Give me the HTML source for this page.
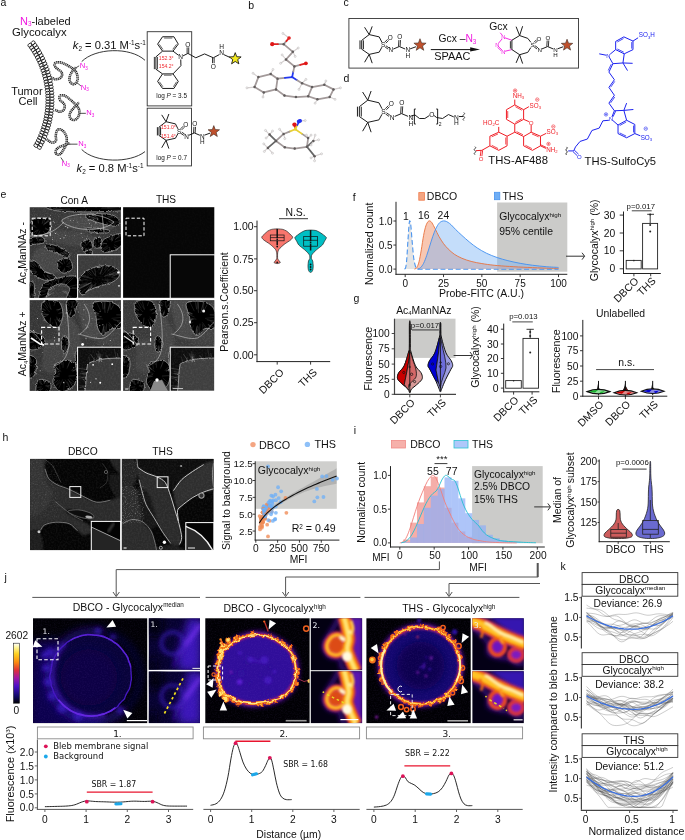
<!DOCTYPE html>
<html lang="en"><head><meta charset="utf-8"><title>Figure</title>
<style>
html,body{margin:0;padding:0;background:#fff;}
#fig{position:relative;width:685px;height:840px;overflow:hidden;background:#fff;}
svg{display:block;font-family:'Liberation Sans', sans-serif;}
text{fill:#111;}
</style></head><body>
<div id="fig"><svg width="685" height="840" viewBox="0 0 685 840">
<defs>
<filter id="mb" x="-5%" y="-5%" width="110%" height="110%"><feGaussianBlur stdDeviation="0.35"/></filter>
<filter id="nz" x="0" y="0" width="100%" height="100%"><feTurbulence type="fractalNoise" baseFrequency="0.55" numOctaves="2" seed="3" result="t"/><feColorMatrix in="t" type="matrix" values="0 0 0 0 1  0 0 0 0 1  0 0 0 0 1  1.6 0 0 0 -0.55"/></filter>
<filter id="nz2" x="0" y="0" width="100%" height="100%"><feTurbulence type="fractalNoise" baseFrequency="0.9" numOctaves="1" seed="8" result="t"/><feColorMatrix in="t" type="matrix" values="0 0 0 0 1  0 0 0 0 1  0 0 0 0 1  2.4 0 0 0 -1.25"/></filter>
<filter id="wobe" x="-10%" y="-10%" width="120%" height="120%"><feTurbulence type="fractalNoise" baseFrequency="0.3" numOctaves="2" seed="7" result="n"/><feDisplacementMap in="SourceGraphic" in2="n" scale="2.8" xChannelSelector="R" yChannelSelector="G"/><feGaussianBlur stdDeviation="0.55"/></filter>
<filter id="e05" x="-10%" y="-10%" width="120%" height="120%"><feGaussianBlur stdDeviation="0.5"/></filter>
<filter id="e1" x="-10%" y="-10%" width="120%" height="120%"><feGaussianBlur stdDeviation="0.9"/></filter>
<clipPath id="ce1"><rect x="29.7" y="207.2" width="91.2" height="90.6"/></clipPath>
<clipPath id="ce1i"><rect x="77.6" y="254.8" width="43.3" height="43"/></clipPath>
<clipPath id="ce3"><rect x="29.7" y="300.1" width="91.2" height="90.8"/></clipPath>
<clipPath id="ce3i"><rect x="77.6" y="347.2" width="43.3" height="43.7"/></clipPath>
<clipPath id="ce4"><rect x="123.1" y="300.1" width="91.2" height="90.8"/></clipPath>
<clipPath id="ce4i"><rect x="170.2" y="347.2" width="44.1" height="43.7"/></clipPath>
<clipPath id="ch1"><rect x="30.1" y="458.9" width="90.1" height="91.2"/></clipPath>
<clipPath id="ch2"><rect x="121.9" y="458.9" width="91.6" height="91.2"/></clipPath>
<linearGradient id="fire" x1="0" y1="1" x2="0" y2="0">
<stop offset="0" stop-color="#000004"/><stop offset="0.12" stop-color="#120a6a"/><stop offset="0.28" stop-color="#4a10c8"/><stop offset="0.42" stop-color="#a018a8"/><stop offset="0.55" stop-color="#e0303a"/><stop offset="0.68" stop-color="#fb8a10"/><stop offset="0.82" stop-color="#fdd020"/><stop offset="0.93" stop-color="#fff59a"/><stop offset="1" stop-color="#ffffff"/>
</linearGradient>
<filter id="b1" x="-20%" y="-20%" width="140%" height="140%"><feGaussianBlur stdDeviation="1"/></filter>
<filter id="b15" x="-20%" y="-20%" width="140%" height="140%"><feGaussianBlur stdDeviation="1.5"/></filter>
<filter id="b2" x="-20%" y="-20%" width="140%" height="140%"><feGaussianBlur stdDeviation="2.2"/></filter>
<filter id="b4" x="-30%" y="-30%" width="160%" height="160%"><feGaussianBlur stdDeviation="4.5"/></filter>
<filter id="b05" x="-20%" y="-20%" width="140%" height="140%"><feGaussianBlur stdDeviation="0.55"/></filter>
<filter id="wob" x="-10%" y="-10%" width="120%" height="120%"><feTurbulence type="fractalNoise" baseFrequency="0.17" numOctaves="2" seed="4" result="n"/><feDisplacementMap in="SourceGraphic" in2="n" scale="5" xChannelSelector="R" yChannelSelector="G"/><feGaussianBlur stdDeviation="0.45"/></filter>
<filter id="wob2" x="-10%" y="-10%" width="120%" height="120%"><feTurbulence type="fractalNoise" baseFrequency="0.2" numOctaves="2" seed="11" result="n"/><feDisplacementMap in="SourceGraphic" in2="n" scale="4" xChannelSelector="R" yChannelSelector="G"/><feGaussianBlur stdDeviation="0.45"/></filter>
<filter id="grain" x="0" y="0" width="100%" height="100%"><feTurbulence type="fractalNoise" baseFrequency="0.7" numOctaves="2" seed="2" result="t"/><feColorMatrix in="t" type="matrix" values="0 0 0 0 0.45  0 0 0 0 0.2  0 0 0 0 0.95  1.5 0 0 0 -0.6"/><feComposite in2="SourceGraphic" operator="in"/></filter>
<clipPath id="cj1"><rect x="33" y="618.3" width="114.2" height="104.8"/></clipPath>
<clipPath id="cj1a"><rect x="148.8" y="618.3" width="51.2" height="51.5"/></clipPath>
<clipPath id="cj1b"><rect x="148.8" y="671.5" width="51.2" height="51.6"/></clipPath>
<clipPath id="cj2"><rect x="205.3" y="618.3" width="104.3" height="104.8"/></clipPath>
<clipPath id="cj2a"><rect x="310.8" y="618.3" width="51.3" height="51.5"/></clipPath>
<clipPath id="cj2b"><rect x="310.8" y="671.2" width="51.3" height="51.9"/></clipPath>
<clipPath id="cj3"><rect x="366.4" y="618.3" width="104.3" height="104.8"/></clipPath>
<clipPath id="cj3a"><rect x="472.4" y="618.3" width="51.4" height="51.5"/></clipPath>
<clipPath id="cj3b"><rect x="472.4" y="671.2" width="51.4" height="51.9"/></clipPath>
</defs>
<g id="p_a">
<text x="0.6" y="5.6" font-size="10.5">a</text>
<text x="20" y="24.6" font-size="11" style="fill:#F018E0">N<tspan dy="1.8" font-size="6.4">3</tspan><tspan dy="-1.8" style="fill:#111">-labeled</tspan></text>
<text x="12" y="36" font-size="11.3">Glycocalyx</text>
<text x="11.2" y="95.2" font-size="11">Tumor</text>
<text x="18.6" y="104.6" font-size="11">Cell</text>
<ellipse cx="29.89" cy="45.19" rx="2.1" ry="1.75" fill="none" stroke="#111" stroke-width="0.75" transform="rotate(-36.48 29.89 45.19)"/>
<ellipse cx="33.11" cy="42.81" rx="2.1" ry="1.75" fill="none" stroke="#111" stroke-width="0.75" transform="rotate(-36.48 33.11 42.81)"/>
<ellipse cx="31.56" cy="47.53" rx="2.1" ry="1.75" fill="none" stroke="#111" stroke-width="0.75" transform="rotate(-34.7 31.56 47.53)"/>
<ellipse cx="34.85" cy="45.25" rx="2.1" ry="1.75" fill="none" stroke="#111" stroke-width="0.75" transform="rotate(-34.7 34.85 45.25)"/>
<ellipse cx="33.16" cy="49.91" rx="2.1" ry="1.75" fill="none" stroke="#111" stroke-width="0.75" transform="rotate(-32.91 33.16 49.91)"/>
<ellipse cx="36.52" cy="47.74" rx="2.1" ry="1.75" fill="none" stroke="#111" stroke-width="0.75" transform="rotate(-32.91 36.52 47.74)"/>
<ellipse cx="34.69" cy="52.35" rx="2.1" ry="1.75" fill="none" stroke="#111" stroke-width="0.75" transform="rotate(-31.12 34.69 52.35)"/>
<ellipse cx="38.11" cy="50.28" rx="2.1" ry="1.75" fill="none" stroke="#111" stroke-width="0.75" transform="rotate(-31.12 38.11 50.28)"/>
<ellipse cx="36.13" cy="54.83" rx="2.1" ry="1.75" fill="none" stroke="#111" stroke-width="0.75" transform="rotate(-29.33 36.13 54.83)"/>
<ellipse cx="39.62" cy="52.87" rx="2.1" ry="1.75" fill="none" stroke="#111" stroke-width="0.75" transform="rotate(-29.33 39.62 52.87)"/>
<ellipse cx="37.5" cy="57.36" rx="2.1" ry="1.75" fill="none" stroke="#111" stroke-width="0.75" transform="rotate(-27.54 37.5 57.36)"/>
<ellipse cx="41.05" cy="55.51" rx="2.1" ry="1.75" fill="none" stroke="#111" stroke-width="0.75" transform="rotate(-27.54 41.05 55.51)"/>
<ellipse cx="38.79" cy="59.93" rx="2.1" ry="1.75" fill="none" stroke="#111" stroke-width="0.75" transform="rotate(-25.76 38.79 59.93)"/>
<ellipse cx="42.39" cy="58.19" rx="2.1" ry="1.75" fill="none" stroke="#111" stroke-width="0.75" transform="rotate(-25.76 42.39 58.19)"/>
<ellipse cx="40" cy="62.53" rx="2.1" ry="1.75" fill="none" stroke="#111" stroke-width="0.75" transform="rotate(-23.97 40 62.53)"/>
<ellipse cx="43.65" cy="60.91" rx="2.1" ry="1.75" fill="none" stroke="#111" stroke-width="0.75" transform="rotate(-23.97 43.65 60.91)"/>
<ellipse cx="41.12" cy="65.18" rx="2.1" ry="1.75" fill="none" stroke="#111" stroke-width="0.75" transform="rotate(-22.18 41.12 65.18)"/>
<ellipse cx="44.83" cy="63.67" rx="2.1" ry="1.75" fill="none" stroke="#111" stroke-width="0.75" transform="rotate(-22.18 44.83 63.67)"/>
<ellipse cx="42.17" cy="67.85" rx="2.1" ry="1.75" fill="none" stroke="#111" stroke-width="0.75" transform="rotate(-20.39 42.17 67.85)"/>
<ellipse cx="45.91" cy="66.46" rx="2.1" ry="1.75" fill="none" stroke="#111" stroke-width="0.75" transform="rotate(-20.39 45.91 66.46)"/>
<ellipse cx="43.12" cy="70.56" rx="2.1" ry="1.75" fill="none" stroke="#111" stroke-width="0.75" transform="rotate(-18.6 43.12 70.56)"/>
<ellipse cx="46.92" cy="69.28" rx="2.1" ry="1.75" fill="none" stroke="#111" stroke-width="0.75" transform="rotate(-18.6 46.92 69.28)"/>
<ellipse cx="44" cy="73.3" rx="2.1" ry="1.75" fill="none" stroke="#111" stroke-width="0.75" transform="rotate(-16.82 44 73.3)"/>
<ellipse cx="47.83" cy="72.14" rx="2.1" ry="1.75" fill="none" stroke="#111" stroke-width="0.75" transform="rotate(-16.82 47.83 72.14)"/>
<ellipse cx="44.79" cy="76.06" rx="2.1" ry="1.75" fill="none" stroke="#111" stroke-width="0.75" transform="rotate(-15.03 44.79 76.06)"/>
<ellipse cx="48.65" cy="75.02" rx="2.1" ry="1.75" fill="none" stroke="#111" stroke-width="0.75" transform="rotate(-15.03 48.65 75.02)"/>
<ellipse cx="45.49" cy="78.85" rx="2.1" ry="1.75" fill="none" stroke="#111" stroke-width="0.75" transform="rotate(-13.24 45.49 78.85)"/>
<ellipse cx="49.38" cy="77.93" rx="2.1" ry="1.75" fill="none" stroke="#111" stroke-width="0.75" transform="rotate(-13.24 49.38 77.93)"/>
<ellipse cx="46.1" cy="81.65" rx="2.1" ry="1.75" fill="none" stroke="#111" stroke-width="0.75" transform="rotate(-11.45 46.1 81.65)"/>
<ellipse cx="50.02" cy="80.86" rx="2.1" ry="1.75" fill="none" stroke="#111" stroke-width="0.75" transform="rotate(-11.45 50.02 80.86)"/>
<ellipse cx="46.63" cy="84.48" rx="2.1" ry="1.75" fill="none" stroke="#111" stroke-width="0.75" transform="rotate(-9.66 46.63 84.48)"/>
<ellipse cx="50.57" cy="83.81" rx="2.1" ry="1.75" fill="none" stroke="#111" stroke-width="0.75" transform="rotate(-9.66 50.57 83.81)"/>
<ellipse cx="47.07" cy="87.32" rx="2.1" ry="1.75" fill="none" stroke="#111" stroke-width="0.75" transform="rotate(-7.88 47.07 87.32)"/>
<ellipse cx="51.03" cy="86.77" rx="2.1" ry="1.75" fill="none" stroke="#111" stroke-width="0.75" transform="rotate(-7.88 51.03 86.77)"/>
<ellipse cx="47.42" cy="90.17" rx="2.1" ry="1.75" fill="none" stroke="#111" stroke-width="0.75" transform="rotate(-6.09 47.42 90.17)"/>
<ellipse cx="51.39" cy="89.74" rx="2.1" ry="1.75" fill="none" stroke="#111" stroke-width="0.75" transform="rotate(-6.09 51.39 89.74)"/>
<ellipse cx="47.68" cy="93.03" rx="2.1" ry="1.75" fill="none" stroke="#111" stroke-width="0.75" transform="rotate(-4.3 47.68 93.03)"/>
<ellipse cx="51.66" cy="92.73" rx="2.1" ry="1.75" fill="none" stroke="#111" stroke-width="0.75" transform="rotate(-4.3 51.66 92.73)"/>
<ellipse cx="47.85" cy="95.9" rx="2.1" ry="1.75" fill="none" stroke="#111" stroke-width="0.75" transform="rotate(-2.51 47.85 95.9)"/>
<ellipse cx="51.84" cy="95.72" rx="2.1" ry="1.75" fill="none" stroke="#111" stroke-width="0.75" transform="rotate(-2.51 51.84 95.72)"/>
<ellipse cx="47.93" cy="98.77" rx="2.1" ry="1.75" fill="none" stroke="#111" stroke-width="0.75" transform="rotate(-0.72 47.93 98.77)"/>
<ellipse cx="51.93" cy="98.72" rx="2.1" ry="1.75" fill="none" stroke="#111" stroke-width="0.75" transform="rotate(-0.72 51.93 98.72)"/>
<ellipse cx="47.92" cy="101.64" rx="2.1" ry="1.75" fill="none" stroke="#111" stroke-width="0.75" transform="rotate(1.06 47.92 101.64)"/>
<ellipse cx="51.92" cy="101.72" rx="2.1" ry="1.75" fill="none" stroke="#111" stroke-width="0.75" transform="rotate(1.06 51.92 101.72)"/>
<ellipse cx="47.82" cy="104.51" rx="2.1" ry="1.75" fill="none" stroke="#111" stroke-width="0.75" transform="rotate(2.85 47.82 104.51)"/>
<ellipse cx="51.82" cy="104.71" rx="2.1" ry="1.75" fill="none" stroke="#111" stroke-width="0.75" transform="rotate(2.85 51.82 104.71)"/>
<ellipse cx="47.63" cy="107.38" rx="2.1" ry="1.75" fill="none" stroke="#111" stroke-width="0.75" transform="rotate(4.64 47.63 107.38)"/>
<ellipse cx="51.62" cy="107.7" rx="2.1" ry="1.75" fill="none" stroke="#111" stroke-width="0.75" transform="rotate(4.64 51.62 107.7)"/>
<ellipse cx="47.36" cy="110.24" rx="2.1" ry="1.75" fill="none" stroke="#111" stroke-width="0.75" transform="rotate(6.43 47.36 110.24)"/>
<ellipse cx="51.33" cy="110.69" rx="2.1" ry="1.75" fill="none" stroke="#111" stroke-width="0.75" transform="rotate(6.43 51.33 110.69)"/>
<ellipse cx="46.99" cy="113.09" rx="2.1" ry="1.75" fill="none" stroke="#111" stroke-width="0.75" transform="rotate(8.22 46.99 113.09)"/>
<ellipse cx="50.95" cy="113.66" rx="2.1" ry="1.75" fill="none" stroke="#111" stroke-width="0.75" transform="rotate(8.22 50.95 113.66)"/>
<ellipse cx="46.54" cy="115.93" rx="2.1" ry="1.75" fill="none" stroke="#111" stroke-width="0.75" transform="rotate(10 46.54 115.93)"/>
<ellipse cx="50.47" cy="116.62" rx="2.1" ry="1.75" fill="none" stroke="#111" stroke-width="0.75" transform="rotate(10 50.47 116.62)"/>
<ellipse cx="45.99" cy="118.75" rx="2.1" ry="1.75" fill="none" stroke="#111" stroke-width="0.75" transform="rotate(11.79 45.99 118.75)"/>
<ellipse cx="49.91" cy="119.57" rx="2.1" ry="1.75" fill="none" stroke="#111" stroke-width="0.75" transform="rotate(11.79 49.91 119.57)"/>
<ellipse cx="45.36" cy="121.55" rx="2.1" ry="1.75" fill="none" stroke="#111" stroke-width="0.75" transform="rotate(13.58 45.36 121.55)"/>
<ellipse cx="49.25" cy="122.49" rx="2.1" ry="1.75" fill="none" stroke="#111" stroke-width="0.75" transform="rotate(13.58 49.25 122.49)"/>
<ellipse cx="44.64" cy="124.33" rx="2.1" ry="1.75" fill="none" stroke="#111" stroke-width="0.75" transform="rotate(15.37 44.64 124.33)"/>
<ellipse cx="48.5" cy="125.39" rx="2.1" ry="1.75" fill="none" stroke="#111" stroke-width="0.75" transform="rotate(15.37 48.5 125.39)"/>
<ellipse cx="43.84" cy="127.09" rx="2.1" ry="1.75" fill="none" stroke="#111" stroke-width="0.75" transform="rotate(17.16 43.84 127.09)"/>
<ellipse cx="47.66" cy="128.27" rx="2.1" ry="1.75" fill="none" stroke="#111" stroke-width="0.75" transform="rotate(17.16 47.66 128.27)"/>
<ellipse cx="42.95" cy="129.82" rx="2.1" ry="1.75" fill="none" stroke="#111" stroke-width="0.75" transform="rotate(18.94 42.95 129.82)"/>
<ellipse cx="46.73" cy="131.12" rx="2.1" ry="1.75" fill="none" stroke="#111" stroke-width="0.75" transform="rotate(18.94 46.73 131.12)"/>
<ellipse cx="41.97" cy="132.52" rx="2.1" ry="1.75" fill="none" stroke="#111" stroke-width="0.75" transform="rotate(20.73 41.97 132.52)"/>
<ellipse cx="45.71" cy="133.94" rx="2.1" ry="1.75" fill="none" stroke="#111" stroke-width="0.75" transform="rotate(20.73 45.71 133.94)"/>
<ellipse cx="40.91" cy="135.2" rx="2.1" ry="1.75" fill="none" stroke="#111" stroke-width="0.75" transform="rotate(22.52 40.91 135.2)"/>
<ellipse cx="44.61" cy="136.73" rx="2.1" ry="1.75" fill="none" stroke="#111" stroke-width="0.75" transform="rotate(22.52 44.61 136.73)"/>
<ellipse cx="39.77" cy="137.83" rx="2.1" ry="1.75" fill="none" stroke="#111" stroke-width="0.75" transform="rotate(24.31 39.77 137.83)"/>
<ellipse cx="43.42" cy="139.48" rx="2.1" ry="1.75" fill="none" stroke="#111" stroke-width="0.75" transform="rotate(24.31 43.42 139.48)"/>
<ellipse cx="38.55" cy="140.43" rx="2.1" ry="1.75" fill="none" stroke="#111" stroke-width="0.75" transform="rotate(26.1 38.55 140.43)"/>
<ellipse cx="42.14" cy="142.19" rx="2.1" ry="1.75" fill="none" stroke="#111" stroke-width="0.75" transform="rotate(26.1 42.14 142.19)"/>
<ellipse cx="37.25" cy="142.99" rx="2.1" ry="1.75" fill="none" stroke="#111" stroke-width="0.75" transform="rotate(27.88 37.25 142.99)"/>
<ellipse cx="40.78" cy="144.86" rx="2.1" ry="1.75" fill="none" stroke="#111" stroke-width="0.75" transform="rotate(27.88 40.78 144.86)"/>
<ellipse cx="35.86" cy="145.51" rx="2.1" ry="1.75" fill="none" stroke="#111" stroke-width="0.75" transform="rotate(29.67 35.86 145.51)"/>
<ellipse cx="39.34" cy="147.49" rx="2.1" ry="1.75" fill="none" stroke="#111" stroke-width="0.75" transform="rotate(29.67 39.34 147.49)"/>
<path d="M50.83 77.5 C51.83 77.83 53.83 79.17 55.83 79.17 C57.83 79.17 59.67 78.83 60.83 77.5 C62 76.17 62.67 74.5 61.67 72.5 C60.67 70.5 57.17 69.33 55.83 67.5 C54.5 65.67 54 64.33 55 63.33 C56 62.33 58.17 62 60.83 62.5 C63.5 63 65.83 64.5 68.33 65.83 C70.83 67.17 71.67 67.67 73.33 69.17 C75 70.67 75.83 71.17 76.67 73.33 C77.5 75.5 78 77.83 77.5 80 C77 82.17 75.67 83.83 74.17 84.17 C72.67 84.5 70.83 83.33 70 81.67 C69.17 80 69.33 78.17 70 75.83 C70.67 73.5 72.17 71.67 73.33 70 C74.5 68.33 75.33 68 75.83 67.5" fill="none" stroke="#1a1a1a" stroke-width="2.5" stroke-dasharray="1.3 0.55" stroke-linecap="butt"/>
<path d="M50.83 77.5 C51.83 77.83 53.83 79.17 55.83 79.17 C57.83 79.17 59.67 78.83 60.83 77.5 C62 76.17 62.67 74.5 61.67 72.5 C60.67 70.5 57.17 69.33 55.83 67.5 C54.5 65.67 54 64.33 55 63.33 C56 62.33 58.17 62 60.83 62.5 C63.5 63 65.83 64.5 68.33 65.83 C70.83 67.17 71.67 67.67 73.33 69.17 C75 70.67 75.83 71.17 76.67 73.33 C77.5 75.5 78 77.83 77.5 80 C77 82.17 75.67 83.83 74.17 84.17 C72.67 84.5 70.83 83.33 70 81.67 C69.17 80 69.33 78.17 70 75.83 C70.67 73.5 72.17 71.67 73.33 70 C74.5 68.33 75.33 68 75.83 67.5" fill="none" stroke="#fff" stroke-width="0.5" stroke-opacity="0.8"/>
<path d="M55 110 C56 110.33 58.17 111.83 60 111.67 C61.83 111.5 63.33 110.67 64.17 109.17 C65 107.67 65 106 64.17 104.17 C63.33 102.33 60.83 101.67 60 100 C59.17 98.33 59 96.67 60 95.83 C61 95 62.67 94.83 65 95.83 C67.33 96.83 69.5 99 71.67 100.83 C73.83 102.67 74.33 103.17 75.83 105 C77.33 106.83 78.67 107.67 79.17 110 C79.67 112.33 79.33 114.67 78.33 116.67 C77.33 118.67 75.83 119.83 74.17 120 C72.5 120.17 70.67 119.17 70 117.5 C69.33 115.83 69.5 114.17 70.83 111.67 C72.17 109.17 75 106.83 76.67 105 C78.33 103.17 78.67 103 79.17 102.5" fill="none" stroke="#1a1a1a" stroke-width="2.5" stroke-dasharray="1.3 0.55" stroke-linecap="butt"/>
<path d="M55 110 C56 110.33 58.17 111.83 60 111.67 C61.83 111.5 63.33 110.67 64.17 109.17 C65 107.67 65 106 64.17 104.17 C63.33 102.33 60.83 101.67 60 100 C59.17 98.33 59 96.67 60 95.83 C61 95 62.67 94.83 65 95.83 C67.33 96.83 69.5 99 71.67 100.83 C73.83 102.67 74.33 103.17 75.83 105 C77.33 106.83 78.67 107.67 79.17 110 C79.67 112.33 79.33 114.67 78.33 116.67 C77.33 118.67 75.83 119.83 74.17 120 C72.5 120.17 70.67 119.17 70 117.5 C69.33 115.83 69.5 114.17 70.83 111.67 C72.17 109.17 75 106.83 76.67 105 C78.33 103.17 78.67 103 79.17 102.5" fill="none" stroke="#fff" stroke-width="0.5" stroke-opacity="0.8"/>
<path d="M46.67 139.17 C47.67 139.83 49.83 142.17 51.67 142.5 C53.5 142.83 55 142.33 55.83 140.83 C56.67 139.33 55.5 137.17 55.83 135 C56.17 132.83 56.33 131 57.5 130 C58.67 129 60 129 61.67 130 C63.33 131 64.83 132.5 65.83 135 C66.83 137.5 67 139.83 66.67 142.5 C66.33 145.17 65.5 146 64.17 148.33 C62.83 150.67 61.67 153.17 60 154.17 C58.33 155.17 56.33 154.5 55.83 153.33 C55.33 152.17 55.33 150.17 57.5 148.33 C59.67 146.5 64.17 145.17 66.67 144.17 C69.17 143.17 69.33 143.5 70 143.33" fill="none" stroke="#1a1a1a" stroke-width="2.5" stroke-dasharray="1.3 0.55" stroke-linecap="butt"/>
<path d="M46.67 139.17 C47.67 139.83 49.83 142.17 51.67 142.5 C53.5 142.83 55 142.33 55.83 140.83 C56.67 139.33 55.5 137.17 55.83 135 C56.17 132.83 56.33 131 57.5 130 C58.67 129 60 129 61.67 130 C63.33 131 64.83 132.5 65.83 135 C66.83 137.5 67 139.83 66.67 142.5 C66.33 145.17 65.5 146 64.17 148.33 C62.83 150.67 61.67 153.17 60 154.17 C58.33 155.17 56.33 154.5 55.83 153.33 C55.33 152.17 55.33 150.17 57.5 148.33 C59.67 146.5 64.17 145.17 66.67 144.17 C69.17 143.17 69.33 143.5 70 143.33" fill="none" stroke="#fff" stroke-width="0.5" stroke-opacity="0.8"/>
<line x1="75" y1="68.33" x2="79.17" y2="65.83" stroke="#222" stroke-width="0.8"/>
<text x="79.67" y="68.33" font-size="7.6" style="fill:#F010E0">N<tspan dy="1.4" font-size="4.6">3</tspan></text>
<line x1="76.67" y1="82.5" x2="80.83" y2="85.83" stroke="#222" stroke-width="0.8"/>
<text x="80.83" y="90" font-size="7.6" style="fill:#F010E0">N<tspan dy="1.4" font-size="4.6">3</tspan></text>
<line x1="79.17" y1="113.33" x2="85.83" y2="113.33" stroke="#222" stroke-width="0.8"/>
<text x="86.33" y="115.33" font-size="7.6" style="fill:#F010E0">N<tspan dy="1.4" font-size="4.6">3</tspan></text>
<line x1="67.5" y1="144.17" x2="77.5" y2="144.17" stroke="#222" stroke-width="0.8"/>
<text x="78.33" y="146.17" font-size="7.6" style="fill:#F010E0">N<tspan dy="1.4" font-size="4.6">3</tspan></text>
<line x1="60.83" y1="157.5" x2="63.67" y2="161.67" stroke="#222" stroke-width="0.8"/>
<text x="61.67" y="165.83" font-size="7.6" style="fill:#F010E0">N<tspan dy="1.4" font-size="4.6">3</tspan></text>
<path d="M81.7 61.6 C95 48 130 46.5 145 60.3" fill="none" stroke="#222" stroke-width="0.9"/>
<path d="M81.7 149.5 C95 163 130 163.5 145 151.6" fill="none" stroke="#222" stroke-width="0.9"/>
<text x="72.8" y="49" font-size="11.2"><tspan font-style="italic">k</tspan><tspan dy="2" font-size="6.4">2</tspan><tspan dy="-2"> = 0.31 M</tspan><tspan dy="-3.6" font-size="6.4">-1</tspan><tspan dy="3.6">s</tspan><tspan dy="-3.6" font-size="6.4">-1</tspan></text>
<text x="76.6" y="171.8" font-size="11.2"><tspan font-style="italic">k</tspan><tspan dy="2" font-size="6.4">2</tspan><tspan dy="-2"> = 0.8 M</tspan><tspan dy="-3.6" font-size="6.4">-1</tspan><tspan dy="3.6">s</tspan><tspan dy="-3.6" font-size="6.4">-1</tspan></text>
<rect x="147.2" y="31.7" width="44.5" height="74.2" fill="none" stroke="#333" stroke-width="0.9"/>
<rect x="147.2" y="108.2" width="44.3" height="57.7" fill="none" stroke="#333" stroke-width="0.9"/>
<path d="M162.52 36.76 L173.91 36.76 L178.29 44.12 L173.03 51.13 L162.52 51.13 L157.61 44.12Z" fill="none" stroke="#111" stroke-width="0.95"/>
<line x1="164.11" y1="38.06" x2="172.31" y2="38.06" stroke="#222" stroke-width="0.7"/>
<line x1="176.51" y1="44.32" x2="172.73" y2="49.36" stroke="#222" stroke-width="0.7"/>
<line x1="162.9" y1="49.4" x2="159.37" y2="44.35" stroke="#222" stroke-width="0.7"/>
<path d="M162.52 73.9 L173.03 73.9 L178.29 81.43 L173.91 88.44 L162.52 88.44 L157.61 81.43Z" fill="none" stroke="#111" stroke-width="0.95"/>
<line x1="163.99" y1="75.2" x2="171.56" y2="75.2" stroke="#222" stroke-width="0.7"/>
<line x1="176.57" y1="81.73" x2="173.42" y2="86.77" stroke="#222" stroke-width="0.7"/>
<line x1="162.9" y1="86.71" x2="159.37" y2="81.67" stroke="#222" stroke-width="0.7"/>
<line x1="162.52" y1="51.13" x2="155.86" y2="56.91" stroke="#111" stroke-width="0.95"/>
<line x1="155.86" y1="69.17" x2="162.52" y2="73.9" stroke="#111" stroke-width="0.95"/>
<line x1="154.36" y1="56.91" x2="154.36" y2="69.17" stroke="#111" stroke-width="0.85"/>
<line x1="155.86" y1="56.91" x2="155.86" y2="69.17" stroke="#111" stroke-width="0.85"/>
<line x1="157.36" y1="56.91" x2="157.36" y2="69.17" stroke="#111" stroke-width="0.85"/>
<line x1="173.03" y1="51.13" x2="178.56" y2="55.31" stroke="#111" stroke-width="0.95"/>
<line x1="180.76" y1="59.51" x2="180.91" y2="65.67" stroke="#111" stroke-width="0.95"/>
<line x1="180.91" y1="65.67" x2="173.03" y2="73.9" stroke="#111" stroke-width="0.95"/>
<text x="180.56" y="59.31" font-size="6.6" text-anchor="middle">N</text>
<line x1="182.96" y1="55.91" x2="187.92" y2="53.4" stroke="#111" stroke-width="0.95"/>
<path d="M187.92 53.4 L195.81 57.78 L204.57 53.93 L213.33 57.78 L219.28 54.63" fill="none" stroke="#111" stroke-width="0.95"/>
<line x1="187.12" y1="53.4" x2="187.12" y2="47.4" stroke="#111" stroke-width="0.85"/>
<line x1="212.53" y1="57.78" x2="212.53" y2="63.18" stroke="#111" stroke-width="0.85"/>
<line x1="188.72" y1="53.4" x2="188.72" y2="47.4" stroke="#111" stroke-width="0.85"/>
<line x1="214.13" y1="57.78" x2="214.13" y2="63.18" stroke="#111" stroke-width="0.85"/>
<text x="187.92" y="46.92" font-size="6.6" text-anchor="middle">O</text>
<text x="213.33" y="68.64" font-size="6.6" text-anchor="middle">O</text>
<text x="221.56" y="55.15" font-size="6.6" text-anchor="middle">N</text>
<text x="221.56" y="49.37" font-size="6.6" text-anchor="middle">H</text>
<line x1="223.84" y1="54.63" x2="229.97" y2="57.43" stroke="#111" stroke-width="0.95"/>
<path d="M235.22 52.63 L236.75 56.73 L241.12 56.92 L237.7 59.64 L238.87 63.85 L235.22 61.44 L231.58 63.85 L232.75 59.64 L229.33 56.92 L233.69 56.73Z" fill="#F4EA1E" stroke="#111" stroke-width="0.85" stroke-linejoin="miter"/>
<text x="158.8" y="59.5" font-size="5.1" style="fill:#F0282E">152.3°</text>
<text x="158.8" y="67.7" font-size="5.1" style="fill:#F0282E">154.2°</text>
<text x="171.6" y="97.8" font-size="6.4" text-anchor="middle">log <tspan font-style="italic">P</tspan> = 3.5</text>
<line x1="175.44" y1="123.87" x2="166.04" y2="121.71" stroke="#111" stroke-width="0.95"/><line x1="166.04" y1="121.71" x2="161.72" y2="114.85" stroke="#111" stroke-width="0.95"/><line x1="166.04" y1="121.71" x2="168.86" y2="114" stroke="#111" stroke-width="0.95"/><line x1="166.04" y1="121.71" x2="158.99" y2="127.16" stroke="#111" stroke-width="0.95"/><line x1="158.99" y1="135.44" x2="166.04" y2="140.32" stroke="#111" stroke-width="0.95"/><line x1="166.04" y1="140.32" x2="161.72" y2="147.75" stroke="#111" stroke-width="0.95"/><line x1="166.04" y1="140.32" x2="168.86" y2="148.6" stroke="#111" stroke-width="0.95"/><line x1="166.04" y1="140.32" x2="175.44" y2="138.26" stroke="#111" stroke-width="0.95"/><line x1="175.44" y1="123.87" x2="178" y2="128.92" stroke="#111" stroke-width="0.95"/><line x1="175.44" y1="138.26" x2="178" y2="133.53" stroke="#111" stroke-width="0.95"/><line x1="157.39" y1="127.16" x2="157.39" y2="135.44" stroke="#111" stroke-width="0.95"/><line x1="158.99" y1="127.16" x2="158.99" y2="135.44" stroke="#111" stroke-width="0.95"/><line x1="160.59" y1="127.16" x2="160.59" y2="135.44" stroke="#111" stroke-width="0.95"/><line x1="181.7" y1="129.86" x2="184.34" y2="127.22" stroke="#111" stroke-width="0.85"/><line x1="180.64" y1="128.8" x2="183.28" y2="126.16" stroke="#111" stroke-width="0.85"/><line x1="180.95" y1="133.41" x2="183.84" y2="135.41" stroke="#111" stroke-width="0.85"/><line x1="181.8" y1="132.18" x2="184.69" y2="134.17" stroke="#111" stroke-width="0.85"/><line x1="188.65" y1="135.35" x2="194.33" y2="132.95" stroke="#111" stroke-width="0.95"/><line x1="193.53" y1="132.95" x2="193.91" y2="126.88" stroke="#111" stroke-width="0.85"/><line x1="195.13" y1="132.95" x2="195.51" y2="126.88" stroke="#111" stroke-width="0.85"/><line x1="194.33" y1="132.95" x2="199.86" y2="135.28" stroke="#111" stroke-width="0.95"/><text x="179.2" y="133.6" font-size="6.4" text-anchor="middle">S</text><text x="185.78" y="127.02" font-size="6.4" text-anchor="middle">O</text><text x="186.44" y="138.59" font-size="6.4" text-anchor="middle">N</text><text x="194.71" y="126.18" font-size="6.4" text-anchor="middle">O</text><text x="202.23" y="138.59" font-size="6.4" text-anchor="middle">N</text><text x="202.23" y="143.85" font-size="6.4" text-anchor="middle">H</text><line x1="204.49" y1="135.15" x2="210.03" y2="133.13" stroke="#111" stroke-width="0.95"/><path d="M213.79 125.61 L215.28 129.58 L219.51 129.77 L216.2 132.41 L217.33 136.5 L213.79 134.16 L210.26 136.5 L211.39 132.41 L208.07 129.77 L212.31 129.58Z" fill="#C0502C" stroke="#3a2a20" stroke-width="0.6" stroke-linejoin="miter"/>
<text x="161" y="129" font-size="5.1" style="fill:#F0282E">151.0°</text>
<text x="161" y="138.2" font-size="5.1" style="fill:#F0282E">151.4°</text>
<text x="171.6" y="159.8" font-size="6.4" text-anchor="middle">log <tspan font-style="italic">P</tspan> = 0.7</text>
</g>
<g id="p_bcd">
<text x="248.2" y="9.3" font-size="10.5">b</text>
<text x="343.6" y="5.6" font-size="10.5">c</text>
<text x="343.4" y="82.4" font-size="10.5">d</text>
<g filter="url(#mb)">
<line x1="258.39" y1="77.12" x2="270.66" y2="74.05" stroke="#a39a9a" stroke-width="1.75" stroke-linecap="round"/>
<line x1="270.66" y1="74.05" x2="277.55" y2="78.65" stroke="#a39a9a" stroke-width="1.75" stroke-linecap="round"/>
<line x1="277.55" y1="78.65" x2="276.02" y2="89.38" stroke="#a39a9a" stroke-width="1.75" stroke-linecap="round"/>
<line x1="276.02" y1="89.38" x2="263.76" y2="92.44" stroke="#a39a9a" stroke-width="1.75" stroke-linecap="round"/>
<line x1="263.76" y1="92.44" x2="254.56" y2="87.08" stroke="#a39a9a" stroke-width="1.75" stroke-linecap="round"/>
<line x1="254.56" y1="87.08" x2="258.39" y2="77.12" stroke="#a39a9a" stroke-width="1.75" stroke-linecap="round"/>
<line x1="308.21" y1="96.28" x2="312.04" y2="87.08" stroke="#a39a9a" stroke-width="1.75" stroke-linecap="round"/>
<line x1="312.04" y1="87.08" x2="324.3" y2="84.78" stroke="#a39a9a" stroke-width="1.75" stroke-linecap="round"/>
<line x1="324.3" y1="84.78" x2="333.5" y2="89.38" stroke="#a39a9a" stroke-width="1.75" stroke-linecap="round"/>
<line x1="333.5" y1="89.38" x2="329.67" y2="97.04" stroke="#a39a9a" stroke-width="1.75" stroke-linecap="round"/>
<line x1="329.67" y1="97.04" x2="317.41" y2="99.34" stroke="#a39a9a" stroke-width="1.75" stroke-linecap="round"/>
<line x1="317.41" y1="99.34" x2="308.21" y2="96.28" stroke="#a39a9a" stroke-width="1.75" stroke-linecap="round"/>
<line x1="276.02" y1="89.38" x2="284.45" y2="95.51" stroke="#a39a9a" stroke-width="1.75" stroke-linecap="round"/>
<line x1="284.45" y1="95.51" x2="295.95" y2="97.04" stroke="#a39a9a" stroke-width="1.75" stroke-linecap="round"/>
<line x1="295.95" y1="97.04" x2="308.21" y2="96.28" stroke="#a39a9a" stroke-width="1.75" stroke-linecap="round"/>
<line x1="277.55" y1="78.65" x2="284.83" y2="77.88" stroke="#a39a9a" stroke-width="1.75" stroke-linecap="round"/><line x1="284.83" y1="77.88" x2="292.12" y2="77.12" stroke="#2438F0" stroke-width="1.75" stroke-linecap="round"/>
<line x1="292.12" y1="77.12" x2="297.1" y2="80.18" stroke="#2438F0" stroke-width="1.75" stroke-linecap="round"/><line x1="297.1" y1="80.18" x2="302.08" y2="83.25" stroke="#a39a9a" stroke-width="1.75" stroke-linecap="round"/>
<line x1="302.08" y1="83.25" x2="312.04" y2="87.08" stroke="#a39a9a" stroke-width="1.75" stroke-linecap="round"/>
<line x1="292.12" y1="77.12" x2="293.26" y2="71.75" stroke="#2438F0" stroke-width="1.75" stroke-linecap="round"/><line x1="293.26" y1="71.75" x2="294.41" y2="66.39" stroke="#a39a9a" stroke-width="1.75" stroke-linecap="round"/>
<line x1="294.41" y1="66.39" x2="300.16" y2="64.85" stroke="#a39a9a" stroke-width="1.75" stroke-linecap="round"/><line x1="300.16" y1="64.85" x2="305.91" y2="63.32" stroke="#E02020" stroke-width="1.75" stroke-linecap="round"/>
<line x1="294.41" y1="66.39" x2="285.98" y2="59.49" stroke="#a39a9a" stroke-width="1.75" stroke-linecap="round"/>
<line x1="285.98" y1="59.49" x2="292.88" y2="51.82" stroke="#a39a9a" stroke-width="1.75" stroke-linecap="round"/>
<line x1="292.88" y1="51.82" x2="283.68" y2="44.16" stroke="#a39a9a" stroke-width="1.75" stroke-linecap="round"/>
<line x1="283.68" y1="44.16" x2="277.94" y2="44.16" stroke="#a39a9a" stroke-width="1.75" stroke-linecap="round"/><line x1="277.94" y1="44.16" x2="272.19" y2="44.16" stroke="#E02020" stroke-width="1.75" stroke-linecap="round"/>
<line x1="283.68" y1="44.16" x2="286.37" y2="41.09" stroke="#a39a9a" stroke-width="1.75" stroke-linecap="round"/><line x1="286.37" y1="41.09" x2="289.05" y2="38.03" stroke="#E02020" stroke-width="1.75" stroke-linecap="round"/>
<line x1="289.05" y1="38.03" x2="282.92" y2="33.43" stroke="#d4cfcf" stroke-width="1.1" stroke-linecap="round"/><circle cx="282.92" cy="33.43" r="1.05" fill="#f0eeee" stroke="#a8a4a4" stroke-width="0.35"/>
<line x1="258.39" y1="77.12" x2="253.03" y2="73.28" stroke="#d4cfcf" stroke-width="1.1" stroke-linecap="round"/><circle cx="253.03" cy="73.28" r="1.05" fill="#f0eeee" stroke="#a8a4a4" stroke-width="0.35"/>
<line x1="270.66" y1="74.05" x2="272.96" y2="69.45" stroke="#d4cfcf" stroke-width="1.1" stroke-linecap="round"/><circle cx="272.96" cy="69.45" r="1.05" fill="#f0eeee" stroke="#a8a4a4" stroke-width="0.35"/>
<line x1="254.56" y1="87.08" x2="246.9" y2="87.84" stroke="#d4cfcf" stroke-width="1.1" stroke-linecap="round"/><circle cx="246.9" cy="87.84" r="1.05" fill="#f0eeee" stroke="#a8a4a4" stroke-width="0.35"/>
<line x1="263.76" y1="92.44" x2="262.99" y2="97.04" stroke="#d4cfcf" stroke-width="1.1" stroke-linecap="round"/><circle cx="262.99" cy="97.04" r="1.05" fill="#f0eeee" stroke="#a8a4a4" stroke-width="0.35"/>
<line x1="324.3" y1="84.78" x2="325.84" y2="80.95" stroke="#d4cfcf" stroke-width="1.1" stroke-linecap="round"/><circle cx="325.84" cy="80.95" r="1.05" fill="#f0eeee" stroke="#a8a4a4" stroke-width="0.35"/>
<line x1="333.5" y1="89.38" x2="340.4" y2="87.84" stroke="#d4cfcf" stroke-width="1.1" stroke-linecap="round"/><circle cx="340.4" cy="87.84" r="1.05" fill="#f0eeee" stroke="#a8a4a4" stroke-width="0.35"/>
<line x1="329.67" y1="97.04" x2="335.03" y2="99.34" stroke="#d4cfcf" stroke-width="1.1" stroke-linecap="round"/><circle cx="335.03" cy="99.34" r="1.05" fill="#f0eeee" stroke="#a8a4a4" stroke-width="0.35"/>
<line x1="317.41" y1="99.34" x2="315.11" y2="103.17" stroke="#d4cfcf" stroke-width="1.1" stroke-linecap="round"/><circle cx="315.11" cy="103.17" r="1.05" fill="#f0eeee" stroke="#a8a4a4" stroke-width="0.35"/>
<line x1="302.08" y1="83.25" x2="305.91" y2="79.41" stroke="#d4cfcf" stroke-width="1.1" stroke-linecap="round"/><circle cx="305.91" cy="79.41" r="1.05" fill="#f0eeee" stroke="#a8a4a4" stroke-width="0.35"/>
<line x1="302.08" y1="83.25" x2="299.01" y2="89.38" stroke="#d4cfcf" stroke-width="1.1" stroke-linecap="round"/><circle cx="299.01" cy="89.38" r="1.05" fill="#f0eeee" stroke="#a8a4a4" stroke-width="0.35"/>
<line x1="285.98" y1="59.49" x2="280.62" y2="63.32" stroke="#d4cfcf" stroke-width="1.1" stroke-linecap="round"/><circle cx="280.62" cy="63.32" r="1.05" fill="#f0eeee" stroke="#a8a4a4" stroke-width="0.35"/>
<line x1="285.98" y1="59.49" x2="282.15" y2="54.89" stroke="#d4cfcf" stroke-width="1.1" stroke-linecap="round"/><circle cx="282.15" cy="54.89" r="1.05" fill="#f0eeee" stroke="#a8a4a4" stroke-width="0.35"/>
<line x1="292.88" y1="51.82" x2="298.25" y2="47.99" stroke="#d4cfcf" stroke-width="1.1" stroke-linecap="round"/><circle cx="298.25" cy="47.99" r="1.05" fill="#f0eeee" stroke="#a8a4a4" stroke-width="0.35"/>
<line x1="292.88" y1="51.82" x2="295.18" y2="56.42" stroke="#d4cfcf" stroke-width="1.1" stroke-linecap="round"/><circle cx="295.18" cy="56.42" r="1.05" fill="#f0eeee" stroke="#a8a4a4" stroke-width="0.35"/>
<circle cx="258.39" cy="77.12" r="1.25" fill="#605c5c"/>
<circle cx="270.66" cy="74.05" r="1.25" fill="#605c5c"/>
<circle cx="277.55" cy="78.65" r="1.25" fill="#605c5c"/>
<circle cx="276.02" cy="89.38" r="1.25" fill="#605c5c"/>
<circle cx="263.76" cy="92.44" r="1.25" fill="#605c5c"/>
<circle cx="254.56" cy="87.08" r="1.25" fill="#605c5c"/>
<circle cx="308.21" cy="96.28" r="1.25" fill="#605c5c"/>
<circle cx="312.04" cy="87.08" r="1.25" fill="#605c5c"/>
<circle cx="324.3" cy="84.78" r="1.25" fill="#605c5c"/>
<circle cx="333.5" cy="89.38" r="1.25" fill="#605c5c"/>
<circle cx="329.67" cy="97.04" r="1.25" fill="#605c5c"/>
<circle cx="317.41" cy="99.34" r="1.25" fill="#605c5c"/>
<circle cx="284.45" cy="95.51" r="1.25" fill="#605c5c"/>
<circle cx="295.95" cy="97.04" r="1.25" fill="#605c5c"/>
<circle cx="302.08" cy="83.25" r="1.25" fill="#605c5c"/>
<circle cx="294.41" cy="66.39" r="1.25" fill="#605c5c"/>
<circle cx="285.98" cy="59.49" r="1.25" fill="#605c5c"/>
<circle cx="292.88" cy="51.82" r="1.25" fill="#605c5c"/>
<circle cx="283.68" cy="44.16" r="1.25" fill="#605c5c"/>
<circle cx="272.19" cy="44.16" r="2.1" fill="#E01818"/>
<circle cx="305.91" cy="63.32" r="1.9" fill="#E01818"/>
<circle cx="289.05" cy="38.03" r="1.8" fill="#E42828"/>
<circle cx="292.12" cy="77.12" r="1.2" fill="#2438F0"/>
<line x1="295.29" y1="129.27" x2="289.45" y2="131.61" stroke="#E8D030" stroke-width="1.7" stroke-linecap="round"/><line x1="289.45" y1="131.61" x2="283.61" y2="133.94" stroke="#a39a9a" stroke-width="1.7" stroke-linecap="round"/>
<line x1="283.61" y1="133.94" x2="276.02" y2="140.95" stroke="#a39a9a" stroke-width="1.75" stroke-linecap="round"/>
<line x1="276.02" y1="140.95" x2="269.6" y2="134.53" stroke="#666" stroke-width="1.75" stroke-linecap="round"/>
<line x1="276.02" y1="140.95" x2="267.85" y2="147.96" stroke="#666" stroke-width="1.75" stroke-linecap="round"/>
<line x1="276.02" y1="140.95" x2="284.78" y2="147.37" stroke="#a39a9a" stroke-width="1.75" stroke-linecap="round"/>
<line x1="284.78" y1="147.37" x2="294.71" y2="148.54" stroke="#a39a9a" stroke-width="1.75" stroke-linecap="round"/>
<line x1="294.71" y1="148.54" x2="306.97" y2="146.79" stroke="#a39a9a" stroke-width="1.75" stroke-linecap="round"/>
<line x1="306.97" y1="146.79" x2="308.14" y2="138.03" stroke="#a39a9a" stroke-width="1.75" stroke-linecap="round"/>
<line x1="308.14" y1="138.03" x2="301.72" y2="133.65" stroke="#a39a9a" stroke-width="1.7" stroke-linecap="round"/><line x1="301.72" y1="133.65" x2="295.29" y2="129.27" stroke="#E8D030" stroke-width="1.7" stroke-linecap="round"/>
<line x1="306.97" y1="146.79" x2="314.56" y2="156.13" stroke="#666" stroke-width="1.75" stroke-linecap="round"/>
<line x1="306.97" y1="146.79" x2="313.39" y2="140.95" stroke="#666" stroke-width="1.75" stroke-linecap="round"/>
<line x1="295.29" y1="129.27" x2="294.88" y2="126.93" stroke="#E8D030" stroke-width="1.6" stroke-linecap="round"/><line x1="294.88" y1="126.93" x2="294.47" y2="124.6" stroke="#E02020" stroke-width="1.6" stroke-linecap="round"/>
<line x1="295.29" y1="129.27" x2="297.34" y2="125.18" stroke="#E8D030" stroke-width="1.6" stroke-linecap="round"/><line x1="297.34" y1="125.18" x2="299.38" y2="121.09" stroke="#2438F0" stroke-width="1.6" stroke-linecap="round"/>
<line x1="299.38" y1="121.09" x2="305.22" y2="120.51" stroke="#d4cfcf" stroke-width="1.1" stroke-linecap="round"/><circle cx="305.22" cy="120.51" r="1.05" fill="#f0eeee" stroke="#a8a4a4" stroke-width="0.35"/>
<line x1="269.6" y1="134.53" x2="265.51" y2="130.44" stroke="#d4cfcf" stroke-width="1.1" stroke-linecap="round"/><circle cx="265.51" cy="130.44" r="1.05" fill="#f0eeee" stroke="#a8a4a4" stroke-width="0.35"/>
<line x1="269.6" y1="134.53" x2="272.52" y2="131.02" stroke="#d4cfcf" stroke-width="1.1" stroke-linecap="round"/><circle cx="272.52" cy="131.02" r="1.05" fill="#f0eeee" stroke="#a8a4a4" stroke-width="0.35"/>
<line x1="269.6" y1="134.53" x2="266.09" y2="138.03" stroke="#d4cfcf" stroke-width="1.1" stroke-linecap="round"/><circle cx="266.09" cy="138.03" r="1.05" fill="#f0eeee" stroke="#a8a4a4" stroke-width="0.35"/>
<line x1="267.85" y1="147.96" x2="263.76" y2="143.87" stroke="#d4cfcf" stroke-width="1.1" stroke-linecap="round"/><circle cx="263.76" cy="143.87" r="1.05" fill="#f0eeee" stroke="#a8a4a4" stroke-width="0.35"/>
<line x1="267.85" y1="147.96" x2="264.34" y2="151.46" stroke="#d4cfcf" stroke-width="1.1" stroke-linecap="round"/><circle cx="264.34" cy="151.46" r="1.05" fill="#f0eeee" stroke="#a8a4a4" stroke-width="0.35"/>
<line x1="267.85" y1="147.96" x2="272.52" y2="153.21" stroke="#d4cfcf" stroke-width="1.1" stroke-linecap="round"/><circle cx="272.52" cy="153.21" r="1.05" fill="#f0eeee" stroke="#a8a4a4" stroke-width="0.35"/>
<line x1="314.56" y1="156.13" x2="321.57" y2="153.8" stroke="#d4cfcf" stroke-width="1.1" stroke-linecap="round"/><circle cx="321.57" cy="153.8" r="1.05" fill="#f0eeee" stroke="#a8a4a4" stroke-width="0.35"/>
<line x1="314.56" y1="156.13" x2="314.56" y2="160.8" stroke="#d4cfcf" stroke-width="1.1" stroke-linecap="round"/><circle cx="314.56" cy="160.8" r="1.05" fill="#f0eeee" stroke="#a8a4a4" stroke-width="0.35"/>
<line x1="314.56" y1="156.13" x2="311.06" y2="157.88" stroke="#d4cfcf" stroke-width="1.1" stroke-linecap="round"/><circle cx="311.06" cy="157.88" r="1.05" fill="#f0eeee" stroke="#a8a4a4" stroke-width="0.35"/>
<line x1="313.39" y1="140.95" x2="318.65" y2="139.78" stroke="#d4cfcf" stroke-width="1.1" stroke-linecap="round"/><circle cx="318.65" cy="139.78" r="1.05" fill="#f0eeee" stroke="#a8a4a4" stroke-width="0.35"/>
<line x1="313.39" y1="140.95" x2="315.15" y2="135.11" stroke="#d4cfcf" stroke-width="1.1" stroke-linecap="round"/><circle cx="315.15" cy="135.11" r="1.05" fill="#f0eeee" stroke="#a8a4a4" stroke-width="0.35"/>
<line x1="313.39" y1="140.95" x2="311.06" y2="145.04" stroke="#d4cfcf" stroke-width="1.1" stroke-linecap="round"/><circle cx="311.06" cy="145.04" r="1.05" fill="#f0eeee" stroke="#a8a4a4" stroke-width="0.35"/>
<line x1="283.61" y1="133.94" x2="279.53" y2="129.27" stroke="#d4cfcf" stroke-width="1.1" stroke-linecap="round"/><circle cx="279.53" cy="129.27" r="1.05" fill="#f0eeee" stroke="#a8a4a4" stroke-width="0.35"/>
<line x1="283.61" y1="133.94" x2="284.78" y2="138.61" stroke="#d4cfcf" stroke-width="1.1" stroke-linecap="round"/><circle cx="284.78" cy="138.61" r="1.05" fill="#f0eeee" stroke="#a8a4a4" stroke-width="0.35"/>
<line x1="308.14" y1="138.03" x2="311.06" y2="135.11" stroke="#d4cfcf" stroke-width="1.1" stroke-linecap="round"/><circle cx="311.06" cy="135.11" r="1.05" fill="#f0eeee" stroke="#a8a4a4" stroke-width="0.35"/>
<line x1="308.14" y1="138.03" x2="306.39" y2="135.11" stroke="#d4cfcf" stroke-width="1.1" stroke-linecap="round"/><circle cx="306.39" cy="135.11" r="1.05" fill="#f0eeee" stroke="#a8a4a4" stroke-width="0.35"/>
<circle cx="283.61" cy="133.94" r="1.25" fill="#605c5c"/>
<circle cx="276.02" cy="140.95" r="1.25" fill="#605c5c"/>
<circle cx="284.78" cy="147.37" r="1.25" fill="#605c5c"/>
<circle cx="294.71" cy="148.54" r="1.25" fill="#605c5c"/>
<circle cx="306.97" cy="146.79" r="1.25" fill="#605c5c"/>
<circle cx="308.14" cy="138.03" r="1.25" fill="#605c5c"/>
<circle cx="269.6" cy="134.53" r="1.25" fill="#605c5c"/>
<circle cx="267.85" cy="147.96" r="1.25" fill="#605c5c"/>
<circle cx="314.56" cy="156.13" r="1.25" fill="#605c5c"/>
<circle cx="313.39" cy="140.95" r="1.25" fill="#605c5c"/>
<circle cx="294.47" cy="124.6" r="2.2" fill="#E01818"/>
<ellipse cx="299.38" cy="121.09" rx="2.7" ry="2" fill="#2030F0" transform="rotate(-20 299.38 121.09)"/>
<circle cx="295.29" cy="129.27" r="1.4" fill="#E8D030"/>
</g>
<rect x="348.9" y="18.5" width="229.6" height="49.6" fill="none" stroke="#333" stroke-width="0.9"/>
<line x1="379.19" y1="36.88" x2="369.19" y2="34.58" stroke="#111" stroke-width="0.95"/><line x1="369.19" y1="34.58" x2="364.59" y2="27.28" stroke="#111" stroke-width="0.95"/><line x1="369.19" y1="34.58" x2="372.19" y2="26.38" stroke="#111" stroke-width="0.95"/><line x1="369.19" y1="34.58" x2="361.69" y2="40.38" stroke="#111" stroke-width="0.95"/><line x1="361.69" y1="49.18" x2="369.19" y2="54.38" stroke="#111" stroke-width="0.95"/><line x1="369.19" y1="54.38" x2="364.59" y2="62.28" stroke="#111" stroke-width="0.95"/><line x1="369.19" y1="54.38" x2="372.19" y2="63.18" stroke="#111" stroke-width="0.95"/><line x1="369.19" y1="54.38" x2="379.19" y2="52.18" stroke="#111" stroke-width="0.95"/><line x1="379.19" y1="36.88" x2="381.91" y2="42.25" stroke="#111" stroke-width="0.95"/><line x1="379.19" y1="52.18" x2="381.91" y2="47.15" stroke="#111" stroke-width="0.95"/><line x1="359.99" y1="40.38" x2="359.99" y2="49.18" stroke="#111" stroke-width="0.95"/><line x1="361.69" y1="40.38" x2="361.69" y2="49.18" stroke="#111" stroke-width="0.95"/><line x1="363.39" y1="40.38" x2="363.39" y2="49.18" stroke="#111" stroke-width="0.95"/><line x1="385.82" y1="43.21" x2="388.62" y2="40.41" stroke="#111" stroke-width="0.85"/><line x1="384.76" y1="42.15" x2="387.56" y2="39.35" stroke="#111" stroke-width="0.85"/><line x1="385.08" y1="46.99" x2="388.16" y2="49.11" stroke="#111" stroke-width="0.85"/><line x1="385.93" y1="45.75" x2="389.01" y2="47.87" stroke="#111" stroke-width="0.85"/><line x1="393.24" y1="49.09" x2="399.29" y2="46.53" stroke="#111" stroke-width="0.95"/><line x1="398.49" y1="46.53" x2="398.89" y2="40.08" stroke="#111" stroke-width="0.85"/><line x1="400.09" y1="46.53" x2="400.49" y2="40.08" stroke="#111" stroke-width="0.85"/><line x1="399.29" y1="46.53" x2="405.17" y2="49.02" stroke="#111" stroke-width="0.95"/><text x="383.19" y="47.09" font-size="6.4" text-anchor="middle">S</text><text x="390.19" y="40.09" font-size="6.4" text-anchor="middle">O</text><text x="390.89" y="52.39" font-size="6.4" text-anchor="middle">N</text><text x="399.69" y="39.19" font-size="6.4" text-anchor="middle">O</text><text x="407.69" y="52.39" font-size="6.4" text-anchor="middle">N</text><text x="407.69" y="57.99" font-size="6.4" text-anchor="middle">H</text><line x1="410.09" y1="48.88" x2="415.99" y2="46.73" stroke="#111" stroke-width="0.95"/><path d="M419.99 38.73 L421.57 42.96 L426.08 43.16 L422.55 45.96 L423.75 50.31 L419.99 47.82 L416.23 50.31 L417.44 45.96 L413.91 43.16 L418.41 42.96Z" fill="#C0502C" stroke="#3a2a20" stroke-width="0.6" stroke-linejoin="miter"/>
<line x1="430.8" y1="49.6" x2="476" y2="49.6" stroke="#111" stroke-width="1"/>
<path d="M480 49.6 L470.2 47.3 L470.2 51.6Z" fill="#111"/>
<text x="438.5" y="41.9" font-size="10.3">Gcx <tspan font-size="10.3">–</tspan><tspan style="fill:#F018E0">N</tspan><tspan dy="1.8" font-size="6.4" style="fill:#F018E0">3</tspan></text>
<text x="434.3" y="59.9" font-size="10.9">SPAAC</text>
<text x="489.2" y="29.6" font-size="10.4">Gcx</text>
<line x1="504.85" y1="37.79" x2="511.9" y2="40.23" stroke="#F018E0" stroke-width="0.9"/>
<line x1="504.85" y1="51.31" x2="511.9" y2="49.57" stroke="#F018E0" stroke-width="0.9"/>
<line x1="502.05" y1="38.99" x2="498.41" y2="43.3" stroke="#F018E0" stroke-width="0.9"/>
<line x1="502.05" y1="50.11" x2="498.41" y2="46.5" stroke="#F018E0" stroke-width="0.9"/>
<line x1="501.05" y1="50.71" x2="497.41" y2="47.3" stroke="#F018E0" stroke-width="0.8"/>
<line x1="502.25" y1="35.19" x2="500.22" y2="32.75" stroke="#F018E0" stroke-width="0.9"/>
<text x="503.25" y="39.29" font-size="5.8" text-anchor="middle" style="fill:#F018E0">N</text>
<text x="497.41" y="47" font-size="5.8" text-anchor="middle" style="fill:#F018E0">N</text>
<text x="503.25" y="54.01" font-size="5.8" text-anchor="middle" style="fill:#F018E0">N</text>
<line x1="511.9" y1="40.23" x2="511.9" y2="49.57" stroke="#111" stroke-width="0.95"/>
<line x1="510.4" y1="41.23" x2="510.4" y2="48.57" stroke="#111" stroke-width="0.85"/>
<line x1="511.9" y1="40.23" x2="519.6" y2="35.56" stroke="#111" stroke-width="0.95"/>
<line x1="511.9" y1="49.57" x2="519.6" y2="54.71" stroke="#111" stroke-width="0.95"/>
<line x1="519.6" y1="35.56" x2="516.1" y2="26.68" stroke="#111" stroke-width="0.95"/>
<line x1="519.6" y1="35.56" x2="522.64" y2="26.21" stroke="#111" stroke-width="0.95"/>
<line x1="519.6" y1="54.71" x2="516.1" y2="62.89" stroke="#111" stroke-width="0.95"/>
<line x1="519.6" y1="54.71" x2="522.64" y2="63.59" stroke="#111" stroke-width="0.95"/>
<line x1="519.6" y1="35.56" x2="527.78" y2="38.36" stroke="#111" stroke-width="0.95"/>
<line x1="519.6" y1="54.71" x2="527.78" y2="52.37" stroke="#111" stroke-width="0.95"/>
<line x1="527.78" y1="38.36" x2="530.85" y2="42.3" stroke="#111" stroke-width="0.95"/>
<line x1="527.78" y1="52.37" x2="530.85" y2="47.5" stroke="#111" stroke-width="0.95"/>
<line x1="534.96" y1="43.46" x2="537.59" y2="40.82" stroke="#111" stroke-width="0.85"/><line x1="533.9" y1="42.4" x2="536.53" y2="39.76" stroke="#111" stroke-width="0.85"/><line x1="534.2" y1="47.01" x2="537.09" y2="49" stroke="#111" stroke-width="0.85"/><line x1="535.05" y1="45.78" x2="537.94" y2="47.77" stroke="#111" stroke-width="0.85"/><line x1="541.9" y1="48.95" x2="547.59" y2="46.54" stroke="#111" stroke-width="0.95"/><line x1="546.79" y1="46.54" x2="547.16" y2="40.48" stroke="#111" stroke-width="0.85"/><line x1="548.39" y1="46.54" x2="548.76" y2="40.48" stroke="#111" stroke-width="0.85"/><line x1="547.59" y1="46.54" x2="553.11" y2="48.88" stroke="#111" stroke-width="0.95"/><text x="532.45" y="47.13" font-size="6.2" text-anchor="middle">S</text><text x="539.03" y="40.55" font-size="6.2" text-anchor="middle">O</text><text x="539.69" y="52.11" font-size="6.2" text-anchor="middle">N</text><text x="547.96" y="39.71" font-size="6.2" text-anchor="middle">O</text><text x="555.48" y="52.11" font-size="6.2" text-anchor="middle">N</text><text x="555.48" y="57.38" font-size="6.2" text-anchor="middle">H</text><line x1="557.74" y1="48.75" x2="563.28" y2="46.73" stroke="#111" stroke-width="0.95"/><path d="M567.04 39.21 L568.53 43.18 L572.77 43.37 L569.45 46.01 L570.58 50.1 L567.04 47.76 L563.51 50.1 L564.64 46.01 L561.32 43.37 L565.56 43.18Z" fill="#C0502C" stroke="#3a2a20" stroke-width="0.6" stroke-linejoin="miter"/>
<line x1="378.95" y1="102.76" x2="367.75" y2="100.18" stroke="#111" stroke-width="0.95"/><line x1="367.75" y1="100.18" x2="362.6" y2="92.01" stroke="#111" stroke-width="0.95"/><line x1="367.75" y1="100.18" x2="371.11" y2="91" stroke="#111" stroke-width="0.95"/><line x1="367.75" y1="100.18" x2="359.35" y2="106.68" stroke="#111" stroke-width="0.95"/><line x1="359.35" y1="116.53" x2="367.75" y2="122.36" stroke="#111" stroke-width="0.95"/><line x1="367.75" y1="122.36" x2="362.6" y2="131.21" stroke="#111" stroke-width="0.95"/><line x1="367.75" y1="122.36" x2="371.11" y2="132.21" stroke="#111" stroke-width="0.95"/><line x1="367.75" y1="122.36" x2="378.95" y2="119.89" stroke="#111" stroke-width="0.95"/><line x1="378.95" y1="102.76" x2="382" y2="108.77" stroke="#111" stroke-width="0.95"/><line x1="378.95" y1="119.89" x2="382" y2="114.26" stroke="#111" stroke-width="0.95"/><line x1="357.45" y1="106.68" x2="357.45" y2="116.53" stroke="#111" stroke-width="0.95"/><line x1="359.35" y1="106.68" x2="359.35" y2="116.53" stroke="#111" stroke-width="0.95"/><line x1="361.26" y1="106.68" x2="361.26" y2="116.53" stroke="#111" stroke-width="0.95"/><line x1="386.31" y1="109.78" x2="389.45" y2="106.65" stroke="#111" stroke-width="0.85"/><line x1="385.25" y1="108.72" x2="388.39" y2="105.59" stroke="#111" stroke-width="0.85"/><line x1="385.59" y1="114" x2="389.04" y2="116.38" stroke="#111" stroke-width="0.85"/><line x1="386.44" y1="112.77" x2="389.89" y2="115.14" stroke="#111" stroke-width="0.85"/><line x1="394.69" y1="116.43" x2="401.46" y2="113.57" stroke="#111" stroke-width="0.95"/><line x1="400.66" y1="113.57" x2="401.11" y2="106.34" stroke="#111" stroke-width="0.85"/><line x1="402.26" y1="113.57" x2="402.71" y2="106.34" stroke="#111" stroke-width="0.85"/><line x1="401.46" y1="113.57" x2="408.05" y2="116.35" stroke="#111" stroke-width="0.95"/><text x="383.43" y="113.98" font-size="6.6" text-anchor="middle">S</text><text x="391.27" y="106.14" font-size="6.6" text-anchor="middle">O</text><text x="392.06" y="119.92" font-size="6.6" text-anchor="middle">N</text><text x="401.91" y="105.13" font-size="6.6" text-anchor="middle">O</text><text x="410.87" y="119.92" font-size="6.6" text-anchor="middle">N</text><text x="410.87" y="126.19" font-size="6.6" text-anchor="middle">H</text>
<path d="M410.63 116.14 L414.96 114.96 L419.5 118.5 L424.82 118.5 L429.35 115.55" fill="none" stroke="#111" stroke-width="0.95"/>
<text x="431.72" y="116.86" font-size="6.6" text-anchor="middle">O</text>
<path d="M434.08 115.55 L436.64 117.52 L442.56 118.5 L448.47 114.56 L453.79 116.93" fill="none" stroke="#111" stroke-width="0.95"/>
<path d="M415.77 109.04 L414.37 109.04 L414.37 124.02 L415.77 124.02" fill="none" stroke="#111" stroke-width="0.95"/>
<path d="M436.23 109.04 L437.63 109.04 L437.63 124.02 L436.23 124.02" fill="none" stroke="#111" stroke-width="0.95"/>
<text x="438.81" y="125.8" font-size="5">2</text>
<text x="456.35" y="119.82" font-size="6.6" text-anchor="middle">N</text>
<text x="456.35" y="125.14" font-size="6.6" text-anchor="middle">H</text>
<line x1="458.91" y1="116.53" x2="463.25" y2="116.53" stroke="#111" stroke-width="0.95"/>
<path d="M463.84 112.53 q1.6 1 0 2 q-1.6 1 0 2 q1.6 1 0 2 q-1.6 1 0 2" fill="none" stroke="#222" stroke-width="0.9"/>
<line x1="514.78" y1="104.89" x2="523.62" y2="109.71" stroke="#F01C24" stroke-width="1"/><line x1="523.62" y1="109.71" x2="523.62" y2="119.34" stroke="#F01C24" stroke-width="1"/><line x1="523.62" y1="119.34" x2="514.78" y2="124.16" stroke="#F01C24" stroke-width="1"/><line x1="514.78" y1="124.16" x2="506.43" y2="119.34" stroke="#F01C24" stroke-width="1"/><line x1="506.43" y1="119.34" x2="506.43" y2="109.71" stroke="#F01C24" stroke-width="1"/><line x1="506.43" y1="109.71" x2="514.78" y2="104.89" stroke="#F01C24" stroke-width="1"/><line x1="514.78" y1="124.16" x2="514.78" y2="132.19" stroke="#F01C24" stroke-width="1"/><line x1="514.78" y1="132.19" x2="523.62" y2="136.53" stroke="#F01C24" stroke-width="1"/><line x1="523.62" y1="136.53" x2="531.16" y2="132.19" stroke="#F01C24" stroke-width="1"/><line x1="531.16" y1="132.19" x2="540.48" y2="136.21" stroke="#F01C24" stroke-width="1"/><line x1="540.48" y1="136.21" x2="540.48" y2="145.84" stroke="#F01C24" stroke-width="1"/><line x1="540.48" y1="145.84" x2="532.45" y2="150.34" stroke="#F01C24" stroke-width="1"/><line x1="532.45" y1="150.34" x2="523.62" y2="145.84" stroke="#F01C24" stroke-width="1"/><line x1="523.62" y1="145.84" x2="523.62" y2="136.53" stroke="#F01C24" stroke-width="1"/><line x1="514.78" y1="132.19" x2="507.07" y2="136.21" stroke="#F01C24" stroke-width="1"/><line x1="507.07" y1="136.21" x2="507.07" y2="145.84" stroke="#F01C24" stroke-width="1"/><line x1="507.07" y1="145.84" x2="498.72" y2="150.34" stroke="#F01C24" stroke-width="1"/><line x1="498.72" y1="150.34" x2="489.89" y2="145.84" stroke="#F01C24" stroke-width="1"/><line x1="489.89" y1="145.84" x2="489.89" y2="136.21" stroke="#F01C24" stroke-width="1"/><line x1="489.89" y1="136.21" x2="498.72" y2="132.19" stroke="#F01C24" stroke-width="1"/><line x1="498.72" y1="132.19" x2="507.07" y2="136.21" stroke="#F01C24" stroke-width="1"/><line x1="489.89" y1="145.84" x2="481.86" y2="150.34" stroke="#F01C24" stroke-width="1"/>
<line x1="523.62" y1="119.34" x2="528.9" y2="121.59" stroke="#F01C24" stroke-width="1"/>
<line x1="531.16" y1="124.97" x2="531.16" y2="132.19" stroke="#F01C24" stroke-width="1"/>
<line x1="515.4" y1="106.71" x2="521.76" y2="110.18" stroke="#F01C24" stroke-width="0.8"/>
<line x1="521.76" y1="118.88" x2="515.4" y2="122.35" stroke="#F01C24" stroke-width="0.8"/>
<line x1="507.73" y1="118" x2="507.73" y2="111.06" stroke="#F01C24" stroke-width="0.8"/>
<line x1="516.59" y1="131.63" x2="522.95" y2="134.75" stroke="#F01C24" stroke-width="0.8"/>
<line x1="531.95" y1="133.95" x2="538.66" y2="136.84" stroke="#F01C24" stroke-width="0.8"/>
<line x1="531.8" y1="148.55" x2="525.44" y2="145.31" stroke="#F01C24" stroke-width="0.8"/>
<line x1="505.77" y1="137.56" x2="505.77" y2="144.49" stroke="#F01C24" stroke-width="0.8"/>
<line x1="498.08" y1="148.55" x2="491.72" y2="145.31" stroke="#F01C24" stroke-width="0.8"/>
<line x1="491.67" y1="136.83" x2="498.03" y2="133.94" stroke="#F01C24" stroke-width="0.8"/>
<text x="531.16" y="124.76" font-size="6.2" text-anchor="middle" style="fill:#F01C24">O</text>
<line x1="514.78" y1="104.89" x2="514.78" y2="99.59" stroke="#F01C24" stroke-width="1"/>
<text x="512.7" y="97.99" font-size="6.3" style="fill:#F01C24">NH<tspan dy="1.2" font-size="4.2">3</tspan></text>
<circle cx="515.1" cy="90.6" r="1.7" fill="none" stroke="#F01C24" stroke-width="0.55"/><line x1="514.1" y1="90.6" x2="516.1" y2="90.6" stroke="#F01C24" stroke-width="0.55"/><line x1="515.1" y1="89.6" x2="515.1" y2="91.6" stroke="#F01C24" stroke-width="0.55"/>
<line x1="523.62" y1="109.71" x2="528.92" y2="106.66" stroke="#F01C24" stroke-width="1"/>
<text x="529.56" y="107.62" font-size="6.3" style="fill:#F01C24">SO<tspan dy="1.2" font-size="4.2">3</tspan></text>
<circle cx="537.27" cy="99.59" r="1.7" fill="none" stroke="#F01C24" stroke-width="0.55"/><line x1="536.27" y1="99.59" x2="538.27" y2="99.59" stroke="#F01C24" stroke-width="0.55"/>
<line x1="540.48" y1="136.21" x2="546.26" y2="133.32" stroke="#F01C24" stroke-width="1"/>
<text x="546.58" y="134.12" font-size="6.3" style="fill:#F01C24">SO<tspan dy="1.2" font-size="4.2">3</tspan></text>
<circle cx="553.33" cy="126.57" r="1.7" fill="none" stroke="#F01C24" stroke-width="0.55"/><line x1="552.33" y1="126.57" x2="554.33" y2="126.57" stroke="#F01C24" stroke-width="0.55"/>
<line x1="540.48" y1="145.84" x2="545.94" y2="148.41" stroke="#F01C24" stroke-width="1"/>
<line x1="540.8" y1="144.88" x2="546.26" y2="147.45" stroke="#F01C24" stroke-width="0.9"/>
<text x="546.26" y="151.62" font-size="6.3" style="fill:#F01C24">NH<tspan dy="1.2" font-size="4.2">2</tspan></text>
<circle cx="548.51" cy="143.92" r="1.7" fill="none" stroke="#F01C24" stroke-width="0.55"/><line x1="547.51" y1="143.92" x2="549.51" y2="143.92" stroke="#F01C24" stroke-width="0.55"/><line x1="548.51" y1="142.92" x2="548.51" y2="144.92" stroke="#F01C24" stroke-width="0.55"/>
<line x1="498.72" y1="132.19" x2="498.72" y2="126.89" stroke="#F01C24" stroke-width="1"/>
<text x="482.99" y="124.97" font-size="6.3" style="fill:#F01C24">HO<tspan dy="1.2" font-size="4.2">2</tspan><tspan dy="-1.2">C</tspan></text>
<line x1="481.06" y1="150.34" x2="480.26" y2="156.12" stroke="#F01C24" stroke-width="0.9"/>
<line x1="482.66" y1="150.34" x2="481.86" y2="156.12" stroke="#F01C24" stroke-width="0.9"/>
<text x="481.06" y="161.1" font-size="6" text-anchor="middle" style="fill:#F01C24">O</text>
<line x1="481.86" y1="150.34" x2="475.92" y2="150.66" stroke="#F01C24" stroke-width="1"/>
<path d="M474.96 146.66 q1.6 1 0 2 q-1.6 1 0 2 q1.6 1 0 2 q-1.6 1 0 2" fill="none" stroke="#222" stroke-width="0.9"/>
<text x="488.3" y="164.4" font-size="11.3">THS-AF488</text>
<line x1="615.66" y1="41.42" x2="623.87" y2="36.86" stroke="#1C22F0" stroke-width="1"/><line x1="623.87" y1="36.86" x2="632.99" y2="41.06" stroke="#1C22F0" stroke-width="1"/><line x1="632.99" y1="41.06" x2="632.99" y2="49.64" stroke="#1C22F0" stroke-width="1"/><line x1="632.99" y1="49.64" x2="624.23" y2="53.83" stroke="#1C22F0" stroke-width="1"/><line x1="624.23" y1="53.83" x2="615.66" y2="49.64" stroke="#1C22F0" stroke-width="1"/><line x1="615.66" y1="49.64" x2="615.66" y2="41.42" stroke="#1C22F0" stroke-width="1"/><line x1="624.23" y1="53.83" x2="622.96" y2="62.96" stroke="#1C22F0" stroke-width="1"/><line x1="622.96" y1="62.96" x2="612.92" y2="63.69" stroke="#1C22F0" stroke-width="1"/><line x1="622.96" y1="62.96" x2="632.63" y2="63.32" stroke="#1C22F0" stroke-width="1"/><line x1="622.96" y1="62.96" x2="627.52" y2="70.62" stroke="#1C22F0" stroke-width="1"/><line x1="612.92" y1="63.69" x2="608.91" y2="72.08" stroke="#1C22F0" stroke-width="1"/><line x1="608.91" y1="72.08" x2="614.38" y2="79.74" stroke="#1C22F0" stroke-width="1"/><line x1="614.38" y1="79.74" x2="608.91" y2="87.41" stroke="#1C22F0" stroke-width="1"/><line x1="608.91" y1="87.41" x2="614.38" y2="95.26" stroke="#1C22F0" stroke-width="1"/><line x1="614.38" y1="95.26" x2="608.91" y2="103.1" stroke="#1C22F0" stroke-width="1"/><line x1="608.91" y1="103.1" x2="614.38" y2="110.77" stroke="#1C22F0" stroke-width="1"/><line x1="614.38" y1="110.77" x2="623.87" y2="110.4" stroke="#1C22F0" stroke-width="1"/><line x1="623.87" y1="110.4" x2="626.61" y2="103.1" stroke="#1C22F0" stroke-width="1"/><line x1="623.87" y1="110.4" x2="633.36" y2="109.49" stroke="#1C22F0" stroke-width="1"/><line x1="623.87" y1="110.4" x2="626.61" y2="120.26" stroke="#1C22F0" stroke-width="1"/><line x1="618.03" y1="125" x2="626.61" y2="120.26" stroke="#1C22F0" stroke-width="1"/><line x1="626.61" y1="120.26" x2="634.82" y2="124.45" stroke="#1C22F0" stroke-width="1"/><line x1="634.82" y1="124.45" x2="634.82" y2="133.58" stroke="#1C22F0" stroke-width="1"/><line x1="634.82" y1="133.58" x2="626.61" y2="137.77" stroke="#1C22F0" stroke-width="1"/><line x1="626.61" y1="137.77" x2="618.03" y2="133.58" stroke="#1C22F0" stroke-width="1"/><line x1="618.03" y1="133.58" x2="618.03" y2="125" stroke="#1C22F0" stroke-width="1"/>
<line x1="615.66" y1="49.64" x2="610.18" y2="54.15" stroke="#1C22F0" stroke-width="1"/>
<line x1="609.64" y1="57.91" x2="612.92" y2="63.69" stroke="#1C22F0" stroke-width="1"/>
<line x1="606.35" y1="55.26" x2="599.23" y2="53.83" stroke="#1C22F0" stroke-width="1"/>
<line x1="611.92" y1="116.93" x2="614.38" y2="110.77" stroke="#1C22F0" stroke-width="1"/>
<line x1="612.62" y1="120.3" x2="618.03" y2="125" stroke="#1C22F0" stroke-width="1"/>
<line x1="617.27" y1="42.01" x2="623.51" y2="38.55" stroke="#1C22F0" stroke-width="0.8"/>
<line x1="631.69" y1="42.09" x2="631.69" y2="48.61" stroke="#1C22F0" stroke-width="0.8"/>
<line x1="623.78" y1="52.16" x2="617.26" y2="48.97" stroke="#1C22F0" stroke-width="0.8"/>
<line x1="611.27" y1="64.13" x2="608.21" y2="70.51" stroke="#1C22F0" stroke-width="0.8"/>
<line x1="614.78" y1="81.42" x2="610.62" y2="87.24" stroke="#1C22F0" stroke-width="0.8"/>
<line x1="614.79" y1="96.94" x2="610.63" y2="102.9" stroke="#1C22F0" stroke-width="0.8"/>
<line x1="619.69" y1="125.57" x2="626.21" y2="121.96" stroke="#1C22F0" stroke-width="0.8"/>
<line x1="633.52" y1="125.55" x2="633.52" y2="132.48" stroke="#1C22F0" stroke-width="0.8"/>
<line x1="626.15" y1="136.1" x2="619.63" y2="132.91" stroke="#1C22F0" stroke-width="0.8"/>
<line x1="612.99" y1="116.78" x2="615.68" y2="111.17" stroke="#1C22F0" stroke-width="0.9"/>
<text x="608.36" y="57.76" font-size="5.8" text-anchor="middle" style="fill:#1C22F0">N</text>
<text x="611.09" y="121.08" font-size="5.8" text-anchor="middle" style="fill:#1C22F0">N</text>
<circle cx="605.99" cy="114.42" r="1.7" fill="none" stroke="#1C22F0" stroke-width="0.55"/><line x1="604.99" y1="114.42" x2="606.99" y2="114.42" stroke="#1C22F0" stroke-width="0.55"/><line x1="605.99" y1="113.42" x2="605.99" y2="115.42" stroke="#1C22F0" stroke-width="0.55"/>
<line x1="632.99" y1="41.06" x2="638.1" y2="37.77" stroke="#1C22F0" stroke-width="1"/>
<text x="638.83" y="37.41" font-size="6.3" style="fill:#1C22F0">SO<tspan dy="1.2" font-size="4.2">3</tspan><tspan dy="-1.2">H</tspan></text>
<line x1="634.82" y1="133.58" x2="640.29" y2="135.77" stroke="#1C22F0" stroke-width="1"/>
<text x="640.66" y="139.6" font-size="6.3" style="fill:#1C22F0">SO<tspan dy="1.2" font-size="4.2">3</tspan></text>
<circle cx="645.77" cy="128.65" r="1.7" fill="none" stroke="#1C22F0" stroke-width="0.55"/><line x1="644.77" y1="128.65" x2="646.77" y2="128.65" stroke="#1C22F0" stroke-width="0.55"/>
<path d="M608.91 120.26 L602.88 120.8 L599.23 128.1 L591.93 130.47 L587.37 139.05 L580.07 141.42 L575.51 146.9 L573.69 150.91" fill="none" stroke="#1C22F0" stroke-width="1"/>
<line x1="573.69" y1="150.91" x2="568.21" y2="150.91" stroke="#1C22F0" stroke-width="1"/>
<line x1="572.99" y1="151.61" x2="577.18" y2="155.63" stroke="#1C22F0" stroke-width="0.9"/>
<line x1="574.39" y1="150.21" x2="578.58" y2="154.23" stroke="#1C22F0" stroke-width="0.9"/>
<text x="579.34" y="159.12" font-size="6" text-anchor="middle" style="fill:#1C22F0">O</text>
<path d="M566.57 146.91 q1.6 1 0 2 q-1.6 1 0 2 q1.6 1 0 2 q-1.6 1 0 2" fill="none" stroke="#222" stroke-width="0.9"/>
<text x="584.6" y="164.6" font-size="11.2">THS-SulfoCy5</text>
</g>
<g id="p_e">
<text x="0.6" y="197.7" font-size="10.5">e</text>
<text x="74.2" y="203.6" font-size="10.1" text-anchor="middle">Con A</text>
<text x="166" y="202.6" font-size="10.1" text-anchor="middle">THS</text>
<text x="26.4" y="253.2" font-size="10.5" text-anchor="middle" transform="rotate(-90 26.4 253.2)">Ac<tspan dy="1.5" font-size="6">4</tspan><tspan dy="-1.5">ManNAz -</tspan></text>
<text x="26.4" y="343.8" font-size="10.5" text-anchor="middle" transform="rotate(-90 26.4 343.8)">Ac<tspan dy="1.5" font-size="6">4</tspan><tspan dy="-1.5">ManNAz +</tspan></text>
<line x1="257" y1="220.6" x2="257" y2="362.1" stroke="#222" stroke-width="1"/>
<line x1="256.5" y1="361.6" x2="330.2" y2="361.6" stroke="#222" stroke-width="1"/>
<line x1="254" y1="226.7" x2="257" y2="226.7" stroke="#222" stroke-width="0.9"/>
<text x="253.6" y="230.4" font-size="10.5" text-anchor="end">1.00</text>
<line x1="254" y1="258.9" x2="257" y2="258.9" stroke="#222" stroke-width="0.9"/>
<text x="253.6" y="262.6" font-size="10.5" text-anchor="end">0.75</text>
<line x1="254" y1="290.7" x2="257" y2="290.7" stroke="#222" stroke-width="0.9"/>
<text x="253.6" y="294.4" font-size="10.5" text-anchor="end">0.50</text>
<line x1="254" y1="322.7" x2="257" y2="322.7" stroke="#222" stroke-width="0.9"/>
<text x="253.6" y="326.4" font-size="10.5" text-anchor="end">0.25</text>
<line x1="254" y1="354.8" x2="257" y2="354.8" stroke="#222" stroke-width="0.9"/>
<text x="253.6" y="358.5" font-size="10.5" text-anchor="end">0.00</text>
<line x1="277.2" y1="361.6" x2="277.2" y2="364.6" stroke="#222" stroke-width="0.9"/>
<line x1="310.6" y1="361.6" x2="310.6" y2="364.6" stroke="#222" stroke-width="0.9"/>
<text x="284.6" y="373" font-size="10.5" text-anchor="end" transform="rotate(-45 284.6 373)">DBCO</text>
<text x="317.6" y="373" font-size="10.5" text-anchor="end" transform="rotate(-45 317.6 373)">THS</text>
<text x="228.4" y="302" font-size="10.5" text-anchor="middle" transform="rotate(-90 228.4 302)">Pearson.s.Coefficient</text>
<text x="295.5" y="215.6" font-size="10.4" text-anchor="middle">N.S.</text>
<line x1="279" y1="218.7" x2="308" y2="218.7" stroke="#222" stroke-width="0.9"/>
<path d="M276 228.9 C275.32 228.95 272.44 229.17 271.6 229.4 C270.76 229.63 268.58 230.45 267.6 231.2 C266.62 231.95 262.18 236.02 261.8 236.9 C261.42 237.78 263.02 239.3 263.8 240 C264.58 240.7 268.66 243.2 269.6 243.9 C270.54 244.6 272.59 246.42 273.2 247 C273.81 247.58 275.34 249.1 275.7 249.7 C276.06 250.3 276.64 252.12 276.75 253 C276.86 253.88 276.88 257.75 276.75 258.5 C276.62 259.25 275.76 260.09 275.5 260.5 C275.24 260.91 274.01 262.3 274.1 262.6 C274.19 262.9 276.01 263.41 276.4 263.5 C276.79 263.59 277.61 263.59 278 263.5 C278.39 263.41 280.21 262.9 280.3 262.6 C280.39 262.3 279.16 260.91 278.9 260.5 C278.63 260.09 277.77 259.25 277.65 258.5 C277.52 257.75 277.54 253.88 277.65 253 C277.75 252.12 278.34 250.3 278.7 249.7 C279.06 249.1 280.59 247.58 281.2 247 C281.81 246.42 283.86 244.6 284.8 243.9 C285.74 243.2 289.82 240.7 290.6 240 C291.38 239.3 292.98 237.78 292.6 236.9 C292.22 236.02 287.78 231.95 286.8 231.2 C285.82 230.45 283.64 229.63 282.8 229.4 C281.96 229.17 279.08 228.95 278.4 228.9 C277.72 228.85 276.68 228.85 276 228.9Z" fill="#F8766D" stroke="#222" stroke-width="0.7"/>
<path d="M309.4 230.1 C308.72 230.15 305.9 230.31 305 230.6 C304.1 230.89 301.41 232.32 300.4 233 C299.39 233.68 295.28 236.6 294.9 237.4 C294.52 238.2 296.21 240.24 296.6 241 C296.99 241.76 298.05 244.17 298.8 245 C299.55 245.83 303.18 248.5 304.1 249.3 C305.02 250.1 307.44 252.37 308 253 C308.56 253.63 309.52 255.05 309.7 255.6 C309.88 256.15 309.92 257.96 309.8 258.5 C309.68 259.04 308.68 260.25 308.5 261 C308.32 261.75 308.01 265.1 308 266 C307.99 266.9 308.22 269.38 308.4 270 C308.58 270.62 309.5 271.98 309.8 272.2 C310.1 272.42 311.1 272.42 311.4 272.2 C311.7 271.98 312.62 270.62 312.8 270 C312.98 269.38 313.21 266.9 313.2 266 C313.19 265.1 312.88 261.75 312.7 261 C312.52 260.25 311.52 259.04 311.4 258.5 C311.28 257.96 311.32 256.15 311.5 255.6 C311.68 255.05 312.64 253.63 313.2 253 C313.76 252.37 316.18 250.1 317.1 249.3 C318.02 248.5 321.65 245.83 322.4 245 C323.15 244.17 324.21 241.76 324.6 241 C324.99 240.24 326.68 238.2 326.3 237.4 C325.92 236.6 321.81 233.68 320.8 233 C319.79 232.32 317.1 230.89 316.2 230.6 C315.3 230.31 312.48 230.15 311.8 230.1 C311.12 230.05 310.08 230.05 309.4 230.1Z" fill="#00BFC4" stroke="#222" stroke-width="0.7"/>
<rect x="270.3" y="235" width="13.8" height="5.8" fill="none" stroke="#111" stroke-width="0.7"/>
<line x1="270.3" y1="237.6" x2="284.1" y2="237.6" stroke="#111" stroke-width="0.7"/>
<line x1="277.2" y1="229" x2="277.2" y2="245" stroke="#111" stroke-width="1.5" stroke-dasharray="9 0.4 1.6 0.4 5"/>
<circle cx="277.2" cy="246.5" r="0.9" fill="#111"/>
<circle cx="277.2" cy="262.3" r="0.9" fill="#111"/>
<rect x="303.7" y="236.6" width="13.8" height="9.6" fill="none" stroke="#111" stroke-width="0.7"/>
<line x1="303.7" y1="240.3" x2="317.5" y2="240.3" stroke="#111" stroke-width="0.7"/>
<line x1="310.6" y1="230" x2="310.6" y2="250.5" stroke="#111" stroke-width="1.5" stroke-dasharray="11 0.5 2 0.5 8"/>
<circle cx="310.6" cy="264.5" r="0.9" fill="#111"/>
<circle cx="310.6" cy="267" r="0.9" fill="#111"/>
<circle cx="310.6" cy="269.5" r="0.9" fill="#111"/>
</g>
<g id="p_eimg">
<rect x="29.7" y="207.2" width="91.2" height="90.6" fill="#363636"/>
<g clip-path="url(#ce1)">
<g filter="url(#e1)">
<ellipse cx="88" cy="224" rx="26" ry="8" fill="#464646" transform="rotate(5 88 224)"/>
<ellipse cx="50" cy="260" rx="18" ry="13" fill="#444444" transform="rotate(20 50 260)"/>
<ellipse cx="70" cy="238" rx="30" ry="7" fill="#424242" transform="rotate(8 70 238)"/>
</g>
<rect x="29.7" y="207.2" width="91.2" height="90.6" fill="#fff" filter="url(#nz)" opacity="0.08"/>
<rect x="29.7" y="207.2" width="91.2" height="90.6" fill="#fff" filter="url(#nz2)" opacity="0.13"/>
<g filter="url(#wobe)">
<path d="M31.33 220.26 C33.95 217.97 45.89 217.62 48.8 218.87 C51.72 220.12 51.37 226.29 50.75 228.58 C50.12 230.87 47.56 233.29 44.64 234.13 C41.73 234.96 33.33 236.21 31.33 234.13 C29.33 232.05 28.71 222.55 31.33 220.26Z" fill="#030303" stroke="#c0c0c0" stroke-width="0.8" stroke-opacity="0.75"/>
<path d="M50.19 206.11 C60.18 205.44 111.5 205.44 122.31 206.11 C133.13 206.78 128.14 209.67 122.31 210.55 C116.49 211.42 93.46 211.93 83.48 211.93 C73.49 211.93 60.73 211.42 55.74 210.55 C50.75 209.67 40.21 206.78 50.19 206.11Z" fill="#030303" stroke="#c0c0c0" stroke-width="0.8" stroke-opacity="0.75"/>
<path d="M87.64 213.88 C91.18 213.25 106.35 213.54 111.22 214.71 C116.09 215.87 119.68 219.94 120.09 221.64 C120.51 223.35 117.4 226 113.99 226.08 C110.58 226.17 101.3 223.28 97.35 222.2 C93.4 221.12 89.1 220.12 87.64 218.87 C86.18 217.62 84.1 214.5 87.64 213.88Z" fill="#030303" stroke="#c0c0c0" stroke-width="0.8" stroke-opacity="0.75"/>
<path d="M87.64 227.75 C90.55 227.5 105.66 229.17 108.44 229.97 C111.23 230.76 109.14 232.77 106.22 233.02 C103.31 233.27 91.81 232.42 89.03 231.63 C86.24 230.84 84.73 228 87.64 227.75Z" fill="#030303" stroke="#c0c0c0" stroke-width="0.8" stroke-opacity="0.75"/>
<path d="M81.26 242.73 C82.34 241.31 87.92 239.37 89.58 239.95 C91.25 240.53 92.69 244.94 92.36 246.61 C92.02 248.27 88.86 250.63 87.36 251.05 C85.86 251.46 83.28 250.63 82.37 249.38 C81.45 248.13 80.18 244.14 81.26 242.73Z" fill="#030303" stroke="#c0c0c0" stroke-width="0.8" stroke-opacity="0.75"/>
<path d="M94.02 239.4 C95.1 238.23 99.51 236.82 100.68 237.73 C101.84 238.65 102.37 243.92 101.79 245.5 C101.2 247.08 98.04 248.27 96.79 248.27 C95.55 248.27 93.88 246.83 93.46 245.5 C93.05 244.17 92.94 240.56 94.02 239.4Z" fill="#030303" stroke="#c0c0c0" stroke-width="0.8" stroke-opacity="0.75"/>
<path d="M102.9 240.51 C104.48 238.51 108.47 237.07 111.22 236.07 C113.96 235.07 119.54 232.68 121.2 233.85 C122.87 235.01 123.31 241.34 122.31 243.83 C121.31 246.33 117.04 249.24 114.55 250.49 C112.05 251.74 107.75 252.32 105.67 252.16 C103.59 251.99 101.09 251.13 100.68 249.38 C100.26 247.64 101.31 242.5 102.9 240.51Z" fill="#030303" stroke="#c0c0c0" stroke-width="0.8" stroke-opacity="0.75"/>
<path d="M85.14 251.6 C85.81 250.85 90.16 249.6 91.25 249.94 C92.33 250.27 93.02 253.07 92.36 253.82 C91.69 254.57 87.89 255.26 86.81 254.93 C85.73 254.6 84.48 252.35 85.14 251.6Z" fill="#030303" stroke="#c0c0c0" stroke-width="0.8" stroke-opacity="0.75"/>
<path d="M29.11 238.29 C31.02 237.21 39.54 236.28 41.87 236.9 C44.2 237.52 45.48 241.37 44.64 242.45 C43.81 243.53 38.65 243.86 36.32 244.11 C33.99 244.36 30.19 244.99 29.11 244.11 C28.03 243.24 27.2 239.37 29.11 238.29Z" fill="#030303" stroke="#c0c0c0" stroke-width="0.8" stroke-opacity="0.75"/>
<path d="M46.03 243.83 C47.69 243.42 54.98 245.15 58.51 246.61 C62.05 248.07 68.36 251.88 69.61 253.54 C70.86 255.21 68.92 257.91 66.83 257.7 C64.75 257.5 58.65 253.4 55.74 252.16 C52.83 250.91 48.87 250.63 47.42 249.38 C45.96 248.13 44.37 244.25 46.03 243.83Z" fill="#030303" stroke="#c0c0c0" stroke-width="0.8" stroke-opacity="0.75"/>
<path d="M58.51 260.48 C60.18 259.02 67.53 257.84 69.61 259.09 C71.69 260.34 73.21 266.68 72.38 268.8 C71.55 270.92 66.14 273.24 64.06 273.24 C61.98 273.24 59.35 270.71 58.51 268.8 C57.68 266.89 56.85 261.93 58.51 260.48Z" fill="#030303" stroke="#c0c0c0" stroke-width="0.8" stroke-opacity="0.75"/>
<path d="M29.11 260.48 C30.19 259.44 33.99 260.2 36.32 261.87 C38.65 263.53 42.15 269.7 44.64 271.57 C47.14 273.45 51.3 273.31 52.97 274.35 C54.63 275.39 56.99 277.64 55.74 278.51 C54.49 279.38 47.97 280.8 44.64 280.17 C41.31 279.55 35.88 276.05 33.55 274.35 C31.22 272.64 29.78 270.88 29.11 268.8 C28.44 266.72 28.03 261.52 29.11 260.48Z" fill="#030303" stroke="#c0c0c0" stroke-width="0.8" stroke-opacity="0.75"/>
<path d="M44.64 283.22 C46.81 281.81 51.99 279.87 55.74 278.79 C59.48 277.7 66.36 276.01 69.61 276.01 C72.85 276.01 76.21 275.37 77.38 278.79 C78.54 282.2 78.96 295.76 77.38 298.76 C75.79 301.75 68 300.34 66.83 298.76 C65.67 297.18 70.44 290.46 69.61 288.22 C68.78 285.97 64.2 283.78 61.29 283.78 C58.37 283.78 52.6 285.97 50.19 288.22 C47.78 290.46 46.95 297.18 45.2 298.76 C43.45 300.34 39.12 300.34 38.54 298.76 C37.96 297.18 40.4 290.55 41.31 288.22 C42.23 285.89 42.48 284.64 44.64 283.22Z" fill="#030303" stroke="#c0c0c0" stroke-width="0.8" stroke-opacity="0.75"/>
<path d="M29.11 282.67 C29.86 280.46 33.44 281.64 34.1 284.06 C34.77 286.47 34.3 296.55 33.55 298.76 C32.8 300.96 29.78 301.17 29.11 298.76 C28.44 296.35 28.36 284.88 29.11 282.67Z" fill="#030303" stroke="#c0c0c0" stroke-width="0.8" stroke-opacity="0.75"/>
</g>
<g filter="url(#e05)">
<line x1="37.99" y1="219.73" x2="38.38" y2="223.36" stroke="#bdbdbd" stroke-width="0.5" stroke-opacity="0.33"/><line x1="43.39" y1="219.3" x2="42.1" y2="223.79" stroke="#bdbdbd" stroke-width="0.5" stroke-opacity="0.33"/><line x1="44.98" y1="219.17" x2="43.82" y2="223.42" stroke="#bdbdbd" stroke-width="0.5" stroke-opacity="0.24"/><line x1="49.1" y1="220.32" x2="43.85" y2="224.65" stroke="#bdbdbd" stroke-width="0.5" stroke-opacity="0.34"/><line x1="48.92" y1="219.45" x2="43.25" y2="225" stroke="#bdbdbd" stroke-width="0.5" stroke-opacity="0.39"/><line x1="49.22" y1="220.97" x2="45.25" y2="223.66" stroke="#bdbdbd" stroke-width="0.5" stroke-opacity="0.35"/><line x1="49.99" y1="229.27" x2="44.75" y2="229.05" stroke="#bdbdbd" stroke-width="0.5" stroke-opacity="0.22"/><line x1="48.81" y1="230.34" x2="45.13" y2="227.91" stroke="#bdbdbd" stroke-width="0.5" stroke-opacity="0.4"/><line x1="45.58" y1="233.27" x2="43.11" y2="231.33" stroke="#bdbdbd" stroke-width="0.5" stroke-opacity="0.3"/><line x1="35.81" y1="234.13" x2="38.18" y2="229.71" stroke="#bdbdbd" stroke-width="0.5" stroke-opacity="0.24"/><line x1="38.54" y1="234.13" x2="40" y2="230.71" stroke="#bdbdbd" stroke-width="0.5" stroke-opacity="0.32"/><line x1="32.92" y1="234.13" x2="37.1" y2="229.48" stroke="#bdbdbd" stroke-width="0.5" stroke-opacity="0.22"/><line x1="31.33" y1="233.58" x2="38.64" y2="230.11" stroke="#bdbdbd" stroke-width="0.5" stroke-opacity="0.23"/><line x1="31.33" y1="224.97" x2="35.35" y2="226.02" stroke="#bdbdbd" stroke-width="0.5" stroke-opacity="0.37"/><line x1="31.33" y1="225.68" x2="36.57" y2="227.45" stroke="#bdbdbd" stroke-width="0.5" stroke-opacity="0.26"/>
<line x1="81.74" y1="206.11" x2="85.11" y2="207.6" stroke="#bdbdbd" stroke-width="0.5" stroke-opacity="0.3"/><line x1="119.98" y1="206.11" x2="106.87" y2="207.66" stroke="#bdbdbd" stroke-width="0.5" stroke-opacity="0.27"/><line x1="114.92" y1="206.11" x2="104.79" y2="206.99" stroke="#bdbdbd" stroke-width="0.5" stroke-opacity="0.4"/><line x1="122.31" y1="209.44" x2="101.06" y2="208.41" stroke="#bdbdbd" stroke-width="0.5" stroke-opacity="0.22"/><line x1="122.31" y1="206.91" x2="101.74" y2="207.46" stroke="#bdbdbd" stroke-width="0.5" stroke-opacity="0.33"/><line x1="122.31" y1="206.8" x2="107.53" y2="208.12" stroke="#bdbdbd" stroke-width="0.5" stroke-opacity="0.23"/><line x1="83.57" y1="211.93" x2="85.77" y2="210.56" stroke="#bdbdbd" stroke-width="0.5" stroke-opacity="0.31"/><line x1="84.62" y1="211.89" x2="86.82" y2="208.91" stroke="#bdbdbd" stroke-width="0.5" stroke-opacity="0.33"/><line x1="85.74" y1="211.85" x2="86.35" y2="210.71" stroke="#bdbdbd" stroke-width="0.5" stroke-opacity="0.25"/><line x1="63.29" y1="210.93" x2="76.44" y2="209.82" stroke="#bdbdbd" stroke-width="0.5" stroke-opacity="0.33"/><line x1="73.71" y1="211.45" x2="82.02" y2="211.09" stroke="#bdbdbd" stroke-width="0.5" stroke-opacity="0.27"/><line x1="79.27" y1="211.72" x2="84.32" y2="210.82" stroke="#bdbdbd" stroke-width="0.5" stroke-opacity="0.39"/><line x1="54.19" y1="209.31" x2="70.49" y2="209.89" stroke="#bdbdbd" stroke-width="0.5" stroke-opacity="0.36"/><line x1="54.41" y1="209.49" x2="70.03" y2="208.64" stroke="#bdbdbd" stroke-width="0.5" stroke-opacity="0.25"/><line x1="53.11" y1="208.44" x2="62.61" y2="209.67" stroke="#bdbdbd" stroke-width="0.5" stroke-opacity="0.38"/>
<line x1="88.92" y1="213.92" x2="98.18" y2="217.93" stroke="#bdbdbd" stroke-width="0.5" stroke-opacity="0.22"/><line x1="105.56" y1="214.51" x2="105.42" y2="215.79" stroke="#bdbdbd" stroke-width="0.5" stroke-opacity="0.29"/><line x1="91.7" y1="214.02" x2="98.26" y2="218.46" stroke="#bdbdbd" stroke-width="0.5" stroke-opacity="0.32"/><line x1="112.54" y1="215.74" x2="107.41" y2="216.69" stroke="#bdbdbd" stroke-width="0.5" stroke-opacity="0.38"/><line x1="113.62" y1="216.59" x2="111.49" y2="217.91" stroke="#bdbdbd" stroke-width="0.5" stroke-opacity="0.29"/><line x1="112.87" y1="216" x2="108.26" y2="218.19" stroke="#bdbdbd" stroke-width="0.5" stroke-opacity="0.31"/><line x1="116.63" y1="224.16" x2="108.05" y2="220.75" stroke="#bdbdbd" stroke-width="0.5" stroke-opacity="0.31"/><line x1="115.49" y1="224.99" x2="108.7" y2="221.53" stroke="#bdbdbd" stroke-width="0.5" stroke-opacity="0.36"/><line x1="119.45" y1="222.11" x2="111.41" y2="221.84" stroke="#bdbdbd" stroke-width="0.5" stroke-opacity="0.42"/><line x1="102.85" y1="223.48" x2="102.62" y2="221.88" stroke="#bdbdbd" stroke-width="0.5" stroke-opacity="0.23"/><line x1="107.82" y1="224.64" x2="106.72" y2="221.79" stroke="#bdbdbd" stroke-width="0.5" stroke-opacity="0.24"/><line x1="112.5" y1="225.73" x2="106.07" y2="222.82" stroke="#bdbdbd" stroke-width="0.5" stroke-opacity="0.28"/><line x1="89.22" y1="219.41" x2="94.84" y2="220.6" stroke="#bdbdbd" stroke-width="0.5" stroke-opacity="0.39"/><line x1="90.63" y1="219.9" x2="99.7" y2="220.79" stroke="#bdbdbd" stroke-width="0.5" stroke-opacity="0.27"/><line x1="89.1" y1="219.37" x2="97.07" y2="218.69" stroke="#bdbdbd" stroke-width="0.5" stroke-opacity="0.4"/><line x1="87.64" y1="216.51" x2="96.07" y2="217.96" stroke="#bdbdbd" stroke-width="0.5" stroke-opacity="0.26"/><line x1="87.64" y1="215.44" x2="94.61" y2="217.92" stroke="#bdbdbd" stroke-width="0.5" stroke-opacity="0.4"/><line x1="87.64" y1="217.64" x2="97.7" y2="218.88" stroke="#bdbdbd" stroke-width="0.5" stroke-opacity="0.25"/>
<line x1="101.47" y1="229.22" x2="99.5" y2="230.59" stroke="#bdbdbd" stroke-width="0.5" stroke-opacity="0.27"/><line x1="89.56" y1="227.95" x2="95.97" y2="229.15" stroke="#bdbdbd" stroke-width="0.5" stroke-opacity="0.3"/><line x1="98.97" y1="228.95" x2="97.13" y2="230.27" stroke="#bdbdbd" stroke-width="0.5" stroke-opacity="0.26"/><line x1="106.38" y1="232.8" x2="103.72" y2="231.72" stroke="#bdbdbd" stroke-width="0.5" stroke-opacity="0.35"/><line x1="108.36" y1="230.08" x2="104.28" y2="229.94" stroke="#bdbdbd" stroke-width="0.5" stroke-opacity="0.25"/><line x1="107.51" y1="231.25" x2="104.87" y2="232.17" stroke="#bdbdbd" stroke-width="0.5" stroke-opacity="0.39"/><line x1="95.53" y1="232.15" x2="97.67" y2="231.39" stroke="#bdbdbd" stroke-width="0.5" stroke-opacity="0.31"/><line x1="104.81" y1="232.9" x2="101.21" y2="232.13" stroke="#bdbdbd" stroke-width="0.5" stroke-opacity="0.35"/><line x1="92.25" y1="231.89" x2="97.19" y2="231.65" stroke="#bdbdbd" stroke-width="0.5" stroke-opacity="0.21"/><line x1="87.71" y1="227.95" x2="92.71" y2="229.12" stroke="#bdbdbd" stroke-width="0.5" stroke-opacity="0.27"/><line x1="88.98" y1="231.5" x2="93.94" y2="230.03" stroke="#bdbdbd" stroke-width="0.5" stroke-opacity="0.4"/><line x1="87.77" y1="228.12" x2="94.29" y2="229.42" stroke="#bdbdbd" stroke-width="0.5" stroke-opacity="0.31"/>
<line x1="84.34" y1="241.7" x2="86.87" y2="245.54" stroke="#bdbdbd" stroke-width="0.5" stroke-opacity="0.32"/><line x1="85.51" y1="241.31" x2="85.61" y2="243.14" stroke="#bdbdbd" stroke-width="0.5" stroke-opacity="0.42"/><line x1="83.5" y1="241.98" x2="84.63" y2="242.46" stroke="#bdbdbd" stroke-width="0.5" stroke-opacity="0.32"/><line x1="90.03" y1="241.02" x2="86.88" y2="244.81" stroke="#bdbdbd" stroke-width="0.5" stroke-opacity="0.27"/><line x1="91.77" y1="245.2" x2="89.7" y2="244.87" stroke="#bdbdbd" stroke-width="0.5" stroke-opacity="0.42"/><line x1="89.99" y1="240.94" x2="87.42" y2="242.97" stroke="#bdbdbd" stroke-width="0.5" stroke-opacity="0.23"/><line x1="89.58" y1="249.07" x2="88.25" y2="247.33" stroke="#bdbdbd" stroke-width="0.5" stroke-opacity="0.23"/><line x1="87.43" y1="250.99" x2="88.16" y2="248.05" stroke="#bdbdbd" stroke-width="0.5" stroke-opacity="0.27"/><line x1="87.62" y1="250.82" x2="86.26" y2="247.86" stroke="#bdbdbd" stroke-width="0.5" stroke-opacity="0.32"/><line x1="86.1" y1="250.63" x2="85.27" y2="249.02" stroke="#bdbdbd" stroke-width="0.5" stroke-opacity="0.3"/><line x1="85.61" y1="250.46" x2="85.7" y2="248.09" stroke="#bdbdbd" stroke-width="0.5" stroke-opacity="0.37"/><line x1="86.62" y1="250.8" x2="86.48" y2="248.87" stroke="#bdbdbd" stroke-width="0.5" stroke-opacity="0.31"/><line x1="81.41" y1="243.66" x2="85.67" y2="246.21" stroke="#bdbdbd" stroke-width="0.5" stroke-opacity="0.26"/><line x1="81.98" y1="247.08" x2="82.86" y2="246.16" stroke="#bdbdbd" stroke-width="0.5" stroke-opacity="0.26"/><line x1="82" y1="247.16" x2="85.12" y2="247.3" stroke="#bdbdbd" stroke-width="0.5" stroke-opacity="0.32"/>
<line x1="99.01" y1="238.15" x2="98.31" y2="242" stroke="#bdbdbd" stroke-width="0.5" stroke-opacity="0.33"/><line x1="97.37" y1="238.56" x2="96.4" y2="240.06" stroke="#bdbdbd" stroke-width="0.5" stroke-opacity="0.3"/><line x1="94.89" y1="239.18" x2="95.4" y2="241.82" stroke="#bdbdbd" stroke-width="0.5" stroke-opacity="0.26"/><line x1="101.13" y1="240.9" x2="99.87" y2="242.15" stroke="#bdbdbd" stroke-width="0.5" stroke-opacity="0.36"/><line x1="101.67" y1="244.66" x2="99.78" y2="243.98" stroke="#bdbdbd" stroke-width="0.5" stroke-opacity="0.39"/><line x1="101.01" y1="240.09" x2="97.86" y2="242.61" stroke="#bdbdbd" stroke-width="0.5" stroke-opacity="0.34"/><line x1="101.62" y1="245.59" x2="100.73" y2="244.44" stroke="#bdbdbd" stroke-width="0.5" stroke-opacity="0.22"/><line x1="99.44" y1="246.8" x2="98.33" y2="244.88" stroke="#bdbdbd" stroke-width="0.5" stroke-opacity="0.41"/><line x1="98.44" y1="247.36" x2="97.82" y2="246.17" stroke="#bdbdbd" stroke-width="0.5" stroke-opacity="0.26"/><line x1="95.19" y1="246.94" x2="95.48" y2="243.93" stroke="#bdbdbd" stroke-width="0.5" stroke-opacity="0.22"/><line x1="94.56" y1="246.42" x2="96.65" y2="244.79" stroke="#bdbdbd" stroke-width="0.5" stroke-opacity="0.22"/><line x1="95.58" y1="247.26" x2="96" y2="244.84" stroke="#bdbdbd" stroke-width="0.5" stroke-opacity="0.29"/><line x1="93.59" y1="244.11" x2="94.82" y2="242.74" stroke="#bdbdbd" stroke-width="0.5" stroke-opacity="0.3"/><line x1="93.69" y1="243.05" x2="96.43" y2="243.09" stroke="#bdbdbd" stroke-width="0.5" stroke-opacity="0.21"/><line x1="93.86" y1="241.16" x2="96.2" y2="243.56" stroke="#bdbdbd" stroke-width="0.5" stroke-opacity="0.31"/>
<line x1="106.19" y1="238.75" x2="107.71" y2="241.51" stroke="#bdbdbd" stroke-width="0.5" stroke-opacity="0.24"/><line x1="108.47" y1="237.53" x2="110.36" y2="240.05" stroke="#bdbdbd" stroke-width="0.5" stroke-opacity="0.36"/><line x1="110.74" y1="236.32" x2="111.71" y2="240.66" stroke="#bdbdbd" stroke-width="0.5" stroke-opacity="0.37"/><line x1="112.99" y1="235.67" x2="110.64" y2="240.1" stroke="#bdbdbd" stroke-width="0.5" stroke-opacity="0.29"/><line x1="112" y1="235.89" x2="112.5" y2="240.65" stroke="#bdbdbd" stroke-width="0.5" stroke-opacity="0.39"/><line x1="114.71" y1="235.29" x2="111.65" y2="241.58" stroke="#bdbdbd" stroke-width="0.5" stroke-opacity="0.3"/><line x1="121.47" y1="236.21" x2="115.65" y2="238.49" stroke="#bdbdbd" stroke-width="0.5" stroke-opacity="0.31"/><line x1="121.87" y1="239.8" x2="114.48" y2="242.17" stroke="#bdbdbd" stroke-width="0.5" stroke-opacity="0.26"/><line x1="121.23" y1="234.06" x2="115.08" y2="239.92" stroke="#bdbdbd" stroke-width="0.5" stroke-opacity="0.37"/><line x1="116.95" y1="248.43" x2="113.75" y2="246.81" stroke="#bdbdbd" stroke-width="0.5" stroke-opacity="0.4"/><line x1="116.42" y1="248.88" x2="114.56" y2="247.52" stroke="#bdbdbd" stroke-width="0.5" stroke-opacity="0.41"/><line x1="118.39" y1="247.2" x2="114" y2="244.55" stroke="#bdbdbd" stroke-width="0.5" stroke-opacity="0.27"/><line x1="108.54" y1="251.62" x2="110.08" y2="249.24" stroke="#bdbdbd" stroke-width="0.5" stroke-opacity="0.27"/><line x1="109.91" y1="251.36" x2="109.6" y2="246.91" stroke="#bdbdbd" stroke-width="0.5" stroke-opacity="0.37"/><line x1="105.97" y1="252.1" x2="108.39" y2="249.5" stroke="#bdbdbd" stroke-width="0.5" stroke-opacity="0.27"/><line x1="101.8" y1="250.01" x2="108.42" y2="246.13" stroke="#bdbdbd" stroke-width="0.5" stroke-opacity="0.23"/><line x1="103.09" y1="250.72" x2="108.6" y2="247.47" stroke="#bdbdbd" stroke-width="0.5" stroke-opacity="0.32"/><line x1="101.4" y1="249.78" x2="107.88" y2="245.42" stroke="#bdbdbd" stroke-width="0.5" stroke-opacity="0.21"/><line x1="101.98" y1="244.18" x2="103.99" y2="245.25" stroke="#bdbdbd" stroke-width="0.5" stroke-opacity="0.26"/><line x1="102.21" y1="243.27" x2="107.02" y2="243.79" stroke="#bdbdbd" stroke-width="0.5" stroke-opacity="0.4"/><line x1="102.28" y1="242.95" x2="107.05" y2="243.68" stroke="#bdbdbd" stroke-width="0.5" stroke-opacity="0.26"/>
<line x1="90.07" y1="250.26" x2="90.26" y2="252.46" stroke="#bdbdbd" stroke-width="0.5" stroke-opacity="0.38"/><line x1="87.53" y1="250.95" x2="88.97" y2="252.68" stroke="#bdbdbd" stroke-width="0.5" stroke-opacity="0.26"/><line x1="91.16" y1="249.96" x2="90.99" y2="251.33" stroke="#bdbdbd" stroke-width="0.5" stroke-opacity="0.37"/><line x1="91.92" y1="252.28" x2="90.74" y2="253.17" stroke="#bdbdbd" stroke-width="0.5" stroke-opacity="0.27"/><line x1="92.27" y1="253.53" x2="91" y2="253.04" stroke="#bdbdbd" stroke-width="0.5" stroke-opacity="0.36"/><line x1="91.95" y1="252.41" x2="89.42" y2="252.62" stroke="#bdbdbd" stroke-width="0.5" stroke-opacity="0.35"/><line x1="89.28" y1="254.44" x2="89.22" y2="252.69" stroke="#bdbdbd" stroke-width="0.5" stroke-opacity="0.35"/><line x1="91.99" y1="253.89" x2="90.02" y2="254.57" stroke="#bdbdbd" stroke-width="0.5" stroke-opacity="0.4"/><line x1="88.88" y1="254.52" x2="88.19" y2="253.6" stroke="#bdbdbd" stroke-width="0.5" stroke-opacity="0.31"/><line x1="86.63" y1="254.57" x2="86.84" y2="253.03" stroke="#bdbdbd" stroke-width="0.5" stroke-opacity="0.24"/><line x1="86.4" y1="254.11" x2="88.01" y2="253.23" stroke="#bdbdbd" stroke-width="0.5" stroke-opacity="0.24"/><line x1="86.55" y1="254.42" x2="87.73" y2="254.06" stroke="#bdbdbd" stroke-width="0.5" stroke-opacity="0.37"/>
<line x1="36.59" y1="237.47" x2="36.21" y2="238.5" stroke="#bdbdbd" stroke-width="0.5" stroke-opacity="0.4"/><line x1="38.08" y1="237.31" x2="37.29" y2="240.83" stroke="#bdbdbd" stroke-width="0.5" stroke-opacity="0.37"/><line x1="29.11" y1="238.29" x2="30.04" y2="240.06" stroke="#bdbdbd" stroke-width="0.5" stroke-opacity="0.25"/><line x1="43.15" y1="239.47" x2="38.93" y2="239.8" stroke="#bdbdbd" stroke-width="0.5" stroke-opacity="0.4"/><line x1="42.38" y1="237.91" x2="38.45" y2="240.4" stroke="#bdbdbd" stroke-width="0.5" stroke-opacity="0.29"/><line x1="43.75" y1="240.66" x2="39.29" y2="240.47" stroke="#bdbdbd" stroke-width="0.5" stroke-opacity="0.3"/><line x1="38.44" y1="243.69" x2="37.17" y2="242.69" stroke="#bdbdbd" stroke-width="0.5" stroke-opacity="0.36"/><line x1="40.41" y1="243.29" x2="39.84" y2="242.73" stroke="#bdbdbd" stroke-width="0.5" stroke-opacity="0.4"/><line x1="41.48" y1="243.08" x2="38.1" y2="241.42" stroke="#bdbdbd" stroke-width="0.5" stroke-opacity="0.24"/><line x1="30.55" y1="244.11" x2="33.18" y2="243.89" stroke="#bdbdbd" stroke-width="0.5" stroke-opacity="0.24"/><line x1="31.07" y1="244.11" x2="33" y2="243.07" stroke="#bdbdbd" stroke-width="0.5" stroke-opacity="0.41"/><line x1="33.9" y1="244.11" x2="34.81" y2="242.05" stroke="#bdbdbd" stroke-width="0.5" stroke-opacity="0.24"/><line x1="29.11" y1="240.24" x2="33.08" y2="239.73" stroke="#bdbdbd" stroke-width="0.5" stroke-opacity="0.32"/><line x1="29.11" y1="242.57" x2="33.16" y2="240.53" stroke="#bdbdbd" stroke-width="0.5" stroke-opacity="0.28"/><line x1="29.11" y1="241.72" x2="32.05" y2="240.96" stroke="#bdbdbd" stroke-width="0.5" stroke-opacity="0.41"/>
<line x1="46.2" y1="243.87" x2="50.88" y2="245.49" stroke="#bdbdbd" stroke-width="0.5" stroke-opacity="0.25"/><line x1="50.91" y1="244.92" x2="55.13" y2="248.61" stroke="#bdbdbd" stroke-width="0.5" stroke-opacity="0.25"/><line x1="57.66" y1="246.42" x2="58.3" y2="248.64" stroke="#bdbdbd" stroke-width="0.5" stroke-opacity="0.23"/><line x1="62.71" y1="249.23" x2="60.77" y2="250.36" stroke="#bdbdbd" stroke-width="0.5" stroke-opacity="0.38"/><line x1="66.92" y1="251.86" x2="63.89" y2="252.53" stroke="#bdbdbd" stroke-width="0.5" stroke-opacity="0.36"/><line x1="66.98" y1="251.9" x2="62.99" y2="251.43" stroke="#bdbdbd" stroke-width="0.5" stroke-opacity="0.34"/><line x1="69.26" y1="254.06" x2="61.78" y2="252.82" stroke="#bdbdbd" stroke-width="0.5" stroke-opacity="0.4"/><line x1="68.5" y1="255.21" x2="65.14" y2="253.46" stroke="#bdbdbd" stroke-width="0.5" stroke-opacity="0.34"/><line x1="67.61" y1="256.54" x2="60.57" y2="252.3" stroke="#bdbdbd" stroke-width="0.5" stroke-opacity="0.39"/><line x1="65.99" y1="257.28" x2="61.45" y2="254.53" stroke="#bdbdbd" stroke-width="0.5" stroke-opacity="0.38"/><line x1="62.11" y1="255.34" x2="59.57" y2="254.65" stroke="#bdbdbd" stroke-width="0.5" stroke-opacity="0.33"/><line x1="56.46" y1="252.52" x2="56.28" y2="251.01" stroke="#bdbdbd" stroke-width="0.5" stroke-opacity="0.34"/><line x1="51.07" y1="250.6" x2="55.28" y2="250.16" stroke="#bdbdbd" stroke-width="0.5" stroke-opacity="0.23"/><line x1="49.2" y1="249.98" x2="54.31" y2="249.91" stroke="#bdbdbd" stroke-width="0.5" stroke-opacity="0.32"/><line x1="52.62" y1="251.12" x2="55.34" y2="250.74" stroke="#bdbdbd" stroke-width="0.5" stroke-opacity="0.29"/><line x1="47.07" y1="247.99" x2="54.98" y2="248.99" stroke="#bdbdbd" stroke-width="0.5" stroke-opacity="0.29"/><line x1="46.42" y1="245.39" x2="50.76" y2="247.65" stroke="#bdbdbd" stroke-width="0.5" stroke-opacity="0.27"/><line x1="46.88" y1="247.23" x2="53.94" y2="248.08" stroke="#bdbdbd" stroke-width="0.5" stroke-opacity="0.39"/>
<line x1="59.48" y1="260.36" x2="61.21" y2="263.59" stroke="#bdbdbd" stroke-width="0.5" stroke-opacity="0.26"/><line x1="67.49" y1="259.36" x2="66.77" y2="262.21" stroke="#bdbdbd" stroke-width="0.5" stroke-opacity="0.32"/><line x1="63.42" y1="259.87" x2="64.77" y2="263.68" stroke="#bdbdbd" stroke-width="0.5" stroke-opacity="0.3"/><line x1="70.18" y1="261.09" x2="66.84" y2="265.19" stroke="#bdbdbd" stroke-width="0.5" stroke-opacity="0.28"/><line x1="70.46" y1="262.07" x2="68.94" y2="264.58" stroke="#bdbdbd" stroke-width="0.5" stroke-opacity="0.27"/><line x1="71.53" y1="265.81" x2="66.18" y2="266.57" stroke="#bdbdbd" stroke-width="0.5" stroke-opacity="0.31"/><line x1="65.04" y1="272.71" x2="64.47" y2="267.81" stroke="#bdbdbd" stroke-width="0.5" stroke-opacity="0.3"/><line x1="69.22" y1="270.49" x2="68.1" y2="269.86" stroke="#bdbdbd" stroke-width="0.5" stroke-opacity="0.3"/><line x1="71.42" y1="269.31" x2="67.62" y2="266.6" stroke="#bdbdbd" stroke-width="0.5" stroke-opacity="0.23"/><line x1="61.9" y1="271.51" x2="61.74" y2="271.14" stroke="#bdbdbd" stroke-width="0.5" stroke-opacity="0.32"/><line x1="63.04" y1="272.42" x2="62.95" y2="270.29" stroke="#bdbdbd" stroke-width="0.5" stroke-opacity="0.41"/><line x1="63.04" y1="272.42" x2="64.09" y2="268.94" stroke="#bdbdbd" stroke-width="0.5" stroke-opacity="0.33"/><line x1="58.51" y1="260.82" x2="62.97" y2="264.02" stroke="#bdbdbd" stroke-width="0.5" stroke-opacity="0.27"/><line x1="58.51" y1="267.44" x2="60.94" y2="266.76" stroke="#bdbdbd" stroke-width="0.5" stroke-opacity="0.32"/><line x1="58.51" y1="260.88" x2="63.09" y2="264.53" stroke="#bdbdbd" stroke-width="0.5" stroke-opacity="0.26"/>
<line x1="29.41" y1="260.54" x2="34.98" y2="266.97" stroke="#bdbdbd" stroke-width="0.5" stroke-opacity="0.23"/><line x1="33.29" y1="261.28" x2="36.83" y2="266.89" stroke="#bdbdbd" stroke-width="0.5" stroke-opacity="0.36"/><line x1="30.7" y1="260.78" x2="35.24" y2="265.45" stroke="#bdbdbd" stroke-width="0.5" stroke-opacity="0.26"/><line x1="38.17" y1="264.02" x2="38.48" y2="267.67" stroke="#bdbdbd" stroke-width="0.5" stroke-opacity="0.31"/><line x1="40.16" y1="266.34" x2="41.23" y2="269.19" stroke="#bdbdbd" stroke-width="0.5" stroke-opacity="0.24"/><line x1="37.79" y1="263.58" x2="39.7" y2="268.7" stroke="#bdbdbd" stroke-width="0.5" stroke-opacity="0.26"/><line x1="49.89" y1="273.32" x2="46.21" y2="272.58" stroke="#bdbdbd" stroke-width="0.5" stroke-opacity="0.4"/><line x1="51.1" y1="273.73" x2="45.16" y2="271.12" stroke="#bdbdbd" stroke-width="0.5" stroke-opacity="0.34"/><line x1="46.92" y1="272.33" x2="44.47" y2="271.95" stroke="#bdbdbd" stroke-width="0.5" stroke-opacity="0.33"/><line x1="54.18" y1="276.17" x2="51.34" y2="273.59" stroke="#bdbdbd" stroke-width="0.5" stroke-opacity="0.41"/><line x1="55.7" y1="278.46" x2="46.8" y2="274.99" stroke="#bdbdbd" stroke-width="0.5" stroke-opacity="0.28"/><line x1="53.96" y1="275.84" x2="46.16" y2="271.81" stroke="#bdbdbd" stroke-width="0.5" stroke-opacity="0.41"/><line x1="51.38" y1="279.16" x2="47.03" y2="275.42" stroke="#bdbdbd" stroke-width="0.5" stroke-opacity="0.3"/><line x1="46.42" y1="279.91" x2="43.33" y2="274.28" stroke="#bdbdbd" stroke-width="0.5" stroke-opacity="0.3"/><line x1="50.44" y1="279.3" x2="46.77" y2="275.66" stroke="#bdbdbd" stroke-width="0.5" stroke-opacity="0.37"/><line x1="43.48" y1="279.56" x2="42.41" y2="277.57" stroke="#bdbdbd" stroke-width="0.5" stroke-opacity="0.23"/><line x1="36.28" y1="275.78" x2="37.77" y2="273.92" stroke="#bdbdbd" stroke-width="0.5" stroke-opacity="0.42"/><line x1="33.6" y1="274.38" x2="36.49" y2="272.81" stroke="#bdbdbd" stroke-width="0.5" stroke-opacity="0.28"/><line x1="29.89" y1="269.78" x2="35.84" y2="270.11" stroke="#bdbdbd" stroke-width="0.5" stroke-opacity="0.29"/><line x1="31.46" y1="271.74" x2="36.66" y2="271.61" stroke="#bdbdbd" stroke-width="0.5" stroke-opacity="0.38"/><line x1="33.3" y1="274.04" x2="36.56" y2="272.03" stroke="#bdbdbd" stroke-width="0.5" stroke-opacity="0.41"/><line x1="29.11" y1="265.19" x2="34.4" y2="268.3" stroke="#bdbdbd" stroke-width="0.5" stroke-opacity="0.31"/><line x1="29.11" y1="262.32" x2="34.3" y2="265.94" stroke="#bdbdbd" stroke-width="0.5" stroke-opacity="0.26"/><line x1="29.11" y1="263.95" x2="31.8" y2="265.8" stroke="#bdbdbd" stroke-width="0.5" stroke-opacity="0.26"/>
<line x1="51.38" y1="280.53" x2="53.04" y2="283.87" stroke="#bdbdbd" stroke-width="0.5" stroke-opacity="0.34"/><line x1="52.85" y1="279.94" x2="54.83" y2="282.3" stroke="#bdbdbd" stroke-width="0.5" stroke-opacity="0.31"/><line x1="47.02" y1="282.27" x2="54.65" y2="285.94" stroke="#bdbdbd" stroke-width="0.5" stroke-opacity="0.29"/><line x1="59.2" y1="278.09" x2="58.22" y2="282.84" stroke="#bdbdbd" stroke-width="0.5" stroke-opacity="0.34"/><line x1="67.54" y1="276.43" x2="60.54" y2="284.66" stroke="#bdbdbd" stroke-width="0.5" stroke-opacity="0.29"/><line x1="57.35" y1="278.46" x2="58.61" y2="282.71" stroke="#bdbdbd" stroke-width="0.5" stroke-opacity="0.27"/><line x1="73.76" y1="277.49" x2="66.89" y2="283.95" stroke="#bdbdbd" stroke-width="0.5" stroke-opacity="0.42"/><line x1="70.14" y1="276.2" x2="63.19" y2="283.42" stroke="#bdbdbd" stroke-width="0.5" stroke-opacity="0.39"/><line x1="71.94" y1="276.84" x2="67.87" y2="280.86" stroke="#bdbdbd" stroke-width="0.5" stroke-opacity="0.4"/><line x1="77.38" y1="288.04" x2="71.98" y2="287.69" stroke="#bdbdbd" stroke-width="0.5" stroke-opacity="0.39"/><line x1="77.38" y1="288.89" x2="68.96" y2="288.13" stroke="#bdbdbd" stroke-width="0.5" stroke-opacity="0.28"/><line x1="77.38" y1="284.68" x2="66.91" y2="287.21" stroke="#bdbdbd" stroke-width="0.5" stroke-opacity="0.3"/><line x1="70.26" y1="298.76" x2="67.01" y2="296.03" stroke="#bdbdbd" stroke-width="0.5" stroke-opacity="0.34"/><line x1="74.56" y1="298.76" x2="63.68" y2="291.98" stroke="#bdbdbd" stroke-width="0.5" stroke-opacity="0.24"/><line x1="71.91" y1="298.76" x2="68.52" y2="295.44" stroke="#bdbdbd" stroke-width="0.5" stroke-opacity="0.41"/><line x1="68.08" y1="294.05" x2="64.95" y2="291.16" stroke="#bdbdbd" stroke-width="0.5" stroke-opacity="0.32"/><line x1="68.08" y1="294.01" x2="61.95" y2="291.06" stroke="#bdbdbd" stroke-width="0.5" stroke-opacity="0.42"/><line x1="68.5" y1="292.44" x2="63.24" y2="290.96" stroke="#bdbdbd" stroke-width="0.5" stroke-opacity="0.39"/><line x1="62.33" y1="284.34" x2="60.6" y2="286.21" stroke="#bdbdbd" stroke-width="0.5" stroke-opacity="0.37"/><line x1="63.67" y1="285.05" x2="59.73" y2="287.84" stroke="#bdbdbd" stroke-width="0.5" stroke-opacity="0.21"/><line x1="66.4" y1="286.5" x2="62.87" y2="286.16" stroke="#bdbdbd" stroke-width="0.5" stroke-opacity="0.32"/><line x1="59.75" y1="284.4" x2="59.58" y2="286.15" stroke="#bdbdbd" stroke-width="0.5" stroke-opacity="0.28"/><line x1="60.83" y1="283.96" x2="58.76" y2="286.51" stroke="#bdbdbd" stroke-width="0.5" stroke-opacity="0.4"/><line x1="59.61" y1="284.45" x2="58.49" y2="286.82" stroke="#bdbdbd" stroke-width="0.5" stroke-opacity="0.3"/><line x1="49.19" y1="290.33" x2="55.28" y2="288.24" stroke="#bdbdbd" stroke-width="0.5" stroke-opacity="0.31"/><line x1="47.2" y1="294.54" x2="53.97" y2="289.51" stroke="#bdbdbd" stroke-width="0.5" stroke-opacity="0.31"/><line x1="45.96" y1="297.16" x2="50.18" y2="294.83" stroke="#bdbdbd" stroke-width="0.5" stroke-opacity="0.31"/><line x1="41.05" y1="298.76" x2="51.37" y2="293.72" stroke="#bdbdbd" stroke-width="0.5" stroke-opacity="0.34"/><line x1="43.11" y1="298.76" x2="49.41" y2="293.58" stroke="#bdbdbd" stroke-width="0.5" stroke-opacity="0.27"/><line x1="42.7" y1="298.76" x2="54.07" y2="292.3" stroke="#bdbdbd" stroke-width="0.5" stroke-opacity="0.36"/><line x1="39.26" y1="296.04" x2="46.37" y2="293.62" stroke="#bdbdbd" stroke-width="0.5" stroke-opacity="0.35"/><line x1="40.35" y1="291.9" x2="45.51" y2="291.69" stroke="#bdbdbd" stroke-width="0.5" stroke-opacity="0.32"/><line x1="40.64" y1="290.77" x2="51.75" y2="288.84" stroke="#bdbdbd" stroke-width="0.5" stroke-opacity="0.33"/><line x1="44.24" y1="283.83" x2="49.12" y2="284.78" stroke="#bdbdbd" stroke-width="0.5" stroke-opacity="0.35"/><line x1="41.72" y1="287.61" x2="50.39" y2="288.15" stroke="#bdbdbd" stroke-width="0.5" stroke-opacity="0.31"/><line x1="42.36" y1="286.65" x2="49.31" y2="288.37" stroke="#bdbdbd" stroke-width="0.5" stroke-opacity="0.24"/>
<line x1="30.81" y1="283.14" x2="30.58" y2="287.58" stroke="#bdbdbd" stroke-width="0.5" stroke-opacity="0.38"/><line x1="31.71" y1="283.39" x2="32.6" y2="285.94" stroke="#bdbdbd" stroke-width="0.5" stroke-opacity="0.4"/><line x1="30.62" y1="283.09" x2="30.74" y2="286.01" stroke="#bdbdbd" stroke-width="0.5" stroke-opacity="0.31"/><line x1="33.55" y1="298.6" x2="31.2" y2="293.66" stroke="#bdbdbd" stroke-width="0.5" stroke-opacity="0.24"/><line x1="33.83" y1="291.19" x2="33.16" y2="291.96" stroke="#bdbdbd" stroke-width="0.5" stroke-opacity="0.31"/><line x1="33.62" y1="296.88" x2="32.51" y2="294.02" stroke="#bdbdbd" stroke-width="0.5" stroke-opacity="0.38"/><line x1="29.93" y1="298.76" x2="30.19" y2="294.43" stroke="#bdbdbd" stroke-width="0.5" stroke-opacity="0.22"/><line x1="30.75" y1="298.76" x2="30.34" y2="295.57" stroke="#bdbdbd" stroke-width="0.5" stroke-opacity="0.38"/><line x1="32.27" y1="298.76" x2="31.92" y2="292.68" stroke="#bdbdbd" stroke-width="0.5" stroke-opacity="0.26"/><line x1="29.11" y1="282.74" x2="30.4" y2="285.73" stroke="#bdbdbd" stroke-width="0.5" stroke-opacity="0.38"/><line x1="29.11" y1="292.77" x2="28.85" y2="291.89" stroke="#bdbdbd" stroke-width="0.5" stroke-opacity="0.23"/><line x1="29.11" y1="293.84" x2="29.66" y2="293.5" stroke="#bdbdbd" stroke-width="0.5" stroke-opacity="0.34"/>
</g>
<g filter="url(#e05)" fill="none" stroke="#d0d0d0" stroke-width="0.8" stroke-opacity="0.75">
<path d="M62 220 C72 212 100 212 114 222 C104 232 76 232 62 222Z"/>
<path d="M102 214 L104 232"/><path d="M30 236 C50 236 58 228 64 222"/>
</g>
<circle cx="81.15" cy="233.29" r="0.54" fill="#f4f4f4" fill-opacity="0.85"/>
<circle cx="97.12" cy="233.24" r="0.58" fill="#f4f4f4" fill-opacity="0.85"/>
<circle cx="51.45" cy="226.11" r="0.58" fill="#f4f4f4" fill-opacity="0.85"/>
<circle cx="82.45" cy="237.42" r="0.33" fill="#f4f4f4" fill-opacity="0.85"/>
<circle cx="73.45" cy="220.41" r="0.46" fill="#f4f4f4" fill-opacity="0.85"/>
<circle cx="78.7" cy="214.34" r="0.37" fill="#f4f4f4" fill-opacity="0.85"/>
<circle cx="63.97" cy="237.82" r="0.53" fill="#f4f4f4" fill-opacity="0.85"/>
<circle cx="57.98" cy="234.73" r="0.34" fill="#f4f4f4" fill-opacity="0.85"/>
<circle cx="80.87" cy="217.29" r="0.3" fill="#f4f4f4" fill-opacity="0.85"/>
<circle cx="93.57" cy="219.45" r="0.36" fill="#f4f4f4" fill-opacity="0.85"/>
<circle cx="99.12" cy="236.68" r="0.39" fill="#f4f4f4" fill-opacity="0.85"/>
<circle cx="98.07" cy="228.02" r="0.5" fill="#f4f4f4" fill-opacity="0.85"/>
<circle cx="60.24" cy="238.47" r="0.51" fill="#f4f4f4" fill-opacity="0.85"/>
<circle cx="98.33" cy="237.24" r="0.39" fill="#f4f4f4" fill-opacity="0.85"/>
<circle cx="68.06" cy="218.31" r="0.34" fill="#f4f4f4" fill-opacity="0.85"/>
<circle cx="53.26" cy="221.84" r="0.48" fill="#f4f4f4" fill-opacity="0.85"/>
<circle cx="50.17" cy="231.63" r="0.4" fill="#f4f4f4" fill-opacity="0.85"/>
<circle cx="65.5" cy="235.28" r="0.44" fill="#f4f4f4" fill-opacity="0.85"/>
<circle cx="65.79" cy="226.51" r="0.51" fill="#f4f4f4" fill-opacity="0.85"/>
<circle cx="52.85" cy="239.35" r="0.31" fill="#f4f4f4" fill-opacity="0.85"/>
<circle cx="87.49" cy="235.97" r="0.31" fill="#f4f4f4" fill-opacity="0.85"/>
<circle cx="89.39" cy="223.52" r="0.47" fill="#f4f4f4" fill-opacity="0.85"/>
<circle cx="50.45" cy="215.21" r="0.35" fill="#f4f4f4" fill-opacity="0.85"/>
<circle cx="97.76" cy="219.11" r="0.53" fill="#f4f4f4" fill-opacity="0.85"/>
<circle cx="96.48" cy="238.49" r="0.4" fill="#f4f4f4" fill-opacity="0.85"/>
<circle cx="67.74" cy="227.64" r="0.53" fill="#f4f4f4" fill-opacity="0.85"/>
<circle cx="55.4" cy="233.46" r="0.54" fill="#f4f4f4" fill-opacity="0.85"/>
<circle cx="92.98" cy="214.95" r="0.58" fill="#f4f4f4" fill-opacity="0.85"/>
<circle cx="54.56" cy="222.86" r="0.48" fill="#f4f4f4" fill-opacity="0.85"/>
<circle cx="95.9" cy="222.84" r="0.58" fill="#f4f4f4" fill-opacity="0.85"/>
<circle cx="77.26" cy="222.12" r="0.4" fill="#f4f4f4" fill-opacity="0.85"/>
<circle cx="58.87" cy="216.03" r="0.34" fill="#f4f4f4" fill-opacity="0.85"/>
<circle cx="84.46" cy="239.91" r="0.35" fill="#f4f4f4" fill-opacity="0.85"/>
<circle cx="52.43" cy="239.65" r="0.46" fill="#f4f4f4" fill-opacity="0.85"/>
<circle cx="70.29" cy="220.17" r="0.48" fill="#f4f4f4" fill-opacity="0.85"/>
<circle cx="91.31" cy="225.85" r="0.43" fill="#f4f4f4" fill-opacity="0.85"/>
<circle cx="52.79" cy="237.82" r="0.31" fill="#f4f4f4" fill-opacity="0.85"/>
<circle cx="74.68" cy="235.8" r="0.34" fill="#f4f4f4" fill-opacity="0.85"/>
<circle cx="86.58" cy="238.69" r="0.49" fill="#f4f4f4" fill-opacity="0.85"/>
<circle cx="89.4" cy="216.77" r="0.43" fill="#f4f4f4" fill-opacity="0.85"/>
</g>
<rect x="32.2" y="218.2" width="18" height="17.6" fill="none" stroke="#fff" stroke-width="1" stroke-dasharray="3.4 2"/>
<rect x="77.6" y="254.8" width="43.3" height="43" fill="#3a3a3a"/>
<g clip-path="url(#ce1i)">
<g filter="url(#wobe)">
<path d="M79.32 278.51 C80.69 275.8 84.52 272.06 87.64 270.19 C90.76 268.31 96.38 266.57 100.12 266.03 C103.87 265.49 109.69 265.75 112.6 266.58 C115.52 267.41 118.71 269.91 119.54 271.57 C120.37 273.24 119.4 276.01 118.15 277.68 C116.9 279.34 114.34 281.3 111.22 282.67 C108.1 284.04 100.88 285.58 97.35 286.83 C93.81 288.08 89.93 289.74 87.64 290.99 C85.35 292.24 83.46 295.57 82.09 295.15 C80.72 294.74 78.9 290.71 78.49 288.22 C78.07 285.72 77.94 281.21 79.32 278.51Z" fill="#040404" stroke="#c8c8c8" stroke-width="0.9" stroke-opacity="0.7"/>
</g>
<g filter="url(#e05)">
<line x1="82.25" y1="275.58" x2="88.97" y2="276.94" stroke="#c8c8c8" stroke-width="0.5" stroke-opacity="0.3"/><line x1="82.58" y1="275.24" x2="86.43" y2="275.24" stroke="#c8c8c8" stroke-width="0.5" stroke-opacity="0.22"/><line x1="81.51" y1="276.31" x2="92.52" y2="278.6" stroke="#c8c8c8" stroke-width="0.5" stroke-opacity="0.38"/><line x1="86.8" y1="271.03" x2="91.63" y2="275.36" stroke="#c8c8c8" stroke-width="0.5" stroke-opacity="0.27"/><line x1="99.59" y1="266.2" x2="98.78" y2="270.17" stroke="#c8c8c8" stroke-width="0.5" stroke-opacity="0.32"/><line x1="94.6" y1="267.87" x2="95.78" y2="275.58" stroke="#c8c8c8" stroke-width="0.5" stroke-opacity="0.38"/><line x1="88.08" y1="270.04" x2="91.58" y2="273.54" stroke="#c8c8c8" stroke-width="0.5" stroke-opacity="0.31"/><line x1="90.8" y1="269.14" x2="95.43" y2="275.77" stroke="#c8c8c8" stroke-width="0.5" stroke-opacity="0.37"/><line x1="102.85" y1="266.15" x2="100.46" y2="274.2" stroke="#c8c8c8" stroke-width="0.5" stroke-opacity="0.33"/><line x1="103.7" y1="266.19" x2="99.46" y2="274.27" stroke="#c8c8c8" stroke-width="0.5" stroke-opacity="0.25"/><line x1="106.77" y1="266.32" x2="103.88" y2="270.52" stroke="#c8c8c8" stroke-width="0.5" stroke-opacity="0.25"/><line x1="109.24" y1="266.43" x2="102.43" y2="274.7" stroke="#c8c8c8" stroke-width="0.5" stroke-opacity="0.24"/><line x1="115.97" y1="269" x2="104.62" y2="276.31" stroke="#c8c8c8" stroke-width="0.5" stroke-opacity="0.29"/><line x1="119.41" y1="271.48" x2="109.34" y2="274.45" stroke="#c8c8c8" stroke-width="0.5" stroke-opacity="0.25"/><line x1="118.24" y1="270.64" x2="108.7" y2="274.88" stroke="#c8c8c8" stroke-width="0.5" stroke-opacity="0.38"/><line x1="112.83" y1="266.75" x2="107.57" y2="271.49" stroke="#c8c8c8" stroke-width="0.5" stroke-opacity="0.33"/><line x1="118.89" y1="274.45" x2="107.53" y2="276.88" stroke="#c8c8c8" stroke-width="0.5" stroke-opacity="0.2"/><line x1="119.2" y1="273.06" x2="111.64" y2="276.77" stroke="#c8c8c8" stroke-width="0.5" stroke-opacity="0.34"/><line x1="119.29" y1="272.65" x2="104.02" y2="276.33" stroke="#c8c8c8" stroke-width="0.5" stroke-opacity="0.36"/><line x1="119.06" y1="273.67" x2="109.37" y2="274.96" stroke="#c8c8c8" stroke-width="0.5" stroke-opacity="0.22"/><line x1="117.69" y1="278.01" x2="111.39" y2="277.63" stroke="#c8c8c8" stroke-width="0.5" stroke-opacity="0.3"/><line x1="114.75" y1="280.13" x2="105.2" y2="279.81" stroke="#c8c8c8" stroke-width="0.5" stroke-opacity="0.31"/><line x1="118.08" y1="277.73" x2="113.1" y2="279.24" stroke="#c8c8c8" stroke-width="0.5" stroke-opacity="0.27"/><line x1="112.14" y1="282.01" x2="102.16" y2="279.33" stroke="#c8c8c8" stroke-width="0.5" stroke-opacity="0.22"/><line x1="109.99" y1="283.04" x2="106.72" y2="281.44" stroke="#c8c8c8" stroke-width="0.5" stroke-opacity="0.38"/><line x1="103.8" y1="284.9" x2="101.37" y2="282.49" stroke="#c8c8c8" stroke-width="0.5" stroke-opacity="0.4"/><line x1="110.1" y1="283.01" x2="104.37" y2="282.44" stroke="#c8c8c8" stroke-width="0.5" stroke-opacity="0.28"/><line x1="106.31" y1="284.14" x2="103.79" y2="282.32" stroke="#c8c8c8" stroke-width="0.5" stroke-opacity="0.23"/><line x1="87.92" y1="290.87" x2="90.77" y2="288.11" stroke="#c8c8c8" stroke-width="0.5" stroke-opacity="0.36"/><line x1="93.13" y1="288.64" x2="96.04" y2="282.99" stroke="#c8c8c8" stroke-width="0.5" stroke-opacity="0.36"/><line x1="89.74" y1="290.09" x2="92.54" y2="284.49" stroke="#c8c8c8" stroke-width="0.5" stroke-opacity="0.36"/><line x1="95.73" y1="287.53" x2="95.26" y2="285.34" stroke="#c8c8c8" stroke-width="0.5" stroke-opacity="0.29"/><line x1="86.1" y1="292.14" x2="92.29" y2="286.88" stroke="#c8c8c8" stroke-width="0.5" stroke-opacity="0.39"/><line x1="86.59" y1="291.78" x2="91.64" y2="284.38" stroke="#c8c8c8" stroke-width="0.5" stroke-opacity="0.3"/><line x1="87.26" y1="291.28" x2="94.44" y2="284.66" stroke="#c8c8c8" stroke-width="0.5" stroke-opacity="0.32"/><line x1="84.66" y1="293.23" x2="92.72" y2="284.69" stroke="#c8c8c8" stroke-width="0.5" stroke-opacity="0.34"/><line x1="78.85" y1="288.92" x2="88.77" y2="284.51" stroke="#c8c8c8" stroke-width="0.5" stroke-opacity="0.3"/><line x1="80.99" y1="293.04" x2="92.4" y2="283.51" stroke="#c8c8c8" stroke-width="0.5" stroke-opacity="0.22"/><line x1="78.73" y1="288.68" x2="91.32" y2="282.51" stroke="#c8c8c8" stroke-width="0.5" stroke-opacity="0.27"/><line x1="78.97" y1="289.15" x2="91.74" y2="282.16" stroke="#c8c8c8" stroke-width="0.5" stroke-opacity="0.24"/><line x1="78.66" y1="286.19" x2="91.45" y2="283.05" stroke="#c8c8c8" stroke-width="0.5" stroke-opacity="0.29"/><line x1="79.13" y1="280.69" x2="86.83" y2="279.39" stroke="#c8c8c8" stroke-width="0.5" stroke-opacity="0.3"/><line x1="78.51" y1="287.95" x2="90.8" y2="282.81" stroke="#c8c8c8" stroke-width="0.5" stroke-opacity="0.37"/><line x1="78.73" y1="285.36" x2="87.08" y2="282.91" stroke="#c8c8c8" stroke-width="0.5" stroke-opacity="0.3"/>
</g>
<rect x="77.6" y="254.8" width="43.3" height="43" fill="#fff" filter="url(#nz)" opacity="0.08"/>
<circle cx="118.4" cy="272.4" r="1.2" fill="#fff"/>
<circle cx="119" cy="285.8" r="0.9" fill="#eee"/>
</g>
<rect x="77.6" y="254.8" width="43.8" height="43.5" fill="none" stroke="#fff" stroke-width="1"/>
<rect x="123.1" y="207.2" width="91.2" height="90.6" fill="#060606"/>
<rect x="123.1" y="207.2" width="91.2" height="90.6" fill="#fff" filter="url(#nz)" opacity="0.02"/>
<rect x="126" y="218.2" width="18" height="17.6" fill="none" stroke="#fff" stroke-width="1" stroke-dasharray="3.4 2"/>
<rect x="170.2" y="254.8" width="44.6" height="43.5" fill="#070707" stroke="#fff" stroke-width="1"/>
<rect x="29.7" y="300.1" width="91.2" height="90.8" fill="#343434"/>
<g clip-path="url(#ce3)">
<g filter="url(#e1)" transform="translate(0 0)">
<path d="M48 304 L62 302 L80 330 L82 352 L70 362 L58 358 L60 336 L50 320Z" fill="#444444"/>
<path d="M76 300 L100 300 L106 320 L98 340 L84 338 L80 318Z" fill="#464646"/>
<path d="M104 318 L121 300 L121 346 L96 344Z" fill="#404040"/>
<path d="M44 340 L60 338 L62 360 L52 374 L42 370Z" fill="#424242"/>
</g>
<rect x="29.7" y="300.1" width="91.2" height="90.8" fill="#fff" filter="url(#nz)" opacity="0.08"/>
<rect x="29.7" y="300.1" width="91.2" height="90.8" fill="#fff" filter="url(#nz2)" opacity="0.13"/>
<g filter="url(#wobe)">
<path d="M43.26 301.53 C45.75 299.79 55.56 299.58 58.51 301.53 C61.47 303.49 62.95 310.74 62.95 314.57 C62.95 318.4 60.64 325.6 58.51 327.05 C56.39 328.51 51.3 326.36 48.8 324.28 C46.31 322.2 42.7 316.6 41.87 313.18 C41.04 309.77 40.76 303.28 43.26 301.53Z" fill="#030303" stroke="#c4c4c4" stroke-width="0.8" stroke-opacity="0.75"/>
<path d="M66.83 300.98 C68.12 298.73 75.74 298.94 76.82 300.98 C77.9 303.02 75.34 312.32 74.05 314.57 C72.76 316.82 69.3 318 68.22 315.96 C67.14 313.92 65.55 303.22 66.83 300.98Z" fill="#030303" stroke="#c4c4c4" stroke-width="0.8" stroke-opacity="0.75"/>
<path d="M93.19 303.2 C95.06 301.03 104.41 300.78 108.44 301.53 C112.48 302.28 118.01 304.36 120.09 308.19 C122.17 312.02 123.64 323.97 122.31 327.05 C120.98 330.13 114.13 327.47 111.22 328.72 C108.31 329.97 104.98 335.62 102.9 335.37 C100.82 335.12 98.39 329.97 97.35 327.05 C96.31 324.14 96.59 319.54 95.96 315.96 C95.34 312.38 91.31 305.36 93.19 303.2Z" fill="#030303" stroke="#c4c4c4" stroke-width="0.8" stroke-opacity="0.75"/>
<path d="M29.11 332.6 C31.02 330.69 39.54 333.71 41.87 335.37 C44.2 337.04 45.48 341.62 44.64 343.7 C43.81 345.78 38.65 348.58 36.32 349.24 C33.99 349.91 30.19 350.63 29.11 348.13 C28.03 345.64 27.2 334.51 29.11 332.6Z" fill="#030303" stroke="#c4c4c4" stroke-width="0.8" stroke-opacity="0.75"/>
<path d="M54.35 364.5 C56.43 362.84 66.24 359.72 69.61 360.34 C72.98 360.96 76.16 364.92 76.82 368.66 C77.49 372.41 76.38 381.89 74.05 385.31 C71.72 388.72 64.45 391.82 61.29 391.41 C58.12 390.99 53.8 385.53 52.97 382.53 C52.13 379.54 55.53 374.14 55.74 371.44 C55.95 368.73 52.27 366.17 54.35 364.5Z" fill="#030303" stroke="#c4c4c4" stroke-width="0.8" stroke-opacity="0.75"/>
<path d="M29.11 356.18 C30.19 353.68 35.45 357.64 36.32 360.34 C37.2 363.04 36.02 371.71 34.93 374.21 C33.85 376.71 29.98 379.69 29.11 376.98 C28.24 374.28 28.03 358.68 29.11 356.18Z" fill="#030303" stroke="#c4c4c4" stroke-width="0.8" stroke-opacity="0.75"/>
<path d="M39.1 379.76 C41.18 378.43 48.69 380.78 50.19 382.53 C51.69 384.28 51.16 390.08 49.08 391.41 C47 392.74 37.82 393.16 36.32 391.41 C34.82 389.66 37.02 381.09 39.1 379.76Z" fill="#030303" stroke="#c4c4c4" stroke-width="0.8" stroke-opacity="0.75"/>
<path d="M61.84 338.7 C62.42 336.71 64.56 335.18 65.73 335.93 C66.89 336.68 69.61 341.28 69.61 343.7 C69.61 346.11 66.89 351.19 65.73 352.02 C64.56 352.85 62.42 351.24 61.84 349.24 C61.26 347.25 61.26 340.7 61.84 338.7Z" fill="#030303" stroke="#c4c4c4" stroke-width="0.8" stroke-opacity="0.75"/>
<path d="M76.82 371.44 C77.32 372.27 78.24 363.67 78.49 360.34 C78.74 357.01 78.98 350.08 78.49 349.24 C77.99 348.41 75.41 351.46 75.16 354.79 C74.91 358.12 76.32 370.6 76.82 371.44Z" fill="#030303" stroke="#c4c4c4" stroke-width="0.8" stroke-opacity="0.75"/>
</g>
<g filter="url(#e05)">
<line x1="43.84" y1="301.53" x2="47.76" y2="308.29" stroke="#bdbdbd" stroke-width="0.5" stroke-opacity="0.35"/><line x1="55.35" y1="301.53" x2="53.97" y2="305.9" stroke="#bdbdbd" stroke-width="0.5" stroke-opacity="0.3"/><line x1="48.94" y1="301.53" x2="51.19" y2="309.85" stroke="#bdbdbd" stroke-width="0.5" stroke-opacity="0.3"/><line x1="45.94" y1="301.53" x2="50.75" y2="308.93" stroke="#bdbdbd" stroke-width="0.5" stroke-opacity="0.23"/><line x1="60.79" y1="308.21" x2="57.43" y2="311.04" stroke="#bdbdbd" stroke-width="0.5" stroke-opacity="0.32"/><line x1="61.07" y1="309.03" x2="56.31" y2="309.93" stroke="#bdbdbd" stroke-width="0.5" stroke-opacity="0.41"/><line x1="62.24" y1="312.47" x2="59.37" y2="312.99" stroke="#bdbdbd" stroke-width="0.5" stroke-opacity="0.23"/><line x1="62.31" y1="312.69" x2="58.22" y2="313.63" stroke="#bdbdbd" stroke-width="0.5" stroke-opacity="0.23"/><line x1="60.19" y1="322.34" x2="56.39" y2="316.71" stroke="#bdbdbd" stroke-width="0.5" stroke-opacity="0.32"/><line x1="59.84" y1="323.32" x2="58.23" y2="320.87" stroke="#bdbdbd" stroke-width="0.5" stroke-opacity="0.22"/><line x1="60.33" y1="321.95" x2="56.24" y2="318.77" stroke="#bdbdbd" stroke-width="0.5" stroke-opacity="0.41"/><line x1="60.5" y1="321.46" x2="58.03" y2="319.79" stroke="#bdbdbd" stroke-width="0.5" stroke-opacity="0.41"/><line x1="51.57" y1="325.07" x2="52.89" y2="322.26" stroke="#bdbdbd" stroke-width="0.5" stroke-opacity="0.23"/><line x1="57.28" y1="326.7" x2="56.24" y2="322.11" stroke="#bdbdbd" stroke-width="0.5" stroke-opacity="0.38"/><line x1="57.46" y1="326.75" x2="54.8" y2="319.23" stroke="#bdbdbd" stroke-width="0.5" stroke-opacity="0.21"/><line x1="49.74" y1="324.55" x2="50.62" y2="317.63" stroke="#bdbdbd" stroke-width="0.5" stroke-opacity="0.42"/><line x1="42.54" y1="314.25" x2="48.49" y2="314.41" stroke="#bdbdbd" stroke-width="0.5" stroke-opacity="0.31"/><line x1="42.3" y1="313.88" x2="48.8" y2="314.63" stroke="#bdbdbd" stroke-width="0.5" stroke-opacity="0.29"/><line x1="43.86" y1="316.37" x2="45.63" y2="316.64" stroke="#bdbdbd" stroke-width="0.5" stroke-opacity="0.29"/><line x1="44.05" y1="316.68" x2="47.69" y2="315.36" stroke="#bdbdbd" stroke-width="0.5" stroke-opacity="0.4"/><line x1="42.32" y1="309.37" x2="45.63" y2="310.35" stroke="#bdbdbd" stroke-width="0.5" stroke-opacity="0.38"/><line x1="42.85" y1="304.96" x2="49.74" y2="312.03" stroke="#bdbdbd" stroke-width="0.5" stroke-opacity="0.26"/><line x1="42.13" y1="311" x2="45.39" y2="313.11" stroke="#bdbdbd" stroke-width="0.5" stroke-opacity="0.26"/><line x1="42.51" y1="307.84" x2="44.09" y2="309.58" stroke="#bdbdbd" stroke-width="0.5" stroke-opacity="0.34"/>
<line x1="71.94" y1="300.98" x2="72.5" y2="306.79" stroke="#bdbdbd" stroke-width="0.5" stroke-opacity="0.33"/><line x1="69.47" y1="300.98" x2="70.72" y2="302.35" stroke="#bdbdbd" stroke-width="0.5" stroke-opacity="0.21"/><line x1="73.82" y1="300.98" x2="73.4" y2="302.45" stroke="#bdbdbd" stroke-width="0.5" stroke-opacity="0.3"/><line x1="66.98" y1="300.98" x2="68.46" y2="303.4" stroke="#bdbdbd" stroke-width="0.5" stroke-opacity="0.24"/><line x1="75.22" y1="308.8" x2="72.4" y2="307.32" stroke="#bdbdbd" stroke-width="0.5" stroke-opacity="0.27"/><line x1="74.88" y1="310.48" x2="73.97" y2="308.58" stroke="#bdbdbd" stroke-width="0.5" stroke-opacity="0.36"/><line x1="76.43" y1="302.91" x2="75.24" y2="304.68" stroke="#bdbdbd" stroke-width="0.5" stroke-opacity="0.34"/><line x1="76.03" y1="304.87" x2="73.04" y2="306.61" stroke="#bdbdbd" stroke-width="0.5" stroke-opacity="0.3"/><line x1="68.73" y1="315.84" x2="70.47" y2="312.12" stroke="#bdbdbd" stroke-width="0.5" stroke-opacity="0.34"/><line x1="69.83" y1="315.57" x2="70.81" y2="311.29" stroke="#bdbdbd" stroke-width="0.5" stroke-opacity="0.41"/><line x1="70.32" y1="315.46" x2="71.3" y2="309.78" stroke="#bdbdbd" stroke-width="0.5" stroke-opacity="0.23"/><line x1="68.91" y1="315.79" x2="71.33" y2="312.4" stroke="#bdbdbd" stroke-width="0.5" stroke-opacity="0.26"/><line x1="66.86" y1="301.2" x2="69.84" y2="304.87" stroke="#bdbdbd" stroke-width="0.5" stroke-opacity="0.26"/><line x1="67.55" y1="308.68" x2="68.86" y2="308.04" stroke="#bdbdbd" stroke-width="0.5" stroke-opacity="0.3"/><line x1="67.85" y1="311.96" x2="69.72" y2="310.42" stroke="#bdbdbd" stroke-width="0.5" stroke-opacity="0.29"/><line x1="67.14" y1="304.22" x2="69.46" y2="305.96" stroke="#bdbdbd" stroke-width="0.5" stroke-opacity="0.38"/>
<line x1="96.8" y1="302.8" x2="100.91" y2="311.13" stroke="#bdbdbd" stroke-width="0.5" stroke-opacity="0.26"/><line x1="102.24" y1="302.21" x2="103.2" y2="309.33" stroke="#bdbdbd" stroke-width="0.5" stroke-opacity="0.4"/><line x1="105.22" y1="301.88" x2="104.87" y2="308.65" stroke="#bdbdbd" stroke-width="0.5" stroke-opacity="0.33"/><line x1="104.12" y1="302" x2="105.07" y2="312.79" stroke="#bdbdbd" stroke-width="0.5" stroke-opacity="0.4"/><line x1="110.61" y1="302.77" x2="110.01" y2="309.28" stroke="#bdbdbd" stroke-width="0.5" stroke-opacity="0.32"/><line x1="110" y1="302.42" x2="107.31" y2="313.02" stroke="#bdbdbd" stroke-width="0.5" stroke-opacity="0.26"/><line x1="110.24" y1="302.56" x2="107.84" y2="311.15" stroke="#bdbdbd" stroke-width="0.5" stroke-opacity="0.3"/><line x1="113.79" y1="304.59" x2="110.75" y2="310.02" stroke="#bdbdbd" stroke-width="0.5" stroke-opacity="0.35"/><line x1="121.17" y1="317.37" x2="111.55" y2="318.4" stroke="#bdbdbd" stroke-width="0.5" stroke-opacity="0.25"/><line x1="121.65" y1="321.38" x2="113.29" y2="319.66" stroke="#bdbdbd" stroke-width="0.5" stroke-opacity="0.41"/><line x1="120.89" y1="314.96" x2="116.33" y2="314.84" stroke="#bdbdbd" stroke-width="0.5" stroke-opacity="0.4"/><line x1="121.95" y1="323.94" x2="117.08" y2="321.38" stroke="#bdbdbd" stroke-width="0.5" stroke-opacity="0.39"/><line x1="117.71" y1="327.74" x2="114.92" y2="324.15" stroke="#bdbdbd" stroke-width="0.5" stroke-opacity="0.4"/><line x1="112.01" y1="328.6" x2="108.46" y2="323.88" stroke="#bdbdbd" stroke-width="0.5" stroke-opacity="0.22"/><line x1="121.08" y1="327.24" x2="114.39" y2="324.71" stroke="#bdbdbd" stroke-width="0.5" stroke-opacity="0.35"/><line x1="113.35" y1="328.4" x2="108.91" y2="322.4" stroke="#bdbdbd" stroke-width="0.5" stroke-opacity="0.34"/><line x1="104.63" y1="333.98" x2="105.16" y2="326.42" stroke="#bdbdbd" stroke-width="0.5" stroke-opacity="0.3"/><line x1="105.99" y1="332.9" x2="106.66" y2="323.62" stroke="#bdbdbd" stroke-width="0.5" stroke-opacity="0.33"/><line x1="109.52" y1="330.07" x2="108.94" y2="324.82" stroke="#bdbdbd" stroke-width="0.5" stroke-opacity="0.21"/><line x1="104.44" y1="334.14" x2="103.95" y2="329.29" stroke="#bdbdbd" stroke-width="0.5" stroke-opacity="0.37"/><line x1="102.27" y1="334.44" x2="104.05" y2="326.31" stroke="#bdbdbd" stroke-width="0.5" stroke-opacity="0.34"/><line x1="101.5" y1="333.28" x2="104.27" y2="324.98" stroke="#bdbdbd" stroke-width="0.5" stroke-opacity="0.26"/><line x1="98.66" y1="329.02" x2="100.19" y2="325.36" stroke="#bdbdbd" stroke-width="0.5" stroke-opacity="0.23"/><line x1="102.84" y1="335.28" x2="103.55" y2="326.16" stroke="#bdbdbd" stroke-width="0.5" stroke-opacity="0.3"/><line x1="96.41" y1="319.51" x2="100.2" y2="319.26" stroke="#bdbdbd" stroke-width="0.5" stroke-opacity="0.4"/><line x1="96.22" y1="318.06" x2="102.99" y2="319.21" stroke="#bdbdbd" stroke-width="0.5" stroke-opacity="0.28"/><line x1="96.96" y1="323.91" x2="99.99" y2="322.01" stroke="#bdbdbd" stroke-width="0.5" stroke-opacity="0.23"/><line x1="96.5" y1="320.26" x2="99.07" y2="319.14" stroke="#bdbdbd" stroke-width="0.5" stroke-opacity="0.41"/><line x1="95.13" y1="312.15" x2="99.31" y2="313.81" stroke="#bdbdbd" stroke-width="0.5" stroke-opacity="0.35"/><line x1="95.12" y1="312.09" x2="98.88" y2="314.08" stroke="#bdbdbd" stroke-width="0.5" stroke-opacity="0.38"/><line x1="95.36" y1="313.2" x2="98.34" y2="314.95" stroke="#bdbdbd" stroke-width="0.5" stroke-opacity="0.27"/><line x1="95.66" y1="314.56" x2="101.19" y2="317.08" stroke="#bdbdbd" stroke-width="0.5" stroke-opacity="0.3"/>
<line x1="34.63" y1="333.8" x2="35.56" y2="336.96" stroke="#bdbdbd" stroke-width="0.5" stroke-opacity="0.26"/><line x1="37.1" y1="334.34" x2="36.39" y2="336.04" stroke="#bdbdbd" stroke-width="0.5" stroke-opacity="0.38"/><line x1="37" y1="334.32" x2="36.47" y2="338.04" stroke="#bdbdbd" stroke-width="0.5" stroke-opacity="0.31"/><line x1="32.4" y1="333.32" x2="35.49" y2="338.34" stroke="#bdbdbd" stroke-width="0.5" stroke-opacity="0.29"/><line x1="44.44" y1="343.08" x2="42.94" y2="341.96" stroke="#bdbdbd" stroke-width="0.5" stroke-opacity="0.25"/><line x1="42.84" y1="338.29" x2="38.89" y2="340.2" stroke="#bdbdbd" stroke-width="0.5" stroke-opacity="0.32"/><line x1="44.42" y1="343.03" x2="39.68" y2="342.73" stroke="#bdbdbd" stroke-width="0.5" stroke-opacity="0.33"/><line x1="42.71" y1="337.9" x2="37.79" y2="341.32" stroke="#bdbdbd" stroke-width="0.5" stroke-opacity="0.39"/><line x1="44.14" y1="344.03" x2="38.73" y2="343.94" stroke="#bdbdbd" stroke-width="0.5" stroke-opacity="0.31"/><line x1="38.44" y1="347.83" x2="37.99" y2="344.5" stroke="#bdbdbd" stroke-width="0.5" stroke-opacity="0.38"/><line x1="42.43" y1="345.17" x2="40.25" y2="344.08" stroke="#bdbdbd" stroke-width="0.5" stroke-opacity="0.22"/><line x1="43.25" y1="344.62" x2="40.39" y2="343.92" stroke="#bdbdbd" stroke-width="0.5" stroke-opacity="0.24"/><line x1="30.39" y1="348.33" x2="33.97" y2="345.34" stroke="#bdbdbd" stroke-width="0.5" stroke-opacity="0.3"/><line x1="33.73" y1="348.85" x2="35.46" y2="347.05" stroke="#bdbdbd" stroke-width="0.5" stroke-opacity="0.37"/><line x1="35.21" y1="349.07" x2="35.16" y2="345.12" stroke="#bdbdbd" stroke-width="0.5" stroke-opacity="0.29"/><line x1="31.81" y1="348.55" x2="34.29" y2="346.65" stroke="#bdbdbd" stroke-width="0.5" stroke-opacity="0.33"/><line x1="29.11" y1="335.72" x2="35.06" y2="339.49" stroke="#bdbdbd" stroke-width="0.5" stroke-opacity="0.39"/><line x1="29.11" y1="337.3" x2="31.71" y2="339.42" stroke="#bdbdbd" stroke-width="0.5" stroke-opacity="0.4"/><line x1="29.11" y1="342.9" x2="33.99" y2="342.14" stroke="#bdbdbd" stroke-width="0.5" stroke-opacity="0.34"/><line x1="29.11" y1="342.21" x2="33.89" y2="341.32" stroke="#bdbdbd" stroke-width="0.5" stroke-opacity="0.3"/>
<line x1="63.31" y1="362.06" x2="63" y2="367.75" stroke="#bdbdbd" stroke-width="0.5" stroke-opacity="0.28"/><line x1="61.79" y1="362.47" x2="61.86" y2="365.12" stroke="#bdbdbd" stroke-width="0.5" stroke-opacity="0.31"/><line x1="59.36" y1="363.14" x2="59.99" y2="369.24" stroke="#bdbdbd" stroke-width="0.5" stroke-opacity="0.25"/><line x1="54.51" y1="364.46" x2="58.04" y2="369.98" stroke="#bdbdbd" stroke-width="0.5" stroke-opacity="0.4"/><line x1="70.03" y1="360.82" x2="67.83" y2="366.71" stroke="#bdbdbd" stroke-width="0.5" stroke-opacity="0.24"/><line x1="70.03" y1="360.82" x2="67.01" y2="368.57" stroke="#bdbdbd" stroke-width="0.5" stroke-opacity="0.28"/><line x1="76.7" y1="368.53" x2="72.66" y2="371.57" stroke="#bdbdbd" stroke-width="0.5" stroke-opacity="0.31"/><line x1="75.27" y1="366.87" x2="71.58" y2="370.64" stroke="#bdbdbd" stroke-width="0.5" stroke-opacity="0.34"/><line x1="74.49" y1="382.64" x2="69.31" y2="377.99" stroke="#bdbdbd" stroke-width="0.5" stroke-opacity="0.29"/><line x1="74.2" y1="384.39" x2="69" y2="380.89" stroke="#bdbdbd" stroke-width="0.5" stroke-opacity="0.28"/><line x1="75.66" y1="375.62" x2="68.54" y2="376.07" stroke="#bdbdbd" stroke-width="0.5" stroke-opacity="0.34"/><line x1="76.69" y1="369.44" x2="72.35" y2="370.86" stroke="#bdbdbd" stroke-width="0.5" stroke-opacity="0.38"/><line x1="63.83" y1="390.19" x2="64.22" y2="381.29" stroke="#bdbdbd" stroke-width="0.5" stroke-opacity="0.23"/><line x1="69.57" y1="387.45" x2="64.91" y2="379.47" stroke="#bdbdbd" stroke-width="0.5" stroke-opacity="0.21"/><line x1="69.88" y1="387.3" x2="67.32" y2="381.6" stroke="#bdbdbd" stroke-width="0.5" stroke-opacity="0.32"/><line x1="72.55" y1="386.02" x2="67.91" y2="379.07" stroke="#bdbdbd" stroke-width="0.5" stroke-opacity="0.4"/><line x1="55.76" y1="385.51" x2="59.99" y2="380.05" stroke="#bdbdbd" stroke-width="0.5" stroke-opacity="0.24"/><line x1="53.81" y1="383.43" x2="58.13" y2="380.14" stroke="#bdbdbd" stroke-width="0.5" stroke-opacity="0.33"/><line x1="56.15" y1="385.93" x2="60.38" y2="382.21" stroke="#bdbdbd" stroke-width="0.5" stroke-opacity="0.29"/><line x1="58.48" y1="388.41" x2="62.82" y2="379.29" stroke="#bdbdbd" stroke-width="0.5" stroke-opacity="0.24"/><line x1="54.45" y1="376.59" x2="58.48" y2="376.05" stroke="#bdbdbd" stroke-width="0.5" stroke-opacity="0.21"/><line x1="54.53" y1="376.26" x2="59.67" y2="374.3" stroke="#bdbdbd" stroke-width="0.5" stroke-opacity="0.33"/><line x1="55.51" y1="372.35" x2="60.03" y2="373.47" stroke="#bdbdbd" stroke-width="0.5" stroke-opacity="0.26"/><line x1="54.23" y1="377.47" x2="59.74" y2="376" stroke="#bdbdbd" stroke-width="0.5" stroke-opacity="0.32"/><line x1="55.61" y1="370.8" x2="57.89" y2="371.28" stroke="#bdbdbd" stroke-width="0.5" stroke-opacity="0.23"/><line x1="54.59" y1="365.7" x2="58.49" y2="369.24" stroke="#bdbdbd" stroke-width="0.5" stroke-opacity="0.32"/><line x1="55.11" y1="368.29" x2="56.32" y2="369.13" stroke="#bdbdbd" stroke-width="0.5" stroke-opacity="0.38"/><line x1="54.77" y1="366.58" x2="61.22" y2="371.59" stroke="#bdbdbd" stroke-width="0.5" stroke-opacity="0.33"/>
<line x1="33.9" y1="358.94" x2="33.11" y2="362.65" stroke="#bdbdbd" stroke-width="0.5" stroke-opacity="0.25"/><line x1="29.33" y1="356.31" x2="30.93" y2="363.49" stroke="#bdbdbd" stroke-width="0.5" stroke-opacity="0.41"/><line x1="30.52" y1="356.99" x2="30.81" y2="360.13" stroke="#bdbdbd" stroke-width="0.5" stroke-opacity="0.31"/><line x1="29.27" y1="356.27" x2="32.36" y2="362.11" stroke="#bdbdbd" stroke-width="0.5" stroke-opacity="0.29"/><line x1="35.8" y1="365.54" x2="33.65" y2="367.2" stroke="#bdbdbd" stroke-width="0.5" stroke-opacity="0.41"/><line x1="35.96" y1="363.99" x2="35.13" y2="363.83" stroke="#bdbdbd" stroke-width="0.5" stroke-opacity="0.3"/><line x1="36.05" y1="363.05" x2="33.53" y2="366.26" stroke="#bdbdbd" stroke-width="0.5" stroke-opacity="0.33"/><line x1="35.29" y1="370.68" x2="34.37" y2="369.18" stroke="#bdbdbd" stroke-width="0.5" stroke-opacity="0.38"/><line x1="32.67" y1="375.29" x2="31.93" y2="373.3" stroke="#bdbdbd" stroke-width="0.5" stroke-opacity="0.23"/><line x1="30.49" y1="376.33" x2="29.84" y2="374.34" stroke="#bdbdbd" stroke-width="0.5" stroke-opacity="0.36"/><line x1="30.36" y1="376.39" x2="31.64" y2="373.02" stroke="#bdbdbd" stroke-width="0.5" stroke-opacity="0.26"/><line x1="34.22" y1="374.55" x2="33.24" y2="373.1" stroke="#bdbdbd" stroke-width="0.5" stroke-opacity="0.26"/><line x1="29.11" y1="359.63" x2="31.97" y2="363.05" stroke="#bdbdbd" stroke-width="0.5" stroke-opacity="0.41"/><line x1="29.11" y1="360.81" x2="29.45" y2="361.54" stroke="#bdbdbd" stroke-width="0.5" stroke-opacity="0.28"/><line x1="29.11" y1="364.83" x2="32.21" y2="365.83" stroke="#bdbdbd" stroke-width="0.5" stroke-opacity="0.33"/><line x1="29.11" y1="366.54" x2="29.43" y2="366.65" stroke="#bdbdbd" stroke-width="0.5" stroke-opacity="0.32"/>
<line x1="47.06" y1="381.75" x2="46.91" y2="384.5" stroke="#bdbdbd" stroke-width="0.5" stroke-opacity="0.27"/><line x1="40.57" y1="380.13" x2="41.3" y2="382.23" stroke="#bdbdbd" stroke-width="0.5" stroke-opacity="0.3"/><line x1="45.83" y1="381.44" x2="43.42" y2="383.33" stroke="#bdbdbd" stroke-width="0.5" stroke-opacity="0.3"/><line x1="44.65" y1="381.15" x2="44.68" y2="383.87" stroke="#bdbdbd" stroke-width="0.5" stroke-opacity="0.34"/><line x1="49.86" y1="385.14" x2="47.71" y2="386.25" stroke="#bdbdbd" stroke-width="0.5" stroke-opacity="0.21"/><line x1="49.39" y1="388.96" x2="47.42" y2="386.53" stroke="#bdbdbd" stroke-width="0.5" stroke-opacity="0.21"/><line x1="49.86" y1="385.21" x2="45.22" y2="386.08" stroke="#bdbdbd" stroke-width="0.5" stroke-opacity="0.26"/><line x1="49.63" y1="387.04" x2="45.66" y2="385.58" stroke="#bdbdbd" stroke-width="0.5" stroke-opacity="0.33"/><line x1="48.15" y1="391.41" x2="46.14" y2="389.69" stroke="#bdbdbd" stroke-width="0.5" stroke-opacity="0.24"/><line x1="36.79" y1="391.41" x2="41.26" y2="388.98" stroke="#bdbdbd" stroke-width="0.5" stroke-opacity="0.28"/><line x1="48.79" y1="391.41" x2="46.62" y2="389.77" stroke="#bdbdbd" stroke-width="0.5" stroke-opacity="0.32"/><line x1="39.5" y1="391.41" x2="43.1" y2="388.22" stroke="#bdbdbd" stroke-width="0.5" stroke-opacity="0.36"/><line x1="38.98" y1="380.25" x2="42.44" y2="384.78" stroke="#bdbdbd" stroke-width="0.5" stroke-opacity="0.39"/><line x1="38.73" y1="381.31" x2="41.32" y2="384.86" stroke="#bdbdbd" stroke-width="0.5" stroke-opacity="0.27"/><line x1="37.27" y1="387.44" x2="41.77" y2="386.86" stroke="#bdbdbd" stroke-width="0.5" stroke-opacity="0.29"/><line x1="36.34" y1="391.33" x2="40.79" y2="388.6" stroke="#bdbdbd" stroke-width="0.5" stroke-opacity="0.24"/>
<line x1="62.17" y1="338.47" x2="63.79" y2="340.25" stroke="#bdbdbd" stroke-width="0.5" stroke-opacity="0.38"/><line x1="65.05" y1="336.41" x2="65.13" y2="337.57" stroke="#bdbdbd" stroke-width="0.5" stroke-opacity="0.27"/><line x1="62.55" y1="338.2" x2="63.29" y2="339.97" stroke="#bdbdbd" stroke-width="0.5" stroke-opacity="0.38"/><line x1="65.12" y1="336.36" x2="65.96" y2="340.2" stroke="#bdbdbd" stroke-width="0.5" stroke-opacity="0.24"/><line x1="68.86" y1="342.2" x2="66.64" y2="342.08" stroke="#bdbdbd" stroke-width="0.5" stroke-opacity="0.39"/><line x1="66.8" y1="338.07" x2="64.87" y2="341.56" stroke="#bdbdbd" stroke-width="0.5" stroke-opacity="0.34"/><line x1="68.44" y1="341.36" x2="65.62" y2="342.13" stroke="#bdbdbd" stroke-width="0.5" stroke-opacity="0.38"/><line x1="67.1" y1="338.67" x2="65.98" y2="339.87" stroke="#bdbdbd" stroke-width="0.5" stroke-opacity="0.22"/><line x1="65.77" y1="351.92" x2="65.4" y2="346.77" stroke="#bdbdbd" stroke-width="0.5" stroke-opacity="0.22"/><line x1="67.5" y1="348.23" x2="67.21" y2="345.66" stroke="#bdbdbd" stroke-width="0.5" stroke-opacity="0.27"/><line x1="66.67" y1="349.99" x2="65.56" y2="345.35" stroke="#bdbdbd" stroke-width="0.5" stroke-opacity="0.35"/><line x1="65.85" y1="351.76" x2="64.89" y2="348.81" stroke="#bdbdbd" stroke-width="0.5" stroke-opacity="0.33"/><line x1="62.47" y1="349.69" x2="64.23" y2="346.21" stroke="#bdbdbd" stroke-width="0.5" stroke-opacity="0.23"/><line x1="64.89" y1="351.42" x2="65.18" y2="345.66" stroke="#bdbdbd" stroke-width="0.5" stroke-opacity="0.36"/><line x1="62.33" y1="349.59" x2="63.47" y2="347.96" stroke="#bdbdbd" stroke-width="0.5" stroke-opacity="0.25"/><line x1="64.64" y1="351.24" x2="64.24" y2="347.29" stroke="#bdbdbd" stroke-width="0.5" stroke-opacity="0.23"/><line x1="61.84" y1="347.1" x2="63.28" y2="345.16" stroke="#bdbdbd" stroke-width="0.5" stroke-opacity="0.23"/><line x1="61.84" y1="348.35" x2="63.31" y2="345.2" stroke="#bdbdbd" stroke-width="0.5" stroke-opacity="0.37"/><line x1="61.84" y1="342.01" x2="62.64" y2="342.77" stroke="#bdbdbd" stroke-width="0.5" stroke-opacity="0.39"/><line x1="61.84" y1="342.83" x2="62.59" y2="343.78" stroke="#bdbdbd" stroke-width="0.5" stroke-opacity="0.4"/>
<line x1="77.34" y1="368" x2="76.66" y2="364.14" stroke="#bdbdbd" stroke-width="0.5" stroke-opacity="0.32"/><line x1="78.09" y1="362.96" x2="78.36" y2="361.39" stroke="#bdbdbd" stroke-width="0.5" stroke-opacity="0.32"/><line x1="76.99" y1="370.34" x2="76.06" y2="362.47" stroke="#bdbdbd" stroke-width="0.5" stroke-opacity="0.35"/><line x1="77.98" y1="363.69" x2="76.96" y2="361.37" stroke="#bdbdbd" stroke-width="0.5" stroke-opacity="0.3"/><line x1="78.49" y1="360.13" x2="78.15" y2="359.14" stroke="#bdbdbd" stroke-width="0.5" stroke-opacity="0.3"/><line x1="78.49" y1="358.85" x2="77.11" y2="358.23" stroke="#bdbdbd" stroke-width="0.5" stroke-opacity="0.38"/><line x1="78.49" y1="356.12" x2="77.88" y2="357.61" stroke="#bdbdbd" stroke-width="0.5" stroke-opacity="0.34"/><line x1="78.49" y1="354.98" x2="78.14" y2="356.19" stroke="#bdbdbd" stroke-width="0.5" stroke-opacity="0.21"/><line x1="78.48" y1="349.26" x2="77.21" y2="355.01" stroke="#bdbdbd" stroke-width="0.5" stroke-opacity="0.23"/><line x1="77.01" y1="351.7" x2="77.94" y2="356.37" stroke="#bdbdbd" stroke-width="0.5" stroke-opacity="0.37"/><line x1="76.22" y1="353.02" x2="77.75" y2="356.15" stroke="#bdbdbd" stroke-width="0.5" stroke-opacity="0.31"/><line x1="76.04" y1="353.32" x2="77.53" y2="355.61" stroke="#bdbdbd" stroke-width="0.5" stroke-opacity="0.35"/><line x1="76.44" y1="367.61" x2="77.1" y2="362.55" stroke="#bdbdbd" stroke-width="0.5" stroke-opacity="0.28"/><line x1="75.54" y1="358.59" x2="74.93" y2="357.65" stroke="#bdbdbd" stroke-width="0.5" stroke-opacity="0.42"/><line x1="76.04" y1="363.65" x2="76.75" y2="360.92" stroke="#bdbdbd" stroke-width="0.5" stroke-opacity="0.36"/><line x1="75.24" y1="355.57" x2="75.3" y2="356.33" stroke="#bdbdbd" stroke-width="0.5" stroke-opacity="0.27"/>
</g>
<g filter="url(#e05)" fill="none" stroke="#d0d0d0" stroke-width="0.8" stroke-opacity="0.7" transform="translate(0 0)">
<path d="M66 304 C68 320 70 336 68 350 C66 360 60 364 54 366"/><path d="M78 334 C88 336 96 340 104 338 C112 334 116 326 121 322"/><path d="M84 304 C90 312 94 324 80 334"/><path d="M30 330 C36 334 42 342 44 346"/>
</g>
<path d="M31 338 L40 344 L44 345" fill="none" stroke="#fff" stroke-width="1.6" filter="url(#e05)"/>
<circle cx="82.6" cy="344.4" r="1.4" fill="#fff"/>
<circle cx="101.81" cy="372.69" r="0.42" fill="#f0f0f0" fill-opacity="0.85"/>
<circle cx="55.02" cy="302.04" r="0.47" fill="#f0f0f0" fill-opacity="0.85"/>
<circle cx="73.38" cy="367.34" r="0.39" fill="#f0f0f0" fill-opacity="0.85"/>
<circle cx="99.77" cy="325.45" r="0.5" fill="#f0f0f0" fill-opacity="0.85"/>
<circle cx="96.22" cy="337.6" r="0.43" fill="#f0f0f0" fill-opacity="0.85"/>
<circle cx="92.02" cy="318.6" r="0.44" fill="#f0f0f0" fill-opacity="0.85"/>
<circle cx="102.85" cy="324.83" r="0.5" fill="#f0f0f0" fill-opacity="0.85"/>
<circle cx="92.34" cy="374.61" r="0.38" fill="#f0f0f0" fill-opacity="0.85"/>
<circle cx="40.2" cy="370.82" r="0.5" fill="#f0f0f0" fill-opacity="0.85"/>
<circle cx="71.18" cy="310.07" r="0.35" fill="#f0f0f0" fill-opacity="0.85"/>
<circle cx="87.87" cy="327.04" r="0.54" fill="#f0f0f0" fill-opacity="0.85"/>
<circle cx="83.79" cy="319.28" r="0.46" fill="#f0f0f0" fill-opacity="0.85"/>
<circle cx="63.71" cy="382.22" r="0.53" fill="#f0f0f0" fill-opacity="0.85"/>
<circle cx="77.29" cy="357.43" r="0.47" fill="#f0f0f0" fill-opacity="0.85"/>
<circle cx="102.88" cy="385.97" r="0.31" fill="#f0f0f0" fill-opacity="0.85"/>
<circle cx="63.8" cy="353.75" r="0.38" fill="#f0f0f0" fill-opacity="0.85"/>
<circle cx="83.85" cy="309.71" r="0.52" fill="#f0f0f0" fill-opacity="0.85"/>
<circle cx="78.22" cy="312.05" r="0.47" fill="#f0f0f0" fill-opacity="0.85"/>
<circle cx="59.48" cy="318.88" r="0.42" fill="#f0f0f0" fill-opacity="0.85"/>
<circle cx="44.15" cy="320.05" r="0.52" fill="#f0f0f0" fill-opacity="0.85"/>
<circle cx="93.44" cy="303.08" r="0.49" fill="#f0f0f0" fill-opacity="0.85"/>
<circle cx="33.5" cy="330.63" r="0.53" fill="#f0f0f0" fill-opacity="0.85"/>
<circle cx="86.58" cy="328.33" r="0.39" fill="#f0f0f0" fill-opacity="0.85"/>
<circle cx="66.25" cy="312.91" r="0.55" fill="#f0f0f0" fill-opacity="0.85"/>
<circle cx="36.74" cy="338.37" r="0.49" fill="#f0f0f0" fill-opacity="0.85"/>
<circle cx="67" cy="386.36" r="0.36" fill="#f0f0f0" fill-opacity="0.85"/>
<circle cx="118.17" cy="378.73" r="0.47" fill="#f0f0f0" fill-opacity="0.85"/>
<circle cx="110.28" cy="340.46" r="0.51" fill="#f0f0f0" fill-opacity="0.85"/>
<circle cx="102.06" cy="346.44" r="0.42" fill="#f0f0f0" fill-opacity="0.85"/>
<circle cx="94.1" cy="337.18" r="0.32" fill="#f0f0f0" fill-opacity="0.85"/>
<circle cx="97.69" cy="324.86" r="0.42" fill="#f0f0f0" fill-opacity="0.85"/>
<circle cx="100.99" cy="316.8" r="0.31" fill="#f0f0f0" fill-opacity="0.85"/>
<circle cx="42.87" cy="352.69" r="0.39" fill="#f0f0f0" fill-opacity="0.85"/>
<circle cx="54.56" cy="340.83" r="0.53" fill="#f0f0f0" fill-opacity="0.85"/>
<circle cx="54.42" cy="337.31" r="0.52" fill="#f0f0f0" fill-opacity="0.85"/>
<circle cx="85.87" cy="325.04" r="0.42" fill="#f0f0f0" fill-opacity="0.85"/>
<circle cx="74.11" cy="314.23" r="0.39" fill="#f0f0f0" fill-opacity="0.85"/>
<circle cx="58.9" cy="371.21" r="0.38" fill="#f0f0f0" fill-opacity="0.85"/>
<circle cx="90.01" cy="385.49" r="0.53" fill="#f0f0f0" fill-opacity="0.85"/>
<circle cx="65.09" cy="353.86" r="0.38" fill="#f0f0f0" fill-opacity="0.85"/>
<circle cx="67.05" cy="343.97" r="0.5" fill="#f0f0f0" fill-opacity="0.85"/>
<circle cx="114.42" cy="327.01" r="0.3" fill="#f0f0f0" fill-opacity="0.85"/>
<circle cx="71.54" cy="306.91" r="0.31" fill="#f0f0f0" fill-opacity="0.85"/>
<circle cx="100.07" cy="311.64" r="0.48" fill="#f0f0f0" fill-opacity="0.85"/>
<circle cx="63.86" cy="382.71" r="0.51" fill="#f0f0f0" fill-opacity="0.85"/>
<circle cx="37.48" cy="318.57" r="0.54" fill="#f0f0f0" fill-opacity="0.85"/>
<circle cx="85.98" cy="338.3" r="0.5" fill="#f0f0f0" fill-opacity="0.85"/>
<circle cx="103.59" cy="344.29" r="0.42" fill="#f0f0f0" fill-opacity="0.85"/>
<circle cx="40.81" cy="333.13" r="0.34" fill="#f0f0f0" fill-opacity="0.85"/>
<circle cx="87.05" cy="354.17" r="0.34" fill="#f0f0f0" fill-opacity="0.85"/>
</g>
<rect x="41.6" y="327.4" width="17.4" height="16.6" fill="none" stroke="#fff" stroke-width="1.1" stroke-dasharray="3.6 2"/>
<rect x="77.6" y="347.2" width="43.3" height="43.7" fill="#383838"/>
<g clip-path="url(#ce3i)">
<g filter="url(#wobe)">
<path d="M75.6 345 L122.9 345 L122.9 358 C103.6 358 93.6 360 87.6 364 C85.6 372 86.6 384 84.6 393 L75.6 393Z" fill="#080808" stroke="#c8c8c8" stroke-width="1" stroke-opacity="0.7"/>
</g>
<g filter="url(#e05)">
<line x1="86.45" y1="369.58" x2="78.11" y2="368.23" stroke="#c8c8c8" stroke-width="0.5" stroke-opacity="0.41"/>
<line x1="85.74" y1="386.64" x2="79.62" y2="387.51" stroke="#c8c8c8" stroke-width="0.5" stroke-opacity="0.42"/>
<line x1="85.92" y1="382.44" x2="82.69" y2="378.79" stroke="#c8c8c8" stroke-width="0.5" stroke-opacity="0.5"/>
<line x1="86.16" y1="376.5" x2="81.6" y2="377.44" stroke="#c8c8c8" stroke-width="0.5" stroke-opacity="0.25"/>
<line x1="109.41" y1="360.73" x2="106.94" y2="355.12" stroke="#c8c8c8" stroke-width="0.5" stroke-opacity="0.24"/>
<line x1="118.33" y1="359.39" x2="117.51" y2="353.16" stroke="#c8c8c8" stroke-width="0.5" stroke-opacity="0.4"/>
<line x1="85.64" y1="389.04" x2="82.31" y2="386.27" stroke="#c8c8c8" stroke-width="0.5" stroke-opacity="0.23"/>
<line x1="86.32" y1="372.79" x2="80.84" y2="371.3" stroke="#c8c8c8" stroke-width="0.5" stroke-opacity="0.27"/>
<line x1="86.1" y1="378.11" x2="78.54" y2="376.69" stroke="#c8c8c8" stroke-width="0.5" stroke-opacity="0.45"/>
<line x1="101.59" y1="361.9" x2="98.35" y2="351.19" stroke="#c8c8c8" stroke-width="0.5" stroke-opacity="0.27"/>
<line x1="96.32" y1="362.69" x2="90.58" y2="353.98" stroke="#c8c8c8" stroke-width="0.5" stroke-opacity="0.45"/>
<line x1="90.73" y1="363.53" x2="88.56" y2="356.75" stroke="#c8c8c8" stroke-width="0.5" stroke-opacity="0.3"/>
<line x1="101.82" y1="361.86" x2="98.9" y2="356.88" stroke="#c8c8c8" stroke-width="0.5" stroke-opacity="0.48"/>
<line x1="99.66" y1="362.19" x2="97.94" y2="353.7" stroke="#c8c8c8" stroke-width="0.5" stroke-opacity="0.4"/>
<line x1="116.32" y1="359.69" x2="114.5" y2="349.13" stroke="#c8c8c8" stroke-width="0.5" stroke-opacity="0.25"/>
<line x1="99.74" y1="362.18" x2="96.16" y2="352.99" stroke="#c8c8c8" stroke-width="0.5" stroke-opacity="0.33"/>
<line x1="111.2" y1="360.46" x2="105.82" y2="355.57" stroke="#c8c8c8" stroke-width="0.5" stroke-opacity="0.4"/>
<line x1="101.46" y1="361.92" x2="99.14" y2="356.26" stroke="#c8c8c8" stroke-width="0.5" stroke-opacity="0.29"/>
<line x1="99.19" y1="362.26" x2="100.45" y2="353.89" stroke="#c8c8c8" stroke-width="0.5" stroke-opacity="0.35"/>
<line x1="101.46" y1="361.92" x2="102.15" y2="353.99" stroke="#c8c8c8" stroke-width="0.5" stroke-opacity="0.24"/>
<line x1="98.54" y1="362.36" x2="100.14" y2="356.1" stroke="#c8c8c8" stroke-width="0.5" stroke-opacity="0.32"/>
<line x1="93.43" y1="363.12" x2="94.42" y2="357.41" stroke="#c8c8c8" stroke-width="0.5" stroke-opacity="0.37"/>
<line x1="86.22" y1="375.24" x2="79.99" y2="373.25" stroke="#c8c8c8" stroke-width="0.5" stroke-opacity="0.28"/>
<line x1="86.28" y1="373.66" x2="81.74" y2="373.59" stroke="#c8c8c8" stroke-width="0.5" stroke-opacity="0.49"/>
<line x1="85.77" y1="385.89" x2="78.74" y2="385.65" stroke="#c8c8c8" stroke-width="0.5" stroke-opacity="0.25"/>
<line x1="86.02" y1="380.04" x2="77.55" y2="377.81" stroke="#c8c8c8" stroke-width="0.5" stroke-opacity="0.22"/>
</g>
<rect x="77.6" y="347.2" width="43.3" height="43.7" fill="#fff" filter="url(#nz)" opacity="0.08"/>
<circle cx="93.1" cy="364.8" r="0.9" fill="#fff"/>
<circle cx="112.2" cy="364.2" r="0.9" fill="#fff"/>
<circle cx="100.2" cy="382.8" r="1" fill="#fff"/>
<circle cx="96" cy="378.8" r="0.6" fill="#fff"/>
<circle cx="90.6" cy="382.2" r="0.5" fill="#fff"/>
</g>
<rect x="77.6" y="347.2" width="43.8" height="44" fill="none" stroke="#fff" stroke-width="1"/>
<rect x="123.1" y="300.1" width="91.2" height="90.8" fill="#383838"/>
<g clip-path="url(#ce4)">
<g filter="url(#e1)" transform="translate(93.4 0)">
<path d="M48 304 L62 302 L80 330 L82 352 L70 362 L58 358 L60 336 L50 320Z" fill="#444444"/>
<path d="M76 300 L100 300 L106 320 L98 340 L84 338 L80 318Z" fill="#464646"/>
<path d="M104 318 L121 300 L121 346 L96 344Z" fill="#404040"/>
<path d="M44 340 L60 338 L62 360 L52 374 L42 370Z" fill="#424242"/>
</g>
<rect x="123.1" y="300.1" width="91.2" height="90.8" fill="#fff" filter="url(#nz)" opacity="0.08"/>
<rect x="123.1" y="300.1" width="91.2" height="90.8" fill="#fff" filter="url(#nz2)" opacity="0.13"/>
<g filter="url(#wobe)">
<path d="M136.66 301.53 C139.15 299.79 148.96 299.58 151.91 301.53 C154.87 303.49 156.35 310.74 156.35 314.57 C156.35 318.4 154.04 325.6 151.91 327.05 C149.79 328.51 144.7 326.36 142.2 324.28 C139.71 322.2 136.1 316.6 135.27 313.18 C134.44 309.77 134.16 303.28 136.66 301.53Z" fill="#030303" stroke="#c4c4c4" stroke-width="0.8" stroke-opacity="0.75"/>
<path d="M160.23 300.98 C161.52 298.73 169.14 298.94 170.22 300.98 C171.3 303.02 168.74 312.32 167.45 314.57 C166.16 316.82 162.7 318 161.62 315.96 C160.54 313.92 158.95 303.22 160.23 300.98Z" fill="#030303" stroke="#c4c4c4" stroke-width="0.8" stroke-opacity="0.75"/>
<path d="M186.59 303.2 C188.46 301.03 197.81 300.78 201.84 301.53 C205.88 302.28 211.41 304.36 213.49 308.19 C215.57 312.02 217.04 323.97 215.71 327.05 C214.38 330.13 207.53 327.47 204.62 328.72 C201.71 329.97 198.38 335.62 196.3 335.37 C194.22 335.12 191.79 329.97 190.75 327.05 C189.71 324.14 189.99 319.54 189.36 315.96 C188.74 312.38 184.71 305.36 186.59 303.2Z" fill="#030303" stroke="#c4c4c4" stroke-width="0.8" stroke-opacity="0.75"/>
<path d="M122.51 332.6 C124.42 330.69 132.94 333.71 135.27 335.37 C137.6 337.04 138.88 341.62 138.04 343.7 C137.21 345.78 132.05 348.58 129.72 349.24 C127.39 349.91 123.59 350.63 122.51 348.13 C121.43 345.64 120.6 334.51 122.51 332.6Z" fill="#030303" stroke="#c4c4c4" stroke-width="0.8" stroke-opacity="0.75"/>
<path d="M147.75 364.5 C149.83 362.84 159.64 359.72 163.01 360.34 C166.38 360.96 169.56 364.92 170.22 368.66 C170.89 372.41 169.78 381.89 167.45 385.31 C165.12 388.72 157.85 391.82 154.69 391.41 C151.52 390.99 147.2 385.53 146.37 382.53 C145.53 379.54 148.93 374.14 149.14 371.44 C149.35 368.73 145.67 366.17 147.75 364.5Z" fill="#030303" stroke="#c4c4c4" stroke-width="0.8" stroke-opacity="0.75"/>
<path d="M122.51 356.18 C123.59 353.68 128.85 357.64 129.72 360.34 C130.6 363.04 129.42 371.71 128.33 374.21 C127.25 376.71 123.38 379.69 122.51 376.98 C121.64 374.28 121.43 358.68 122.51 356.18Z" fill="#030303" stroke="#c4c4c4" stroke-width="0.8" stroke-opacity="0.75"/>
<path d="M132.5 379.76 C134.58 378.43 142.09 380.78 143.59 382.53 C145.09 384.28 144.56 390.08 142.48 391.41 C140.4 392.74 131.22 393.16 129.72 391.41 C128.22 389.66 130.42 381.09 132.5 379.76Z" fill="#030303" stroke="#c4c4c4" stroke-width="0.8" stroke-opacity="0.75"/>
<path d="M155.24 338.7 C155.82 336.71 157.96 335.18 159.13 335.93 C160.29 336.68 163.01 341.28 163.01 343.7 C163.01 346.11 160.29 351.19 159.13 352.02 C157.96 352.85 155.82 351.24 155.24 349.24 C154.66 347.25 154.66 340.7 155.24 338.7Z" fill="#030303" stroke="#c4c4c4" stroke-width="0.8" stroke-opacity="0.75"/>
<path d="M170.22 371.44 C170.72 372.27 171.64 363.67 171.89 360.34 C172.14 357.01 172.38 350.08 171.89 349.24 C171.39 348.41 168.81 351.46 168.56 354.79 C168.31 358.12 169.72 370.6 170.22 371.44Z" fill="#030303" stroke="#c4c4c4" stroke-width="0.8" stroke-opacity="0.75"/>
</g>
<g filter="url(#e05)">
<line x1="137.24" y1="301.53" x2="141.16" y2="308.29" stroke="#bdbdbd" stroke-width="0.5" stroke-opacity="0.35"/><line x1="148.75" y1="301.53" x2="147.37" y2="305.9" stroke="#bdbdbd" stroke-width="0.5" stroke-opacity="0.3"/><line x1="142.34" y1="301.53" x2="144.59" y2="309.85" stroke="#bdbdbd" stroke-width="0.5" stroke-opacity="0.3"/><line x1="139.34" y1="301.53" x2="144.15" y2="308.93" stroke="#bdbdbd" stroke-width="0.5" stroke-opacity="0.23"/><line x1="154.19" y1="308.21" x2="150.83" y2="311.04" stroke="#bdbdbd" stroke-width="0.5" stroke-opacity="0.32"/><line x1="154.47" y1="309.03" x2="149.71" y2="309.93" stroke="#bdbdbd" stroke-width="0.5" stroke-opacity="0.41"/><line x1="155.64" y1="312.47" x2="152.77" y2="312.99" stroke="#bdbdbd" stroke-width="0.5" stroke-opacity="0.23"/><line x1="155.71" y1="312.69" x2="151.62" y2="313.63" stroke="#bdbdbd" stroke-width="0.5" stroke-opacity="0.23"/><line x1="153.59" y1="322.34" x2="149.79" y2="316.71" stroke="#bdbdbd" stroke-width="0.5" stroke-opacity="0.32"/><line x1="153.24" y1="323.32" x2="151.63" y2="320.87" stroke="#bdbdbd" stroke-width="0.5" stroke-opacity="0.22"/><line x1="153.73" y1="321.95" x2="149.64" y2="318.77" stroke="#bdbdbd" stroke-width="0.5" stroke-opacity="0.41"/><line x1="153.9" y1="321.46" x2="151.43" y2="319.79" stroke="#bdbdbd" stroke-width="0.5" stroke-opacity="0.41"/><line x1="144.97" y1="325.07" x2="146.29" y2="322.26" stroke="#bdbdbd" stroke-width="0.5" stroke-opacity="0.23"/><line x1="150.68" y1="326.7" x2="149.64" y2="322.11" stroke="#bdbdbd" stroke-width="0.5" stroke-opacity="0.38"/><line x1="150.86" y1="326.75" x2="148.2" y2="319.23" stroke="#bdbdbd" stroke-width="0.5" stroke-opacity="0.21"/><line x1="143.14" y1="324.55" x2="144.02" y2="317.63" stroke="#bdbdbd" stroke-width="0.5" stroke-opacity="0.42"/><line x1="135.94" y1="314.25" x2="141.89" y2="314.41" stroke="#bdbdbd" stroke-width="0.5" stroke-opacity="0.31"/><line x1="135.7" y1="313.88" x2="142.2" y2="314.63" stroke="#bdbdbd" stroke-width="0.5" stroke-opacity="0.29"/><line x1="137.26" y1="316.37" x2="139.03" y2="316.64" stroke="#bdbdbd" stroke-width="0.5" stroke-opacity="0.29"/><line x1="137.45" y1="316.68" x2="141.09" y2="315.36" stroke="#bdbdbd" stroke-width="0.5" stroke-opacity="0.4"/><line x1="135.72" y1="309.37" x2="139.03" y2="310.35" stroke="#bdbdbd" stroke-width="0.5" stroke-opacity="0.38"/><line x1="136.25" y1="304.96" x2="143.14" y2="312.03" stroke="#bdbdbd" stroke-width="0.5" stroke-opacity="0.26"/><line x1="135.53" y1="311" x2="138.79" y2="313.11" stroke="#bdbdbd" stroke-width="0.5" stroke-opacity="0.26"/><line x1="135.91" y1="307.84" x2="137.49" y2="309.58" stroke="#bdbdbd" stroke-width="0.5" stroke-opacity="0.34"/>
<line x1="165.34" y1="300.98" x2="165.9" y2="306.79" stroke="#bdbdbd" stroke-width="0.5" stroke-opacity="0.33"/><line x1="162.87" y1="300.98" x2="164.12" y2="302.35" stroke="#bdbdbd" stroke-width="0.5" stroke-opacity="0.21"/><line x1="167.22" y1="300.98" x2="166.8" y2="302.45" stroke="#bdbdbd" stroke-width="0.5" stroke-opacity="0.3"/><line x1="160.38" y1="300.98" x2="161.86" y2="303.4" stroke="#bdbdbd" stroke-width="0.5" stroke-opacity="0.24"/><line x1="168.62" y1="308.8" x2="165.8" y2="307.32" stroke="#bdbdbd" stroke-width="0.5" stroke-opacity="0.27"/><line x1="168.28" y1="310.48" x2="167.37" y2="308.58" stroke="#bdbdbd" stroke-width="0.5" stroke-opacity="0.36"/><line x1="169.83" y1="302.91" x2="168.64" y2="304.68" stroke="#bdbdbd" stroke-width="0.5" stroke-opacity="0.34"/><line x1="169.43" y1="304.87" x2="166.44" y2="306.61" stroke="#bdbdbd" stroke-width="0.5" stroke-opacity="0.3"/><line x1="162.13" y1="315.84" x2="163.87" y2="312.12" stroke="#bdbdbd" stroke-width="0.5" stroke-opacity="0.34"/><line x1="163.23" y1="315.57" x2="164.21" y2="311.29" stroke="#bdbdbd" stroke-width="0.5" stroke-opacity="0.41"/><line x1="163.72" y1="315.46" x2="164.7" y2="309.78" stroke="#bdbdbd" stroke-width="0.5" stroke-opacity="0.23"/><line x1="162.31" y1="315.79" x2="164.73" y2="312.4" stroke="#bdbdbd" stroke-width="0.5" stroke-opacity="0.26"/><line x1="160.26" y1="301.2" x2="163.24" y2="304.87" stroke="#bdbdbd" stroke-width="0.5" stroke-opacity="0.26"/><line x1="160.95" y1="308.68" x2="162.26" y2="308.04" stroke="#bdbdbd" stroke-width="0.5" stroke-opacity="0.3"/><line x1="161.25" y1="311.96" x2="163.12" y2="310.42" stroke="#bdbdbd" stroke-width="0.5" stroke-opacity="0.29"/><line x1="160.54" y1="304.22" x2="162.86" y2="305.96" stroke="#bdbdbd" stroke-width="0.5" stroke-opacity="0.38"/>
<line x1="190.2" y1="302.8" x2="194.31" y2="311.13" stroke="#bdbdbd" stroke-width="0.5" stroke-opacity="0.26"/><line x1="195.64" y1="302.21" x2="196.6" y2="309.33" stroke="#bdbdbd" stroke-width="0.5" stroke-opacity="0.4"/><line x1="198.62" y1="301.88" x2="198.27" y2="308.65" stroke="#bdbdbd" stroke-width="0.5" stroke-opacity="0.33"/><line x1="197.52" y1="302" x2="198.47" y2="312.79" stroke="#bdbdbd" stroke-width="0.5" stroke-opacity="0.4"/><line x1="204.01" y1="302.77" x2="203.41" y2="309.28" stroke="#bdbdbd" stroke-width="0.5" stroke-opacity="0.32"/><line x1="203.4" y1="302.42" x2="200.71" y2="313.02" stroke="#bdbdbd" stroke-width="0.5" stroke-opacity="0.26"/><line x1="203.64" y1="302.56" x2="201.24" y2="311.15" stroke="#bdbdbd" stroke-width="0.5" stroke-opacity="0.3"/><line x1="207.19" y1="304.59" x2="204.15" y2="310.02" stroke="#bdbdbd" stroke-width="0.5" stroke-opacity="0.35"/><line x1="214.57" y1="317.37" x2="204.95" y2="318.4" stroke="#bdbdbd" stroke-width="0.5" stroke-opacity="0.25"/><line x1="215.05" y1="321.38" x2="206.69" y2="319.66" stroke="#bdbdbd" stroke-width="0.5" stroke-opacity="0.41"/><line x1="214.29" y1="314.96" x2="209.73" y2="314.84" stroke="#bdbdbd" stroke-width="0.5" stroke-opacity="0.4"/><line x1="215.35" y1="323.94" x2="210.48" y2="321.38" stroke="#bdbdbd" stroke-width="0.5" stroke-opacity="0.39"/><line x1="211.11" y1="327.74" x2="208.32" y2="324.15" stroke="#bdbdbd" stroke-width="0.5" stroke-opacity="0.4"/><line x1="205.41" y1="328.6" x2="201.86" y2="323.88" stroke="#bdbdbd" stroke-width="0.5" stroke-opacity="0.22"/><line x1="214.48" y1="327.24" x2="207.79" y2="324.71" stroke="#bdbdbd" stroke-width="0.5" stroke-opacity="0.35"/><line x1="206.75" y1="328.4" x2="202.31" y2="322.4" stroke="#bdbdbd" stroke-width="0.5" stroke-opacity="0.34"/><line x1="198.03" y1="333.98" x2="198.56" y2="326.42" stroke="#bdbdbd" stroke-width="0.5" stroke-opacity="0.3"/><line x1="199.39" y1="332.9" x2="200.06" y2="323.62" stroke="#bdbdbd" stroke-width="0.5" stroke-opacity="0.33"/><line x1="202.92" y1="330.07" x2="202.34" y2="324.82" stroke="#bdbdbd" stroke-width="0.5" stroke-opacity="0.21"/><line x1="197.84" y1="334.14" x2="197.35" y2="329.29" stroke="#bdbdbd" stroke-width="0.5" stroke-opacity="0.37"/><line x1="195.67" y1="334.44" x2="197.45" y2="326.31" stroke="#bdbdbd" stroke-width="0.5" stroke-opacity="0.34"/><line x1="194.9" y1="333.28" x2="197.67" y2="324.98" stroke="#bdbdbd" stroke-width="0.5" stroke-opacity="0.26"/><line x1="192.06" y1="329.02" x2="193.59" y2="325.36" stroke="#bdbdbd" stroke-width="0.5" stroke-opacity="0.23"/><line x1="196.24" y1="335.28" x2="196.95" y2="326.16" stroke="#bdbdbd" stroke-width="0.5" stroke-opacity="0.3"/><line x1="189.81" y1="319.51" x2="193.6" y2="319.26" stroke="#bdbdbd" stroke-width="0.5" stroke-opacity="0.4"/><line x1="189.62" y1="318.06" x2="196.39" y2="319.21" stroke="#bdbdbd" stroke-width="0.5" stroke-opacity="0.28"/><line x1="190.36" y1="323.91" x2="193.39" y2="322.01" stroke="#bdbdbd" stroke-width="0.5" stroke-opacity="0.23"/><line x1="189.9" y1="320.26" x2="192.47" y2="319.14" stroke="#bdbdbd" stroke-width="0.5" stroke-opacity="0.41"/><line x1="188.53" y1="312.15" x2="192.71" y2="313.81" stroke="#bdbdbd" stroke-width="0.5" stroke-opacity="0.35"/><line x1="188.52" y1="312.09" x2="192.28" y2="314.08" stroke="#bdbdbd" stroke-width="0.5" stroke-opacity="0.38"/><line x1="188.76" y1="313.2" x2="191.74" y2="314.95" stroke="#bdbdbd" stroke-width="0.5" stroke-opacity="0.27"/><line x1="189.06" y1="314.56" x2="194.59" y2="317.08" stroke="#bdbdbd" stroke-width="0.5" stroke-opacity="0.3"/>
<line x1="128.03" y1="333.8" x2="128.96" y2="336.96" stroke="#bdbdbd" stroke-width="0.5" stroke-opacity="0.26"/><line x1="130.5" y1="334.34" x2="129.79" y2="336.04" stroke="#bdbdbd" stroke-width="0.5" stroke-opacity="0.38"/><line x1="130.4" y1="334.32" x2="129.87" y2="338.04" stroke="#bdbdbd" stroke-width="0.5" stroke-opacity="0.31"/><line x1="125.8" y1="333.32" x2="128.89" y2="338.34" stroke="#bdbdbd" stroke-width="0.5" stroke-opacity="0.29"/><line x1="137.84" y1="343.08" x2="136.34" y2="341.96" stroke="#bdbdbd" stroke-width="0.5" stroke-opacity="0.25"/><line x1="136.24" y1="338.29" x2="132.29" y2="340.2" stroke="#bdbdbd" stroke-width="0.5" stroke-opacity="0.32"/><line x1="137.82" y1="343.03" x2="133.08" y2="342.73" stroke="#bdbdbd" stroke-width="0.5" stroke-opacity="0.33"/><line x1="136.11" y1="337.9" x2="131.19" y2="341.32" stroke="#bdbdbd" stroke-width="0.5" stroke-opacity="0.39"/><line x1="137.54" y1="344.03" x2="132.13" y2="343.94" stroke="#bdbdbd" stroke-width="0.5" stroke-opacity="0.31"/><line x1="131.84" y1="347.83" x2="131.39" y2="344.5" stroke="#bdbdbd" stroke-width="0.5" stroke-opacity="0.38"/><line x1="135.83" y1="345.17" x2="133.65" y2="344.08" stroke="#bdbdbd" stroke-width="0.5" stroke-opacity="0.22"/><line x1="136.65" y1="344.62" x2="133.79" y2="343.92" stroke="#bdbdbd" stroke-width="0.5" stroke-opacity="0.24"/><line x1="123.79" y1="348.33" x2="127.37" y2="345.34" stroke="#bdbdbd" stroke-width="0.5" stroke-opacity="0.3"/><line x1="127.13" y1="348.85" x2="128.86" y2="347.05" stroke="#bdbdbd" stroke-width="0.5" stroke-opacity="0.37"/><line x1="128.61" y1="349.07" x2="128.56" y2="345.12" stroke="#bdbdbd" stroke-width="0.5" stroke-opacity="0.29"/><line x1="125.21" y1="348.55" x2="127.69" y2="346.65" stroke="#bdbdbd" stroke-width="0.5" stroke-opacity="0.33"/><line x1="122.51" y1="335.72" x2="128.46" y2="339.49" stroke="#bdbdbd" stroke-width="0.5" stroke-opacity="0.39"/><line x1="122.51" y1="337.3" x2="125.11" y2="339.42" stroke="#bdbdbd" stroke-width="0.5" stroke-opacity="0.4"/><line x1="122.51" y1="342.9" x2="127.39" y2="342.14" stroke="#bdbdbd" stroke-width="0.5" stroke-opacity="0.34"/><line x1="122.51" y1="342.21" x2="127.29" y2="341.32" stroke="#bdbdbd" stroke-width="0.5" stroke-opacity="0.3"/>
<line x1="156.71" y1="362.06" x2="156.4" y2="367.75" stroke="#bdbdbd" stroke-width="0.5" stroke-opacity="0.28"/><line x1="155.19" y1="362.47" x2="155.26" y2="365.12" stroke="#bdbdbd" stroke-width="0.5" stroke-opacity="0.31"/><line x1="152.76" y1="363.14" x2="153.39" y2="369.24" stroke="#bdbdbd" stroke-width="0.5" stroke-opacity="0.25"/><line x1="147.91" y1="364.46" x2="151.44" y2="369.98" stroke="#bdbdbd" stroke-width="0.5" stroke-opacity="0.4"/><line x1="163.43" y1="360.82" x2="161.23" y2="366.71" stroke="#bdbdbd" stroke-width="0.5" stroke-opacity="0.24"/><line x1="163.43" y1="360.82" x2="160.41" y2="368.57" stroke="#bdbdbd" stroke-width="0.5" stroke-opacity="0.28"/><line x1="170.1" y1="368.53" x2="166.06" y2="371.57" stroke="#bdbdbd" stroke-width="0.5" stroke-opacity="0.31"/><line x1="168.67" y1="366.87" x2="164.98" y2="370.64" stroke="#bdbdbd" stroke-width="0.5" stroke-opacity="0.34"/><line x1="167.89" y1="382.64" x2="162.71" y2="377.99" stroke="#bdbdbd" stroke-width="0.5" stroke-opacity="0.29"/><line x1="167.6" y1="384.39" x2="162.4" y2="380.89" stroke="#bdbdbd" stroke-width="0.5" stroke-opacity="0.28"/><line x1="169.06" y1="375.62" x2="161.94" y2="376.07" stroke="#bdbdbd" stroke-width="0.5" stroke-opacity="0.34"/><line x1="170.09" y1="369.44" x2="165.75" y2="370.86" stroke="#bdbdbd" stroke-width="0.5" stroke-opacity="0.38"/><line x1="157.23" y1="390.19" x2="157.62" y2="381.29" stroke="#bdbdbd" stroke-width="0.5" stroke-opacity="0.23"/><line x1="162.97" y1="387.45" x2="158.31" y2="379.47" stroke="#bdbdbd" stroke-width="0.5" stroke-opacity="0.21"/><line x1="163.28" y1="387.3" x2="160.72" y2="381.6" stroke="#bdbdbd" stroke-width="0.5" stroke-opacity="0.32"/><line x1="165.95" y1="386.02" x2="161.31" y2="379.07" stroke="#bdbdbd" stroke-width="0.5" stroke-opacity="0.4"/><line x1="149.16" y1="385.51" x2="153.39" y2="380.05" stroke="#bdbdbd" stroke-width="0.5" stroke-opacity="0.24"/><line x1="147.21" y1="383.43" x2="151.53" y2="380.14" stroke="#bdbdbd" stroke-width="0.5" stroke-opacity="0.33"/><line x1="149.55" y1="385.93" x2="153.78" y2="382.21" stroke="#bdbdbd" stroke-width="0.5" stroke-opacity="0.29"/><line x1="151.88" y1="388.41" x2="156.22" y2="379.29" stroke="#bdbdbd" stroke-width="0.5" stroke-opacity="0.24"/><line x1="147.85" y1="376.59" x2="151.88" y2="376.05" stroke="#bdbdbd" stroke-width="0.5" stroke-opacity="0.21"/><line x1="147.93" y1="376.26" x2="153.07" y2="374.3" stroke="#bdbdbd" stroke-width="0.5" stroke-opacity="0.33"/><line x1="148.91" y1="372.35" x2="153.43" y2="373.47" stroke="#bdbdbd" stroke-width="0.5" stroke-opacity="0.26"/><line x1="147.63" y1="377.47" x2="153.14" y2="376" stroke="#bdbdbd" stroke-width="0.5" stroke-opacity="0.32"/><line x1="149.01" y1="370.8" x2="151.29" y2="371.28" stroke="#bdbdbd" stroke-width="0.5" stroke-opacity="0.23"/><line x1="147.99" y1="365.7" x2="151.89" y2="369.24" stroke="#bdbdbd" stroke-width="0.5" stroke-opacity="0.32"/><line x1="148.51" y1="368.29" x2="149.72" y2="369.13" stroke="#bdbdbd" stroke-width="0.5" stroke-opacity="0.38"/><line x1="148.17" y1="366.58" x2="154.62" y2="371.59" stroke="#bdbdbd" stroke-width="0.5" stroke-opacity="0.33"/>
<line x1="127.3" y1="358.94" x2="126.51" y2="362.65" stroke="#bdbdbd" stroke-width="0.5" stroke-opacity="0.25"/><line x1="122.73" y1="356.31" x2="124.33" y2="363.49" stroke="#bdbdbd" stroke-width="0.5" stroke-opacity="0.41"/><line x1="123.92" y1="356.99" x2="124.21" y2="360.13" stroke="#bdbdbd" stroke-width="0.5" stroke-opacity="0.31"/><line x1="122.67" y1="356.27" x2="125.76" y2="362.11" stroke="#bdbdbd" stroke-width="0.5" stroke-opacity="0.29"/><line x1="129.2" y1="365.54" x2="127.05" y2="367.2" stroke="#bdbdbd" stroke-width="0.5" stroke-opacity="0.41"/><line x1="129.36" y1="363.99" x2="128.53" y2="363.83" stroke="#bdbdbd" stroke-width="0.5" stroke-opacity="0.3"/><line x1="129.45" y1="363.05" x2="126.93" y2="366.26" stroke="#bdbdbd" stroke-width="0.5" stroke-opacity="0.33"/><line x1="128.69" y1="370.68" x2="127.77" y2="369.18" stroke="#bdbdbd" stroke-width="0.5" stroke-opacity="0.38"/><line x1="126.07" y1="375.29" x2="125.33" y2="373.3" stroke="#bdbdbd" stroke-width="0.5" stroke-opacity="0.23"/><line x1="123.89" y1="376.33" x2="123.24" y2="374.34" stroke="#bdbdbd" stroke-width="0.5" stroke-opacity="0.36"/><line x1="123.76" y1="376.39" x2="125.04" y2="373.02" stroke="#bdbdbd" stroke-width="0.5" stroke-opacity="0.26"/><line x1="127.62" y1="374.55" x2="126.64" y2="373.1" stroke="#bdbdbd" stroke-width="0.5" stroke-opacity="0.26"/><line x1="122.51" y1="359.63" x2="125.37" y2="363.05" stroke="#bdbdbd" stroke-width="0.5" stroke-opacity="0.41"/><line x1="122.51" y1="360.81" x2="122.85" y2="361.54" stroke="#bdbdbd" stroke-width="0.5" stroke-opacity="0.28"/><line x1="122.51" y1="364.83" x2="125.61" y2="365.83" stroke="#bdbdbd" stroke-width="0.5" stroke-opacity="0.33"/><line x1="122.51" y1="366.54" x2="122.83" y2="366.65" stroke="#bdbdbd" stroke-width="0.5" stroke-opacity="0.32"/>
<line x1="140.46" y1="381.75" x2="140.31" y2="384.5" stroke="#bdbdbd" stroke-width="0.5" stroke-opacity="0.27"/><line x1="133.97" y1="380.13" x2="134.7" y2="382.23" stroke="#bdbdbd" stroke-width="0.5" stroke-opacity="0.3"/><line x1="139.23" y1="381.44" x2="136.82" y2="383.33" stroke="#bdbdbd" stroke-width="0.5" stroke-opacity="0.3"/><line x1="138.05" y1="381.15" x2="138.08" y2="383.87" stroke="#bdbdbd" stroke-width="0.5" stroke-opacity="0.34"/><line x1="143.26" y1="385.14" x2="141.11" y2="386.25" stroke="#bdbdbd" stroke-width="0.5" stroke-opacity="0.21"/><line x1="142.79" y1="388.96" x2="140.82" y2="386.53" stroke="#bdbdbd" stroke-width="0.5" stroke-opacity="0.21"/><line x1="143.26" y1="385.21" x2="138.62" y2="386.08" stroke="#bdbdbd" stroke-width="0.5" stroke-opacity="0.26"/><line x1="143.03" y1="387.04" x2="139.06" y2="385.58" stroke="#bdbdbd" stroke-width="0.5" stroke-opacity="0.33"/><line x1="141.55" y1="391.41" x2="139.54" y2="389.69" stroke="#bdbdbd" stroke-width="0.5" stroke-opacity="0.24"/><line x1="130.19" y1="391.41" x2="134.66" y2="388.98" stroke="#bdbdbd" stroke-width="0.5" stroke-opacity="0.28"/><line x1="142.19" y1="391.41" x2="140.02" y2="389.77" stroke="#bdbdbd" stroke-width="0.5" stroke-opacity="0.32"/><line x1="132.9" y1="391.41" x2="136.5" y2="388.22" stroke="#bdbdbd" stroke-width="0.5" stroke-opacity="0.36"/><line x1="132.38" y1="380.25" x2="135.84" y2="384.78" stroke="#bdbdbd" stroke-width="0.5" stroke-opacity="0.39"/><line x1="132.13" y1="381.31" x2="134.72" y2="384.86" stroke="#bdbdbd" stroke-width="0.5" stroke-opacity="0.27"/><line x1="130.67" y1="387.44" x2="135.17" y2="386.86" stroke="#bdbdbd" stroke-width="0.5" stroke-opacity="0.29"/><line x1="129.74" y1="391.33" x2="134.19" y2="388.6" stroke="#bdbdbd" stroke-width="0.5" stroke-opacity="0.24"/>
<line x1="155.57" y1="338.47" x2="157.19" y2="340.25" stroke="#bdbdbd" stroke-width="0.5" stroke-opacity="0.38"/><line x1="158.45" y1="336.41" x2="158.53" y2="337.57" stroke="#bdbdbd" stroke-width="0.5" stroke-opacity="0.27"/><line x1="155.95" y1="338.2" x2="156.69" y2="339.97" stroke="#bdbdbd" stroke-width="0.5" stroke-opacity="0.38"/><line x1="158.52" y1="336.36" x2="159.36" y2="340.2" stroke="#bdbdbd" stroke-width="0.5" stroke-opacity="0.24"/><line x1="162.26" y1="342.2" x2="160.04" y2="342.08" stroke="#bdbdbd" stroke-width="0.5" stroke-opacity="0.39"/><line x1="160.2" y1="338.07" x2="158.27" y2="341.56" stroke="#bdbdbd" stroke-width="0.5" stroke-opacity="0.34"/><line x1="161.84" y1="341.36" x2="159.02" y2="342.13" stroke="#bdbdbd" stroke-width="0.5" stroke-opacity="0.38"/><line x1="160.5" y1="338.67" x2="159.38" y2="339.87" stroke="#bdbdbd" stroke-width="0.5" stroke-opacity="0.22"/><line x1="159.17" y1="351.92" x2="158.8" y2="346.77" stroke="#bdbdbd" stroke-width="0.5" stroke-opacity="0.22"/><line x1="160.9" y1="348.23" x2="160.61" y2="345.66" stroke="#bdbdbd" stroke-width="0.5" stroke-opacity="0.27"/><line x1="160.07" y1="349.99" x2="158.96" y2="345.35" stroke="#bdbdbd" stroke-width="0.5" stroke-opacity="0.35"/><line x1="159.25" y1="351.76" x2="158.29" y2="348.81" stroke="#bdbdbd" stroke-width="0.5" stroke-opacity="0.33"/><line x1="155.87" y1="349.69" x2="157.63" y2="346.21" stroke="#bdbdbd" stroke-width="0.5" stroke-opacity="0.23"/><line x1="158.29" y1="351.42" x2="158.58" y2="345.66" stroke="#bdbdbd" stroke-width="0.5" stroke-opacity="0.36"/><line x1="155.73" y1="349.59" x2="156.87" y2="347.96" stroke="#bdbdbd" stroke-width="0.5" stroke-opacity="0.25"/><line x1="158.04" y1="351.24" x2="157.64" y2="347.29" stroke="#bdbdbd" stroke-width="0.5" stroke-opacity="0.23"/><line x1="155.24" y1="347.1" x2="156.68" y2="345.16" stroke="#bdbdbd" stroke-width="0.5" stroke-opacity="0.23"/><line x1="155.24" y1="348.35" x2="156.71" y2="345.2" stroke="#bdbdbd" stroke-width="0.5" stroke-opacity="0.37"/><line x1="155.24" y1="342.01" x2="156.04" y2="342.77" stroke="#bdbdbd" stroke-width="0.5" stroke-opacity="0.39"/><line x1="155.24" y1="342.83" x2="155.99" y2="343.78" stroke="#bdbdbd" stroke-width="0.5" stroke-opacity="0.4"/>
<line x1="170.74" y1="368" x2="170.06" y2="364.14" stroke="#bdbdbd" stroke-width="0.5" stroke-opacity="0.32"/><line x1="171.49" y1="362.96" x2="171.76" y2="361.39" stroke="#bdbdbd" stroke-width="0.5" stroke-opacity="0.32"/><line x1="170.39" y1="370.34" x2="169.46" y2="362.47" stroke="#bdbdbd" stroke-width="0.5" stroke-opacity="0.35"/><line x1="171.38" y1="363.69" x2="170.36" y2="361.37" stroke="#bdbdbd" stroke-width="0.5" stroke-opacity="0.3"/><line x1="171.89" y1="360.13" x2="171.55" y2="359.14" stroke="#bdbdbd" stroke-width="0.5" stroke-opacity="0.3"/><line x1="171.89" y1="358.85" x2="170.51" y2="358.23" stroke="#bdbdbd" stroke-width="0.5" stroke-opacity="0.38"/><line x1="171.89" y1="356.12" x2="171.28" y2="357.61" stroke="#bdbdbd" stroke-width="0.5" stroke-opacity="0.34"/><line x1="171.89" y1="354.98" x2="171.54" y2="356.19" stroke="#bdbdbd" stroke-width="0.5" stroke-opacity="0.21"/><line x1="171.88" y1="349.26" x2="170.61" y2="355.01" stroke="#bdbdbd" stroke-width="0.5" stroke-opacity="0.23"/><line x1="170.41" y1="351.7" x2="171.34" y2="356.37" stroke="#bdbdbd" stroke-width="0.5" stroke-opacity="0.37"/><line x1="169.62" y1="353.02" x2="171.15" y2="356.15" stroke="#bdbdbd" stroke-width="0.5" stroke-opacity="0.31"/><line x1="169.44" y1="353.32" x2="170.93" y2="355.61" stroke="#bdbdbd" stroke-width="0.5" stroke-opacity="0.35"/><line x1="169.84" y1="367.61" x2="170.5" y2="362.55" stroke="#bdbdbd" stroke-width="0.5" stroke-opacity="0.28"/><line x1="168.94" y1="358.59" x2="168.33" y2="357.65" stroke="#bdbdbd" stroke-width="0.5" stroke-opacity="0.42"/><line x1="169.44" y1="363.65" x2="170.15" y2="360.92" stroke="#bdbdbd" stroke-width="0.5" stroke-opacity="0.36"/><line x1="168.64" y1="355.57" x2="168.7" y2="356.33" stroke="#bdbdbd" stroke-width="0.5" stroke-opacity="0.27"/>
</g>
<g filter="url(#e05)" fill="none" stroke="#d0d0d0" stroke-width="0.8" stroke-opacity="0.7" transform="translate(93.4 0)">
<path d="M66 304 C68 320 70 336 68 350 C66 360 60 364 54 366"/><path d="M78 334 C88 336 96 340 104 338 C112 334 116 326 121 322"/><path d="M84 304 C90 312 94 324 80 334"/><path d="M30 330 C36 334 42 342 44 346"/>
</g>
<path d="M150 391 L154 381 L162 380 L168 391Z" fill="#8a8a8a" filter="url(#e05)"/>
<circle cx="157" cy="380" r="1.7" fill="#fff" filter="url(#e05)"/>
<circle cx="203.6" cy="311" r="1.5" fill="#eee" filter="url(#e05)"/>
<circle cx="190" cy="322" r="1.2" fill="#ddd" filter="url(#e05)"/>
<path d="M124 336 L134 343" fill="none" stroke="#ddd" stroke-width="1.1" filter="url(#e05)"/>
</g>
<rect x="133.2" y="327.4" width="17.4" height="16.6" fill="none" stroke="#fff" stroke-width="1.1" stroke-dasharray="3.6 2"/>
<rect x="170.2" y="347.2" width="44.1" height="43.7" fill="#3e3e3e"/>
<g clip-path="url(#ce4i)">
<g filter="url(#wobe)">
<path d="M168.2 345 L216.3 345 L216.3 358 C196.2 358 186.2 360 180.2 364 C178.2 372 179.2 384 177.2 393 L168.2 393Z" fill="#080808" stroke="#c8c8c8" stroke-width="1" stroke-opacity="0.7"/>
</g>
<g filter="url(#e05)">
<line x1="179.05" y1="369.58" x2="170.71" y2="368.23" stroke="#c8c8c8" stroke-width="0.5" stroke-opacity="0.41"/>
<line x1="178.34" y1="386.64" x2="172.22" y2="387.51" stroke="#c8c8c8" stroke-width="0.5" stroke-opacity="0.42"/>
<line x1="178.52" y1="382.44" x2="175.29" y2="378.79" stroke="#c8c8c8" stroke-width="0.5" stroke-opacity="0.5"/>
<line x1="178.76" y1="376.5" x2="174.2" y2="377.44" stroke="#c8c8c8" stroke-width="0.5" stroke-opacity="0.25"/>
<line x1="202.53" y1="360.73" x2="200.06" y2="355.12" stroke="#c8c8c8" stroke-width="0.5" stroke-opacity="0.24"/>
<line x1="211.67" y1="359.39" x2="210.84" y2="353.16" stroke="#c8c8c8" stroke-width="0.5" stroke-opacity="0.4"/>
<line x1="178.24" y1="389.04" x2="174.91" y2="386.27" stroke="#c8c8c8" stroke-width="0.5" stroke-opacity="0.23"/>
<line x1="178.92" y1="372.79" x2="173.44" y2="371.3" stroke="#c8c8c8" stroke-width="0.5" stroke-opacity="0.27"/>
<line x1="178.7" y1="378.11" x2="171.14" y2="376.69" stroke="#c8c8c8" stroke-width="0.5" stroke-opacity="0.45"/>
<line x1="194.53" y1="361.9" x2="191.28" y2="351.19" stroke="#c8c8c8" stroke-width="0.5" stroke-opacity="0.27"/>
<line x1="189.13" y1="362.69" x2="183.39" y2="353.98" stroke="#c8c8c8" stroke-width="0.5" stroke-opacity="0.45"/>
<line x1="183.41" y1="363.53" x2="181.23" y2="356.75" stroke="#c8c8c8" stroke-width="0.5" stroke-opacity="0.3"/>
<line x1="194.76" y1="361.86" x2="191.84" y2="356.88" stroke="#c8c8c8" stroke-width="0.5" stroke-opacity="0.48"/>
<line x1="192.55" y1="362.19" x2="190.83" y2="353.7" stroke="#c8c8c8" stroke-width="0.5" stroke-opacity="0.4"/>
<line x1="209.61" y1="359.69" x2="207.79" y2="349.13" stroke="#c8c8c8" stroke-width="0.5" stroke-opacity="0.25"/>
<line x1="192.64" y1="362.18" x2="189.05" y2="352.99" stroke="#c8c8c8" stroke-width="0.5" stroke-opacity="0.33"/>
<line x1="204.37" y1="360.46" x2="198.99" y2="355.57" stroke="#c8c8c8" stroke-width="0.5" stroke-opacity="0.4"/>
<line x1="194.39" y1="361.92" x2="192.08" y2="356.26" stroke="#c8c8c8" stroke-width="0.5" stroke-opacity="0.29"/>
<line x1="192.07" y1="362.26" x2="193.33" y2="353.89" stroke="#c8c8c8" stroke-width="0.5" stroke-opacity="0.35"/>
<line x1="194.4" y1="361.92" x2="195.09" y2="353.99" stroke="#c8c8c8" stroke-width="0.5" stroke-opacity="0.24"/>
<line x1="191.4" y1="362.36" x2="193" y2="356.1" stroke="#c8c8c8" stroke-width="0.5" stroke-opacity="0.32"/>
<line x1="186.17" y1="363.12" x2="187.16" y2="357.41" stroke="#c8c8c8" stroke-width="0.5" stroke-opacity="0.37"/>
<line x1="178.82" y1="375.24" x2="172.59" y2="373.25" stroke="#c8c8c8" stroke-width="0.5" stroke-opacity="0.28"/>
<line x1="178.88" y1="373.66" x2="174.34" y2="373.59" stroke="#c8c8c8" stroke-width="0.5" stroke-opacity="0.49"/>
<line x1="178.37" y1="385.89" x2="171.34" y2="385.65" stroke="#c8c8c8" stroke-width="0.5" stroke-opacity="0.25"/>
<line x1="178.62" y1="380.04" x2="170.15" y2="377.81" stroke="#c8c8c8" stroke-width="0.5" stroke-opacity="0.22"/>
</g>
<rect x="170.2" y="347.2" width="44.1" height="43.7" fill="#fff" filter="url(#nz)" opacity="0.08"/>
</g>
<rect x="170.2" y="347.2" width="44.6" height="44" fill="none" stroke="#fff" stroke-width="1"/>
<line x1="125.2" y1="389" x2="128.2" y2="389" stroke="#eee" stroke-width="1"/>
<line x1="172.6" y1="388.6" x2="183" y2="388.6" stroke="#ccc" stroke-width="1"/>
<rect x="30.1" y="458.9" width="90.1" height="91.2" fill="#040404"/>
<g clip-path="url(#ch1)">
<g filter="url(#e1)">
<path d="M28 456.37 C30.47 445.63 41.91 454.52 44.47 456.37 C47.02 458.22 44.4 465.43 45.01 468.72 C45.63 472.01 46.81 475.94 48.58 478.33 C50.35 480.71 53.73 482.99 56.81 484.64 C59.9 486.28 65.25 487.57 69.16 489.3 C73.07 491.03 78.77 494.23 82.88 496.16 C87 498.1 92.49 501.58 96.61 502.2 C100.72 502.82 106.42 500.94 110.33 500.28 C114.24 499.62 120.82 494.23 122.68 497.81 C124.53 501.39 127.33 520.61 122.68 524.15 C118.02 527.69 97.02 522.65 91.67 521.41 C86.32 520.18 88.94 517.57 87 515.92 C85.07 514.28 81.86 511.34 78.77 510.43 C75.68 509.53 67.86 509.35 66.42 509.88 C64.98 510.42 67.31 512.56 69.16 514 C71.02 515.44 76.09 518.05 78.77 519.49 C81.44 520.93 85.15 522.25 87 523.61 C88.85 524.96 90.66 527.15 91.12 528.55 C91.57 529.95 91.25 531.95 90.02 532.94 C88.78 533.92 84.78 535.46 82.88 535.13 C80.99 534.8 79.45 532.47 77.4 530.74 C75.34 529.01 72.46 524.88 69.16 523.61 C65.87 522.33 59.15 522.03 55.44 522.23 C51.74 522.44 46.73 523.74 44.47 524.98 C42.2 526.21 42 529.77 40.35 530.47 C38.7 531.17 35.34 530.01 33.49 529.64 C31.64 529.27 28.82 538.99 28 528 C27.18 517.01 25.53 467.12 28 456.37Z" fill="#2b2b2b"/>
<path d="M28 460.49 C30.06 452.67 39.25 457.61 41.72 460.49 C44.19 463.37 42.82 474.76 44.47 479.7 C46.11 484.64 52.7 488.89 52.7 493.42 C52.7 497.95 48.17 507 44.47 509.88 C40.76 512.77 30.47 520.04 28 512.63 C25.53 505.22 25.94 468.31 28 460.49Z" fill="#343434" fill-opacity="0.8"/>
<path d="M28 531.29 C29.85 528.74 38.21 531.07 40.35 534.03 C42.49 537 44.12 548.5 42.27 551.05 C40.42 553.6 30.14 554.01 28 551.05 C25.86 548.08 26.15 533.84 28 531.29Z" fill="#1b1b1b"/>
<path d="M109.23 456.37 C110.34 454.44 120.66 453.7 122.68 456.37 C124.69 459.05 123.79 472.27 122.68 474.21 C121.56 476.14 117.28 471.95 115.27 469.27 C113.25 466.59 108.12 458.31 109.23 456.37Z" fill="#242424"/>
<path d="M110.33 474.21 C112.34 472.97 120.82 473.66 122.68 476.95 C124.53 480.25 123.79 493.28 122.68 496.16 C121.56 499.05 117.28 497.81 115.27 496.16 C113.25 494.52 109.97 488.48 109.23 485.19 C108.49 481.89 108.31 475.44 110.33 474.21Z" fill="#121212"/>
</g>
<rect x="30.1" y="458.9" width="90.1" height="91.2" fill="#fff" filter="url(#nz)" opacity="0.07"/>
<rect x="30.1" y="458.9" width="28" height="60" fill="#fff" filter="url(#nz2)" opacity="0.14"/>
<g filter="url(#e05)" fill="none" stroke="#b8b8b8" stroke-width="0.75" stroke-opacity="0.75">
<path d="M45.01 468.72 C45.55 470.16 46.81 475.94 48.58 478.33 C50.35 480.71 53.73 482.99 56.81 484.64 C59.9 486.28 65.25 487.57 69.16 489.3 C73.07 491.03 78.77 494.23 82.88 496.16 C87 498.1 92.49 501.58 96.61 502.2 C100.72 502.82 108.27 500.57 110.33 500.28" fill="none"/>
<path d="M40.35 530.47 C40.97 529.64 42.2 526.21 44.47 524.98 C46.73 523.74 51.74 522.44 55.44 522.23 C59.15 522.03 65.87 522.33 69.16 523.61 C72.46 524.88 76.16 529.67 77.4 530.74" fill="none"/>
<path d="M55.44 501.65 C56.68 502.68 61.21 506.54 63.68 508.51 C66.14 510.49 69.03 512.97 71.91 514.82 C74.79 516.68 81.24 519.96 82.88 520.86" fill="none" stroke-opacity="0.5"/>
<path d="M44.47 459.12 C45.7 460.15 50.64 463.3 52.7 465.98 C54.76 468.65 56.95 474.48 58.19 476.95 C59.42 479.42 60.52 481.62 60.93 482.44" fill="none" stroke-opacity="0.35"/>
<path d="M102.09 463.23 C102.92 464.47 106.92 468.58 107.58 471.47 C108.24 474.35 107.64 479.97 106.49 482.44 C105.33 484.91 100.89 487.11 99.9 487.93" fill="none" stroke-opacity="0.3"/>
</g>
<path d="M67.79 511.26 C68.2 510.35 75.35 509.6 78.77 509.88 C82.18 510.17 88.3 512.03 90.57 513.18 C92.83 514.33 94.4 516.75 93.86 517.57 C93.33 518.39 89.68 518.91 87 518.67 C84.33 518.42 78.91 517.03 76.02 515.92 C73.14 514.81 67.38 512.16 67.79 511.26Z" fill="#0c0c0c" stroke="#8a8a8a" stroke-width="0.6" filter="url(#e05)"/>
<ellipse cx="88.92" cy="517.02" rx="3.6" ry="1.4" fill="#b0b0b0" transform="rotate(8 88.92 517.02)"/>
<circle cx="38.98" cy="531.84" r="1.5" fill="#c8c8c8" filter="url(#e05)"/>
<circle cx="105.94" cy="472.01" r="1.6" fill="none" stroke="#777" stroke-width="0.7" filter="url(#e05)"/>
<circle cx="47.21" cy="457.2" r="1.2" fill="#ddd"/>
</g>
<rect x="69.8" y="486.6" width="11" height="10.8" fill="none" stroke="#f4f4f4" stroke-width="1"/>
<rect x="91.3" y="521.4" width="29" height="28.8" fill="#030303"/>
<path d="M91.3 527 L120.2 540.6 L120.2 550.1 L91.3 550.1Z" fill="#242424"/>
<path d="M91.3 527 L120.2 540.6" fill="none" stroke="#b0b0b0" stroke-width="0.9" filter="url(#e05)"/>
<path d="M108 532 L114 523" fill="none" stroke="#444" stroke-width="2.2" filter="url(#e1)"/>
<rect x="91.3" y="521.4" width="29.4" height="29.2" fill="none" stroke="#fff" stroke-width="1"/>
<rect x="121.9" y="458.9" width="91.6" height="91.2" fill="#050505"/>
<g clip-path="url(#ch2)">
<g filter="url(#e1)">
<path d="M137.77 467.35 C138.8 466.32 143.12 471.4 146 472.84 C148.88 474.28 154.1 475.51 156.98 476.95 C159.86 478.39 163.15 479.56 165.21 482.44 C167.27 485.32 169.26 492.05 170.7 496.16 C172.14 500.28 173.58 505.77 174.82 509.88 C176.05 514 177.9 519.49 178.93 523.61 C179.96 527.72 181.76 533.95 181.68 537.33 C181.59 540.7 180.03 545.2 178.38 546.11 C176.74 547.01 173.09 545.5 170.7 543.36 C168.31 541.22 164.94 535.63 162.47 531.84 C160 528.05 156.7 522.23 154.23 518.12 C151.77 514 147.85 508.51 146 504.4 C144.15 500.28 142.91 494.38 141.89 490.68 C140.86 486.97 139.76 483.2 139.14 479.7 C138.52 476.2 136.74 468.38 137.77 467.35Z" fill="#2c2c2c"/>
<path d="M173.44 490.68 C174.06 486.06 178.8 482.58 181.68 479.7 C184.56 476.82 189.36 473.73 192.65 471.47 C195.95 469.2 200.34 466.17 203.63 464.6 C206.92 463.04 212.96 457.46 214.61 461.04 C216.25 464.62 216.25 483.83 214.61 488.48 C212.96 493.13 206.92 490.69 203.63 492.05 C200.34 493.41 195.95 495.48 192.65 497.54 C189.36 499.59 183.94 503.83 181.68 505.77 C179.41 507.7 178.8 512.7 177.56 510.43 C176.33 508.17 172.83 495.29 173.44 490.68Z" fill="#2e2e2e"/>
<path d="M120.76 524.15 C122.48 519.34 128.91 519.78 132.28 519.49 C135.66 519.2 140.38 520.38 143.26 522.23 C146.14 524.09 149.64 528.34 151.49 531.84 C153.34 535.34 154.78 542.6 155.61 545.56 C156.43 548.52 162.21 550.69 156.98 551.6 C151.75 552.5 126.19 555.71 120.76 551.6 C115.32 547.48 119.03 528.97 120.76 524.15Z" fill="#2a2a2a"/>
<path d="M120.76 456.37 C123.14 451.64 134.12 454.11 136.67 456.37 C139.22 458.64 138.22 467.14 137.77 471.47 C137.32 475.79 136.21 482.72 133.65 485.19 C131.1 487.66 122.69 492.25 120.76 487.93 C118.82 483.61 118.37 461.11 120.76 456.37Z" fill="#242424"/>
<path d="M120.76 488.48 C123.31 483.54 134.19 486.92 137.77 490.13 C141.35 493.34 144.42 505.19 144.63 509.88 C144.84 514.58 142.72 519.43 139.14 521.41 C135.56 523.39 123.51 528 120.76 523.06 C118 518.12 118.2 493.42 120.76 488.48Z" fill="#2a2a2a"/>
<path d="M137.77 490.13 C138.59 486.01 145.86 488.4 148.75 493.42 C151.63 498.44 156.98 518.25 156.98 523.61 C156.98 528.96 150.8 529.51 148.75 529.09 C146.69 528.68 144.9 526.71 143.26 520.86 C141.61 515.02 136.95 494.24 137.77 490.13Z" fill="#141414"/>
<path d="M156.98 548.3 C159.04 547.23 167.41 544.63 170.7 544.46 C173.99 544.3 176.67 546.14 178.93 547.21 C181.2 548.28 189.09 550.94 185.79 551.6 C182.5 552.26 161.3 552.09 156.98 551.6 C152.66 551.1 154.92 549.37 156.98 548.3Z" fill="#1c1c1c"/>
<path d="M137.77 457.2 C148.06 455.05 203.08 456.7 214.61 457.2 C226.13 457.69 216.25 459.5 214.61 460.49 C212.96 461.48 206.92 462.3 203.63 463.78 C200.34 465.26 195.95 468.14 192.65 470.37 C189.36 472.59 184.56 475.72 181.68 478.6 C178.8 481.48 175.3 488.18 173.44 489.58 C171.59 490.98 170.56 489.17 169.33 487.93 C168.09 486.7 167.06 483.16 165.21 481.34 C163.36 479.53 159.86 477.34 156.98 475.86 C154.1 474.37 148.88 474.26 146 471.47 C143.12 468.67 127.48 459.34 137.77 457.2Z" fill="#0c0c0c"/>
</g>
<rect x="121.9" y="458.9" width="91.6" height="91.2" fill="#fff" filter="url(#nz)" opacity="0.07"/>
<rect x="121.9" y="486" width="22" height="38" fill="#fff" filter="url(#nz2)" opacity="0.42"/>
<rect x="121.9" y="458.9" width="18" height="28" fill="#fff" filter="url(#nz2)" opacity="0.18"/>
<g filter="url(#e05)" fill="none" stroke="#e4e4e4" stroke-width="0.95" stroke-opacity="0.9">
<path d="M137.77 467.35 C139 468.17 143.12 471.4 146 472.84 C148.88 474.28 154.1 475.51 156.98 476.95 C159.86 478.39 163.15 479.56 165.21 482.44 C167.27 485.32 169.26 492.05 170.7 496.16 C172.14 500.28 173.58 505.77 174.82 509.88 C176.05 514 177.9 519.49 178.93 523.61 C179.96 527.72 181.59 534.2 181.68 537.33 C181.76 540.46 179.81 543.39 179.48 544.46" fill="none"/>
<path d="M139.14 479.7 C139.55 481.34 140.86 486.97 141.89 490.68 C142.91 494.38 144.15 500.28 146 504.4 C147.85 508.51 151.77 514 154.23 518.12 C156.7 522.23 160 528.05 162.47 531.84 C164.94 535.63 169.47 541.64 170.7 543.36" fill="none" stroke-opacity="0.75"/>
<path d="M203.63 464.6 C201.98 465.63 195.95 469.2 192.65 471.47 C189.36 473.73 184.56 476.82 181.68 479.7 C178.8 482.58 174.68 489.03 173.44 490.68" fill="none"/>
<path d="M214.61 488.48 C212.96 489.01 206.92 490.69 203.63 492.05 C200.34 493.41 195.95 495.48 192.65 497.54 C189.36 499.59 183.94 503.83 181.68 505.77 C179.41 507.7 178.05 508.17 177.56 510.43 C177.07 512.7 178.26 519.3 178.38 520.86" fill="none"/>
<path d="M213.51 463.23 C213.35 464.88 212.41 470.67 212.41 474.21 C212.41 477.75 213.35 484.94 213.51 486.83" fill="none" stroke-opacity="0.6"/>
<path d="M122.68 523.61 C124.12 522.99 129.19 519.7 132.28 519.49 C135.37 519.28 140.38 520.38 143.26 522.23 C146.14 524.09 149.64 528.34 151.49 531.84 C153.34 535.34 154.87 542.68 155.61 545.56 C156.35 548.44 156.31 550.23 156.43 551.05" fill="none" stroke-opacity="0.45"/>
<path d="M136.67 457.2 L137.77 467.35" fill="none" stroke-opacity="0.6"/>
</g>
<circle cx="201.44" cy="495.61" r="2.6" fill="#333" stroke="#9a9a9a" stroke-width="1.1" filter="url(#e05)"/>
<circle cx="164.39" cy="542.27" r="1.7" fill="#fff" filter="url(#e05)"/>
<circle cx="160.82" cy="547.76" r="1.5" fill="none" stroke="#ccc" stroke-width="0.8"/>
<circle cx="181.13" cy="465.98" r="1.1" fill="#999"/>
</g>
<rect x="157.2" y="476.8" width="10.8" height="10.8" fill="none" stroke="#f4f4f4" stroke-width="1"/>
<rect x="185.8" y="522.6" width="27.7" height="27.5" fill="#040404"/>
<path d="M185.8 526.4 C196 530 206 538 212.5 550.1 L185.8 550.1Z" fill="#2a2a2a"/>
<path d="M185.8 526.4 C196 530 206 538 212.5 550" fill="none" stroke="#f4f4f4" stroke-width="1.4" filter="url(#e05)"/>
<rect x="185.8" y="522.6" width="28.1" height="28" fill="none" stroke="#fff" stroke-width="1"/>
<line x1="123.6" y1="548" x2="126.6" y2="548" stroke="#eee" stroke-width="1.1"/>
<line x1="188" y1="548" x2="195" y2="548" stroke="#ddd" stroke-width="1.1"/>
</g>
<g id="p_f">
<text x="352.8" y="201" font-size="10.5">f</text>
<rect x="418.8" y="192.6" width="5.6" height="7.6" fill="#F4A582" stroke="#EE7A4A" stroke-width="0.8"/>
<text x="426.8" y="200.4" font-size="10.5">DBCO</text>
<rect x="494.4" y="192.3" width="5.4" height="7.4" fill="#6FAEF5" stroke="#4A94EE" stroke-width="0.8"/>
<text x="502.4" y="199.9" font-size="10.5">THS</text>
<rect x="497.1" y="202.5" width="70.2" height="69.2" fill="#CBCBC9"/>
<path d="M404.43 269.1 C404.64 268.86 405.28 269.26 405.66 267.66 C406.04 266.05 406.35 264.05 406.73 259.48 C407.12 254.91 407.55 246.25 407.96 240.24 C408.37 234.23 408.85 226.61 409.19 223.41 C409.52 220.2 409.67 220.6 409.95 221 C410.23 221.4 410.49 222.2 410.87 225.81 C411.26 229.42 411.77 237.19 412.25 242.65 C412.74 248.1 413.22 254.51 413.78 258.52 C414.35 262.53 415.01 264.93 415.62 266.7 C416.24 268.46 417.16 268.7 417.46 269.1Z" fill="#E4E4E4"/>
<path d="M404.43 269.1 C404.64 268.86 405.28 269.26 405.66 267.66 C406.04 266.05 406.35 264.05 406.73 259.48 C407.12 254.91 407.55 246.25 407.96 240.24 C408.37 234.23 408.85 226.61 409.19 223.41 C409.52 220.2 409.67 220.6 409.95 221 C410.23 221.4 410.49 222.2 410.87 225.81 C411.26 229.42 411.77 237.19 412.25 242.65 C412.74 248.1 413.22 254.51 413.78 258.52 C414.35 262.53 415.01 264.93 415.62 266.7 C416.24 268.46 417.16 268.7 417.46 269.1 L558.5 269.1" fill="none" stroke="#4A94EE" stroke-width="1.1" stroke-dasharray="5 2.6"/>
<path d="M414.4 269.1 C414.78 268.86 415.93 268.86 416.7 267.66 C417.46 266.45 418.23 264.85 419 261.89 C419.76 258.92 420.53 254.27 421.3 249.86 C422.06 245.45 422.83 239.44 423.6 235.43 C424.36 231.42 425.13 228.13 425.9 225.81 C426.66 223.49 427.51 222.28 428.19 221.48 C428.88 220.68 429.4 220.76 430.03 221 C430.67 221.24 431.18 221.64 432.03 222.92 C432.87 224.21 433.94 226.45 435.09 228.7 C436.24 230.94 437.52 233.91 438.93 236.39 C440.33 238.88 441.99 241.52 443.52 243.61 C445.06 245.69 446.34 247.13 448.12 248.9 C449.91 250.66 451.96 252.63 454.26 254.19 C456.56 255.75 459.11 257.08 461.92 258.28 C464.73 259.48 467.8 260.52 471.12 261.4 C474.44 262.29 478.02 262.93 481.85 263.57 C485.68 264.21 489.51 264.77 494.11 265.25 C498.71 265.73 503.82 266.09 509.44 266.45 C515.06 266.82 521.71 267.14 527.84 267.42 C533.97 267.7 541.13 267.98 546.24 268.14 C551.35 268.3 556.46 268.34 558.5 268.38 L558.5 269.1 L414.4 269.1Z" fill="#F4A582" fill-opacity="0.62"/>
<path d="M417.46 269.1 C417.98 268.86 419.51 268.62 420.53 267.66 C421.55 266.7 422.57 265.33 423.6 263.33 C424.62 261.32 425.64 258.52 426.66 255.63 C427.68 252.75 428.71 249.22 429.73 246.01 C430.75 242.81 431.77 239.28 432.79 236.39 C433.82 233.51 434.84 230.86 435.86 228.7 C436.88 226.53 437.9 224.65 438.93 223.41 C439.95 222.16 440.97 221.64 441.99 221.24 C443.01 220.84 444.04 220.8 445.06 221 C446.08 221.2 447.1 221.8 448.12 222.44 C449.15 223.08 449.91 223.65 451.19 224.85 C452.47 226.05 454 227.89 455.79 229.66 C457.58 231.42 459.62 233.35 461.92 235.43 C464.22 237.51 467.03 240.08 469.59 242.16 C472.14 244.25 474.44 246.09 477.25 247.94 C480.06 249.78 483.13 251.62 486.45 253.23 C489.77 254.83 493.6 256.31 497.18 257.56 C500.76 258.8 504.08 259.72 507.91 260.68 C511.74 261.64 516.09 262.57 520.17 263.33 C524.26 264.09 528.1 264.69 532.44 265.25 C536.78 265.81 541.89 266.33 546.24 266.7 C550.58 267.06 556.46 267.3 558.5 267.42 L558.5 269.1 L417.46 269.1Z" fill="#7DB4F5" fill-opacity="0.45"/>
<path d="M414.4 269.1 C414.78 268.86 415.93 268.86 416.7 267.66 C417.46 266.45 418.23 264.85 419 261.89 C419.76 258.92 420.53 254.27 421.3 249.86 C422.06 245.45 422.83 239.44 423.6 235.43 C424.36 231.42 425.13 228.13 425.9 225.81 C426.66 223.49 427.51 222.28 428.19 221.48 C428.88 220.68 429.4 220.76 430.03 221 C430.67 221.24 431.18 221.64 432.03 222.92 C432.87 224.21 433.94 226.45 435.09 228.7 C436.24 230.94 437.52 233.91 438.93 236.39 C440.33 238.88 441.99 241.52 443.52 243.61 C445.06 245.69 446.34 247.13 448.12 248.9 C449.91 250.66 451.96 252.63 454.26 254.19 C456.56 255.75 459.11 257.08 461.92 258.28 C464.73 259.48 467.8 260.52 471.12 261.4 C474.44 262.29 478.02 262.93 481.85 263.57 C485.68 264.21 489.51 264.77 494.11 265.25 C498.71 265.73 503.82 266.09 509.44 266.45 C515.06 266.82 521.71 267.14 527.84 267.42 C533.97 267.7 541.13 267.98 546.24 268.14 C551.35 268.3 556.46 268.34 558.5 268.38" fill="none" stroke="#E8703C" stroke-width="0.9"/>
<path d="M417.46 269.1 C417.98 268.86 419.51 268.62 420.53 267.66 C421.55 266.7 422.57 265.33 423.6 263.33 C424.62 261.32 425.64 258.52 426.66 255.63 C427.68 252.75 428.71 249.22 429.73 246.01 C430.75 242.81 431.77 239.28 432.79 236.39 C433.82 233.51 434.84 230.86 435.86 228.7 C436.88 226.53 437.9 224.65 438.93 223.41 C439.95 222.16 440.97 221.64 441.99 221.24 C443.01 220.84 444.04 220.8 445.06 221 C446.08 221.2 447.1 221.8 448.12 222.44 C449.15 223.08 449.91 223.65 451.19 224.85 C452.47 226.05 454 227.89 455.79 229.66 C457.58 231.42 459.62 233.35 461.92 235.43 C464.22 237.51 467.03 240.08 469.59 242.16 C472.14 244.25 474.44 246.09 477.25 247.94 C480.06 249.78 483.13 251.62 486.45 253.23 C489.77 254.83 493.6 256.31 497.18 257.56 C500.76 258.8 504.08 259.72 507.91 260.68 C511.74 261.64 516.09 262.57 520.17 263.33 C524.26 264.09 528.1 264.69 532.44 265.25 C536.78 265.81 541.89 266.33 546.24 266.7 C550.58 267.06 556.46 267.3 558.5 267.42" fill="none" stroke="#3F8FF0" stroke-width="0.9"/>
<line x1="396" y1="201.8" x2="396" y2="274.8" stroke="#222" stroke-width="1"/>
<line x1="395.5" y1="274.3" x2="567.3" y2="274.3" stroke="#222" stroke-width="1"/>
<line x1="393.4" y1="221" x2="396" y2="221" stroke="#222" stroke-width="0.9"/>
<text x="392.6" y="224.5" font-size="10" text-anchor="end">1.0</text>
<line x1="393.4" y1="245.05" x2="396" y2="245.05" stroke="#222" stroke-width="0.9"/>
<text x="392.6" y="248.55" font-size="10" text-anchor="end">0.5</text>
<line x1="393.4" y1="269.1" x2="396" y2="269.1" stroke="#222" stroke-width="0.9"/>
<text x="392.6" y="272.6" font-size="10" text-anchor="end">0.0</text>
<line x1="405.2" y1="274.3" x2="405.2" y2="277.1" stroke="#222" stroke-width="0.9"/>
<text x="405.2" y="287" font-size="10" text-anchor="middle">0</text>
<line x1="443.52" y1="274.3" x2="443.52" y2="277.1" stroke="#222" stroke-width="0.9"/>
<text x="443.52" y="287" font-size="10" text-anchor="middle">25</text>
<line x1="481.85" y1="274.3" x2="481.85" y2="277.1" stroke="#222" stroke-width="0.9"/>
<text x="481.85" y="287" font-size="10" text-anchor="middle">50</text>
<line x1="520.17" y1="274.3" x2="520.17" y2="277.1" stroke="#222" stroke-width="0.9"/>
<text x="520.17" y="287" font-size="10" text-anchor="middle">75</text>
<line x1="558.5" y1="274.3" x2="558.5" y2="277.1" stroke="#222" stroke-width="0.9"/>
<text x="558.5" y="287" font-size="10" text-anchor="middle">100</text>
<text x="481.5" y="297.2" font-size="10.5" text-anchor="middle">Probe-FITC (A.U.)</text>
<text x="372.8" y="243.8" font-size="10.6" text-anchor="middle" transform="rotate(-90 372.8 243.8)">Normalized count</text>
<text x="405.8" y="219.6" font-size="10.4" text-anchor="middle">1</text>
<text x="423.8" y="219.4" font-size="10.4" text-anchor="middle">16</text>
<text x="443.4" y="219" font-size="10.4" text-anchor="middle">24</text>
<text x="499.2" y="220.4" font-size="10.4">Glycocalyx<tspan dy="-3.6" font-size="6.2">high</tspan></text>
<text x="499.2" y="234.9" font-size="10.4">95% centile</text>
<line x1="566" y1="256.2" x2="584.6" y2="256.2" stroke="#333" stroke-width="1"/><line x1="584.6" y1="256.2" x2="582.03" y2="259.65" stroke="#333" stroke-width="1"/><line x1="584.6" y1="256.2" x2="582.03" y2="252.75" stroke="#333" stroke-width="1"/>
<line x1="623.5" y1="211.5" x2="623.5" y2="274" stroke="#222" stroke-width="1"/>
<line x1="623" y1="273.5" x2="660.8" y2="273.5" stroke="#222" stroke-width="1"/>
<line x1="619.7" y1="215.1" x2="623.5" y2="215.1" stroke="#222" stroke-width="0.9"/>
<text x="615.3" y="218.7" font-size="10.3" text-anchor="end">30</text>
<line x1="619.7" y1="233" x2="623.5" y2="233" stroke="#222" stroke-width="0.9"/>
<text x="615.3" y="236.6" font-size="10.3" text-anchor="end">20</text>
<line x1="619.7" y1="250.8" x2="623.5" y2="250.8" stroke="#222" stroke-width="0.9"/>
<text x="615.3" y="254.4" font-size="10.3" text-anchor="end">10</text>
<line x1="619.7" y1="268.8" x2="623.5" y2="268.8" stroke="#222" stroke-width="0.9"/>
<text x="615.3" y="272.4" font-size="10.3" text-anchor="end">0</text>
<rect x="626.2" y="260.4" width="15" height="8.5" fill="#fff" stroke="#222" stroke-width="0.9"/>
<rect x="642.6" y="223.4" width="15" height="45.5" fill="#fff" stroke="#222" stroke-width="0.9"/>
<line x1="633.9" y1="273.5" x2="633.9" y2="276.3" stroke="#222" stroke-width="0.9"/>
<line x1="650.7" y1="273.5" x2="650.7" y2="276.3" stroke="#222" stroke-width="0.9"/>
<text x="639.4" y="281.6" font-size="10.5" text-anchor="end" transform="rotate(-45 639.4 281.6)">DBCO</text>
<text x="656.4" y="281.6" font-size="10.5" text-anchor="end" transform="rotate(-45 656.4 281.6)">THS</text>
<line x1="650.2" y1="214.3" x2="650.2" y2="223.4" stroke="#222" stroke-width="0.9"/>
<line x1="647.2" y1="214.3" x2="654" y2="214.3" stroke="#222" stroke-width="0.9"/>
<circle cx="650.2" cy="214.6" r="1" fill="#222"/>
<circle cx="650.2" cy="225" r="1" fill="#222"/>
<circle cx="650.2" cy="231.6" r="1" fill="#222"/>
<circle cx="633.9" cy="260.6" r="0.8" fill="#222"/>
<text x="640.8" y="208.8" font-size="7.8" text-anchor="middle">p=0.017</text>
<line x1="631.8" y1="210.8" x2="651.7" y2="210.8" stroke="#333" stroke-width="0.9"/>
<text x="597.6" y="240.3" font-size="10.5" text-anchor="middle" transform="rotate(-90 597.6 240.3)">Glycocalyx<tspan dy="-3.4" font-size="6.2">high</tspan><tspan dy="3.4" font-size="10.5"> (%)</tspan></text>
</g>
<g id="p_g">
<text x="353.6" y="301.6" font-size="10.5">g</text>
<text x="423.8" y="313.8" font-size="10.4" text-anchor="middle">Ac<tspan dy="1.6" font-size="6">4</tspan><tspan dy="-1.6">ManNAz</tspan></text>
<rect x="394.5" y="318.7" width="61" height="39.2" fill="#CBCBC9"/>
<path d="M409.4 323.5 C409.25 327.25 409.43 341.25 409.3 346 C409.17 350.75 409.45 348.71 408.6 352 C407.75 355.29 405.84 362.33 404.22 365.75 C402.6 369.17 400.02 370.54 398.89 372.5 C397.75 374.46 397.36 376.08 397.4 377.5 C397.44 378.92 397.94 379.57 399.14 381 C400.33 382.43 403.08 384.7 404.59 386.05 C406.1 387.4 407.38 388.01 408.2 389.1 C409.02 390.19 409.18 392.02 409.5 392.6 C409.82 393.18 409.78 393.18 410.1 392.6 C410.42 392.02 410.57 390.19 411.4 389.1 C412.23 388.01 413.55 387.4 415.09 386.05 C416.63 384.7 419.42 382.43 420.64 381 C421.85 379.57 422.36 378.92 422.4 377.5 C422.44 376.08 422.04 374.46 420.89 372.5 C419.73 370.54 417.12 369.17 415.47 365.75 C413.82 362.33 411.86 355.29 411 352 C410.14 348.71 410.43 350.75 410.3 346 C410.17 341.25 410.35 327.25 410.2 323.5 C410.05 319.75 409.55 319.75 409.4 323.5Z" fill="#D99A98" stroke="#111" stroke-width="1"/>
<path d="M408.6 352 C407.87 354.29 405.84 362.33 404.22 365.75 C402.6 369.17 400.02 370.54 398.89 372.5 C397.75 374.46 397.36 376.08 397.4 377.5 C397.44 378.92 397.94 379.57 399.14 381 C400.33 382.43 403.68 385.21 404.59 386.05 L404.3 384.5 L406.8 372 L409.3 358 L409.6 350Z" fill="#C80000" stroke="#111" stroke-width="0.8"/>
<path d="M409.6 352 L409.3 358 L406.8 372 L404.3 384.5 L407.8 389.5 C409 383 413 381 415.5 378 C417.5 375 416 368 413.5 362 L410.4 352Z" fill="#D46868" stroke="#111" stroke-width="0.8"/>
<line x1="409.8" y1="322.4" x2="409.8" y2="392" stroke="#111" stroke-width="0.9"/>
<circle cx="403.8" cy="372.5" r="1.1" fill="none" stroke="#111" stroke-width="0.7"/>
<circle cx="411.6" cy="374.3" r="1.2" fill="none" stroke="#111" stroke-width="0.7"/>
<circle cx="414.6" cy="381.6" r="1.1" fill="none" stroke="#111" stroke-width="0.7"/>
<circle cx="409.6" cy="385" r="0.9" fill="none" stroke="#111" stroke-width="0.7"/>
<circle cx="409.6" cy="367" r="0.8" fill="none" stroke="#111" stroke-width="0.7"/>
<path d="M440 323.5 C439.85 324.92 440.03 329.58 439.9 332 C439.77 334.42 440.04 334.52 439.2 338 C438.36 341.48 436.47 349.07 434.86 352.85 C433.26 356.63 430.7 358.56 429.58 360.7 C428.45 362.84 428.06 364.28 428.1 365.7 C428.14 367.12 428.63 366.88 429.82 369.2 C431.01 371.52 433.74 376.5 435.23 379.65 C436.73 382.8 437.99 386.11 438.8 388.1 C439.61 390.09 439.78 391.02 440.1 391.6 C440.42 392.18 440.38 392.18 440.7 391.6 C441.02 391.02 441.19 390.09 442 388.1 C442.81 386.11 444.07 382.8 445.57 379.65 C447.06 376.5 449.79 371.52 450.98 369.2 C452.17 366.88 452.66 367.12 452.7 365.7 C452.74 364.28 452.35 362.84 451.22 360.7 C450.1 358.56 447.54 356.63 445.94 352.85 C444.33 349.07 442.44 341.48 441.6 338 C440.76 334.52 441.03 334.42 440.9 332 C440.77 329.58 440.95 324.92 440.8 323.5 C440.65 322.08 440.15 322.08 440 323.5Z" fill="#9C9CE0" stroke="#111" stroke-width="1"/>
<path d="M439.2 338 C438.48 340.48 436.47 349.07 434.86 352.85 C433.26 356.63 430.7 358.56 429.58 360.7 C428.45 362.84 428.06 364.28 428.1 365.7 C428.14 367.12 428.63 366.88 429.82 369.2 C431.01 371.52 434.33 377.91 435.23 379.65 L438.6 383 L436 370 L438.6 352 L440 338Z" fill="#0000D2" stroke="#111" stroke-width="0.8"/>
<path d="M440 338 L438.6 352 L436 370 L438.6 383 L440.4 388 C441 380 445 374 446 368 C446.5 362 443.5 352 442 345 L440.8 338Z" fill="#6C6CDA" stroke="#111" stroke-width="0.8"/>
<line x1="440.4" y1="322.4" x2="440.4" y2="391" stroke="#111" stroke-width="0.9"/>
<circle cx="432.6" cy="364" r="1.1" fill="none" stroke="#111" stroke-width="0.7"/>
<circle cx="440.6" cy="366.5" r="1.2" fill="none" stroke="#111" stroke-width="0.7"/>
<circle cx="448.4" cy="363.8" r="1.1" fill="none" stroke="#111" stroke-width="0.7"/>
<circle cx="440.6" cy="362.5" r="0.8" fill="none" stroke="#111" stroke-width="0.7"/>
<line x1="394.5" y1="318.7" x2="394.5" y2="394.9" stroke="#444" stroke-width="1.2"/>
<line x1="393.9" y1="394.3" x2="456" y2="394.3" stroke="#444" stroke-width="1.2"/>
<line x1="391.7" y1="333.5" x2="394.5" y2="333.5" stroke="#333" stroke-width="0.9"/>
<text x="389.6" y="337.1" font-size="10.2" text-anchor="end">100</text>
<line x1="391.7" y1="348.8" x2="394.5" y2="348.8" stroke="#333" stroke-width="0.9"/>
<text x="389.6" y="352.4" font-size="10.2" text-anchor="end">75</text>
<line x1="391.7" y1="364.1" x2="394.5" y2="364.1" stroke="#333" stroke-width="0.9"/>
<text x="389.6" y="367.7" font-size="10.2" text-anchor="end">50</text>
<line x1="391.7" y1="379.3" x2="394.5" y2="379.3" stroke="#333" stroke-width="0.9"/>
<text x="389.6" y="382.9" font-size="10.2" text-anchor="end">25</text>
<line x1="391.7" y1="394.3" x2="394.5" y2="394.3" stroke="#333" stroke-width="0.9"/>
<text x="389.6" y="397.9" font-size="10.2" text-anchor="end">0</text>
<line x1="409.8" y1="394.3" x2="409.8" y2="397.3" stroke="#333" stroke-width="0.9"/>
<line x1="440.4" y1="394.3" x2="440.4" y2="397.3" stroke="#333" stroke-width="0.9"/>
<text x="415.6" y="403.2" font-size="10.5" text-anchor="end" transform="rotate(-45 415.6 403.2)">DBCO</text>
<text x="446.6" y="403.2" font-size="10.5" text-anchor="end" transform="rotate(-45 446.6 403.2)">THS</text>
<text x="372.4" y="358.6" font-size="10.6" text-anchor="middle" transform="rotate(-90 372.4 358.6)">Fluorescence</text>
<text x="425" y="327.5" font-size="7.8" text-anchor="middle">p=0.017</text>
<line x1="412" y1="329.9" x2="438.8" y2="329.9" stroke="#666" stroke-width="1.5"/>
<line x1="453.6" y1="355.5" x2="472.6" y2="355.5" stroke="#333" stroke-width="1"/><line x1="472.6" y1="355.5" x2="470.03" y2="358.95" stroke="#333" stroke-width="1"/><line x1="472.6" y1="355.5" x2="470.03" y2="352.05" stroke="#333" stroke-width="1"/>
<text x="479" y="347" font-size="10.5" text-anchor="middle" transform="rotate(-90 479 347)">Glycocalyx<tspan dy="-3.4" font-size="6.2">high</tspan><tspan dy="3.4" font-size="10.5"> (%)</tspan></text>
<line x1="503.7" y1="323.6" x2="503.7" y2="392.3" stroke="#222" stroke-width="1"/>
<line x1="503.2" y1="391.8" x2="539.4" y2="391.8" stroke="#222" stroke-width="1"/>
<line x1="500.9" y1="329.2" x2="503.7" y2="329.2" stroke="#222" stroke-width="0.9"/>
<text x="498.5" y="332.8" font-size="10.4" text-anchor="end">40</text>
<line x1="500.9" y1="344" x2="503.7" y2="344" stroke="#222" stroke-width="0.9"/>
<text x="498.5" y="347.6" font-size="10.4" text-anchor="end">30</text>
<line x1="500.9" y1="358.5" x2="503.7" y2="358.5" stroke="#222" stroke-width="0.9"/>
<text x="498.5" y="362.1" font-size="10.4" text-anchor="end">20</text>
<line x1="500.9" y1="373.3" x2="503.7" y2="373.3" stroke="#222" stroke-width="0.9"/>
<text x="498.5" y="376.9" font-size="10.4" text-anchor="end">10</text>
<line x1="500.9" y1="388.1" x2="503.7" y2="388.1" stroke="#222" stroke-width="0.9"/>
<text x="498.5" y="391.7" font-size="10.4" text-anchor="end">0</text>
<rect x="505.7" y="380.6" width="15.6" height="7.6" fill="#fff" stroke="#222" stroke-width="0.9"/>
<rect x="523" y="338.4" width="15.5" height="49.8" fill="#fff" stroke="#222" stroke-width="0.9"/>
<line x1="513.6" y1="391.8" x2="513.6" y2="394.6" stroke="#222" stroke-width="0.9"/>
<line x1="532.1" y1="391.8" x2="532.1" y2="394.6" stroke="#222" stroke-width="0.9"/>
<text x="519.2" y="400.6" font-size="10.5" text-anchor="end" transform="rotate(-45 519.2 400.6)">DBCO</text>
<text x="538.2" y="400.6" font-size="10.5" text-anchor="end" transform="rotate(-45 538.2 400.6)">THS</text>
<line x1="530.2" y1="329.3" x2="530.2" y2="338.4" stroke="#222" stroke-width="0.9"/>
<line x1="526.5" y1="329.3" x2="533.8" y2="329.3" stroke="#222" stroke-width="0.9"/>
<circle cx="530.2" cy="332" r="1" fill="#222"/>
<circle cx="530.2" cy="336" r="1" fill="#222"/>
<circle cx="530.2" cy="352.6" r="1" fill="#222"/>
<circle cx="513.6" cy="380.7" r="0.8" fill="#222"/>
<text x="523.4" y="318.9" font-size="7.8" text-anchor="middle">p=0.013</text>
<line x1="512.3" y1="321.9" x2="532.8" y2="321.9" stroke="#333" stroke-width="0.9"/>
<text x="620.6" y="316.6" font-size="10.4" text-anchor="middle">Unlabelled</text>
<line x1="582.8" y1="319.9" x2="582.8" y2="396.7" stroke="#222" stroke-width="1"/>
<line x1="582.3" y1="396.2" x2="667.3" y2="396.2" stroke="#222" stroke-width="1"/>
<line x1="580" y1="335.9" x2="582.8" y2="335.9" stroke="#222" stroke-width="0.9"/>
<text x="578.4" y="339.5" font-size="10.2" text-anchor="end">100</text>
<line x1="580" y1="350.7" x2="582.8" y2="350.7" stroke="#222" stroke-width="0.9"/>
<text x="578.4" y="354.3" font-size="10.2" text-anchor="end">75</text>
<line x1="580" y1="366" x2="582.8" y2="366" stroke="#222" stroke-width="0.9"/>
<text x="578.4" y="369.6" font-size="10.2" text-anchor="end">50</text>
<line x1="580" y1="381.2" x2="582.8" y2="381.2" stroke="#222" stroke-width="0.9"/>
<text x="578.4" y="384.8" font-size="10.2" text-anchor="end">25</text>
<line x1="580" y1="396.2" x2="582.8" y2="396.2" stroke="#222" stroke-width="0.9"/>
<text x="578.4" y="399.8" font-size="10.2" text-anchor="end">0</text>
<text x="560.2" y="361.2" font-size="10.6" text-anchor="middle" transform="rotate(-90 560.2 361.2)">Fluorescence</text>
<line x1="598.5" y1="396.2" x2="598.5" y2="399.2" stroke="#222" stroke-width="0.9"/>
<path d="M587.1 391.6 Q598.5 387 609.9 391.6 Q598.5 396.2 587.1 391.6Z" fill="#8FE29A" stroke="#111" stroke-width="1.2"/>
<path d="M588.9 391.6 Q594.5 389.6 597.9 390 L595.1 392.6Z" fill="#18B22E"/>
<path d="M599.5 392 L604.9 391 L601.5 393.6Z" fill="#18B22E"/>
<path d="M598.5 380.9 L596.9 389.7 L600.1 389.7 L598.5 387.1Z" fill="#111"/>
<line x1="598.5" y1="380.9" x2="598.5" y2="389.6" stroke="#111" stroke-width="1"/>
<line x1="598.5" y1="394.2" x2="598.5" y2="395.4" stroke="#111" stroke-width="1"/>
<line x1="625.4" y1="396.2" x2="625.4" y2="399.2" stroke="#222" stroke-width="0.9"/>
<path d="M622.8 391.1 L625.4 386.1 L628 391.1Z" fill="#C80000" stroke="#111" stroke-width="0.9"/>
<path d="M614 392.7 Q625.4 388.1 636.8 392.7 Q625.4 397.3 614 392.7Z" fill="#E08A8A" stroke="#111" stroke-width="1.2"/>
<path d="M615.8 392.7 Q621.4 390.7 624.8 391.1 L622 393.7Z" fill="#C80000"/>
<path d="M626.4 393.1 L631.8 392.1 L628.4 394.7Z" fill="#C80000"/>
<path d="M625.4 380.9 L623.8 390.8 L627 390.8 L625.4 388.2Z" fill="#111"/>
<line x1="625.4" y1="380.9" x2="625.4" y2="390.7" stroke="#111" stroke-width="1"/>
<line x1="625.4" y1="395.3" x2="625.4" y2="396.5" stroke="#111" stroke-width="1"/>
<line x1="652.7" y1="396.2" x2="652.7" y2="399.2" stroke="#222" stroke-width="0.9"/>
<path d="M641.3 391.2 Q652.7 386.6 664.1 391.2 Q652.7 395.8 641.3 391.2Z" fill="#8C8CE6" stroke="#111" stroke-width="1.2"/>
<path d="M643.1 391.2 Q648.7 389.2 652.1 389.6 L649.3 392.2Z" fill="#0000D2"/>
<path d="M653.7 391.6 L659.1 390.6 L655.7 393.2Z" fill="#0000D2"/>
<path d="M652.7 380.9 L651.1 389.3 L654.3 389.3 L652.7 386.7Z" fill="#111"/>
<line x1="652.7" y1="380.9" x2="652.7" y2="389.2" stroke="#111" stroke-width="1"/>
<line x1="652.7" y1="393.8" x2="652.7" y2="395" stroke="#111" stroke-width="1"/>
<text x="626.7" y="365.9" font-size="10.4" text-anchor="middle">n.s.</text>
<line x1="596.1" y1="369.6" x2="654" y2="369.6" stroke="#333" stroke-width="0.9"/>
<text x="604.2" y="405" font-size="10.5" text-anchor="end" transform="rotate(-45 604.2 405)">DMSO</text>
<text x="631" y="405" font-size="10.5" text-anchor="end" transform="rotate(-45 631 405)">DBCO</text>
<text x="658.6" y="405" font-size="10.5" text-anchor="end" transform="rotate(-45 658.6 405)">THS</text>
</g>
<g id="p_h">
<text x="2.6" y="440.6" font-size="10.5">h</text>
<text x="82.8" y="454.6" font-size="10.3" text-anchor="middle">DBCO</text>
<text x="162.6" y="454.6" font-size="10.3" text-anchor="middle">THS</text>
<circle cx="253" cy="444.6" r="2.7" fill="#F4A582"/>
<text x="259" y="448.8" font-size="10.8">DBCO</text>
<circle cx="307.4" cy="444.4" r="2.7" fill="#8EC0F8"/>
<text x="314.4" y="448.2" font-size="10.8">THS</text>
<rect x="255.2" y="461.3" width="81.6" height="47.5" fill="#CFCFCD"/>
<path d="M259.29 517.9 L261.87 514.71 L264.44 512.21 L267.02 510.06 L269.59 508.12 L272.17 506.31 L274.74 504.58 L277.32 502.9 L279.89 501.24 L282.47 499.58 L285.05 497.96 L287.62 496.38 L290.2 494.84 L292.77 493.32 L295.35 491.82 L297.92 490.34 L300.5 488.87 L303.07 487.42 L305.65 485.97 L308.22 484.52 L310.8 483.07 L313.37 481.63 L315.95 480.18 L318.53 478.73 L321.1 477.27 L323.68 475.81 L326.25 474.34 L328.83 472.86 L331.4 471.37 L333.98 469.88 L336.55 468.37 L336.55 483.87 L333.98 484.26 L331.4 484.69 L328.83 485.17 L326.25 485.69 L323.68 486.26 L321.1 486.88 L318.53 487.54 L315.95 488.25 L313.37 489.01 L310.8 489.83 L308.22 490.69 L305.65 491.62 L303.07 492.6 L300.5 493.64 L297.92 494.75 L295.35 495.92 L292.77 497.16 L290.2 498.48 L287.62 499.88 L285.05 501.37 L282.47 502.95 L279.89 504.67 L277.32 506.55 L274.74 508.64 L272.17 510.95 L269.59 513.5 L267.02 516.36 L264.44 519.61 L261.87 523.38 L259.29 528.01Z" fill="#9A9A9A" fill-opacity="0.55"/>
<circle cx="264.73" cy="518.79" r="1.9" fill="#F08A55" fill-opacity="0.78"/>
<circle cx="262.87" cy="508.47" r="1.9" fill="#6FB0F6" fill-opacity="0.78"/>
<circle cx="261.39" cy="520.94" r="1.9" fill="#F08A55" fill-opacity="0.78"/>
<circle cx="269.04" cy="504.55" r="1.9" fill="#6FB0F6" fill-opacity="0.78"/>
<circle cx="285.48" cy="498.02" r="1.9" fill="#F08A55" fill-opacity="0.78"/>
<circle cx="269.6" cy="507.26" r="1.9" fill="#6FB0F6" fill-opacity="0.78"/>
<circle cx="280.65" cy="502.2" r="1.9" fill="#6FB0F6" fill-opacity="0.78"/>
<circle cx="269.47" cy="506.98" r="1.9" fill="#F08A55" fill-opacity="0.78"/>
<circle cx="264.98" cy="517.15" r="1.9" fill="#F08A55" fill-opacity="0.78"/>
<circle cx="262.06" cy="526.29" r="1.9" fill="#F08A55" fill-opacity="0.78"/>
<circle cx="260.67" cy="523.1" r="1.9" fill="#F08A55" fill-opacity="0.78"/>
<circle cx="265.21" cy="518.61" r="1.9" fill="#F08A55" fill-opacity="0.78"/>
<circle cx="268.24" cy="508.25" r="1.9" fill="#F08A55" fill-opacity="0.78"/>
<circle cx="265.04" cy="510.96" r="1.9" fill="#6FB0F6" fill-opacity="0.78"/>
<circle cx="264.91" cy="507.86" r="1.9" fill="#6FB0F6" fill-opacity="0.78"/>
<circle cx="270.12" cy="500.73" r="1.9" fill="#6FB0F6" fill-opacity="0.78"/>
<circle cx="275.71" cy="506.58" r="1.9" fill="#6FB0F6" fill-opacity="0.78"/>
<circle cx="275.44" cy="494.65" r="1.9" fill="#6FB0F6" fill-opacity="0.78"/>
<circle cx="263.15" cy="516.74" r="1.9" fill="#F08A55" fill-opacity="0.78"/>
<circle cx="274.81" cy="519.61" r="1.9" fill="#6FB0F6" fill-opacity="0.78"/>
<circle cx="266.18" cy="507.18" r="1.9" fill="#6FB0F6" fill-opacity="0.78"/>
<circle cx="263.08" cy="522.16" r="1.9" fill="#F08A55" fill-opacity="0.78"/>
<circle cx="271.6" cy="511.5" r="1.9" fill="#F08A55" fill-opacity="0.78"/>
<circle cx="262.47" cy="512.35" r="1.9" fill="#F08A55" fill-opacity="0.78"/>
<circle cx="268.02" cy="536.44" r="1.9" fill="#F08A55" fill-opacity="0.78"/>
<circle cx="264.23" cy="515.5" r="1.9" fill="#F08A55" fill-opacity="0.78"/>
<circle cx="265.58" cy="513.69" r="1.9" fill="#6FB0F6" fill-opacity="0.78"/>
<circle cx="263.76" cy="515.23" r="1.9" fill="#6FB0F6" fill-opacity="0.78"/>
<circle cx="262.03" cy="524.67" r="1.9" fill="#F08A55" fill-opacity="0.78"/>
<circle cx="265.63" cy="513.96" r="1.9" fill="#F08A55" fill-opacity="0.78"/>
<circle cx="266.4" cy="511.42" r="1.9" fill="#6FB0F6" fill-opacity="0.78"/>
<circle cx="269.63" cy="520.86" r="1.9" fill="#F08A55" fill-opacity="0.78"/>
<circle cx="267.79" cy="505.48" r="1.9" fill="#6FB0F6" fill-opacity="0.78"/>
<circle cx="267.94" cy="504.91" r="1.9" fill="#6FB0F6" fill-opacity="0.78"/>
<circle cx="270.64" cy="507.46" r="1.9" fill="#F08A55" fill-opacity="0.78"/>
<circle cx="266.71" cy="504.76" r="1.9" fill="#F08A55" fill-opacity="0.78"/>
<circle cx="264.63" cy="515.67" r="1.9" fill="#6FB0F6" fill-opacity="0.78"/>
<circle cx="265.61" cy="507.08" r="1.9" fill="#6FB0F6" fill-opacity="0.78"/>
<circle cx="273.05" cy="496.34" r="1.9" fill="#6FB0F6" fill-opacity="0.78"/>
<circle cx="268.55" cy="502.33" r="1.9" fill="#6FB0F6" fill-opacity="0.78"/>
<circle cx="272.23" cy="501.5" r="1.9" fill="#6FB0F6" fill-opacity="0.78"/>
<circle cx="263.38" cy="512.71" r="1.9" fill="#F08A55" fill-opacity="0.78"/>
<circle cx="275.88" cy="512.85" r="1.9" fill="#6FB0F6" fill-opacity="0.78"/>
<circle cx="263.99" cy="506.53" r="1.9" fill="#6FB0F6" fill-opacity="0.78"/>
<circle cx="275.95" cy="500.26" r="1.9" fill="#6FB0F6" fill-opacity="0.78"/>
<circle cx="266.53" cy="510.32" r="1.9" fill="#6FB0F6" fill-opacity="0.78"/>
<circle cx="262.39" cy="516.35" r="1.9" fill="#F08A55" fill-opacity="0.78"/>
<circle cx="281.12" cy="491.28" r="1.9" fill="#6FB0F6" fill-opacity="0.78"/>
<circle cx="261.7" cy="518.94" r="1.9" fill="#F08A55" fill-opacity="0.78"/>
<circle cx="278.06" cy="487.24" r="1.9" fill="#6FB0F6" fill-opacity="0.78"/>
<circle cx="259.59" cy="516.08" r="1.9" fill="#F08A55" fill-opacity="0.78"/>
<circle cx="275.22" cy="519.01" r="1.9" fill="#6FB0F6" fill-opacity="0.78"/>
<circle cx="317.35" cy="497.35" r="1.9" fill="#6FB0F6" fill-opacity="0.78"/>
<circle cx="260.86" cy="518.37" r="1.9" fill="#F08A55" fill-opacity="0.78"/>
<circle cx="271.37" cy="495.61" r="1.9" fill="#6FB0F6" fill-opacity="0.78"/>
<circle cx="263.57" cy="506.2" r="1.9" fill="#6FB0F6" fill-opacity="0.78"/>
<circle cx="272.33" cy="503.6" r="1.9" fill="#6FB0F6" fill-opacity="0.78"/>
<circle cx="271.82" cy="506.41" r="1.9" fill="#6FB0F6" fill-opacity="0.78"/>
<circle cx="270.14" cy="505.4" r="1.9" fill="#6FB0F6" fill-opacity="0.78"/>
<circle cx="322.15" cy="476.46" r="1.9" fill="#6FB0F6" fill-opacity="0.78"/>
<circle cx="261.18" cy="518.54" r="1.9" fill="#F08A55" fill-opacity="0.78"/>
<circle cx="266.41" cy="511.08" r="1.9" fill="#6FB0F6" fill-opacity="0.78"/>
<circle cx="262.69" cy="512.2" r="1.9" fill="#F08A55" fill-opacity="0.78"/>
<circle cx="263.33" cy="508.61" r="1.9" fill="#F08A55" fill-opacity="0.78"/>
<circle cx="268.02" cy="466.35" r="1.9" fill="#6FB0F6" fill-opacity="0.78"/>
<circle cx="261.16" cy="520.94" r="1.9" fill="#F08A55" fill-opacity="0.78"/>
<circle cx="326.51" cy="476.12" r="1.9" fill="#6FB0F6" fill-opacity="0.78"/>
<circle cx="272.82" cy="520.94" r="1.9" fill="#6FB0F6" fill-opacity="0.78"/>
<circle cx="267.12" cy="512.4" r="1.9" fill="#6FB0F6" fill-opacity="0.78"/>
<circle cx="270" cy="506.08" r="1.9" fill="#6FB0F6" fill-opacity="0.78"/>
<circle cx="264.26" cy="513.14" r="1.9" fill="#6FB0F6" fill-opacity="0.78"/>
<circle cx="336.99" cy="478.48" r="1.9" fill="#6FB0F6" fill-opacity="0.78"/>
<circle cx="272.38" cy="507.94" r="1.9" fill="#6FB0F6" fill-opacity="0.78"/>
<circle cx="286.36" cy="512.85" r="1.9" fill="#F08A55" fill-opacity="0.78"/>
<circle cx="264.99" cy="509.47" r="1.9" fill="#6FB0F6" fill-opacity="0.78"/>
<circle cx="266.09" cy="512.54" r="1.9" fill="#F08A55" fill-opacity="0.78"/>
<circle cx="316.91" cy="488.92" r="1.9" fill="#6FB0F6" fill-opacity="0.78"/>
<circle cx="271.98" cy="511.99" r="1.9" fill="#6FB0F6" fill-opacity="0.78"/>
<circle cx="332.62" cy="479.83" r="1.9" fill="#6FB0F6" fill-opacity="0.78"/>
<circle cx="262.33" cy="519.45" r="1.9" fill="#F08A55" fill-opacity="0.78"/>
<circle cx="260.02" cy="529.41" r="1.9" fill="#F08A55" fill-opacity="0.78"/>
<circle cx="268.3" cy="520.22" r="1.9" fill="#6FB0F6" fill-opacity="0.78"/>
<circle cx="263.05" cy="521.5" r="1.9" fill="#F08A55" fill-opacity="0.78"/>
<circle cx="259.94" cy="526.94" r="1.9" fill="#F08A55" fill-opacity="0.78"/>
<circle cx="265.39" cy="509.98" r="1.9" fill="#6FB0F6" fill-opacity="0.78"/>
<circle cx="323.46" cy="497.01" r="1.9" fill="#6FB0F6" fill-opacity="0.78"/>
<circle cx="278.69" cy="498.12" r="1.9" fill="#6FB0F6" fill-opacity="0.78"/>
<circle cx="265.12" cy="516.5" r="1.9" fill="#6FB0F6" fill-opacity="0.78"/>
<circle cx="271.04" cy="514.32" r="1.9" fill="#6FB0F6" fill-opacity="0.78"/>
<circle cx="263.94" cy="511.34" r="1.9" fill="#6FB0F6" fill-opacity="0.78"/>
<circle cx="263.78" cy="509.61" r="1.9" fill="#6FB0F6" fill-opacity="0.78"/>
<circle cx="268.1" cy="510.9" r="1.9" fill="#F08A55" fill-opacity="0.78"/>
<circle cx="264.39" cy="509.81" r="1.9" fill="#6FB0F6" fill-opacity="0.78"/>
<circle cx="261.9" cy="527.71" r="1.9" fill="#F08A55" fill-opacity="0.78"/>
<circle cx="273.22" cy="500.45" r="1.9" fill="#6FB0F6" fill-opacity="0.78"/>
<circle cx="270.17" cy="501.43" r="1.9" fill="#6FB0F6" fill-opacity="0.78"/>
<circle cx="267.17" cy="524.7" r="1.9" fill="#F08A55" fill-opacity="0.78"/>
<circle cx="314.29" cy="501.39" r="1.9" fill="#6FB0F6" fill-opacity="0.78"/>
<circle cx="262.48" cy="522.39" r="1.9" fill="#F08A55" fill-opacity="0.78"/>
<path d="M259.29 522.96 L261.87 519.05 L264.44 515.91 L267.02 513.21 L269.59 510.81 L272.17 508.63 L274.74 506.61 L277.32 504.73 L279.89 502.95 L282.47 501.27 L285.05 499.67 L287.62 498.13 L290.2 496.66 L292.77 495.24 L295.35 493.87 L297.92 492.54 L300.5 491.26 L303.07 490.01 L305.65 488.79 L308.22 487.61 L310.8 486.45 L313.37 485.32 L315.95 484.22 L318.53 483.13 L321.1 482.07 L323.68 481.04 L326.25 480.02 L328.83 479.02 L331.4 478.03 L333.98 477.07 L336.55 476.12" fill="none" stroke="#111" stroke-width="1.1"/>
<line x1="255.2" y1="461.3" x2="255.2" y2="540.6" stroke="#222" stroke-width="1"/>
<line x1="254.7" y1="540.1" x2="339.4" y2="540.1" stroke="#222" stroke-width="1"/>
<line x1="252.6" y1="463.65" x2="255.2" y2="463.65" stroke="#222" stroke-width="0.9"/>
<text x="252.6" y="467.15" font-size="9.8" text-anchor="end">12.5</text>
<line x1="252.6" y1="480.5" x2="255.2" y2="480.5" stroke="#222" stroke-width="0.9"/>
<text x="252.6" y="484" font-size="9.8" text-anchor="end">10.0</text>
<line x1="252.6" y1="497.35" x2="255.2" y2="497.35" stroke="#222" stroke-width="0.9"/>
<text x="252.6" y="500.85" font-size="9.8" text-anchor="end">7.5</text>
<line x1="252.6" y1="514.2" x2="255.2" y2="514.2" stroke="#222" stroke-width="0.9"/>
<text x="252.6" y="517.7" font-size="9.8" text-anchor="end">5.0</text>
<line x1="252.6" y1="531.05" x2="255.2" y2="531.05" stroke="#222" stroke-width="0.9"/>
<text x="252.6" y="534.55" font-size="9.8" text-anchor="end">2.5</text>
<line x1="255.8" y1="540.1" x2="255.8" y2="542.7" stroke="#222" stroke-width="0.9"/>
<text x="255.8" y="552.1" font-size="10.2" text-anchor="middle">0</text>
<line x1="277.62" y1="540.1" x2="277.62" y2="542.7" stroke="#222" stroke-width="0.9"/>
<text x="277.62" y="552.1" font-size="10.2" text-anchor="middle">250</text>
<line x1="299.45" y1="540.1" x2="299.45" y2="542.7" stroke="#222" stroke-width="0.9"/>
<text x="299.45" y="552.1" font-size="10.2" text-anchor="middle">500</text>
<line x1="321.28" y1="540.1" x2="321.28" y2="542.7" stroke="#222" stroke-width="0.9"/>
<text x="321.28" y="552.1" font-size="10.2" text-anchor="middle">750</text>
<text x="298.5" y="562.8" font-size="10.3" text-anchor="middle">MFI</text>
<text x="230.3" y="500.6" font-size="10.5" text-anchor="middle" transform="rotate(-90 230.3 500.6)">Signal to background</text>
<text x="257.8" y="474.2" font-size="10.5">Glycocalyx<tspan dy="-3.6" font-size="6.2">high</tspan></text>
<text x="335.6" y="531.9" font-size="10.6" text-anchor="end">R<tspan dy="-3.4" font-size="6.4">2</tspan><tspan dy="3.4" font-size="10.6"> = 0.49</tspan></text>
</g>
<g id="p_i">
<text x="353.8" y="434" font-size="10.5">i</text>
<rect x="391.4" y="440.5" width="14" height="7.5" fill="#F6B0AA" stroke="#F08A86" stroke-width="0.8"/>
<text x="410.2" y="448.4" font-size="10.5">DBCO</text>
<rect x="454" y="440.5" width="14" height="7.5" fill="#AFC8FA" stroke="#2BC4D2" stroke-width="0.8"/>
<text x="472" y="448.4" font-size="10.5">THS</text>
<rect x="472.1" y="466.1" width="70.6" height="77.1" fill="#CBCBC9"/>
<rect x="403.24" y="539.52" width="7.08" height="3.38" fill="#F29A94" fill-opacity="0.8"/>
<rect x="410.11" y="522.65" width="7.08" height="20.25" fill="#F29A94" fill-opacity="0.8"/>
<rect x="416.99" y="502.4" width="7.08" height="40.5" fill="#F29A94" fill-opacity="0.8"/>
<rect x="423.86" y="486.2" width="7.08" height="56.7" fill="#F29A94" fill-opacity="0.8"/>
<rect x="430.74" y="476.75" width="7.08" height="66.15" fill="#F29A94" fill-opacity="0.8"/>
<rect x="437.61" y="487.55" width="7.08" height="55.35" fill="#F29A94" fill-opacity="0.8"/>
<rect x="444.49" y="507.8" width="7.08" height="35.1" fill="#F29A94" fill-opacity="0.8"/>
<rect x="451.36" y="522.65" width="7.08" height="20.25" fill="#F29A94" fill-opacity="0.8"/>
<rect x="458.24" y="531.42" width="7.08" height="11.48" fill="#F29A94" fill-opacity="0.8"/>
<rect x="465.11" y="536.82" width="7.08" height="6.08" fill="#F29A94" fill-opacity="0.8"/>
<rect x="471.99" y="540.2" width="7.08" height="2.7" fill="#F29A94" fill-opacity="0.8"/>
<rect x="478.86" y="541.55" width="7.08" height="1.35" fill="#F29A94" fill-opacity="0.8"/>
<rect x="403.24" y="542.23" width="7.08" height="0.67" fill="#8FAEF6" fill-opacity="0.72"/>
<rect x="410.11" y="537.5" width="7.08" height="5.4" fill="#8FAEF6" fill-opacity="0.72"/>
<rect x="416.99" y="524" width="7.08" height="18.9" fill="#8FAEF6" fill-opacity="0.72"/>
<rect x="423.86" y="507.8" width="7.08" height="35.1" fill="#8FAEF6" fill-opacity="0.72"/>
<rect x="430.74" y="495.65" width="7.08" height="47.25" fill="#8FAEF6" fill-opacity="0.72"/>
<rect x="437.61" y="488.9" width="7.08" height="54" fill="#8FAEF6" fill-opacity="0.72"/>
<rect x="444.49" y="477.42" width="7.08" height="65.48" fill="#8FAEF6" fill-opacity="0.72"/>
<rect x="451.36" y="480.8" width="7.08" height="62.1" fill="#8FAEF6" fill-opacity="0.72"/>
<rect x="458.24" y="498.35" width="7.08" height="44.55" fill="#8FAEF6" fill-opacity="0.72"/>
<rect x="465.11" y="513.2" width="7.08" height="29.7" fill="#8FAEF6" fill-opacity="0.72"/>
<rect x="471.99" y="519.95" width="7.08" height="22.95" fill="#8FAEF6" fill-opacity="0.72"/>
<rect x="478.86" y="525.35" width="7.08" height="17.55" fill="#8FAEF6" fill-opacity="0.72"/>
<rect x="485.74" y="534.8" width="7.08" height="8.1" fill="#8FAEF6" fill-opacity="0.72"/>
<rect x="492.61" y="538.17" width="7.08" height="4.73" fill="#8FAEF6" fill-opacity="0.72"/>
<rect x="499.49" y="540.2" width="7.08" height="2.7" fill="#8FAEF6" fill-opacity="0.72"/>
<rect x="506.36" y="541.55" width="7.08" height="1.35" fill="#8FAEF6" fill-opacity="0.72"/>
<rect x="513.24" y="541.89" width="7.08" height="1.01" fill="#8FAEF6" fill-opacity="0.72"/>
<path d="M399.8 542.9 C400.37 542.67 402.09 542.56 403.24 541.55 C404.38 540.54 405.53 539.07 406.68 536.82 C407.82 534.57 408.97 531.31 410.11 528.05 C411.26 524.79 412.4 520.85 413.55 517.25 C414.7 513.65 415.84 509.82 416.99 506.45 C418.13 503.07 419.28 499.93 420.43 497 C421.57 494.07 422.72 491.49 423.86 488.9 C425.01 486.31 426.15 483.5 427.3 481.47 C428.45 479.45 429.82 477.76 430.74 476.75 C431.65 475.74 432 475.29 432.8 475.4 C433.6 475.51 434.63 476.07 435.55 477.42 C436.47 478.77 437.38 481.25 438.3 483.5 C439.22 485.75 440.02 488 441.05 490.92 C442.08 493.85 443.34 498.01 444.49 501.05 C445.63 504.09 446.78 506.56 447.93 509.15 C449.07 511.74 450.22 514.21 451.36 516.57 C452.51 518.94 453.65 521.3 454.8 523.32 C455.95 525.35 457.09 527.15 458.24 528.73 C459.38 530.3 460.53 531.65 461.68 532.77 C462.82 533.9 463.97 534.69 465.11 535.48 C466.26 536.26 467.06 536.83 468.55 537.5 C470.04 538.17 471.99 538.96 474.05 539.52 C476.11 540.09 478.4 540.45 480.93 540.88 C483.45 541.3 485.51 541.79 489.18 542.09 C492.84 542.39 498.34 542.56 502.93 542.7 C507.51 542.83 514.38 542.87 516.67 542.9" fill="none" stroke="#F07F7A" stroke-width="0.9"/>
<path d="M401.18 542.9 C401.86 542.67 404.04 542.22 405.3 541.55 C406.56 540.88 407.59 540.09 408.74 538.85 C409.88 537.61 411.03 536.04 412.18 534.12 C413.32 532.21 414.47 529.85 415.61 527.38 C416.76 524.9 417.9 521.98 419.05 519.27 C420.2 516.57 421.34 513.76 422.49 511.17 C423.63 508.59 424.78 506 425.93 503.75 C427.07 501.5 428.22 499.36 429.36 497.67 C430.51 495.99 431.65 494.75 432.8 493.62 C433.95 492.5 435.21 492.16 436.24 490.92 C437.27 489.69 438.07 488 438.99 486.2 C439.9 484.4 440.82 481.81 441.74 480.12 C442.65 478.44 443.69 476.86 444.49 476.07 C445.29 475.29 445.75 475.17 446.55 475.4 C447.35 475.62 448.38 476.75 449.3 477.42 C450.22 478.1 451.13 478.89 452.05 479.45 C452.97 480.01 453.88 479.56 454.8 480.8 C455.72 482.04 456.63 484.4 457.55 486.88 C458.47 489.35 459.38 492.84 460.3 495.65 C461.22 498.46 462.13 501.39 463.05 503.75 C463.97 506.11 464.88 508.02 465.8 509.82 C466.72 511.62 467.52 512.97 468.55 514.55 C469.58 516.12 470.84 517.92 471.99 519.27 C473.13 520.62 474.28 521.52 475.43 522.65 C476.57 523.77 477.72 524.67 478.86 526.02 C480.01 527.38 481.04 529.29 482.3 530.75 C483.56 532.21 484.94 533.67 486.43 534.8 C487.91 535.92 489.4 536.66 491.24 537.5 C493.07 538.34 495.25 539.24 497.43 539.86 C499.6 540.48 501.66 540.91 504.3 541.21 C506.94 541.52 510.03 541.49 513.24 541.68 C516.45 541.88 519.77 542.18 523.55 542.36 C527.33 542.54 533.86 542.7 535.92 542.76" fill="none" stroke="#22BDD0" stroke-width="0.9"/>
<line x1="390.5" y1="466.1" x2="390.5" y2="547.5" stroke="#222" stroke-width="1"/>
<line x1="390" y1="547" x2="544.8" y2="547" stroke="#222" stroke-width="1"/>
<line x1="387.9" y1="475.4" x2="390.5" y2="475.4" stroke="#222" stroke-width="0.9"/>
<text x="387.2" y="478.9" font-size="10" text-anchor="end">1.0</text>
<line x1="387.9" y1="509.15" x2="390.5" y2="509.15" stroke="#222" stroke-width="0.9"/>
<text x="387.2" y="512.65" font-size="10" text-anchor="end">0.5</text>
<line x1="387.9" y1="542.9" x2="390.5" y2="542.9" stroke="#222" stroke-width="0.9"/>
<text x="387.2" y="546.4" font-size="10" text-anchor="end">0.0</text>
<line x1="399.8" y1="547" x2="399.8" y2="549.6" stroke="#222" stroke-width="0.9"/>
<text x="399.8" y="559.2" font-size="10.2" text-anchor="middle">0</text>
<line x1="434.18" y1="547" x2="434.18" y2="549.6" stroke="#222" stroke-width="0.9"/>
<text x="434.98" y="559.2" font-size="10.2" text-anchor="middle">50</text>
<line x1="468.55" y1="547" x2="468.55" y2="549.6" stroke="#222" stroke-width="0.9"/>
<text x="469.35" y="559.2" font-size="10.2" text-anchor="middle">100</text>
<line x1="502.93" y1="547" x2="502.93" y2="549.6" stroke="#222" stroke-width="0.9"/>
<text x="503.73" y="559.2" font-size="10.2" text-anchor="middle">150</text>
<line x1="537.3" y1="547" x2="537.3" y2="549.6" stroke="#222" stroke-width="0.9"/>
<text x="538.1" y="559.2" font-size="10.2" text-anchor="middle">200</text>
<text x="372.2" y="560.8" font-size="10">MFI</text>
<text x="478" y="571.4" font-size="10.2" text-anchor="middle">MFI</text>
<text x="365.5" y="502.4" font-size="10.4" text-anchor="middle" transform="rotate(-90 365.5 502.4)">Normalized count</text>
<text x="441.9" y="462.4" font-size="9.6" text-anchor="middle">***</text>
<line x1="434.5" y1="463.6" x2="447.4" y2="463.6" stroke="#222" stroke-width="0.9"/>
<text x="432.9" y="474.9" font-size="10.5" text-anchor="middle">55</text>
<text x="451.7" y="474.9" font-size="10.5" text-anchor="middle">77</text>
<text x="474" y="478.2" font-size="10.3">Glycocalyx<tspan dy="-3.6" font-size="6.2">high</tspan></text>
<text x="474" y="489.6" font-size="10.3">2.5% DBCO</text>
<text x="474" y="503.2" font-size="10.3">15% THS</text>
<line x1="534.2" y1="506.9" x2="550.4" y2="506.9" stroke="#333" stroke-width="1"/><line x1="550.4" y1="506.9" x2="547.83" y2="510.35" stroke="#333" stroke-width="1"/><line x1="550.4" y1="506.9" x2="547.83" y2="503.45" stroke="#333" stroke-width="1"/>
<line x1="599.2" y1="459.5" x2="599.2" y2="542.2" stroke="#222" stroke-width="1"/>
<line x1="598.7" y1="541.7" x2="669.8" y2="541.7" stroke="#222" stroke-width="1"/>
<line x1="597.6" y1="461" x2="599.2" y2="461" stroke="#222" stroke-width="0.9"/>
<text x="597.2" y="464.6" font-size="10.2" text-anchor="end">200</text>
<line x1="597.6" y1="481.6" x2="599.2" y2="481.6" stroke="#222" stroke-width="0.9"/>
<text x="597.2" y="485.2" font-size="10.2" text-anchor="end">175</text>
<line x1="597.6" y1="502" x2="599.2" y2="502" stroke="#222" stroke-width="0.9"/>
<text x="597.2" y="505.6" font-size="10.2" text-anchor="end">150</text>
<line x1="597.6" y1="522.5" x2="599.2" y2="522.5" stroke="#222" stroke-width="0.9"/>
<text x="597.2" y="526.1" font-size="10.2" text-anchor="end">125</text>
<line x1="618.2" y1="541.7" x2="618.2" y2="543.9" stroke="#222" stroke-width="0.9"/>
<line x1="650.3" y1="541.7" x2="650.3" y2="543.9" stroke="#222" stroke-width="0.9"/>
<text x="620.7" y="553.4" font-size="10.3" text-anchor="middle">DBCO</text>
<text x="653.4" y="553.4" font-size="10.3" text-anchor="middle">THS</text>
<text x="561.4" y="500" font-size="10.5" text-anchor="middle" transform="rotate(-90 561.4 500)">Median of</text>
<text x="574.1" y="500" font-size="10.5" text-anchor="middle" transform="rotate(-90 574.1 500)">Glycocalyx<tspan dy="-3.4" font-size="6.2">high</tspan><tspan dy="3.4" dx="2" font-size="10.5">subset</tspan></text>
<path d="M617.4 509.6 C617.04 509.81 616.76 510.34 616.6 511 C616.44 511.66 616.36 512.95 616.3 514 C616.24 515.05 616.31 516.95 616.2 518 C616.1 519.05 615.93 520.1 615.6 521 C615.27 521.9 614.63 523.1 614 524 C613.37 524.9 612.27 526.1 611.4 527 C610.53 527.9 609.16 529.1 608.2 530 C607.24 530.9 605.63 532.19 605 533 C604.37 533.81 603.91 534.77 604 535.4 C604.09 536.03 604.37 536.75 605.6 537.2 C606.83 537.65 609.41 538.22 612.2 538.4 C614.99 538.58 621.41 538.58 624.2 538.4 C626.99 538.22 629.57 537.65 630.8 537.2 C632.03 536.75 632.31 536.03 632.4 535.4 C632.49 534.77 632.03 533.81 631.4 533 C630.77 532.19 629.16 530.9 628.2 530 C627.24 529.1 625.87 527.9 625 527 C624.13 526.1 623.03 524.9 622.4 524 C621.77 523.1 621.13 521.9 620.8 521 C620.47 520.1 620.31 519.05 620.2 518 C620.1 516.95 620.16 515.05 620.1 514 C620.04 512.95 619.97 511.66 619.8 511 C619.64 510.34 619.36 509.81 619 509.6 C618.64 509.39 617.76 509.39 617.4 509.6Z" fill="#CD5C5C" stroke="#222" stroke-width="0.8"/>
<rect x="610.8" y="529.4" width="15.5" height="7.8" fill="none" stroke="#222" stroke-width="0.8"/>
<line x1="610.8" y1="533.2" x2="626.3" y2="533.2" stroke="#222" stroke-width="0.8"/>
<line x1="618.2" y1="523" x2="618.2" y2="529.4" stroke="#222" stroke-width="0.8"/>
<path d="M650 462.6 C649.88 464.46 649.9 472.09 649.8 475 C649.69 477.91 649.46 480.2 649.3 482 C649.13 483.8 648.83 485.35 648.7 487 C648.56 488.65 648.46 491.05 648.4 493 C648.34 494.95 648.36 498.05 648.3 500 C648.24 501.95 648.18 504.35 648 506 C647.82 507.65 647.47 509.5 647.1 511 C646.72 512.5 646.07 514.5 645.5 516 C644.93 517.5 644.11 519.5 643.3 521 C642.49 522.5 641.03 524.65 640.1 526 C639.17 527.35 637.73 528.95 637.1 530 C636.47 531.05 635.96 532.16 635.9 533 C635.84 533.84 636.04 534.94 636.7 535.6 C637.36 536.26 638.86 536.98 640.3 537.4 C641.74 537.82 644.2 538.25 646.3 538.4 C648.4 538.55 652.2 538.55 654.3 538.4 C656.4 538.25 658.86 537.82 660.3 537.4 C661.74 536.98 663.24 536.26 663.9 535.6 C664.56 534.94 664.76 533.84 664.7 533 C664.64 532.16 664.13 531.05 663.5 530 C662.87 528.95 661.43 527.35 660.5 526 C659.57 524.65 658.11 522.5 657.3 521 C656.49 519.5 655.67 517.5 655.1 516 C654.53 514.5 653.88 512.5 653.5 511 C653.12 509.5 652.78 507.65 652.6 506 C652.42 504.35 652.36 501.95 652.3 500 C652.24 498.05 652.26 494.95 652.2 493 C652.14 491.05 652.03 488.65 651.9 487 C651.76 485.35 651.46 483.8 651.3 482 C651.13 480.2 650.9 477.91 650.8 475 C650.69 472.09 650.72 464.46 650.6 462.6 C650.48 460.74 650.12 460.74 650 462.6Z" fill="#6A6AD0" stroke="#222" stroke-width="0.8"/>
<rect x="642.7" y="520.4" width="15.6" height="13.8" fill="none" stroke="#222" stroke-width="0.8"/>
<line x1="642.7" y1="529.4" x2="658.3" y2="529.4" stroke="#222" stroke-width="0.8"/>
<line x1="650.3" y1="500" x2="650.3" y2="520.4" stroke="#222" stroke-width="0.8"/>
<line x1="650.3" y1="534.2" x2="650.3" y2="538" stroke="#222" stroke-width="0.8"/>
<text x="632.4" y="465.4" font-size="7.8" text-anchor="middle">p=0.0006</text>
<line x1="622.3" y1="469.1" x2="646.6" y2="469.1" stroke="#222" stroke-width="0.9"/>
</g>
<g id="p_j">
<text x="4.6" y="581" font-size="10.5">j</text>
<path d="M116.2 596 L116.2 569.6 L439.4 569.6 L439.4 561.4" fill="none" stroke="#555" stroke-width="1"/>
<path d="M285.6 595.4 L285.6 577 L538.2 577 L538.2 563" fill="none" stroke="#555" stroke-width="1"/>
<line x1="537.4" y1="563" x2="537.4" y2="577" stroke="#555" stroke-width="1.4"/>
<path d="M449 596 L449 583.5 L540 583.5" fill="none" stroke="#555" stroke-width="1"/>
<path d="M113 592 L116.2 596.6 L119.4 592" fill="none" stroke="#555" stroke-width="1"/>
<path d="M282.4 592 L285.6 596.6 L288.8 592" fill="none" stroke="#555" stroke-width="1"/>
<path d="M445.8 592 L449 596.6 L452.2 592" fill="none" stroke="#555" stroke-width="1"/>
<line x1="32.3" y1="597.4" x2="200" y2="597.4" stroke="#555" stroke-width="1"/>
<line x1="205.6" y1="597.4" x2="360.4" y2="597.4" stroke="#555" stroke-width="1"/>
<line x1="364.5" y1="597.4" x2="519.4" y2="597.4" stroke="#555" stroke-width="1"/>
<text x="72.7" y="610.6" font-size="10.5">DBCO - Glycocalyx<tspan dy="-3.6" font-size="6.3">median</tspan></text>
<text x="223.4" y="612.1" font-size="10.5">DBCO - Glycocalyx<tspan dy="-3.6" font-size="6.4">high</tspan></text>
<text x="402.2" y="612.1" font-size="10.5">THS - Glycocalyx<tspan dy="-3.6" font-size="6.4">high</tspan></text>
<text x="16.8" y="638.7" font-size="10.2" text-anchor="middle">2602</text>
<text x="16.4" y="713.6" font-size="10.2" text-anchor="middle">0</text>
<rect x="13.5" y="643.2" width="6" height="60" fill="url(#fire)" stroke="#222" stroke-width="0.6"/>
<rect x="37.4" y="727" width="155.7" height="11.8" fill="#fff" stroke="#8a8a8a" stroke-width="0.9"/>
<text x="117.45" y="736.5" font-size="9" text-anchor="middle" font-family="'DejaVu Sans', sans-serif">1.</text>
<rect x="203.4" y="727" width="156.2" height="11.8" fill="#fff" stroke="#8a8a8a" stroke-width="0.9"/>
<text x="283.7" y="736.5" font-size="9" text-anchor="middle" font-family="'DejaVu Sans', sans-serif">2.</text>
<rect x="366.4" y="727" width="156.2" height="11.8" fill="#fff" stroke="#8a8a8a" stroke-width="0.9"/>
<text x="446.7" y="736.5" font-size="9" text-anchor="middle" font-family="'DejaVu Sans', sans-serif">3.</text>
<line x1="37.4" y1="739.5" x2="37.4" y2="809.9" stroke="#555" stroke-width="1"/>
<line x1="36.9" y1="809.4" x2="193.2" y2="809.4" stroke="#555" stroke-width="1"/>
<line x1="34.8" y1="752" x2="37.4" y2="752" stroke="#555" stroke-width="0.9"/>
<text x="34" y="755.6" font-size="10.2" text-anchor="end">2.0</text>
<line x1="34.8" y1="765.9" x2="37.4" y2="765.9" stroke="#555" stroke-width="0.9"/>
<text x="34" y="769.5" font-size="10.2" text-anchor="end">1.5</text>
<line x1="34.8" y1="779.9" x2="37.4" y2="779.9" stroke="#555" stroke-width="0.9"/>
<text x="34" y="783.5" font-size="10.2" text-anchor="end">1.0</text>
<line x1="34.8" y1="793.9" x2="37.4" y2="793.9" stroke="#555" stroke-width="0.9"/>
<text x="34" y="797.5" font-size="10.2" text-anchor="end">0.5</text>
<line x1="34.8" y1="807.8" x2="37.4" y2="807.8" stroke="#555" stroke-width="0.9"/>
<text x="34" y="811.4" font-size="10.2" text-anchor="end">0.0</text>
<text x="13.6" y="774" font-size="10.9" text-anchor="middle" transform="rotate(-90 13.6 774)">Fluorescence (x10<tspan dy="-3.6" font-size="6.2">3</tspan><tspan dy="3.6" font-size="10.9">)</tspan></text>
<line x1="44.9" y1="809.4" x2="44.9" y2="812" stroke="#555" stroke-width="0.9"/><text x="44.9" y="823.2" font-size="10.2" text-anchor="middle">0</text><line x1="86.1" y1="809.4" x2="86.1" y2="812" stroke="#555" stroke-width="0.9"/><text x="86.1" y="823.2" font-size="10.2" text-anchor="middle">1</text><line x1="127.3" y1="809.4" x2="127.3" y2="812" stroke="#555" stroke-width="0.9"/><text x="127.3" y="823.2" font-size="10.2" text-anchor="middle">2</text><line x1="168.5" y1="809.4" x2="168.5" y2="812" stroke="#555" stroke-width="0.9"/><text x="168.5" y="823.2" font-size="10.2" text-anchor="middle">3</text>
<circle cx="45.8" cy="746.3" r="1.9" fill="#DC1458"/>
<text x="53.2" y="749.2" font-size="9.4" font-family="'DejaVu Sans Condensed', 'DejaVu Sans', sans-serif">Bleb membrane signal</text>
<circle cx="45.8" cy="756.5" r="1.9" fill="#1CA8EA"/>
<text x="53.2" y="759" font-size="9.4" font-family="'DejaVu Sans Condensed', 'DejaVu Sans', sans-serif">Background</text>
<path d="M44.9 806.68 L46.48 806.64 L48.06 806.61 L49.64 806.57 L51.22 806.54 L52.8 806.5 L54.38 806.46 L55.96 806.42 L57.53 806.38 L59.11 806.34 L60.69 806.3 L62.27 806.25 L63.85 806.19 L65.43 806.11 L67.01 806.02 L68.59 805.89 L70.17 805.72 L71.75 805.5 L73.33 805.18 L74.91 804.75 L76.49 804.19 L78.07 803.55 L79.65 802.87 L81.22 802.22 L82.8 801.67 L84.38 801.26 L85.96 801.01 L87.54 800.93 L89.12 800.97 L90.7 801.1 L92.28 801.25 L93.86 801.4 L95.44 801.52 L97.02 801.6 L98.6 801.65 L100.18 801.7 L101.76 801.74 L103.34 801.78 L104.91 801.83 L106.49 801.89 L108.07 801.95 L109.65 802.02 L111.23 802.08 L112.81 802.13 L114.39 802.17 L115.97 802.19 L117.55 802.18 L119.13 802.14 L120.71 802.08 L122.29 801.99 L123.87 801.87 L125.45 801.73 L127.03 801.58 L128.6 801.44 L130.18 801.31 L131.76 801.21 L133.34 801.16 L134.92 801.15 L136.5 801.18 L138.08 801.24 L139.66 801.31 L141.24 801.38 L142.82 801.42 L144.4 801.43 L145.98 801.4 L147.56 801.32 L149.14 801.25 L150.72 801.22 L152.29 801.31 L153.87 801.56 L155.45 801.99 L157.03 802.6 L158.61 803.35 L160.19 804.14 L161.77 804.83 L163.35 805.34 L164.93 805.68 L166.51 805.88 L168.09 805.99 L169.67 806.05 L171.25 806.08 L172.83 806.1 L174.41 806.11 L175.98 806.11 L177.56 806.12 L179.14 806.12 L180.72 806.12 L182.3 806.12 L183.88 806.12 L185.46 806.12 L187.04 806.12" fill="none" stroke="#111" stroke-width="0.9"/>
<text x="113.8" y="787.4" font-size="8.7" text-anchor="middle" font-family="'DejaVu Sans Condensed', 'DejaVu Sans', sans-serif">SBR = 1.87</text>
<line x1="86.8" y1="792.2" x2="152.6" y2="792.2" stroke="#E8142E" stroke-width="1.3"/>
<circle cx="86.8" cy="801.7" r="1.9" fill="#DC1458"/>
<circle cx="152.6" cy="801.7" r="1.9" fill="#DC1458"/>
<line x1="115.8" y1="803.9" x2="121" y2="803.8" stroke="#1CA8EA" stroke-width="3" stroke-linecap="round"/>
<line x1="203.4" y1="809.4" x2="359.7" y2="809.4" stroke="#555" stroke-width="1"/>
<line x1="210.6" y1="809.4" x2="210.6" y2="812" stroke="#555" stroke-width="0.9"/><text x="210.6" y="823.2" font-size="10.2" text-anchor="middle">0</text><line x1="251.7" y1="809.4" x2="251.7" y2="812" stroke="#555" stroke-width="0.9"/><text x="251.7" y="823.2" font-size="10.2" text-anchor="middle">1</text><line x1="292.8" y1="809.4" x2="292.8" y2="812" stroke="#555" stroke-width="0.9"/><text x="292.8" y="823.2" font-size="10.2" text-anchor="middle">2</text><line x1="333.9" y1="809.4" x2="333.9" y2="812" stroke="#555" stroke-width="0.9"/><text x="333.9" y="823.2" font-size="10.2" text-anchor="middle">3</text>
<path d="M210.56 805.3 C211.46 805.05 214.31 804.76 215.95 803.81 C217.6 802.86 219.04 801.71 220.44 799.62 C221.84 797.52 223.09 795.03 224.33 791.24 C225.58 787.44 226.83 782.26 227.92 776.87 C229.02 771.48 230.02 763.8 230.92 758.91 C231.82 754.02 232.56 750.18 233.31 747.54 C234.06 744.89 234.71 743.45 235.41 743.05 C236.11 742.65 236.75 743.6 237.5 745.14 C238.25 746.69 239 749.53 239.9 752.33 C240.79 755.12 241.79 759.11 242.89 761.9 C243.99 764.7 245.23 767.19 246.48 769.09 C247.73 770.98 249.08 772.33 250.37 773.28 C251.67 774.23 252.92 774.67 254.26 774.77 C255.61 774.87 257.11 774.42 258.45 773.88 C259.8 773.33 261.15 772.88 262.35 771.48 C263.54 770.08 264.69 767.39 265.64 765.5 C266.59 763.6 267.33 761.35 268.03 760.11 C268.73 758.86 269.23 758.01 269.83 758.01 C270.43 758.01 270.93 757.96 271.62 760.11 C272.32 762.25 273.22 767.09 274.02 770.88 C274.82 774.67 275.51 779.16 276.41 782.86 C277.31 786.55 278.41 790.54 279.41 793.03 C280.4 795.53 281.25 796.72 282.4 797.82 C283.55 798.92 284.74 799.32 286.29 799.62 C287.84 799.92 290.78 799.62 291.68 799.62" fill="none" stroke="#111" stroke-width="0.9"/>
<line x1="235.4" y1="741.2" x2="270.4" y2="741.2" stroke="#E8142E" stroke-width="1.5"/>
<circle cx="235.6" cy="743.2" r="1.9" fill="#DC1458"/>
<circle cx="269.8" cy="757.8" r="1.9" fill="#DC1458"/>
<line x1="252.6" y1="774.8" x2="256.4" y2="773.8" stroke="#1CA8EA" stroke-width="3.2" stroke-linecap="round"/>
<text x="283.2" y="766.6" font-size="8.7" font-family="'DejaVu Sans Condensed', 'DejaVu Sans', sans-serif">SBR = 1.68</text>
<text x="288.8" y="837.5" font-size="10.4" text-anchor="middle">Distance (µm)</text>
<line x1="366.4" y1="809.4" x2="522.7" y2="809.4" stroke="#555" stroke-width="1"/>
<line x1="373.9" y1="809.4" x2="373.9" y2="812" stroke="#555" stroke-width="0.9"/><text x="373.9" y="823.2" font-size="10.2" text-anchor="middle">0</text><line x1="415.2" y1="809.4" x2="415.2" y2="812" stroke="#555" stroke-width="0.9"/><text x="415.2" y="823.2" font-size="10.2" text-anchor="middle">1</text><line x1="456.5" y1="809.4" x2="456.5" y2="812" stroke="#555" stroke-width="0.9"/><text x="456.5" y="823.2" font-size="10.2" text-anchor="middle">2</text><line x1="497.8" y1="809.4" x2="497.8" y2="812" stroke="#555" stroke-width="0.9"/><text x="497.8" y="823.2" font-size="10.2" text-anchor="middle">3</text>
<path d="M373.86 807.1 C374.95 807 378.35 806.85 380.44 806.5 C382.54 806.15 384.68 805.85 386.43 805 C388.17 804.16 389.57 803.11 390.92 801.41 C392.26 799.72 393.41 797.42 394.51 794.83 C395.61 792.23 396.5 788.59 397.5 785.85 C398.5 783.1 399.6 780.01 400.5 778.37 C401.39 776.72 402.09 776.12 402.89 775.97 C403.69 775.82 404.49 776.57 405.28 777.47 C406.08 778.37 406.68 780.36 407.68 781.36 C408.68 782.36 410.07 782.81 411.27 783.45 C412.47 784.1 413.57 784.35 414.86 785.25 C416.16 786.15 417.66 787.64 419.05 788.84 C420.45 790.04 421.7 791.54 423.24 792.43 C424.79 793.33 426.64 794.03 428.33 794.23 C430.03 794.43 431.77 794.03 433.42 793.63 C435.07 793.23 436.71 792.83 438.21 791.83 C439.71 790.84 441.1 789.39 442.4 787.64 C443.7 785.9 444.89 783.45 445.99 781.36 C447.09 779.26 448.09 776.42 448.98 775.07 C449.88 773.73 450.58 773.18 451.38 773.28 C452.18 773.38 452.97 774.08 453.77 775.67 C454.57 777.27 455.37 780.16 456.17 782.86 C456.97 785.55 457.76 789.14 458.56 791.83 C459.36 794.53 460.06 797.02 460.96 799.02 C461.85 801.01 462.85 802.71 463.95 803.81 C465.05 804.9 466.14 805.3 467.54 805.6 C468.94 805.9 471.53 805.6 472.33 805.6" fill="none" stroke="#111" stroke-width="0.9"/>
<line x1="404.4" y1="765.9" x2="450.2" y2="765.9" stroke="#E8142E" stroke-width="1.3"/>
<circle cx="402.9" cy="776.2" r="1.9" fill="#DC1458"/>
<circle cx="451.4" cy="773.4" r="1.9" fill="#DC1458"/>
<line x1="426.6" y1="793.8" x2="430.6" y2="794.2" stroke="#1CA8EA" stroke-width="3.2" stroke-linecap="round"/>
<text x="427.4" y="756" font-size="8.7" text-anchor="middle" font-family="'DejaVu Sans Condensed', 'DejaVu Sans', sans-serif">SBR = 2.22</text>
</g>
<g id="p_jimg">
<rect x="33" y="618.3" width="114.2" height="104.8" fill="#010005"/>
<g clip-path="url(#cj1)">
<g filter="url(#b4)">
<path d="M30 642 L56 638 L66 700 L108 724 L100 732 L30 732Z" fill="#120660" fill-opacity="0.8"/>
<path d="M103.08 632.77 A44.6 44.6 0 1 0 123.38 709.91" fill="none" stroke="#220c8c" stroke-width="8" stroke-opacity="0.75"/>
<path d="M103.08 632.77 A43.6 43.6 0 0 1 123.38 709.91" fill="none" stroke="#160870" stroke-width="4" stroke-opacity="0.7"/>
</g>
<circle cx="90.9" cy="675.4" r="40.6" fill="#08033a"/>
<circle cx="88.9" cy="677.4" r="28.42" fill="#0a0444" filter="url(#b4)"/>
<g filter="url(#b2)">
<path d="M65.73 642.92 A42.6 42.6 0 0 0 105.11 715.19" fill="none" stroke="#3e14b4" stroke-width="5" stroke-opacity="0.75"/>
<circle cx="50" cy="652" r="4.2" fill="#3a14c0" fill-opacity="0.85"/>
<circle cx="46" cy="668" r="3.8" fill="#3a14c0" fill-opacity="0.85"/>
<circle cx="48" cy="682" r="4.2" fill="#3a14c0" fill-opacity="0.85"/>
<circle cx="52" cy="696" r="4.4" fill="#3a14c0" fill-opacity="0.85"/>
<circle cx="62" cy="708" r="5" fill="#3a14c0" fill-opacity="0.85"/>
<circle cx="78" cy="716" r="5" fill="#3a14c0" fill-opacity="0.85"/>
<circle cx="98" cy="631" r="3.2" fill="#3a14c0" fill-opacity="0.85"/>
<circle cx="113" cy="637" r="2.8" fill="#3a14c0" fill-opacity="0.85"/>
<circle cx="120" cy="710" r="3.4" fill="#3a14c0" fill-opacity="0.85"/>
<circle cx="45" cy="655" r="3.8" fill="#3a14c0" fill-opacity="0.85"/>
</g>
<g filter="url(#b05)">
<path d="M131.24 675.4 C131.3 676.58 131.47 677.77 131.39 678.94 C131.31 680.11 130.95 681.26 130.76 682.43 C130.56 683.59 130.48 684.78 130.22 685.93 C129.95 687.09 129.66 688.26 129.17 689.33 C128.68 690.4 127.89 691.35 127.3 692.37 C126.71 693.4 126.12 694.37 125.64 695.46 C125.16 696.54 125.07 697.9 124.43 698.88 C123.8 699.86 122.65 700.5 121.82 701.34 C120.98 702.18 120.17 703 119.42 703.92 C118.67 704.84 118.19 706.1 117.32 706.88 C116.44 707.67 115.16 707.97 114.17 708.63 C113.18 709.3 112.39 710.26 111.37 710.85 C110.35 711.44 109.14 711.7 108.05 712.17 C106.96 712.65 105.96 713.33 104.83 713.68 C103.71 714.03 102.46 713.97 101.32 714.28 C100.17 714.58 99.11 715.19 97.97 715.52 C96.83 715.84 95.65 716.13 94.47 716.21 C93.29 716.3 92.09 716.04 90.9 716.02 C89.71 716 88.52 716.16 87.34 716.09 C86.16 716.01 84.96 715.87 83.82 715.55 C82.68 715.24 81.65 714.49 80.5 714.2 C79.36 713.9 78.06 714.11 76.93 713.79 C75.79 713.47 74.74 712.85 73.7 712.28 C72.67 711.71 71.67 711.06 70.7 710.39 C69.73 709.72 68.9 708.87 67.88 708.27 C66.86 707.67 65.51 707.48 64.57 706.78 C63.62 706.08 63.03 704.95 62.21 704.09 C61.39 703.23 60.44 702.5 59.63 701.64 C58.82 700.77 58.01 699.88 57.33 698.9 C56.65 697.93 56.16 696.84 55.55 695.81 C54.95 694.78 54.17 693.83 53.72 692.74 C53.27 691.64 53.24 690.38 52.85 689.25 C52.46 688.13 51.71 687.12 51.39 685.99 C51.08 684.85 51.2 683.61 50.97 682.44 C50.74 681.27 50.2 680.15 50.02 678.98 C49.85 677.8 49.78 676.58 49.92 675.4 C50.06 674.22 50.63 673.06 50.86 671.9 C51.08 670.73 51.09 669.57 51.28 668.41 C51.46 667.26 51.78 666.14 51.96 664.97 C52.13 663.79 51.94 662.47 52.31 661.35 C52.68 660.24 53.61 659.32 54.16 658.27 C54.71 657.22 55.02 656.04 55.63 655.04 C56.24 654.03 57.11 653.18 57.81 652.23 C58.5 651.27 59.05 650.21 59.79 649.3 C60.54 648.39 61.42 647.59 62.27 646.77 C63.12 645.96 64.02 645.2 64.9 644.41 C65.78 643.63 66.62 642.78 67.56 642.07 C68.51 641.37 69.56 640.81 70.56 640.17 C71.56 639.53 72.51 638.75 73.57 638.24 C74.64 637.72 75.83 637.49 76.95 637.08 C78.07 636.67 79.14 636.1 80.28 635.77 C81.42 635.43 82.62 635.28 83.79 635.07 C84.96 634.85 86.13 634.54 87.32 634.47 C88.5 634.39 89.72 634.49 90.9 634.63 C92.08 634.77 93.22 635.22 94.41 635.29 C95.59 635.36 96.83 634.99 98.01 635.06 C99.2 635.14 100.38 635.43 101.53 635.73 C102.68 636.04 103.83 636.4 104.92 636.87 C106.02 637.34 107.02 638.01 108.09 638.54 C109.15 639.07 110.32 639.41 111.31 640.05 C112.3 640.69 113.04 641.71 114.02 642.38 C115.01 643.04 116.27 643.33 117.21 644.04 C118.15 644.75 118.89 645.74 119.66 646.64 C120.43 647.54 121.15 648.49 121.84 649.44 C122.53 650.4 123.04 651.45 123.8 652.36 C124.56 653.28 125.64 653.98 126.37 654.92 C127.09 655.87 127.76 656.91 128.14 658.03 C128.52 659.16 128.29 660.52 128.66 661.65 C129.04 662.78 130.05 663.7 130.41 664.81 C130.76 665.93 130.7 667.19 130.8 668.37 C130.89 669.55 130.92 670.72 131 671.89 C131.07 673.06 131.17 674.22 131.24 675.4Z" fill="none" stroke="#4418c0" stroke-width="1.3"/>
<path d="M58.42 699.76 A40.6 40.6 0 0 0 115.26 707.88" fill="none" stroke="#6428e0" stroke-width="1.8"/>
<path d="M70.6 640.24 A40.6 40.6 0 0 1 130.69 667.28" fill="none" stroke="#5a22d4" stroke-width="1.3"/>
</g>
<rect x="33" y="618.3" width="114.2" height="104.8" fill="#fff" filter="url(#grain)" opacity="0.10"/>
</g>
<rect x="37" y="638.8" width="21" height="21" fill="none" stroke="#fff" stroke-width="1.1" stroke-dasharray="3.6 2.2"/>
<text x="42.6" y="634" font-size="7.6" style="fill:#e8e8f0" font-family="'DejaVu Sans', sans-serif">1.</text>
<path d="M106.4 627.6 L112.61 620.11 L116.08 626.64Z" fill="#fff"/>
<path d="M42.4 646.8 L32.68 647.2 L35.21 640.24Z" fill="#fff"/>
<path d="M123.2 709.8 L132.36 713.07 L127.41 718.57Z" fill="#fff"/>
<line x1="126.8" y1="720.6" x2="147" y2="720.6" stroke="#fff" stroke-width="1.2"/>
<rect x="148.8" y="618.3" width="51.2" height="51.5" fill="#060230"/>
<g clip-path="url(#cj1a)">
<g filter="url(#b4)">
<path d="M188.22 617.65 L201.31 617.65 L201.31 671.34 L179.05 671.34 L176.43 658.24Z" fill="#3a14b8"/>
<rect x="147" y="614.3" width="16" height="22" fill="#020010"/>
<rect x="147" y="658.3" width="10" height="16" fill="#020010"/>
</g>
<g filter="url(#b2)">
<line x1="200.66" y1="624.19" x2="178.39" y2="654.31" stroke="#7430f0" stroke-width="3.6" stroke-opacity="0.9"/>
<line x1="178.39" y1="654.31" x2="173.16" y2="667.41" stroke="#3a16b4" stroke-width="3.2" stroke-opacity="0.6"/>
<circle cx="172.5" cy="643.18" r="11.2" fill="none" stroke="#3418b4" stroke-width="2.8" stroke-opacity="0.95"/>
</g>
<rect x="148.8" y="618.3" width="51.2" height="52" fill="#fff" filter="url(#grain)" opacity="0.10"/>
</g>
<rect x="148.8" y="671.5" width="51.2" height="51.6" fill="#060230"/>
<g clip-path="url(#cj1b)">
<g filter="url(#b4)">
<path d="M188.22 670.85 L201.31 670.85 L201.31 724.54 L179.05 724.54 L176.43 711.44Z" fill="#3a14b8"/>
<rect x="147" y="667.5" width="16" height="22" fill="#020010"/>
<rect x="147" y="711.5" width="10" height="16" fill="#020010"/>
</g>
<g filter="url(#b2)">
<line x1="200.66" y1="677.39" x2="178.39" y2="707.51" stroke="#7430f0" stroke-width="3.6" stroke-opacity="0.9"/>
<line x1="178.39" y1="707.51" x2="173.16" y2="720.61" stroke="#3a16b4" stroke-width="3.2" stroke-opacity="0.6"/>
<circle cx="172.5" cy="696.38" r="11.2" fill="none" stroke="#3418b4" stroke-width="2.8" stroke-opacity="0.95"/>
</g>
<rect x="148.8" y="671.5" width="51.2" height="52" fill="#fff" filter="url(#grain)" opacity="0.10"/>
</g>
<text x="150.4" y="627.4" font-size="7.6" style="fill:#e8e8f0" font-family="'DejaVu Sans', sans-serif">1.</text>
<line x1="192.4" y1="668.4" x2="200" y2="668.4" stroke="#ddd" stroke-width="1.1"/>
<line x1="183" y1="678.4" x2="163.4" y2="715.4" stroke="#F2E020" stroke-width="1.7" stroke-dasharray="2.6 2.7"/>
<rect x="205.3" y="618.3" width="104.3" height="104.8" fill="#010004"/>
<g clip-path="url(#cj2)">
<path d="M256 634.59 C260.28 634.46 264.83 635.34 268.84 636.68 C272.86 638.02 276.74 640.48 280.08 642.62 C283.43 644.76 286.64 646.9 288.92 649.53 C291.19 652.15 292.58 655.01 293.73 658.36 C294.88 661.71 295.82 665.59 295.82 669.6 C295.82 673.62 295.02 678.83 293.73 682.45 C292.45 686.06 290.39 688.74 288.11 691.28 C285.84 693.82 283.56 695.91 280.08 697.7 C276.6 699.5 272.05 701.05 267.24 702.04 C262.42 703.03 256.13 703.83 251.18 703.65 C246.23 703.46 241.54 702.17 237.53 700.92 C233.51 699.66 229.77 698.11 227.09 696.1 C224.41 694.09 222.86 691.68 221.47 688.87 C220.08 686.06 219.27 682.72 218.74 679.24 C218.2 675.76 217.99 671.69 218.26 668 C218.52 664.3 219.27 660.15 220.34 657.07 C221.41 654 222.75 651.78 224.68 649.53 C226.61 647.28 228.83 645.59 231.91 643.59 C234.98 641.58 239.13 638.98 243.15 637.48 C247.16 635.98 251.71 634.73 256 634.59Z" fill="none" stroke="#4a0e98" stroke-width="8" filter="url(#b2)" stroke-opacity="0.85"/>
<path d="M256 634.59 C260.28 634.46 264.83 635.34 268.84 636.68 C272.86 638.02 276.74 640.48 280.08 642.62 C283.43 644.76 286.64 646.9 288.92 649.53 C291.19 652.15 292.58 655.01 293.73 658.36 C294.88 661.71 295.82 665.59 295.82 669.6 C295.82 673.62 295.02 678.83 293.73 682.45 C292.45 686.06 290.39 688.74 288.11 691.28 C285.84 693.82 283.56 695.91 280.08 697.7 C276.6 699.5 272.05 701.05 267.24 702.04 C262.42 703.03 256.13 703.83 251.18 703.65 C246.23 703.46 241.54 702.17 237.53 700.92 C233.51 699.66 229.77 698.11 227.09 696.1 C224.41 694.09 222.86 691.68 221.47 688.87 C220.08 686.06 219.27 682.72 218.74 679.24 C218.2 675.76 217.99 671.69 218.26 668 C218.52 664.3 219.27 660.15 220.34 657.07 C221.41 654 222.75 651.78 224.68 649.53 C226.61 647.28 228.83 645.59 231.91 643.59 C234.98 641.58 239.13 638.98 243.15 637.48 C247.16 635.98 251.71 634.73 256 634.59Z" fill="#300e9a"/>
<g filter="url(#b1)">
<circle cx="241.18" cy="673.36" r="3.81" fill="#300e9c" fill-opacity="0.7"/>
<circle cx="232.54" cy="675.85" r="1.97" fill="#300e9c" fill-opacity="0.7"/>
<circle cx="240.88" cy="652.93" r="1.74" fill="#4414b8" fill-opacity="0.7"/>
<circle cx="268.01" cy="680.32" r="3.73" fill="#4a1ac8" fill-opacity="0.7"/>
<circle cx="247.54" cy="662.66" r="2.63" fill="#2c0c94" fill-opacity="0.7"/>
<circle cx="239.29" cy="652.84" r="1.66" fill="#4a1ac8" fill-opacity="0.7"/>
<circle cx="260.33" cy="674.99" r="1.58" fill="#300e9c" fill-opacity="0.7"/>
<circle cx="249.24" cy="683.24" r="1.99" fill="#2c0c94" fill-opacity="0.7"/>
<circle cx="247.81" cy="658.2" r="3.16" fill="#300e9c" fill-opacity="0.7"/>
<circle cx="250.54" cy="659.56" r="2.88" fill="#4a1ac8" fill-opacity="0.7"/>
<circle cx="255.04" cy="660.43" r="2.07" fill="#4414b8" fill-opacity="0.7"/>
<circle cx="274.6" cy="671.68" r="1.77" fill="#4a1ac8" fill-opacity="0.7"/>
<circle cx="264.35" cy="660.05" r="3.9" fill="#4a1ac8" fill-opacity="0.7"/>
<circle cx="264.09" cy="693.64" r="1.63" fill="#300e9c" fill-opacity="0.7"/>
<circle cx="269.71" cy="667.42" r="1.68" fill="#2c0c94" fill-opacity="0.7"/>
<circle cx="259.06" cy="661.49" r="1.72" fill="#4414b8" fill-opacity="0.7"/>
<circle cx="239.6" cy="682" r="2.8" fill="#5a1cd0"/>
<circle cx="231" cy="672" r="1.2" fill="#8a20c0"/>
</g>
<path d="M256 634.59 C260.28 634.46 264.83 635.34 268.84 636.68 C272.86 638.02 276.74 640.48 280.08 642.62 C283.43 644.76 286.64 646.9 288.92 649.53 C291.19 652.15 292.58 655.01 293.73 658.36 C294.88 661.71 295.82 665.59 295.82 669.6 C295.82 673.62 295.02 678.83 293.73 682.45 C292.45 686.06 290.39 688.74 288.11 691.28 C285.84 693.82 283.56 695.91 280.08 697.7 C276.6 699.5 272.05 701.05 267.24 702.04 C262.42 703.03 256.13 703.83 251.18 703.65 C246.23 703.46 241.54 702.17 237.53 700.92 C233.51 699.66 229.77 698.11 227.09 696.1 C224.41 694.09 222.86 691.68 221.47 688.87 C220.08 686.06 219.27 682.72 218.74 679.24 C218.2 675.76 217.99 671.69 218.26 668 C218.52 664.3 219.27 660.15 220.34 657.07 C221.41 654 222.75 651.78 224.68 649.53 C226.61 647.28 228.83 645.59 231.91 643.59 C234.98 641.58 239.13 638.98 243.15 637.48 C247.16 635.98 251.71 634.73 256 634.59Z" fill="none" stroke="#a0207a" stroke-width="3.8" filter="url(#b1)"/>
<g filter="url(#wob)">
<path d="M256 634.59 C260.28 634.46 264.83 635.34 268.84 636.68 C272.86 638.02 276.74 640.48 280.08 642.62 C283.43 644.76 286.64 646.9 288.92 649.53 C291.19 652.15 292.58 655.01 293.73 658.36 C294.88 661.71 295.82 665.59 295.82 669.6 C295.82 673.62 295.02 678.83 293.73 682.45 C292.45 686.06 290.39 688.74 288.11 691.28 C285.84 693.82 283.56 695.91 280.08 697.7 C276.6 699.5 272.05 701.05 267.24 702.04 C262.42 703.03 256.13 703.83 251.18 703.65 C246.23 703.46 241.54 702.17 237.53 700.92 C233.51 699.66 229.77 698.11 227.09 696.1 C224.41 694.09 222.86 691.68 221.47 688.87 C220.08 686.06 219.27 682.72 218.74 679.24 C218.2 675.76 217.99 671.69 218.26 668 C218.52 664.3 219.27 660.15 220.34 657.07 C221.41 654 222.75 651.78 224.68 649.53 C226.61 647.28 228.83 645.59 231.91 643.59 C234.98 641.58 239.13 638.98 243.15 637.48 C247.16 635.98 251.71 634.73 256 634.59Z" fill="none" stroke="#e84818" stroke-width="2.8"/>
<circle cx="235.72" cy="638.06" r="2.11" fill="#ee5c16"/>
<circle cx="235.72" cy="638.06" r="1.06" fill="#ffc830"/>
<circle cx="277.55" cy="638.92" r="1.74" fill="#ee5c16"/>
<circle cx="277.55" cy="638.92" r="0.78" fill="#ffc830"/>
<circle cx="242.62" cy="702.78" r="1.55" fill="#ee5c16"/>
<circle cx="242.62" cy="702.78" r="0.64" fill="#ffc830"/>
<circle cx="268.98" cy="702.61" r="1.76" fill="#ee5c16"/>
<circle cx="268.98" cy="702.61" r="0.8" fill="#ffc830"/>
<circle cx="262.46" cy="634.9" r="1.97" fill="#ee5c16"/>
<circle cx="262.46" cy="634.9" r="0.95" fill="#ffc830"/>
<circle cx="275.54" cy="701.2" r="1.99" fill="#ee5c16"/>
<circle cx="275.54" cy="701.2" r="0.97" fill="#ffc830"/>
<circle cx="287.18" cy="692.85" r="2.03" fill="#ee5c16"/>
<circle cx="287.18" cy="692.85" r="0.99" fill="#ffc830"/>
<circle cx="227.75" cy="698.76" r="1.9" fill="#ee5c16"/>
<circle cx="227.75" cy="698.76" r="0.9" fill="#ffc830"/>
<circle cx="248.08" cy="634.86" r="2.01" fill="#ee5c16"/>
<circle cx="248.08" cy="634.86" r="0.98" fill="#ffc830"/>
<circle cx="286.63" cy="695.05" r="1.93" fill="#ee5c16"/>
<circle cx="286.63" cy="695.05" r="0.92" fill="#ffc830"/>
<circle cx="292.78" cy="685.3" r="1.78" fill="#ee5c16"/>
<circle cx="292.78" cy="685.3" r="0.81" fill="#ffc830"/>
<circle cx="216.5" cy="675.55" r="1.76" fill="#ee5c16"/>
<circle cx="216.5" cy="675.55" r="0.79" fill="#ffc830"/>
<circle cx="221.47" cy="690.48" r="1.54" fill="#ee5c16"/>
<circle cx="221.47" cy="690.48" r="0.63" fill="#ffc830"/>
<circle cx="293.49" cy="687.85" r="1.56" fill="#ee5c16"/>
<circle cx="293.49" cy="687.85" r="0.64" fill="#ffc830"/>
<circle cx="283.16" cy="644.06" r="1.43" fill="#ee5c16"/>
<circle cx="283.16" cy="644.06" r="0.55" fill="#ffc830"/>
<circle cx="296.76" cy="676.57" r="2.06" fill="#ee5c16"/>
<circle cx="296.76" cy="676.57" r="1.02" fill="#ffc830"/>
<circle cx="291.56" cy="688.65" r="1.63" fill="#ee5c16"/>
<circle cx="291.56" cy="688.65" r="0.7" fill="#ffc830"/>
<circle cx="295.6" cy="684.27" r="1.84" fill="#ee5c16"/>
<circle cx="295.6" cy="684.27" r="0.85" fill="#ffc830"/>
<circle cx="296.26" cy="671.83" r="2.03" fill="#ee5c16"/>
<circle cx="296.26" cy="671.83" r="1" fill="#ffc830"/>
<circle cx="216" cy="678.24" r="1.59" fill="#ee5c16"/>
<circle cx="216" cy="678.24" r="0.67" fill="#ffc830"/>
<circle cx="237.26" cy="703.74" r="1.87" fill="#ee5c16"/>
<circle cx="237.26" cy="703.74" r="0.88" fill="#ffc830"/>
<circle cx="241.7" cy="637.19" r="2.18" fill="#ee5c16"/>
<circle cx="241.7" cy="637.19" r="1.11" fill="#ffc830"/>
<circle cx="270.78" cy="635.88" r="1.42" fill="#ee5c16"/>
<circle cx="270.78" cy="635.88" r="0.54" fill="#ffc830"/>
<circle cx="218.96" cy="654.83" r="2.18" fill="#ee5c16"/>
<circle cx="218.96" cy="654.83" r="1.11" fill="#ffc830"/>
<circle cx="217.87" cy="655.34" r="1.83" fill="#ee5c16"/>
<circle cx="217.87" cy="655.34" r="0.85" fill="#ffc830"/>
<circle cx="252.62" cy="632.77" r="1.68" fill="#ee5c16"/>
<circle cx="252.62" cy="632.77" r="0.73" fill="#ffc830"/>
<circle cx="249.05" cy="634.6" r="1.55" fill="#ee5c16"/>
<circle cx="249.05" cy="634.6" r="0.64" fill="#ffc830"/>
<circle cx="275.55" cy="638.24" r="1.56" fill="#ee5c16"/>
<circle cx="275.55" cy="638.24" r="0.64" fill="#ffc830"/>
<circle cx="237.84" cy="636.88" r="1.57" fill="#ee5c16"/>
<circle cx="237.84" cy="636.88" r="0.65" fill="#ffc830"/>
<circle cx="281.99" cy="641.67" r="1.54" fill="#ee5c16"/>
<circle cx="281.99" cy="641.67" r="0.63" fill="#ffc830"/>
<circle cx="237.94" cy="703.61" r="1.6" fill="#ee5c16"/>
<circle cx="237.94" cy="703.61" r="0.68" fill="#ffc830"/>
<circle cx="275.91" cy="702.16" r="1.76" fill="#ee5c16"/>
<circle cx="275.91" cy="702.16" r="0.79" fill="#ffc830"/>
<circle cx="291.33" cy="691.64" r="2.05" fill="#ee5c16"/>
<circle cx="291.33" cy="691.64" r="1.01" fill="#ffc830"/>
<circle cx="229.49" cy="642.55" r="1.73" fill="#ee5c16"/>
<circle cx="229.49" cy="642.55" r="0.77" fill="#ffc830"/>
<circle cx="216.5" cy="681.38" r="1.91" fill="#ee5c16"/>
<circle cx="216.5" cy="681.38" r="0.91" fill="#ffc830"/>
<circle cx="296.63" cy="666.94" r="1.73" fill="#ee5c16"/>
<circle cx="296.63" cy="666.94" r="0.77" fill="#ffc830"/>
<circle cx="217.18" cy="662.98" r="1.84" fill="#ee5c16"/>
<circle cx="217.18" cy="662.98" r="0.85" fill="#ffc830"/>
<circle cx="221.92" cy="652.74" r="1.9" fill="#ee5c16"/>
<circle cx="221.92" cy="652.74" r="0.9" fill="#ffc830"/>
<circle cx="291.81" cy="689.22" r="2.07" fill="#ee5c16"/>
<circle cx="291.81" cy="689.22" r="1.03" fill="#ffc830"/>
<circle cx="298.82" cy="669.27" r="1.46" fill="#ee5c16"/>
<circle cx="298.82" cy="669.27" r="0.57" fill="#ffc830"/>
<circle cx="233.86" cy="701.34" r="1.59" fill="#ee5c16"/>
<circle cx="233.86" cy="701.34" r="0.67" fill="#ffc830"/>
<circle cx="234.23" cy="701.31" r="1.76" fill="#ee5c16"/>
<circle cx="234.23" cy="701.31" r="0.79" fill="#ffc830"/>
<circle cx="218.06" cy="675.19" r="1.7" fill="#ee5c16"/>
<circle cx="218.06" cy="675.19" r="0.75" fill="#ffc830"/>
<circle cx="218.88" cy="660.02" r="2.09" fill="#ee5c16"/>
<circle cx="218.88" cy="660.02" r="1.05" fill="#ffc830"/>
<circle cx="296.14" cy="658.57" r="1.54" fill="#ee5c16"/>
<circle cx="296.14" cy="658.57" r="0.63" fill="#ffc830"/>
<circle cx="267.88" cy="703.56" r="1.47" fill="#ee5c16"/>
<circle cx="267.88" cy="703.56" r="0.57" fill="#ffc830"/>
<circle cx="217.03" cy="679.78" r="1.95" fill="#ee5c16"/>
<circle cx="217.03" cy="679.78" r="0.94" fill="#ffc830"/>
<circle cx="239.57" cy="703.28" r="1.82" fill="#ee5c16"/>
<circle cx="239.57" cy="703.28" r="0.84" fill="#ffc830"/>
<circle cx="296.58" cy="682.88" r="1.47" fill="#ee5c16"/>
<circle cx="296.58" cy="682.88" r="0.58" fill="#ffc830"/>
<circle cx="226.29" cy="644.63" r="1.8" fill="#ee5c16"/>
<circle cx="226.29" cy="644.63" r="0.82" fill="#ffc830"/>
<circle cx="217.1" cy="661.71" r="1.88" fill="#ee5c16"/>
<circle cx="217.1" cy="661.71" r="0.89" fill="#ffc830"/>
<circle cx="295.38" cy="680.71" r="1.68" fill="#ee5c16"/>
<circle cx="295.38" cy="680.71" r="0.73" fill="#ffc830"/>
<circle cx="296.37" cy="683.96" r="1.67" fill="#ee5c16"/>
<circle cx="296.37" cy="683.96" r="0.73" fill="#ffc830"/>
<circle cx="283.17" cy="697.32" r="2.05" fill="#ee5c16"/>
<circle cx="283.17" cy="697.32" r="1.01" fill="#ffc830"/>
<circle cx="258.36" cy="704.93" r="1.6" fill="#ee5c16"/>
<circle cx="258.36" cy="704.93" r="0.68" fill="#ffc830"/>
<circle cx="295.37" cy="676.97" r="1.57" fill="#ee5c16"/>
<circle cx="295.37" cy="676.97" r="0.66" fill="#ffc830"/>
<circle cx="298.02" cy="673.49" r="1.8" fill="#ee5c16"/>
<circle cx="298.02" cy="673.49" r="0.83" fill="#ffc830"/>
<circle cx="283.15" cy="642.81" r="1.5" fill="#ee5c16"/>
<circle cx="283.15" cy="642.81" r="0.6" fill="#ffc830"/>
<circle cx="233.15" cy="700.72" r="2.09" fill="#ee5c16"/>
<circle cx="233.15" cy="700.72" r="1.04" fill="#ffc830"/>
<circle cx="298.22" cy="672.22" r="1.6" fill="#ee5c16"/>
<circle cx="298.22" cy="672.22" r="0.67" fill="#ffc830"/>
<circle cx="251.13" cy="633.42" r="1.43" fill="#ee5c16"/>
<circle cx="251.13" cy="633.42" r="0.55" fill="#ffc830"/>
<circle cx="219.79" cy="655.58" r="1.69" fill="#ee5c16"/>
<circle cx="219.79" cy="655.58" r="0.74" fill="#ffc830"/>
<circle cx="290.64" cy="647.56" r="1.47" fill="#ee5c16"/>
<circle cx="290.64" cy="647.56" r="0.58" fill="#ffc830"/>
<circle cx="216.8" cy="670.71" r="1.94" fill="#ee5c16"/>
<circle cx="216.8" cy="670.71" r="0.93" fill="#ffc830"/>
<circle cx="294.7" cy="680.89" r="2.13" fill="#ee5c16"/>
<circle cx="294.7" cy="680.89" r="1.07" fill="#ffc830"/>
<circle cx="220.36" cy="688.4" r="2.18" fill="#ee5c16"/>
<circle cx="220.36" cy="688.4" r="1.11" fill="#ffc830"/>
<circle cx="233.91" cy="641.39" r="1.42" fill="#ee5c16"/>
<circle cx="233.91" cy="641.39" r="0.54" fill="#ffc830"/>
<circle cx="225.17" cy="695.06" r="1.99" fill="#ee5c16"/>
<circle cx="225.17" cy="695.06" r="0.96" fill="#ffc830"/>
<circle cx="261.43" cy="705.05" r="1.86" fill="#ee5c16"/>
<circle cx="261.43" cy="705.05" r="0.87" fill="#ffc830"/>
<circle cx="216.43" cy="663.1" r="1.88" fill="#ee5c16"/>
<circle cx="216.43" cy="663.1" r="0.89" fill="#ffc830"/>
<circle cx="221.6" cy="651" r="3.5" fill="#f4700f"/>
<circle cx="221.6" cy="651" r="2.6" fill="#ffe670"/>
<circle cx="220.2" cy="657.6" r="3.3" fill="#f4700f"/>
<circle cx="220.2" cy="657.6" r="2.4" fill="#ffe670"/>
<circle cx="223.4" cy="645" r="3.1" fill="#f4700f"/>
<circle cx="223.4" cy="645" r="2.2" fill="#ffe670"/>
<circle cx="219.6" cy="663" r="2.7" fill="#f4700f"/>
<circle cx="219.6" cy="663" r="1.8" fill="#ffe670"/>
<circle cx="221.4" cy="693.4" r="3.1" fill="#f4700f"/>
<circle cx="221.4" cy="693.4" r="2.2" fill="#ffe670"/>
<circle cx="225.6" cy="698.6" r="3.1" fill="#f4700f"/>
<circle cx="225.6" cy="698.6" r="2.2" fill="#ffe670"/>
<circle cx="219.8" cy="686" r="2.5" fill="#f4700f"/>
<circle cx="219.8" cy="686" r="1.6" fill="#ffe670"/>
<circle cx="228" cy="640" r="2.7" fill="#f4700f"/>
<circle cx="228" cy="640" r="1.8" fill="#ffe670"/>
<path d="M256 634.59 C260.28 634.46 264.83 635.34 268.84 636.68 C272.86 638.02 276.74 640.48 280.08 642.62 C283.43 644.76 286.64 646.9 288.92 649.53 C291.19 652.15 292.58 655.01 293.73 658.36 C294.88 661.71 295.82 665.59 295.82 669.6 C295.82 673.62 295.02 678.83 293.73 682.45 C292.45 686.06 290.39 688.74 288.11 691.28 C285.84 693.82 283.56 695.91 280.08 697.7 C276.6 699.5 272.05 701.05 267.24 702.04 C262.42 703.03 256.13 703.83 251.18 703.65 C246.23 703.46 241.54 702.17 237.53 700.92 C233.51 699.66 229.77 698.11 227.09 696.1 C224.41 694.09 222.86 691.68 221.47 688.87 C220.08 686.06 219.27 682.72 218.74 679.24 C218.2 675.76 217.99 671.69 218.26 668 C218.52 664.3 219.27 660.15 220.34 657.07 C221.41 654 222.75 651.78 224.68 649.53 C226.61 647.28 228.83 645.59 231.91 643.59 C234.98 641.58 239.13 638.98 243.15 637.48 C247.16 635.98 251.71 634.73 256 634.59Z" fill="none" stroke="#ffa41c" stroke-width="1.9"/>
<path d="M256 634.59 C260.28 634.46 264.83 635.34 268.84 636.68 C272.86 638.02 276.74 640.48 280.08 642.62 C283.43 644.76 286.64 646.9 288.92 649.53 C291.19 652.15 292.58 655.01 293.73 658.36 C294.88 661.71 295.82 665.59 295.82 669.6 C295.82 673.62 295.02 678.83 293.73 682.45 C292.45 686.06 290.39 688.74 288.11 691.28 C285.84 693.82 283.56 695.91 280.08 697.7 C276.6 699.5 272.05 701.05 267.24 702.04 C262.42 703.03 256.13 703.83 251.18 703.65 C246.23 703.46 241.54 702.17 237.53 700.92 C233.51 699.66 229.77 698.11 227.09 696.1 C224.41 694.09 222.86 691.68 221.47 688.87 C220.08 686.06 219.27 682.72 218.74 679.24 C218.2 675.76 217.99 671.69 218.26 668 C218.52 664.3 219.27 660.15 220.34 657.07 C221.41 654 222.75 651.78 224.68 649.53 C226.61 647.28 228.83 645.59 231.91 643.59 C234.98 641.58 239.13 638.98 243.15 637.48 C247.16 635.98 251.71 634.73 256 634.59Z" fill="none" stroke="#ffec90" stroke-width="1.1"/>
</g>
<g filter="url(#b05)">
<circle cx="306.2" cy="628.6" r="2.6" fill="none" stroke="#f0601a" stroke-width="1.5"/>
<line x1="264.6" y1="622" x2="268.2" y2="631.5" stroke="#c03028" stroke-width="1.3"/>
<circle cx="264.2" cy="621.6" r="1.1" fill="#f0601a"/>
<line x1="221" y1="640" x2="224" y2="646" stroke="#f0601a" stroke-width="1.6"/>
<circle cx="220.6" cy="639.4" r="1.2" fill="#f8801a"/>
<path d="M296.5 678 L304 681.5 L309.5 680" fill="none" stroke="#a03048" stroke-width="1"/>
<circle cx="309.4" cy="681" r="2" fill="#ffd060"/>
<circle cx="213.6" cy="674.6" r="1.7" fill="none" stroke="#f0601a" stroke-width="1.1"/>
</g>
<rect x="205.3" y="618.3" width="104.3" height="104.8" fill="#fff" filter="url(#grain)" opacity="0.10"/>
</g>
<rect x="208.1" y="666" width="14.5" height="14" fill="none" stroke="#fff" stroke-width="1" stroke-dasharray="3 2"/>
<path d="M268.6 629.4 L269.56 619.72 L276.09 623.19Z" fill="#fff"/>
<path d="M213.6 678 L212.64 687.68 L206.11 684.21Z" fill="#fff"/>
<path d="M216.6 689.6 L211.35 697.79 L207.11 691.73Z" fill="#fff"/>
<path d="M223.4 701.4 L227.1 710.4 L219.7 710.4Z" fill="#fff"/>
<line x1="285.7" y1="720.7" x2="306.6" y2="720.7" stroke="#9a9a9a" stroke-width="1.6"/>
<rect x="310.8" y="618.3" width="51.3" height="51.9" fill="#030012"/>
<g clip-path="url(#cj2a)">
<g filter="url(#b2)">
<path d="M347.27 616.73 L362.97 616.73 L362.97 671.7 L357.74 671.7 L352.5 658.61 L351.19 641.6Z" fill="#5a14b0"/>
<path d="M338.1 616.73 C337.78 617.82 337.67 620.22 336.14 623.27 C334.61 626.33 331.01 631.35 328.94 635.05 C326.87 638.76 323.71 642.03 323.71 645.53 C323.71 649.02 326.32 653.81 328.94 656 C331.56 658.18 337.23 656.65 339.41 658.61 C341.6 660.58 340.72 665.59 342.03 667.78 C343.34 669.96 346.39 671.05 347.27 671.7" fill="none" stroke="#3a0c80" stroke-width="5" stroke-opacity="0.8"/>
</g>
<g filter="url(#b15)">
<path d="M343.99 616.73 C344.43 618.47 345.81 623.49 346.61 627.2 C347.42 630.91 348.73 635.38 348.84 638.98 C348.95 642.58 346.98 645.42 347.27 648.8 C347.55 652.18 349.12 655.56 350.54 659.27 C351.96 662.98 354.9 669.09 355.77 671.05" fill="none" stroke="#b82470" stroke-width="13"/>
<path d="M342.29 636.36 C341.06 636.1 338.42 634.79 336.14 635.05 C333.86 635.32 332.74 635.71 330.91 637.67 C329.07 639.64 327.37 641.99 326.98 644.87 C326.59 647.75 327.37 650.05 328.94 652.07 C330.51 654.09 332.48 654.64 334.83 654.95 C337.19 655.26 338.89 654.69 340.72 653.64 C342.55 652.59 343.34 650.5 343.99 649.71" fill="none" stroke="#b82470" stroke-width="7.5"/>
<path d="M342.29 636.36 L330.91 638.33 L327.63 645.53 L330.91 652.72 L340.72 653.38 L343.99 649.71Z" fill="#dc4c18"/>
</g>
<g filter="url(#b1)">
<path d="M343.99 616.73 C344.43 618.47 345.81 623.49 346.61 627.2 C347.42 630.91 348.73 635.38 348.84 638.98 C348.95 642.58 346.98 645.42 347.27 648.8 C347.55 652.18 349.12 655.56 350.54 659.27 C351.96 662.98 354.9 669.09 355.77 671.05" fill="none" stroke="#f4700f" stroke-width="11"/>
<path d="M342.29 636.36 C341.06 636.1 338.42 634.79 336.14 635.05 C333.86 635.32 332.74 635.71 330.91 637.67 C329.07 639.64 327.37 641.99 326.98 644.87 C326.59 647.75 327.37 650.05 328.94 652.07 C330.51 654.09 332.48 654.64 334.83 654.95 C337.19 655.26 338.89 654.69 340.72 653.64 C342.55 652.59 343.34 650.5 343.99 649.71" fill="none" stroke="#f4700f" stroke-width="4.8"/>
<path d="M343.99 616.73 C344.43 618.47 345.81 623.49 346.61 627.2 C347.42 630.91 348.73 635.38 348.84 638.98 C348.95 642.58 346.98 645.42 347.27 648.8 C347.55 652.18 349.12 655.56 350.54 659.27 C351.96 662.98 354.9 669.09 355.77 671.05" fill="none" stroke="#ffc428" stroke-width="6.4"/>
<path d="M342.29 636.36 C341.06 636.1 338.42 634.79 336.14 635.05 C333.86 635.32 332.74 635.71 330.91 637.67 C329.07 639.64 327.37 641.99 326.98 644.87 C326.59 647.75 327.37 650.05 328.94 652.07 C330.51 654.09 332.48 654.64 334.83 654.95 C337.19 655.26 338.89 654.69 340.72 653.64 C342.55 652.59 343.34 650.5 343.99 649.71" fill="none" stroke="#ffc030" stroke-width="2.2"/>
<path d="M343.99 616.73 C344.43 618.47 345.81 623.49 346.61 627.2 C347.42 630.91 348.73 635.38 348.84 638.98 C348.95 642.58 346.98 645.42 347.27 648.8 C347.55 652.18 349.12 655.56 350.54 659.27 C351.96 662.98 354.9 669.09 355.77 671.05" fill="none" stroke="#ffe880" stroke-width="2.6"/>
<path d="M351.19 620.66 C351.52 621.96 353.16 626.11 353.16 628.51 C353.16 630.91 351.52 633.96 351.19 635.05" fill="none" stroke="#ffd850" stroke-width="2.4"/>
<circle cx="346.87" cy="656.65" r="4.7" fill="#fffbe0"/>
<ellipse cx="342.29" cy="638.72" rx="3.2" ry="2" fill="#fff8d0" transform="rotate(30 342.29 638.72)"/>
<circle cx="349.88" cy="631.78" r="1.6" fill="#fff2a8"/>
</g></g>
<rect x="310.8" y="671.2" width="51.3" height="51.9" fill="#030012"/>
<g clip-path="url(#cj2b)">
<g filter="url(#b2)">
<path d="M347.27 669.63 L362.97 669.63 L362.97 724.6 L357.74 724.6 L352.5 711.51 L351.19 694.5Z" fill="#5a14b0"/>
<path d="M338.1 669.63 C337.78 670.72 337.67 673.12 336.14 676.17 C334.61 679.23 331.01 684.25 328.94 687.95 C326.87 691.66 323.71 694.93 323.71 698.43 C323.71 701.92 326.32 706.71 328.94 708.9 C331.56 711.08 337.23 709.55 339.41 711.51 C341.6 713.48 340.72 718.49 342.03 720.68 C343.34 722.86 346.39 723.95 347.27 724.6" fill="none" stroke="#3a0c80" stroke-width="5" stroke-opacity="0.8"/>
</g>
<g filter="url(#b15)">
<path d="M343.99 669.63 C344.43 671.37 345.81 676.39 346.61 680.1 C347.42 683.81 348.73 688.28 348.84 691.88 C348.95 695.48 346.98 698.32 347.27 701.7 C347.55 705.08 349.12 708.46 350.54 712.17 C351.96 715.88 354.9 721.99 355.77 723.95" fill="none" stroke="#b82470" stroke-width="13"/>
<path d="M342.29 689.26 C341.06 689 338.42 687.69 336.14 687.95 C333.86 688.22 332.74 688.61 330.91 690.57 C329.07 692.54 327.37 694.89 326.98 697.77 C326.59 700.65 327.37 702.95 328.94 704.97 C330.51 706.99 332.48 707.54 334.83 707.85 C337.19 708.16 338.89 707.59 340.72 706.54 C342.55 705.49 343.34 703.4 343.99 702.61" fill="none" stroke="#b82470" stroke-width="7.5"/>
<path d="M342.29 689.26 L330.91 691.23 L327.63 698.43 L330.91 705.62 L340.72 706.28 L343.99 702.61Z" fill="#dc4c18"/>
</g>
<g filter="url(#b1)">
<path d="M343.99 669.63 C344.43 671.37 345.81 676.39 346.61 680.1 C347.42 683.81 348.73 688.28 348.84 691.88 C348.95 695.48 346.98 698.32 347.27 701.7 C347.55 705.08 349.12 708.46 350.54 712.17 C351.96 715.88 354.9 721.99 355.77 723.95" fill="none" stroke="#f4700f" stroke-width="11"/>
<path d="M342.29 689.26 C341.06 689 338.42 687.69 336.14 687.95 C333.86 688.22 332.74 688.61 330.91 690.57 C329.07 692.54 327.37 694.89 326.98 697.77 C326.59 700.65 327.37 702.95 328.94 704.97 C330.51 706.99 332.48 707.54 334.83 707.85 C337.19 708.16 338.89 707.59 340.72 706.54 C342.55 705.49 343.34 703.4 343.99 702.61" fill="none" stroke="#f4700f" stroke-width="4.8"/>
<path d="M343.99 669.63 C344.43 671.37 345.81 676.39 346.61 680.1 C347.42 683.81 348.73 688.28 348.84 691.88 C348.95 695.48 346.98 698.32 347.27 701.7 C347.55 705.08 349.12 708.46 350.54 712.17 C351.96 715.88 354.9 721.99 355.77 723.95" fill="none" stroke="#ffc428" stroke-width="6.4"/>
<path d="M342.29 689.26 C341.06 689 338.42 687.69 336.14 687.95 C333.86 688.22 332.74 688.61 330.91 690.57 C329.07 692.54 327.37 694.89 326.98 697.77 C326.59 700.65 327.37 702.95 328.94 704.97 C330.51 706.99 332.48 707.54 334.83 707.85 C337.19 708.16 338.89 707.59 340.72 706.54 C342.55 705.49 343.34 703.4 343.99 702.61" fill="none" stroke="#ffc030" stroke-width="2.2"/>
<path d="M343.99 669.63 C344.43 671.37 345.81 676.39 346.61 680.1 C347.42 683.81 348.73 688.28 348.84 691.88 C348.95 695.48 346.98 698.32 347.27 701.7 C347.55 705.08 349.12 708.46 350.54 712.17 C351.96 715.88 354.9 721.99 355.77 723.95" fill="none" stroke="#ffe880" stroke-width="2.6"/>
<path d="M351.19 673.56 C351.52 674.86 353.16 679.01 353.16 681.41 C353.16 683.81 351.52 686.86 351.19 687.95" fill="none" stroke="#ffd850" stroke-width="2.4"/>
<circle cx="346.87" cy="709.55" r="4.7" fill="#fffbe0"/>
<ellipse cx="342.29" cy="691.62" rx="3.2" ry="2" fill="#fff8d0" transform="rotate(30 342.29 691.62)"/>
<circle cx="349.88" cy="684.68" r="1.6" fill="#fff2a8"/>
</g></g>
<text x="312.6" y="627.6" font-size="7.8" style="fill:#eeeef6" font-family="'DejaVu Sans', sans-serif">2.</text>
<line x1="340.4" y1="719.6" x2="358.4" y2="719.6" stroke="#fff" stroke-width="1.2"/>
<circle cx="323.4" cy="692.2" r="0.9" fill="#E8D820"/>
<line x1="327" y1="694.6" x2="345.4" y2="703.6" stroke="#E8D820" stroke-width="1.4" stroke-dasharray="2.6 2.8"/>
<rect x="366.4" y="618.3" width="104.3" height="104.8" fill="#010004"/>
<g clip-path="url(#cj3)">
<ellipse cx="420.6" cy="665.6" rx="39.6" ry="38.4" fill="none" stroke="#4a0e98" stroke-width="8" stroke-opacity="0.85" filter="url(#b2)"/>
<ellipse cx="420.6" cy="665.6" rx="39.6" ry="38.4" fill="#140770"/>
<circle cx="420.6" cy="665.6" r="24" fill="#0c0450" filter="url(#b4)"/>
<g filter="url(#b1)">
<circle cx="423.71" cy="666.78" r="1.12" fill="#4a18c4" fill-opacity="0.8"/>
<circle cx="423.8" cy="665.72" r="1.24" fill="#7a20b0" fill-opacity="0.8"/>
<circle cx="426.41" cy="657.22" r="0.98" fill="#3c14b8" fill-opacity="0.8"/>
<circle cx="417.69" cy="672.52" r="1.46" fill="#7a20b0" fill-opacity="0.8"/>
<circle cx="426.05" cy="676.02" r="1.46" fill="#7a20b0" fill-opacity="0.8"/>
<circle cx="424.31" cy="663.48" r="1.05" fill="#3c14b8" fill-opacity="0.8"/>
<circle cx="431.25" cy="657.38" r="1.48" fill="#7a20b0" fill-opacity="0.8"/>
<circle cx="429.76" cy="669.22" r="1.34" fill="#3c14b8" fill-opacity="0.8"/>
<circle cx="423.62" cy="668.45" r="1.02" fill="#3c14b8" fill-opacity="0.8"/>
<circle cx="423.65" cy="665.53" r="1.03" fill="#3c14b8" fill-opacity="0.8"/>
<circle cx="431.02" cy="659" r="1.21" fill="#7a20b0" fill-opacity="0.8"/>
<circle cx="420.56" cy="667.13" r="1.16" fill="#4a18c4" fill-opacity="0.8"/>
<circle cx="417.6" cy="637" r="1.2" fill="#c03060"/>
<circle cx="405" cy="634.6" r="1" fill="#a02880"/>
</g>
<ellipse cx="420.6" cy="665.6" rx="39.6" ry="38.4" fill="none" stroke="#a0207a" stroke-width="4.4" filter="url(#b1)"/>
<g filter="url(#wob2)">
<ellipse cx="420.6" cy="665.6" rx="39.6" ry="38.4" fill="none" stroke="#e84818" stroke-width="2.8"/>
<circle cx="403.93" cy="630.09" r="1.79" fill="#ee5c16"/>
<circle cx="403.93" cy="630.09" r="0.77" fill="#ffc830"/>
<circle cx="443.61" cy="631.36" r="1.71" fill="#ee5c16"/>
<circle cx="443.61" cy="631.36" r="0.71" fill="#ffc830"/>
<circle cx="392.77" cy="636.48" r="1.72" fill="#ee5c16"/>
<circle cx="392.77" cy="636.48" r="0.72" fill="#ffc830"/>
<circle cx="453.13" cy="690.99" r="1.78" fill="#ee5c16"/>
<circle cx="453.13" cy="690.99" r="0.76" fill="#ffc830"/>
<circle cx="412.44" cy="704.53" r="1.89" fill="#ee5c16"/>
<circle cx="412.44" cy="704.53" r="0.83" fill="#ffc830"/>
<circle cx="380.75" cy="679.82" r="2.08" fill="#ee5c16"/>
<circle cx="380.75" cy="679.82" r="0.96" fill="#ffc830"/>
<circle cx="441.81" cy="632.45" r="1.36" fill="#ee5c16"/>
<circle cx="441.81" cy="632.45" r="0.46" fill="#ffc830"/>
<circle cx="410.77" cy="704.12" r="1.86" fill="#ee5c16"/>
<circle cx="410.77" cy="704.12" r="0.81" fill="#ffc830"/>
<circle cx="439.85" cy="630.01" r="1.81" fill="#ee5c16"/>
<circle cx="439.85" cy="630.01" r="0.78" fill="#ffc830"/>
<circle cx="384.67" cy="648.37" r="1.72" fill="#ee5c16"/>
<circle cx="384.67" cy="648.37" r="0.71" fill="#ffc830"/>
<circle cx="430" cy="704.37" r="1.31" fill="#ee5c16"/>
<circle cx="430" cy="704.37" r="0.42" fill="#ffc830"/>
<circle cx="396.97" cy="631.53" r="1.35" fill="#ee5c16"/>
<circle cx="396.97" cy="631.53" r="0.46" fill="#ffc830"/>
<circle cx="385.51" cy="646.87" r="1.58" fill="#ee5c16"/>
<circle cx="385.51" cy="646.87" r="0.62" fill="#ffc830"/>
<circle cx="443.38" cy="700.06" r="1.88" fill="#ee5c16"/>
<circle cx="443.38" cy="700.06" r="0.83" fill="#ffc830"/>
<circle cx="452.88" cy="641.8" r="1.88" fill="#ee5c16"/>
<circle cx="452.88" cy="641.8" r="0.82" fill="#ffc830"/>
<circle cx="407.71" cy="627.54" r="2.03" fill="#ee5c16"/>
<circle cx="407.71" cy="627.54" r="0.93" fill="#ffc830"/>
<circle cx="391.79" cy="637.69" r="1.87" fill="#ee5c16"/>
<circle cx="391.79" cy="637.69" r="0.82" fill="#ffc830"/>
<circle cx="380.34" cy="670.22" r="1.79" fill="#ee5c16"/>
<circle cx="380.34" cy="670.22" r="0.77" fill="#ffc830"/>
<circle cx="459.87" cy="677.52" r="1.75" fill="#ee5c16"/>
<circle cx="459.87" cy="677.52" r="0.73" fill="#ffc830"/>
<circle cx="462.26" cy="666.24" r="1.37" fill="#ee5c16"/>
<circle cx="462.26" cy="666.24" r="0.47" fill="#ffc830"/>
<circle cx="396.52" cy="633.57" r="1.32" fill="#ee5c16"/>
<circle cx="396.52" cy="633.57" r="0.44" fill="#ffc830"/>
<circle cx="460.76" cy="665.44" r="1.43" fill="#ee5c16"/>
<circle cx="460.76" cy="665.44" r="0.51" fill="#ffc830"/>
<circle cx="380" cy="664.18" r="1.72" fill="#ee5c16"/>
<circle cx="380" cy="664.18" r="0.72" fill="#ffc830"/>
<circle cx="379.67" cy="672.13" r="1.73" fill="#ee5c16"/>
<circle cx="379.67" cy="672.13" r="0.72" fill="#ffc830"/>
<circle cx="409.48" cy="703.4" r="1.86" fill="#ee5c16"/>
<circle cx="409.48" cy="703.4" r="0.81" fill="#ffc830"/>
<circle cx="383.31" cy="682.9" r="2.03" fill="#ee5c16"/>
<circle cx="383.31" cy="682.9" r="0.93" fill="#ffc830"/>
<circle cx="461.25" cy="667.7" r="1.75" fill="#ee5c16"/>
<circle cx="461.25" cy="667.7" r="0.74" fill="#ffc830"/>
<circle cx="460.15" cy="679.13" r="1.62" fill="#ee5c16"/>
<circle cx="460.15" cy="679.13" r="0.64" fill="#ffc830"/>
<circle cx="404.2" cy="701.5" r="2.07" fill="#ee5c16"/>
<circle cx="404.2" cy="701.5" r="0.96" fill="#ffc830"/>
<circle cx="460.92" cy="677.38" r="1.86" fill="#ee5c16"/>
<circle cx="460.92" cy="677.38" r="0.81" fill="#ffc830"/>
<circle cx="454.03" cy="641.26" r="1.58" fill="#ee5c16"/>
<circle cx="454.03" cy="641.26" r="0.61" fill="#ffc830"/>
<circle cx="380.3" cy="652.91" r="1.33" fill="#ee5c16"/>
<circle cx="380.3" cy="652.91" r="0.44" fill="#ffc830"/>
<circle cx="445.12" cy="632.86" r="1.46" fill="#ee5c16"/>
<circle cx="445.12" cy="632.86" r="0.53" fill="#ffc830"/>
<circle cx="460.48" cy="657.4" r="1.3" fill="#ee5c16"/>
<circle cx="460.48" cy="657.4" r="0.42" fill="#ffc830"/>
<circle cx="416.07" cy="705.43" r="1.32" fill="#ee5c16"/>
<circle cx="416.07" cy="705.43" r="0.44" fill="#ffc830"/>
<circle cx="386.11" cy="643.86" r="1.57" fill="#ee5c16"/>
<circle cx="386.11" cy="643.86" r="0.61" fill="#ffc830"/>
<circle cx="422.08" cy="625.3" r="2.07" fill="#ee5c16"/>
<circle cx="422.08" cy="625.3" r="0.96" fill="#ffc830"/>
<circle cx="449.44" cy="635.71" r="2.05" fill="#ee5c16"/>
<circle cx="449.44" cy="635.71" r="0.94" fill="#ffc830"/>
<circle cx="444.83" cy="633.23" r="1.35" fill="#ee5c16"/>
<circle cx="444.83" cy="633.23" r="0.46" fill="#ffc830"/>
<circle cx="381.29" cy="678.76" r="2.08" fill="#ee5c16"/>
<circle cx="381.29" cy="678.76" r="0.96" fill="#ffc830"/>
<circle cx="397.06" cy="632.49" r="1.37" fill="#ee5c16"/>
<circle cx="397.06" cy="632.49" r="0.47" fill="#ffc830"/>
<circle cx="397.13" cy="634.08" r="1.41" fill="#ee5c16"/>
<circle cx="397.13" cy="634.08" r="0.5" fill="#ffc830"/>
<circle cx="460.95" cy="676.49" r="2.05" fill="#ee5c16"/>
<circle cx="460.95" cy="676.49" r="0.95" fill="#ffc830"/>
<circle cx="387.23" cy="643.83" r="1.89" fill="#ee5c16"/>
<circle cx="387.23" cy="643.83" r="0.83" fill="#ffc830"/>
<circle cx="439.72" cy="701.67" r="1.84" fill="#ee5c16"/>
<circle cx="439.72" cy="701.67" r="0.8" fill="#ffc830"/>
<circle cx="458.61" cy="652.27" r="1.49" fill="#ee5c16"/>
<circle cx="458.61" cy="652.27" r="0.55" fill="#ffc830"/>
<circle cx="403.67" cy="700.95" r="2.06" fill="#ee5c16"/>
<circle cx="403.67" cy="700.95" r="0.95" fill="#ffc830"/>
<circle cx="391.7" cy="638.4" r="1.68" fill="#ee5c16"/>
<circle cx="391.7" cy="638.4" r="0.69" fill="#ffc830"/>
<circle cx="455.16" cy="689.55" r="1.59" fill="#ee5c16"/>
<circle cx="455.16" cy="689.55" r="0.62" fill="#ffc830"/>
<circle cx="462.5" cy="666.25" r="1.56" fill="#ee5c16"/>
<circle cx="462.5" cy="666.25" r="0.61" fill="#ffc830"/>
<circle cx="395.81" cy="632.71" r="1.36" fill="#ee5c16"/>
<circle cx="395.81" cy="632.71" r="0.46" fill="#ffc830"/>
<circle cx="379.95" cy="653.77" r="1.48" fill="#ee5c16"/>
<circle cx="379.95" cy="653.77" r="0.55" fill="#ffc830"/>
<circle cx="420.76" cy="706.07" r="1.35" fill="#ee5c16"/>
<circle cx="420.76" cy="706.07" r="0.45" fill="#ffc830"/>
<circle cx="438.47" cy="628.68" r="2.06" fill="#ee5c16"/>
<circle cx="438.47" cy="628.68" r="0.95" fill="#ffc830"/>
<circle cx="441.33" cy="630.75" r="1.67" fill="#ee5c16"/>
<circle cx="441.33" cy="630.75" r="0.68" fill="#ffc830"/>
<circle cx="380.03" cy="656.53" r="2.08" fill="#ee5c16"/>
<circle cx="380.03" cy="656.53" r="0.97" fill="#ffc830"/>
<circle cx="444.35" cy="698.32" r="1.66" fill="#ee5c16"/>
<circle cx="444.35" cy="698.32" r="0.67" fill="#ffc830"/>
<circle cx="421.72" cy="704.78" r="1.93" fill="#ee5c16"/>
<circle cx="421.72" cy="704.78" r="0.86" fill="#ffc830"/>
<circle cx="384.64" cy="644.99" r="1.51" fill="#ee5c16"/>
<circle cx="384.64" cy="644.99" r="0.56" fill="#ffc830"/>
<circle cx="380.53" cy="670.61" r="1.42" fill="#ee5c16"/>
<circle cx="380.53" cy="670.61" r="0.51" fill="#ffc830"/>
<circle cx="448.19" cy="695.88" r="1.98" fill="#ee5c16"/>
<circle cx="448.19" cy="695.88" r="0.89" fill="#ffc830"/>
<circle cx="382.75" cy="647.95" r="1.36" fill="#ee5c16"/>
<circle cx="382.75" cy="647.95" r="0.46" fill="#ffc830"/>
<circle cx="380.51" cy="661.12" r="1.72" fill="#ee5c16"/>
<circle cx="380.51" cy="661.12" r="0.71" fill="#ffc830"/>
<circle cx="420.88" cy="705.02" r="2.03" fill="#ee5c16"/>
<circle cx="420.88" cy="705.02" r="0.93" fill="#ffc830"/>
<ellipse cx="420.6" cy="665.6" rx="39.6" ry="38.4" fill="none" stroke="#ff9c18" stroke-width="1.8"/>
<ellipse cx="420.6" cy="665.6" rx="39.6" ry="38.4" fill="none" stroke="#ffe068" stroke-width="0.9"/>
</g>
<g filter="url(#b05)">
<circle cx="443" cy="627.6" r="2.2" fill="none" stroke="#f4601a" stroke-width="1.5"/>
<circle cx="458.6" cy="646" r="2.6" fill="none" stroke="#f4601a" stroke-width="1.5"/>
<circle cx="462.4" cy="668" r="2.2" fill="none" stroke="#f4601a" stroke-width="1.5"/>
<circle cx="461" cy="681" r="2.4" fill="none" stroke="#f4601a" stroke-width="1.5"/>
<circle cx="452.6" cy="693" r="2" fill="none" stroke="#f4601a" stroke-width="1.5"/>
<circle cx="401" cy="707" r="2.4" fill="none" stroke="#f4601a" stroke-width="1.5"/>
<circle cx="406.6" cy="709.6" r="2.2" fill="none" stroke="#f4601a" stroke-width="1.5"/>
<circle cx="413" cy="709" r="2.2" fill="none" stroke="#f4601a" stroke-width="1.5"/>
<circle cx="380.4" cy="658" r="2" fill="none" stroke="#f4601a" stroke-width="1.5"/>
<circle cx="391" cy="692" r="1.8" fill="none" stroke="#f4601a" stroke-width="1.5"/>
<circle cx="460" cy="657" r="1.8" fill="none" stroke="#f4601a" stroke-width="1.5"/>
<circle cx="372.4" cy="660" r="3.4" fill="#f4701a"/>
<circle cx="372" cy="659.6" r="1.8" fill="#ffd040"/>
<path d="M384.96 649.47 A39.6 38.4 0 0 0 392.09 692.48" fill="none" stroke="#fff2a0" stroke-width="2"/>
<path d="M458.62 654.08 A39.6 38.4 0 0 1 456.24 681.73" fill="none" stroke="#fff2a0" stroke-width="1.7"/>
</g>
<g filter="url(#b1)">
<circle cx="454.6" cy="632" r="2.8" fill="#2c10a0"/>
<circle cx="419" cy="620.6" r="2.2" fill="#2a0e90"/>
<circle cx="376.6" cy="717" r="1.5" fill="#8a20b0"/>
</g>
<rect x="366.4" y="618.3" width="104.3" height="104.8" fill="#fff" filter="url(#grain)" opacity="0.10"/>
</g>
<rect x="390.6" y="694.4" width="21.6" height="21.2" fill="none" stroke="#e8e8e8" stroke-width="1" stroke-dasharray="3.2 2.2"/>
<path d="M402 686.6 A2.6 2.9 0 1 0 402 691.4" fill="none" stroke="#eee" stroke-width="1"/>
<path d="M378.6 653.6 L370.69 647.93 L376.97 644.01Z" fill="#fff"/>
<path d="M461.6 643 L462.56 633.32 L469.09 636.79Z" fill="#fff"/>
<path d="M462.2 684.6 L468.1 692.34 L460.96 694.25Z" fill="#fff"/>
<path d="M449.4 696.6 L454.61 704.82 L447.32 706.11Z" fill="#fff"/>
<path d="M386.4 710.4 L393.59 703.84 L396.12 710.8Z" fill="#fff"/>
<path d="M396.4 718.6 L402.99 711.44 L406.12 718.15Z" fill="#fff"/>
<path d="M413.4 709.6 L417.1 718.6 L409.7 718.6Z" fill="#fff"/>
<line x1="447.4" y1="720.8" x2="468" y2="720.8" stroke="#aaa" stroke-width="1.6"/>
<rect x="472.4" y="618.3" width="51.4" height="51.9" fill="#040016"/>
<g clip-path="url(#cj3a)">
<g filter="url(#b2)">
<path d="M487.64 616.73 L525.62 616.73 L525.62 641.61 L507.29 631.13Z" fill="#3412b0"/>
<path d="M471.93 627.21 C474.55 629.61 484.81 637.25 487.64 641.61 C490.48 645.98 486.99 650.78 488.95 653.4 C490.92 656.02 496.16 656.45 499.43 657.33 C502.7 658.2 505.54 657.54 508.6 658.64 C511.65 659.73 514.93 663.22 517.76 663.87 C520.6 664.53 524.31 662.78 525.62 662.56" fill="none" stroke="#3a0c80" stroke-width="5" stroke-opacity="0.8"/>
</g>
<g filter="url(#b15)">
<path d="M470.62 620.66 C472.8 621.49 479.35 623.67 483.72 625.63 C488.08 627.6 492.45 630.3 496.81 632.44 C501.18 634.58 505 636.46 509.91 638.47 C514.82 640.48 523.55 643.49 526.28 644.49" fill="none" stroke="#b02478" stroke-width="15"/>
<ellipse cx="497.47" cy="646.85" rx="7.6" ry="8.2" fill="#6a18c0" stroke="#c02860" stroke-width="4.6"/>
<ellipse cx="516.19" cy="654.71" rx="7" ry="6.2" fill="#7a1cc0" stroke="#c02868" stroke-width="4.2"/>
</g>
<g filter="url(#b1)">
<ellipse cx="497.47" cy="646.85" rx="7.6" ry="8.2" fill="none" stroke="#ee5418" stroke-width="2.4"/>
<ellipse cx="516.19" cy="654.71" rx="7" ry="6.2" fill="none" stroke="#e03a30" stroke-width="2"/>
<path d="M470.62 620.66 C472.8 621.49 479.35 623.67 483.72 625.63 C488.08 627.6 492.45 630.3 496.81 632.44 C501.18 634.58 505 636.46 509.91 638.47 C514.82 640.48 523.55 643.49 526.28 644.49" fill="none" stroke="#f4700f" stroke-width="11.5"/>
<path d="M470.62 620.66 C472.8 621.49 479.35 623.67 483.72 625.63 C488.08 627.6 492.45 630.3 496.81 632.44 C501.18 634.58 505 636.46 509.91 638.47 C514.82 640.48 523.55 643.49 526.28 644.49" fill="none" stroke="#ffc428" stroke-width="6.6"/>
<path d="M485.02 622.62 C485.68 622.95 486.33 622.84 488.95 624.59 C491.57 626.33 497.03 631.02 500.74 633.1 C504.45 635.17 507.51 635.5 511.22 637.03 C514.93 638.55 521.04 641.39 523 642.27" fill="none" stroke="#fff4b0" stroke-width="2.4"/>
<path d="M479.79 625.9 C480.22 626.99 482.19 630.48 482.41 632.44 C482.62 634.41 481.31 636.81 481.1 637.68" fill="none" stroke="#f06a14" stroke-width="2.6"/>
<path d="M501.39 635.06 C501.29 635.94 500.41 638.88 500.74 640.3 C501.07 641.72 502.92 643.03 503.36 643.58" fill="none" stroke="#ff9a20" stroke-width="2.6"/>
</g></g>
<rect x="472.4" y="671.2" width="51.4" height="51.9" fill="#040016"/>
<g clip-path="url(#cj3b)">
<g filter="url(#b2)">
<path d="M487.64 669.63 L525.62 669.63 L525.62 694.51 L507.29 684.03Z" fill="#3412b0"/>
<path d="M471.93 680.11 C474.55 682.51 484.81 690.15 487.64 694.51 C490.48 698.88 486.99 703.68 488.95 706.3 C490.92 708.92 496.16 709.35 499.43 710.23 C502.7 711.1 505.54 710.44 508.6 711.54 C511.65 712.63 514.93 716.12 517.76 716.77 C520.6 717.43 524.31 715.68 525.62 715.46" fill="none" stroke="#3a0c80" stroke-width="5" stroke-opacity="0.8"/>
</g>
<g filter="url(#b15)">
<path d="M470.62 673.56 C472.8 674.39 479.35 676.57 483.72 678.53 C488.08 680.5 492.45 683.2 496.81 685.34 C501.18 687.48 505 689.36 509.91 691.37 C514.82 693.38 523.55 696.39 526.28 697.39" fill="none" stroke="#b02478" stroke-width="15"/>
<ellipse cx="497.47" cy="699.75" rx="7.6" ry="8.2" fill="#6a18c0" stroke="#c02860" stroke-width="4.6"/>
<ellipse cx="516.19" cy="707.61" rx="7" ry="6.2" fill="#7a1cc0" stroke="#c02868" stroke-width="4.2"/>
</g>
<g filter="url(#b1)">
<ellipse cx="497.47" cy="699.75" rx="7.6" ry="8.2" fill="none" stroke="#ee5418" stroke-width="2.4"/>
<ellipse cx="516.19" cy="707.61" rx="7" ry="6.2" fill="none" stroke="#e03a30" stroke-width="2"/>
<path d="M470.62 673.56 C472.8 674.39 479.35 676.57 483.72 678.53 C488.08 680.5 492.45 683.2 496.81 685.34 C501.18 687.48 505 689.36 509.91 691.37 C514.82 693.38 523.55 696.39 526.28 697.39" fill="none" stroke="#f4700f" stroke-width="11.5"/>
<path d="M470.62 673.56 C472.8 674.39 479.35 676.57 483.72 678.53 C488.08 680.5 492.45 683.2 496.81 685.34 C501.18 687.48 505 689.36 509.91 691.37 C514.82 693.38 523.55 696.39 526.28 697.39" fill="none" stroke="#ffc428" stroke-width="6.6"/>
<path d="M485.02 675.52 C485.68 675.85 486.33 675.74 488.95 677.49 C491.57 679.23 497.03 683.92 500.74 686 C504.45 688.07 507.51 688.4 511.22 689.93 C514.93 691.45 521.04 694.29 523 695.17" fill="none" stroke="#fff4b0" stroke-width="2.4"/>
<path d="M479.79 678.8 C480.22 679.89 482.19 683.38 482.41 685.34 C482.62 687.31 481.31 689.71 481.1 690.58" fill="none" stroke="#f06a14" stroke-width="2.6"/>
<path d="M501.39 687.96 C501.29 688.84 500.41 691.78 500.74 693.2 C501.07 694.62 502.92 695.93 503.36 696.48" fill="none" stroke="#ff9a20" stroke-width="2.6"/>
</g></g>
<text x="473.8" y="627.6" font-size="7.8" style="fill:#eeeef6" font-family="'DejaVu Sans', sans-serif">3.</text>
<line x1="513.6" y1="719.8" x2="522.6" y2="719.8" stroke="#ddd" stroke-width="1.3"/>
<circle cx="486" cy="696.6" r="0.9" fill="#E8D820"/>
<line x1="489.4" y1="699.6" x2="504" y2="708.6" stroke="#E8D820" stroke-width="1.5" stroke-dasharray="2.8 2.8"/>
<circle cx="506.4" cy="710.4" r="0.8" fill="#E8D820"/>
</g>
<g id="p_k">
<text x="560.6" y="569.8" font-size="10.5">k</text>
<rect x="582.1" y="572.6" width="95.7" height="11.8" fill="#fff" stroke="#333" stroke-width="0.9"/>
<rect x="582.1" y="584.4" width="95.7" height="11.8" fill="#fff" stroke="#333" stroke-width="0.9"/>
<text x="634" y="582.9" font-size="10.4" text-anchor="middle">DBCO</text>
<text x="595.2" y="593.6" font-size="10.3">Glycocalyx<tspan dy="-3.4" font-size="6.2">median</tspan></text>
<path d="M586.5 621.13 L588.66 623.25 L590.83 625.59 L592.99 628.08 L595.15 630.52 L597.31 632.63 L599.48 634.13 L601.64 634.89 L603.8 635 L605.96 634.73 L608.12 634.46 L610.29 634.55 L612.45 635.18 L614.61 636.31 L616.77 637.67 L618.94 638.89 L621.1 639.67 L623.26 639.85 L625.42 639.52 L627.59 638.9 L629.75 638.33 L631.91 638.02 L634.08 637.96 L636.24 637.98 L638.4 637.74 L640.56 636.91 L642.73 635.32 L644.89 633.04 L647.05 630.37 L649.21 627.74 L651.38 625.55 L653.54 624.04 L655.7 623.21 L657.86 622.84 L660.02 622.59 L662.19 622.12 L664.35 621.22 L666.51 619.86 L668.67 618.15 L670.84 616.24 L673 614.19" fill="none" stroke="#555" stroke-width="0.55" stroke-opacity="0.55"/>
<path d="M586.5 612.76 L588.66 614.99 L590.83 616.6 L592.99 618.14 L595.15 619.87 L597.31 621.86 L599.48 624.03 L601.64 626.18 L603.8 628.06 L605.96 629.54 L608.12 630.58 L610.29 631.33 L612.45 631.96 L614.61 632.66 L616.77 633.46 L618.94 634.25 L621.1 634.81 L623.26 634.87 L625.42 634.3 L627.59 633.14 L629.75 631.64 L631.91 630.2 L634.08 629.23 L636.24 629.02 L638.4 629.64 L640.56 630.92 L642.73 632.42 L644.89 633.72 L647.05 634.51 L649.21 634.66 L651.38 634.21 L653.54 633.34 L655.7 632.23 L657.86 631.02 L660.02 629.68 L662.19 628.1 L664.35 626.12 L666.51 623.63 L668.67 620.66 L670.84 617.33 L673 613.77" fill="none" stroke="#555" stroke-width="0.55" stroke-opacity="0.55"/>
<path d="M586.5 615.41 L588.66 615.25 L590.83 615.56 L592.99 616.28 L595.15 617.49 L597.31 619.11 L599.48 620.9 L601.64 622.5 L603.8 623.63 L605.96 624.19 L608.12 624.28 L610.29 624.17 L612.45 624.18 L614.61 624.55 L616.77 625.29 L618.94 626.24 L621.1 627.09 L623.26 627.52 L625.42 627.39 L627.59 626.78 L629.75 625.98 L631.91 625.39 L634.08 625.34 L636.24 625.97 L638.4 627.14 L640.56 628.5 L642.73 629.56 L644.89 629.93 L647.05 629.43 L649.21 628.12 L651.38 626.31 L653.54 624.38 L655.7 622.68 L657.86 621.38 L660.02 620.43 L662.19 619.66 L664.35 618.86 L666.51 617.89 L668.67 616.78 L670.84 615.7 L673 615.19" fill="none" stroke="#555" stroke-width="0.55" stroke-opacity="0.55"/>
<path d="M586.5 621.98 L588.66 621.23 L590.83 621.16 L592.99 621.62 L595.15 622.67 L597.31 624.22 L599.48 626 L601.64 627.63 L603.8 628.76 L605.96 629.2 L608.12 628.95 L610.29 628.2 L612.45 627.26 L614.61 626.42 L616.77 625.83 L618.94 625.45 L621.1 625.1 L623.26 624.56 L625.42 623.7 L627.59 622.55 L629.75 621.31 L631.91 620.31 L634.08 619.85 L636.24 620.07 L638.4 620.88 L640.56 621.98 L642.73 622.95 L644.89 623.39 L647.05 623.06 L649.21 621.99 L651.38 620.4 L653.54 618.68 L655.7 617.19 L657.86 616.17 L660.02 615.67 L662.19 615.58 L664.35 615.69 L666.51 615.83 L668.67 615.92 L670.84 616.02 L673 616.57" fill="none" stroke="#555" stroke-width="0.55" stroke-opacity="0.55"/>
<path d="M586.5 617.07 L588.66 618.39 L590.83 619.53 L592.99 620.66 L595.15 621.91 L597.31 623.38 L599.48 625 L601.64 626.55 L603.8 627.69 L605.96 628.1 L608.12 627.6 L610.29 626.3 L612.45 624.5 L614.61 622.72 L616.77 621.43 L618.94 620.95 L621.1 621.33 L623.26 622.35 L625.42 623.65 L627.59 624.82 L629.75 625.62 L631.91 626.01 L634.08 626.18 L636.24 626.38 L638.4 626.81 L640.56 627.49 L642.73 628.27 L644.89 628.81 L647.05 628.77 L649.21 627.93 L651.38 626.3 L653.54 624.12 L655.7 621.81 L657.86 619.77 L660.02 618.28 L662.19 617.4 L664.35 616.93 L666.51 616.55 L668.67 615.93 L670.84 614.83 L673 612.95" fill="none" stroke="#555" stroke-width="0.55" stroke-opacity="0.55"/>
<path d="M586.5 612.85 L588.66 614.62 L590.83 616.65 L592.99 618.82 L595.15 621.09 L597.31 623.31 L599.48 625.28 L601.64 626.8 L603.8 627.76 L605.96 628.15 L608.12 628.12 L610.29 627.87 L612.45 627.66 L614.61 627.65 L616.77 627.9 L618.94 628.39 L621.1 629 L623.26 629.64 L625.42 630.25 L627.59 630.87 L629.75 631.6 L631.91 632.54 L634.08 633.69 L636.24 634.96 L638.4 636.16 L640.56 637.02 L642.73 637.29 L644.89 636.84 L647.05 635.67 L649.21 633.92 L651.38 631.86 L653.54 629.75 L655.7 627.81 L657.86 626.12 L660.02 624.68 L662.19 623.36 L664.35 622.06 L666.51 620.67 L668.67 619.16 L670.84 617.54 L673 615.81" fill="none" stroke="#555" stroke-width="0.55" stroke-opacity="0.55"/>
<path d="M586.5 612.5 L588.66 614 L590.83 615.99 L592.99 618.24 L595.15 620.75 L597.31 623.39 L599.48 626.01 L601.64 628.41 L603.8 630.45 L605.96 632.07 L608.12 633.29 L610.29 634.21 L612.45 634.89 L614.61 635.42 L616.77 635.78 L618.94 635.95 L621.1 635.88 L623.26 635.58 L625.42 635.13 L627.59 634.7 L629.75 634.46 L631.91 634.58 L634.08 635.12 L636.24 635.99 L638.4 637 L640.56 637.86 L642.73 638.33 L644.89 638.21 L647.05 637.44 L649.21 636.09 L651.38 634.31 L653.54 632.27 L655.7 630.14 L657.86 627.98 L660.02 625.84 L662.19 623.69 L664.35 621.52 L666.51 619.36 L668.67 617.26 L670.84 615.3 L673 613.8" fill="none" stroke="#555" stroke-width="0.55" stroke-opacity="0.55"/>
<path d="M586.5 620.22 L588.66 621.17 L590.83 622.18 L592.99 623.24 L595.15 624.32 L597.31 625.34 L599.48 626.16 L601.64 626.73 L603.8 627.04 L605.96 627.2 L608.12 627.39 L610.29 627.8 L612.45 628.59 L614.61 629.78 L616.77 631.27 L618.94 632.87 L621.1 634.35 L623.26 635.54 L625.42 636.37 L627.59 636.89 L629.75 637.24 L631.91 637.56 L634.08 637.93 L636.24 638.35 L638.4 638.69 L640.56 638.83 L642.73 638.62 L644.89 638.04 L647.05 637.06 L649.21 635.8 L651.38 634.47 L653.54 633.22 L655.7 632.13 L657.86 631.14 L660.02 630.1 L662.19 628.84 L664.35 627.23 L666.51 625.22 L668.67 622.85 L670.84 620.25 L673 617.54" fill="none" stroke="#555" stroke-width="0.55" stroke-opacity="0.55"/>
<path d="M586.5 608.14 L588.66 608.4 L590.83 608.63 L592.99 608.88 L595.15 609.37 L597.31 610.3 L599.48 611.68 L601.64 613.32 L603.8 614.88 L605.96 616.01 L608.12 616.51 L610.29 616.42 L612.45 616.02 L614.61 615.75 L616.77 616 L618.94 616.98 L621.1 618.63 L623.26 620.62 L625.42 622.48 L627.59 623.81 L629.75 624.39 L631.91 624.32 L634.08 623.91 L636.24 623.59 L638.4 623.7 L640.56 624.35 L642.73 625.38 L644.89 626.43 L647.05 627.09 L649.21 627.08 L651.38 626.25 L653.54 624.82 L655.7 623.16 L657.86 621.69 L660.02 620.66 L662.19 620.12 L664.35 619.89 L666.51 619.66 L668.67 619.17 L670.84 618.31 L673 617.24" fill="none" stroke="#555" stroke-width="0.55" stroke-opacity="0.55"/>
<path d="M586.5 615.06 L588.66 615.57 L590.83 616.44 L592.99 617.58 L595.15 619.02 L597.31 620.69 L599.48 622.38 L601.64 623.89 L603.8 625.1 L605.96 626 L608.12 626.75 L610.29 627.53 L612.45 628.51 L614.61 629.7 L616.77 630.96 L618.94 632.02 L621.1 632.58 L623.26 632.45 L625.42 631.61 L627.59 630.29 L629.75 628.83 L631.91 627.6 L634.08 626.85 L636.24 626.66 L638.4 626.85 L640.56 627.15 L642.73 627.21 L644.89 626.81 L647.05 625.91 L649.21 624.63 L651.38 623.2 L653.54 621.87 L655.7 620.77 L657.86 619.91 L660.02 619.14 L662.19 618.28 L664.35 617.19 L666.51 615.88 L668.67 614.46 L670.84 613.16 L673 612.56" fill="none" stroke="#555" stroke-width="0.55" stroke-opacity="0.55"/>
<path d="M586.5 619.12 L588.66 621.22 L590.83 622.96 L592.99 624.64 L595.15 626.23 L597.31 627.62 L599.48 628.68 L601.64 629.35 L603.8 629.78 L605.96 630.22 L608.12 631.01 L610.29 632.37 L612.45 634.35 L614.61 636.73 L616.77 639.09 L618.94 640.92 L621.1 641.83 L623.26 641.65 L625.42 640.51 L627.59 638.75 L629.75 636.84 L631.91 635.17 L634.08 633.94 L636.24 633.11 L638.4 632.46 L640.56 631.71 L642.73 630.69 L644.89 629.38 L647.05 627.95 L649.21 626.7 L651.38 625.87 L653.54 625.52 L655.7 625.55 L657.86 625.62 L660.02 625.37 L662.19 624.47 L664.35 622.81 L666.51 620.47 L668.67 617.74 L670.84 614.95 L673 612.39" fill="none" stroke="#555" stroke-width="0.55" stroke-opacity="0.55"/>
<path d="M586.5 615.82 L588.66 617.15 L590.83 618.25 L592.99 619.13 L595.15 619.96 L597.31 620.86 L599.48 621.87 L601.64 623 L603.8 624.15 L605.96 625.25 L608.12 626.21 L610.29 627 L612.45 627.63 L614.61 628.22 L616.77 628.83 L618.94 629.44 L621.1 629.95 L623.26 630.23 L625.42 630.15 L627.59 629.65 L629.75 628.75 L631.91 627.58 L634.08 626.33 L636.24 625.21 L638.4 624.35 L640.56 623.81 L642.73 623.54 L644.89 623.4 L647.05 623.25 L649.21 622.95 L651.38 622.45 L653.54 621.73 L655.7 620.88 L657.86 619.95 L660.02 619 L662.19 618.02 L664.35 617.01 L666.51 615.94 L668.67 614.83 L670.84 613.74 L673 613.01" fill="none" stroke="#555" stroke-width="0.55" stroke-opacity="0.55"/>
<path d="M586.5 605.04 L588.66 606.42 L590.83 607.61 L592.99 608.45 L595.15 608.95 L597.31 609.28 L599.48 609.7 L601.64 610.47 L603.8 611.73 L605.96 613.42 L608.12 615.32 L610.29 617.12 L612.45 618.55 L614.61 619.51 L616.77 620.08 L618.94 620.49 L621.1 621.04 L623.26 621.93 L625.42 623.17 L627.59 624.58 L629.75 625.82 L631.91 626.58 L634.08 626.63 L636.24 626.02 L638.4 624.98 L640.56 623.9 L642.73 623.17 L644.89 623.01 L647.05 623.39 L649.21 624.03 L651.38 624.6 L653.54 624.79 L655.7 624.4 L657.86 623.45 L660.02 622.1 L662.19 620.58 L664.35 619.09 L666.51 617.71 L668.67 616.36 L670.84 614.89 L673 613.15" fill="none" stroke="#555" stroke-width="0.55" stroke-opacity="0.55"/>
<path d="M586.5 612.99 L588.66 613.22 L590.83 613.35 L592.99 613.55 L595.15 613.89 L597.31 614.43 L599.48 615.1 L601.64 615.76 L603.8 616.25 L605.96 616.44 L608.12 616.26 L610.29 615.81 L612.45 615.22 L614.61 614.69 L616.77 614.36 L618.94 614.26 L621.1 614.35 L623.26 614.46 L625.42 614.46 L627.59 614.25 L629.75 613.84 L631.91 613.36 L634.08 612.98 L636.24 612.87 L638.4 613.09 L640.56 613.61 L642.73 614.26 L644.89 614.85 L647.05 615.19 L649.21 615.21 L651.38 614.94 L653.54 614.5 L655.7 614.09 L657.86 613.85 L660.02 613.84 L662.19 614.03 L664.35 614.31 L666.51 614.56 L668.67 614.69 L670.84 614.67 L673 614.52" fill="none" stroke="#555" stroke-width="0.55" stroke-opacity="0.55"/>
<path d="M586.5 617.27 L588.66 618.13 L590.83 619.46 L592.99 621 L595.15 622.62 L597.31 624.16 L599.48 625.58 L601.64 626.94 L603.8 628.37 L605.96 629.98 L608.12 631.77 L610.29 633.58 L612.45 635.11 L614.61 636.01 L616.77 636 L618.94 635.02 L621.1 633.23 L623.26 631.03 L625.42 628.91 L627.59 627.3 L629.75 626.46 L631.91 626.4 L634.08 626.9 L636.24 627.63 L638.4 628.3 L640.56 628.7 L642.73 628.81 L644.89 628.75 L647.05 628.71 L649.21 628.8 L651.38 628.98 L653.54 629.07 L655.7 628.81 L657.86 628.01 L660.02 626.56 L662.19 624.57 L664.35 622.3 L666.51 620.03 L668.67 618.02 L670.84 616.39 L673 615.31" fill="none" stroke="#555" stroke-width="0.55" stroke-opacity="0.55"/>
<path d="M586.5 617.9 L588.66 619.41 L590.83 620.37 L592.99 620.91 L595.15 621.19 L597.31 621.46 L599.48 621.96 L601.64 622.84 L603.8 624.05 L605.96 625.43 L608.12 626.71 L610.29 627.68 L612.45 628.27 L614.61 628.56 L616.77 628.79 L618.94 629.24 L621.1 630.1 L623.26 631.38 L625.42 632.91 L627.59 634.38 L629.75 635.47 L631.91 635.98 L634.08 635.89 L636.24 635.38 L638.4 634.78 L640.56 634.39 L642.73 634.4 L644.89 634.81 L647.05 635.39 L649.21 635.83 L651.38 635.84 L653.54 635.25 L655.7 634.07 L657.86 632.49 L660.02 630.75 L662.19 629.07 L664.35 627.55 L666.51 626.14 L668.67 624.72 L670.84 623.13 L673 621.18" fill="none" stroke="#555" stroke-width="0.55" stroke-opacity="0.55"/>
<path d="M586.5 615.82 L589.38 617.49 L592.27 619.04 L595.15 620.48 L598.03 621.81 L600.92 623.04 L603.8 624.15 L606.68 625.15 L609.57 626.04 L612.45 626.82 L615.33 627.49 L618.22 628.06 L621.1 628.51 L623.98 628.85 L626.87 629.08 L629.75 629.2 L632.63 629.21 L635.52 629.09 L638.4 628.85 L641.28 628.47 L644.17 627.97 L647.05 627.34 L649.93 626.57 L652.82 625.68 L655.7 624.66 L658.58 623.51 L661.47 622.23 L664.35 620.82 L667.23 619.29 L670.12 617.62 L673 615.82" fill="none" stroke="#3A6FE0" stroke-width="1.3"/>
<text x="593.6" y="606.7" font-size="10.3">Deviance: 26.9</text>
<line x1="581.4" y1="596.6" x2="581.4" y2="648.5" stroke="#444" stroke-width="1.2"/>
<line x1="579.2" y1="597.7" x2="581.4" y2="597.7" stroke="#444" stroke-width="0.9"/>
<text x="578.6" y="601.3" font-size="10.3" text-anchor="end">1.5</text>
<line x1="579.2" y1="617.4" x2="581.4" y2="617.4" stroke="#444" stroke-width="0.9"/>
<text x="578.6" y="621" font-size="10.3" text-anchor="end">1.0</text>
<line x1="579.2" y1="637.1" x2="581.4" y2="637.1" stroke="#444" stroke-width="0.9"/>
<text x="578.6" y="640.7" font-size="10.3" text-anchor="end">0.5</text>
<rect x="582.1" y="652.7" width="95.7" height="11.8" fill="#fff" stroke="#333" stroke-width="0.9"/>
<rect x="582.1" y="664.5" width="95.7" height="11.8" fill="#fff" stroke="#333" stroke-width="0.9"/>
<text x="634" y="663" font-size="10.4" text-anchor="middle">DBCO</text>
<text x="602.4" y="673.7" font-size="10.3">Glycocalyx<tspan dy="-3.4" font-size="6.2">high</tspan></text>
<path d="M586.5 686.52 L588.66 688.62 L590.83 690.8 L592.99 692.83 L595.15 694.61 L597.31 696.1 L599.48 697.41 L601.64 698.67 L603.8 699.99 L605.96 701.4 L608.12 702.79 L610.29 704 L612.45 704.86 L614.61 705.27 L616.77 705.29 L618.94 705.12 L621.1 705.02 L623.26 705.25 L625.42 705.94 L627.59 707.07 L629.75 708.43 L631.91 709.72 L634.08 710.65 L636.24 711.05 L638.4 710.92 L640.56 710.41 L642.73 709.76 L644.89 709.21 L647.05 708.86 L649.21 708.69 L651.38 708.58 L653.54 708.34 L655.7 707.83 L657.86 707.02 L660.02 706.01 L662.19 704.94 L664.35 703.96 L666.51 703.16 L668.67 702.48 L670.84 701.76 L673 700.73" fill="none" stroke="#555" stroke-width="0.55" stroke-opacity="0.55"/>
<path d="M586.5 695.06 L588.66 697.05 L590.83 698.92 L592.99 700.67 L595.15 702.23 L597.31 703.53 L599.48 704.58 L601.64 705.4 L603.8 706.03 L605.96 706.5 L608.12 706.8 L610.29 706.87 L612.45 706.71 L614.61 706.3 L616.77 705.74 L618.94 705.13 L621.1 704.66 L623.26 704.45 L625.42 704.59 L627.59 705.07 L629.75 705.79 L631.91 706.57 L634.08 707.23 L636.24 707.64 L638.4 707.72 L640.56 707.49 L642.73 707.03 L644.89 706.45 L647.05 705.82 L649.21 705.15 L651.38 704.43 L653.54 703.6 L655.7 702.63 L657.86 701.51 L660.02 700.27 L662.19 698.98 L664.35 697.68 L666.51 696.37 L668.67 694.98 L670.84 693.4 L673 691.23" fill="none" stroke="#555" stroke-width="0.55" stroke-opacity="0.55"/>
<path d="M586.5 694.73 L588.66 695.8 L590.83 696.75 L592.99 697.56 L595.15 698.36 L597.31 699.3 L599.48 700.44 L601.64 701.74 L603.8 703 L605.96 703.94 L608.12 704.33 L610.29 704.04 L612.45 703.18 L614.61 702.06 L616.77 701.05 L618.94 700.55 L621.1 700.74 L623.26 701.61 L625.42 702.92 L627.59 704.36 L629.75 705.58 L631.91 706.41 L634.08 706.85 L636.24 707.09 L638.4 707.34 L640.56 707.8 L642.73 708.48 L644.89 709.22 L647.05 709.76 L649.21 709.83 L651.38 709.27 L653.54 708.12 L655.7 706.6 L657.86 705.04 L660.02 703.74 L662.19 702.91 L664.35 702.55 L666.51 702.48 L668.67 702.45 L670.84 702.22 L673 701.58" fill="none" stroke="#555" stroke-width="0.55" stroke-opacity="0.55"/>
<path d="M586.5 696.65 L588.66 697.22 L590.83 697.73 L592.99 698.13 L595.15 698.38 L597.31 698.54 L599.48 698.71 L601.64 698.96 L603.8 699.29 L605.96 699.61 L608.12 699.77 L610.29 699.65 L612.45 699.17 L614.61 698.41 L616.77 697.53 L618.94 696.77 L621.1 696.36 L623.26 696.39 L625.42 696.84 L627.59 697.53 L629.75 698.22 L631.91 698.68 L634.08 698.77 L636.24 698.5 L638.4 698 L640.56 697.45 L642.73 697.02 L644.89 696.81 L647.05 696.77 L649.21 696.79 L651.38 696.73 L653.54 696.47 L655.7 696.01 L657.86 695.43 L660.02 694.89 L662.19 694.53 L664.35 694.41 L666.51 694.48 L668.67 694.62 L670.84 694.63 L673 694.24" fill="none" stroke="#555" stroke-width="0.55" stroke-opacity="0.55"/>
<path d="M586.5 694.77 L588.66 695.75 L590.83 696.88 L592.99 697.92 L595.15 698.84 L597.31 699.68 L599.48 700.55 L601.64 701.56 L603.8 702.76 L605.96 704.09 L608.12 705.39 L610.29 706.46 L612.45 707.13 L614.61 707.37 L616.77 707.27 L618.94 707.06 L621.1 707.02 L623.26 707.38 L625.42 708.23 L627.59 709.53 L629.75 711.07 L631.91 712.58 L634.08 713.84 L636.24 714.72 L638.4 715.23 L640.56 715.46 L642.73 715.54 L644.89 715.59 L647.05 715.61 L649.21 715.49 L651.38 715.05 L653.54 714.17 L655.7 712.77 L657.86 710.92 L660.02 708.81 L662.19 706.66 L664.35 704.66 L666.51 702.91 L668.67 701.38 L670.84 699.95 L673 698.54" fill="none" stroke="#555" stroke-width="0.55" stroke-opacity="0.55"/>
<path d="M586.5 696.81 L588.66 697.24 L590.83 697.88 L592.99 698.57 L595.15 699.44 L597.31 700.66 L599.48 702.3 L601.64 704.3 L603.8 706.5 L605.96 708.65 L608.12 710.53 L610.29 711.94 L612.45 712.82 L614.61 713.24 L616.77 713.3 L618.94 713.15 L621.1 712.87 L623.26 712.47 L625.42 711.93 L627.59 711.22 L629.75 710.3 L631.91 709.25 L634.08 708.2 L636.24 707.34 L638.4 706.82 L640.56 706.72 L642.73 706.96 L644.89 707.35 L647.05 707.63 L649.21 707.53 L651.38 706.9 L653.54 705.71 L655.7 704.05 L657.86 702.12 L660.02 700.12 L662.19 698.23 L664.35 696.54 L666.51 695.06 L668.67 693.78 L670.84 692.73 L673 692.34" fill="none" stroke="#555" stroke-width="0.55" stroke-opacity="0.55"/>
<path d="M586.5 705.24 L588.66 704.31 L590.83 703.54 L592.99 703.03 L595.15 702.88 L597.31 703.05 L599.48 703.31 L601.64 703.43 L603.8 703.24 L605.96 702.74 L608.12 702.1 L610.29 701.64 L612.45 701.6 L614.61 702.13 L616.77 703.13 L618.94 704.29 L621.1 705.22 L623.26 705.58 L625.42 705.22 L627.59 704.25 L629.75 703 L631.91 701.88 L634.08 701.27 L636.24 701.29 L638.4 701.86 L640.56 702.64 L642.73 703.27 L644.89 703.44 L647.05 703.03 L649.21 702.18 L651.38 701.16 L653.54 700.3 L655.7 699.81 L657.86 699.73 L660.02 699.92 L662.19 700.12 L664.35 700.11 L666.51 699.79 L668.67 699.24 L670.84 698.71 L673 698.66" fill="none" stroke="#555" stroke-width="0.55" stroke-opacity="0.55"/>
<path d="M586.5 700.42 L588.66 703.54 L590.83 705.91 L592.99 707.83 L595.15 709.52 L597.31 711.25 L599.48 713.19 L601.64 715.42 L603.8 717.85 L605.96 720.27 L608.12 722.41 L610.29 724.05 L612.45 725.08 L614.61 725.51 L616.77 725.55 L618.94 725.4 L621.1 725.1 L623.26 724.66 L625.42 723.97 L627.59 722.92 L629.75 721.44 L631.91 719.59 L634.08 717.58 L636.24 715.72 L638.4 714.31 L640.56 713.59 L642.73 713.59 L644.89 714.2 L647.05 715.11 L649.21 715.99 L651.38 716.55 L653.54 716.61 L655.7 716.16 L657.86 715.31 L660.02 714.21 L662.19 713.02 L664.35 711.81 L666.51 710.58 L668.67 709.3 L670.84 707.98 L673 706.72" fill="none" stroke="#555" stroke-width="0.55" stroke-opacity="0.55"/>
<path d="M586.5 695.32 L588.66 696.01 L590.83 696.48 L592.99 696.88 L595.15 697.26 L597.31 697.6 L599.48 697.89 L601.64 698.15 L603.8 698.46 L605.96 698.91 L608.12 699.6 L610.29 700.56 L612.45 701.75 L614.61 703 L616.77 704.12 L618.94 704.89 L621.1 705.17 L623.26 704.96 L625.42 704.35 L627.59 703.55 L629.75 702.77 L631.91 702.19 L634.08 701.89 L636.24 701.84 L638.4 701.92 L640.56 702.04 L642.73 702.11 L644.89 702.11 L647.05 702.09 L649.21 702.11 L651.38 702.22 L653.54 702.38 L655.7 702.5 L657.86 702.43 L660.02 702.04 L662.19 701.24 L664.35 700.06 L666.51 698.6 L668.67 697.04 L670.84 695.56 L673 694.31" fill="none" stroke="#555" stroke-width="0.55" stroke-opacity="0.55"/>
<path d="M586.5 703.56 L588.66 704.62 L590.83 706.09 L592.99 707.68 L595.15 709.04 L597.31 709.87 L599.48 710.02 L601.64 709.57 L603.8 708.8 L605.96 708.03 L608.12 707.54 L610.29 707.41 L612.45 707.54 L614.61 707.7 L616.77 707.63 L618.94 707.26 L621.1 706.68 L623.26 706.22 L625.42 706.25 L627.59 707.1 L629.75 708.83 L631.91 711.23 L634.08 713.85 L636.24 716.12 L638.4 717.59 L640.56 718 L642.73 717.46 L644.89 716.26 L647.05 714.78 L649.21 713.43 L651.38 712.42 L653.54 711.71 L655.7 711.11 L657.86 710.34 L660.02 709.2 L662.19 707.66 L664.35 705.82 L666.51 703.89 L668.67 702.01 L670.84 700.18 L673 698.07" fill="none" stroke="#555" stroke-width="0.55" stroke-opacity="0.55"/>
<path d="M586.5 697.63 L588.66 698.39 L590.83 699.72 L592.99 701.36 L595.15 703.11 L597.31 704.76 L599.48 706.12 L601.64 707.15 L603.8 707.89 L605.96 708.47 L608.12 709.02 L610.29 709.54 L612.45 709.93 L614.61 710 L616.77 709.54 L618.94 708.46 L621.1 706.85 L623.26 704.98 L625.42 703.26 L627.59 702.06 L629.75 701.64 L631.91 702.04 L634.08 703.09 L636.24 704.42 L638.4 705.66 L640.56 706.5 L642.73 706.81 L644.89 706.65 L647.05 706.23 L649.21 705.75 L651.38 705.37 L653.54 705.11 L655.7 704.85 L657.86 704.47 L660.02 703.83 L662.19 702.96 L664.35 701.95 L666.51 701 L668.67 700.3 L670.84 699.95 L673 700.06" fill="none" stroke="#555" stroke-width="0.55" stroke-opacity="0.55"/>
<path d="M586.5 703.64 L588.66 705.41 L590.83 707.17 L592.99 708.84 L595.15 710.37 L597.31 711.73 L599.48 712.9 L601.64 713.82 L603.8 714.46 L605.96 714.81 L608.12 714.89 L610.29 714.84 L612.45 714.83 L614.61 715.04 L616.77 715.65 L618.94 716.74 L621.1 718.26 L623.26 720.06 L625.42 721.91 L627.59 723.56 L629.75 724.82 L631.91 725.57 L634.08 725.81 L636.24 725.6 L638.4 725.03 L640.56 724.21 L642.73 723.18 L644.89 721.87 L647.05 720.29 L649.21 718.49 L651.38 716.54 L653.54 714.57 L655.7 712.71 L657.86 711.06 L660.02 709.63 L662.19 708.37 L664.35 707.11 L666.51 705.65 L668.67 703.83 L670.84 701.48 L673 698.43" fill="none" stroke="#555" stroke-width="0.55" stroke-opacity="0.55"/>
<path d="M586.5 700.93 L588.66 702.21 L590.83 703.31 L592.99 704.2 L595.15 704.95 L597.31 705.74 L599.48 706.7 L601.64 707.89 L603.8 709.17 L605.96 710.3 L608.12 710.99 L610.29 711.07 L612.45 710.56 L614.61 709.69 L616.77 708.87 L618.94 708.5 L621.1 708.82 L623.26 709.88 L625.42 711.41 L627.59 713.03 L629.75 714.31 L631.91 714.97 L634.08 714.95 L636.24 714.44 L638.4 713.78 L640.56 713.28 L642.73 713.12 L644.89 713.3 L647.05 713.53 L649.21 713.46 L651.38 712.86 L653.54 711.65 L655.7 709.96 L657.86 708.07 L660.02 706.29 L662.19 704.83 L664.35 703.7 L666.51 702.75 L668.67 701.67 L670.84 700.19 L673 697.98" fill="none" stroke="#555" stroke-width="0.55" stroke-opacity="0.55"/>
<path d="M586.5 690.45 L588.66 691.39 L590.83 692.89 L592.99 694.48 L595.15 695.91 L597.31 697 L599.48 697.71 L601.64 698.15 L603.8 698.48 L605.96 698.86 L608.12 699.35 L610.29 699.91 L612.45 700.42 L614.61 700.76 L616.77 700.84 L618.94 700.75 L621.1 700.68 L623.26 700.9 L625.42 701.63 L627.59 702.95 L629.75 704.76 L631.91 706.77 L634.08 708.59 L636.24 709.89 L638.4 710.43 L640.56 710.21 L642.73 709.41 L644.89 708.32 L647.05 707.22 L649.21 706.2 L651.38 705.26 L653.54 704.32 L655.7 703.26 L657.86 701.95 L660.02 700.37 L662.19 698.59 L664.35 696.72 L666.51 694.89 L668.67 693.09 L670.84 691.23 L673 689.15" fill="none" stroke="#555" stroke-width="0.55" stroke-opacity="0.55"/>
<path d="M586.5 697.94 L588.66 697.87 L590.83 697.81 L592.99 697.83 L595.15 698.05 L597.31 698.47 L599.48 699.02 L601.64 699.6 L603.8 700.18 L605.96 700.83 L608.12 701.67 L610.29 702.87 L612.45 704.51 L614.61 706.54 L616.77 708.72 L618.94 710.69 L621.1 712.1 L623.26 712.65 L625.42 712.29 L627.59 711.14 L629.75 709.55 L631.91 707.88 L634.08 706.47 L636.24 705.49 L638.4 704.94 L640.56 704.65 L642.73 704.44 L644.89 704.15 L647.05 703.74 L649.21 703.3 L651.38 702.97 L653.54 702.87 L655.7 703.05 L657.86 703.39 L660.02 703.71 L662.19 703.78 L664.35 703.49 L666.51 702.81 L668.67 701.92 L670.84 701.09 L673 700.93" fill="none" stroke="#555" stroke-width="0.55" stroke-opacity="0.55"/>
<path d="M586.5 694.83 L588.66 694.85 L590.83 695.81 L592.99 697.16 L595.15 698.66 L597.31 700.1 L599.48 701.35 L601.64 702.36 L603.8 703.21 L605.96 704.02 L608.12 704.92 L610.29 705.93 L612.45 707.01 L614.61 707.98 L616.77 708.68 L618.94 709.01 L621.1 708.99 L623.26 708.75 L625.42 708.54 L627.59 708.58 L629.75 709.01 L631.91 709.81 L634.08 710.78 L636.24 711.66 L638.4 712.15 L640.56 712.08 L642.73 711.42 L644.89 710.31 L647.05 708.99 L649.21 707.69 L651.38 706.59 L653.54 705.74 L655.7 705.08 L657.86 704.49 L660.02 703.88 L662.19 703.21 L664.35 702.54 L666.51 701.99 L668.67 701.68 L670.84 701.68 L673 702.31" fill="none" stroke="#555" stroke-width="0.55" stroke-opacity="0.55"/>
<path d="M586.5 702.91 L588.66 702.09 L590.83 701.83 L592.99 702.03 L595.15 702.69 L597.31 703.62 L599.48 704.54 L601.64 705.13 L603.8 705.2 L605.96 704.8 L608.12 704.12 L610.29 703.49 L612.45 703.21 L614.61 703.37 L616.77 703.88 L618.94 704.45 L621.1 704.75 L623.26 704.53 L625.42 703.75 L627.59 702.63 L629.75 701.53 L631.91 700.85 L634.08 700.83 L636.24 701.49 L638.4 702.54 L640.56 703.56 L642.73 704.11 L644.89 703.91 L647.05 702.91 L649.21 701.35 L651.38 699.6 L653.54 698.02 L655.7 696.86 L657.86 696.15 L660.02 695.74 L662.19 695.37 L664.35 694.83 L666.51 694.07 L668.67 693.16 L670.84 692.33 L673 692.06" fill="none" stroke="#555" stroke-width="0.55" stroke-opacity="0.55"/>
<path d="M586.5 698.02 L588.66 699.05 L590.83 700.21 L592.99 701.45 L595.15 702.75 L597.31 704.09 L599.48 705.37 L601.64 706.44 L603.8 707.13 L605.96 707.31 L608.12 706.94 L610.29 706.11 L612.45 705.04 L614.61 704.02 L616.77 703.3 L618.94 703.08 L621.1 703.37 L623.26 704.07 L625.42 704.98 L627.59 705.9 L629.75 706.65 L631.91 707.19 L634.08 707.54 L636.24 707.77 L638.4 707.92 L640.56 707.98 L642.73 707.88 L644.89 707.5 L647.05 706.74 L649.21 705.57 L651.38 704.07 L653.54 702.42 L655.7 700.86 L657.86 699.6 L660.02 698.75 L662.19 698.3 L664.35 698.12 L666.51 697.99 L668.67 697.71 L670.84 697.1 L673 695.96" fill="none" stroke="#555" stroke-width="0.55" stroke-opacity="0.55"/>
<path d="M586.5 689.81 L588.66 690.87 L590.83 692.67 L592.99 694.88 L595.15 697.4 L597.31 699.98 L599.48 702.37 L601.64 704.33 L603.8 705.81 L605.96 706.94 L608.12 707.98 L610.29 709.22 L612.45 710.82 L614.61 712.76 L616.77 714.85 L618.94 716.77 L621.1 718.21 L623.26 719.02 L625.42 719.28 L627.59 719.24 L629.75 719.25 L631.91 719.6 L634.08 720.4 L636.24 721.52 L638.4 722.65 L640.56 723.35 L642.73 723.27 L644.89 722.29 L647.05 720.55 L649.21 718.36 L651.38 716.09 L653.54 714.04 L655.7 712.32 L657.86 710.86 L660.02 709.43 L662.19 707.8 L664.35 705.83 L666.51 703.51 L668.67 701 L670.84 698.52 L673 696.59" fill="none" stroke="#555" stroke-width="0.55" stroke-opacity="0.55"/>
<path d="M586.5 701.11 L588.66 702.87 L590.83 704.04 L592.99 704.95 L595.15 705.53 L597.31 705.71 L599.48 705.43 L601.64 704.72 L603.8 703.69 L605.96 702.57 L608.12 701.62 L610.29 701.08 L612.45 701.1 L614.61 701.7 L616.77 702.76 L618.94 704.1 L621.1 705.48 L623.26 706.74 L625.42 707.8 L627.59 708.64 L629.75 709.31 L631.91 709.85 L634.08 710.25 L636.24 710.46 L638.4 710.38 L640.56 709.89 L642.73 708.99 L644.89 707.76 L647.05 706.37 L649.21 705.03 L651.38 703.94 L653.54 703.2 L655.7 702.76 L657.86 702.51 L660.02 702.21 L662.19 701.65 L664.35 700.69 L666.51 699.24 L668.67 697.33 L670.84 695.01 L673 691.94" fill="none" stroke="#555" stroke-width="0.55" stroke-opacity="0.55"/>
<path d="M586.5 690.01 L588.66 692.58 L590.83 694.75 L592.99 696.49 L595.15 697.73 L597.31 698.54 L599.48 699.16 L601.64 699.87 L603.8 700.87 L605.96 702.23 L608.12 703.85 L610.29 705.53 L612.45 707.06 L614.61 708.32 L616.77 709.33 L618.94 710.24 L621.1 711.24 L623.26 712.47 L625.42 713.92 L627.59 715.38 L629.75 716.55 L631.91 717.07 L634.08 716.75 L636.24 715.59 L638.4 713.8 L640.56 711.81 L642.73 710.05 L644.89 708.87 L647.05 708.33 L649.21 708.25 L651.38 708.41 L653.54 708.51 L655.7 708.31 L657.86 707.71 L660.02 706.73 L662.19 705.48 L664.35 704.06 L666.51 702.47 L668.67 700.61 L670.84 698.31 L673 695.21" fill="none" stroke="#555" stroke-width="0.55" stroke-opacity="0.55"/>
<path d="M586.5 699.16 L588.66 700.14 L590.83 701.41 L592.99 702.73 L595.15 703.97 L597.31 705.03 L599.48 705.94 L601.64 706.81 L603.8 707.76 L605.96 708.88 L608.12 710.13 L610.29 711.32 L612.45 712.21 L614.61 712.56 L616.77 712.25 L618.94 711.35 L621.1 710.13 L623.26 708.96 L625.42 708.22 L627.59 708.13 L629.75 708.74 L631.91 709.86 L634.08 711.19 L636.24 712.42 L638.4 713.31 L640.56 713.76 L642.73 713.86 L644.89 713.78 L647.05 713.69 L649.21 713.63 L651.38 713.53 L653.54 713.19 L655.7 712.43 L657.86 711.13 L660.02 709.31 L662.19 707.15 L664.35 704.89 L666.51 702.77 L668.67 700.94 L670.84 699.37 L673 698.02" fill="none" stroke="#555" stroke-width="0.55" stroke-opacity="0.55"/>
<path d="M586.5 692.99 L588.66 694.35 L590.83 695.3 L592.99 696.11 L595.15 696.64 L597.31 696.78 L599.48 696.53 L601.64 696.05 L603.8 695.7 L605.96 695.83 L608.12 696.69 L610.29 698.29 L612.45 700.35 L614.61 702.39 L616.77 703.88 L618.94 704.44 L621.1 703.97 L623.26 702.68 L625.42 701.03 L627.59 699.52 L629.75 698.55 L631.91 698.24 L634.08 698.48 L636.24 698.94 L638.4 699.32 L640.56 699.43 L642.73 699.32 L644.89 699.25 L647.05 699.51 L649.21 700.35 L651.38 701.82 L653.54 703.7 L655.7 705.58 L657.86 706.98 L660.02 707.55 L662.19 707.17 L664.35 705.98 L666.51 704.31 L668.67 702.55 L670.84 700.96 L673 699.52" fill="none" stroke="#555" stroke-width="0.55" stroke-opacity="0.55"/>
<path d="M586.5 693.01 L588.66 694.73 L590.83 696.47 L592.99 698.08 L595.15 699.55 L597.31 700.94 L599.48 702.27 L601.64 703.52 L603.8 704.62 L605.96 705.44 L608.12 705.86 L610.29 705.83 L612.45 705.4 L614.61 704.75 L616.77 704.09 L618.94 703.67 L621.1 703.71 L623.26 704.27 L625.42 705.22 L627.59 706.38 L629.75 707.5 L631.91 708.41 L634.08 709.03 L636.24 709.35 L638.4 709.46 L640.56 709.42 L642.73 709.28 L644.89 708.99 L647.05 708.47 L649.21 707.61 L651.38 706.35 L653.54 704.74 L655.7 702.9 L657.86 701.01 L660.02 699.28 L662.19 697.82 L664.35 696.67 L666.51 695.74 L668.67 694.89 L670.84 693.97 L673 692.85" fill="none" stroke="#555" stroke-width="0.55" stroke-opacity="0.55"/>
<path d="M586.5 695.92 L589.38 697.5 L592.27 698.97 L595.15 700.35 L598.03 701.63 L600.92 702.81 L603.8 703.9 L606.68 704.88 L609.57 705.76 L612.45 706.55 L615.33 707.24 L618.22 707.83 L621.1 708.32 L623.98 708.72 L626.87 709.01 L629.75 709.21 L632.63 709.31 L635.52 709.3 L638.4 709.15 L641.28 708.86 L644.17 708.42 L647.05 707.83 L649.93 707.1 L652.82 706.21 L655.7 705.19 L658.58 704.01 L661.47 702.69 L664.35 701.22 L667.23 699.6 L670.12 697.84 L673 695.92" fill="none" stroke="#3A6FE0" stroke-width="1.3"/>
<text x="595.2" y="687.7" font-size="10.3">Deviance: 38.2</text>
<line x1="581.4" y1="676.7" x2="581.4" y2="728.6" stroke="#444" stroke-width="1.2"/>
<line x1="579.2" y1="677.8" x2="581.4" y2="677.8" stroke="#444" stroke-width="0.9"/>
<text x="578.6" y="681.4" font-size="10.3" text-anchor="end">1.5</text>
<line x1="579.2" y1="697.5" x2="581.4" y2="697.5" stroke="#444" stroke-width="0.9"/>
<text x="578.6" y="701.1" font-size="10.3" text-anchor="end">1.0</text>
<line x1="579.2" y1="717.2" x2="581.4" y2="717.2" stroke="#444" stroke-width="0.9"/>
<text x="578.6" y="720.8" font-size="10.3" text-anchor="end">0.5</text>
<rect x="582.1" y="733.8" width="95.7" height="11.8" fill="#fff" stroke="#333" stroke-width="0.9"/>
<rect x="582.1" y="745.6" width="95.7" height="11.8" fill="#fff" stroke="#333" stroke-width="0.9"/>
<text x="634" y="744.1" font-size="10.4" text-anchor="middle">THS</text>
<text x="606.2" y="754.8" font-size="10.3">Glycocalyx<tspan dy="-3.4" font-size="6.2">high</tspan></text>
<path d="M586.5 777.81 L588.66 779.61 L590.83 781.15 L592.99 782.46 L595.15 783.49 L597.31 784.25 L599.48 784.78 L601.64 785.14 L603.8 785.36 L605.96 785.44 L608.12 785.36 L610.29 785.08 L612.45 784.64 L614.61 784.12 L616.77 783.66 L618.94 783.43 L621.1 783.57 L623.26 784.11 L625.42 785.02 L627.59 786.15 L629.75 787.27 L631.91 788.17 L634.08 788.71 L636.24 788.83 L638.4 788.59 L640.56 788.1 L642.73 787.52 L644.89 786.92 L647.05 786.36 L649.21 785.81 L651.38 785.23 L653.54 784.58 L655.7 783.88 L657.86 783.17 L660.02 782.52 L662.19 782 L664.35 781.59 L666.51 781.23 L668.67 780.79 L670.84 780.11 L673 778.75" fill="none" stroke="#555" stroke-width="0.55" stroke-opacity="0.55"/>
<path d="M586.5 779.43 L588.66 781.62 L590.83 783.63 L592.99 785.65 L595.15 787.62 L597.31 789.47 L599.48 791.07 L601.64 792.25 L603.8 792.91 L605.96 792.99 L608.12 792.58 L610.29 791.83 L612.45 790.97 L614.61 790.25 L616.77 789.84 L618.94 789.83 L621.1 790.22 L623.26 790.92 L625.42 791.82 L627.59 792.81 L629.75 793.85 L631.91 794.92 L634.08 796.02 L636.24 797.14 L638.4 798.22 L640.56 799.14 L642.73 799.78 L644.89 799.99 L647.05 799.65 L649.21 798.8 L651.38 797.6 L653.54 796.23 L655.7 794.87 L657.86 793.65 L660.02 792.59 L662.19 791.61 L664.35 790.57 L666.51 789.3 L668.67 787.64 L670.84 785.47 L673 782.38" fill="none" stroke="#555" stroke-width="0.55" stroke-opacity="0.55"/>
<path d="M586.5 773.84 L588.66 775.63 L590.83 776.9 L592.99 777.79 L595.15 778.33 L597.31 778.66 L599.48 778.96 L601.64 779.39 L603.8 780 L605.96 780.71 L608.12 781.33 L610.29 781.69 L612.45 781.69 L614.61 781.36 L616.77 780.92 L618.94 780.63 L621.1 780.75 L623.26 781.41 L625.42 782.55 L627.59 783.94 L629.75 785.27 L631.91 786.23 L634.08 786.67 L636.24 786.63 L638.4 786.32 L640.56 786.01 L642.73 785.95 L644.89 786.26 L647.05 786.84 L649.21 787.42 L651.38 787.76 L653.54 787.66 L655.7 787.07 L657.86 786.06 L660.02 784.82 L662.19 783.51 L664.35 782.25 L666.51 781.01 L668.67 779.64 L670.84 777.93 L673 775.4" fill="none" stroke="#555" stroke-width="0.55" stroke-opacity="0.55"/>
<path d="M586.5 775.99 L588.66 778.33 L590.83 780.45 L592.99 782.36 L595.15 784.1 L597.31 785.76 L599.48 787.47 L601.64 789.32 L603.8 791.34 L605.96 793.47 L608.12 795.58 L610.29 797.47 L612.45 798.98 L614.61 800.03 L616.77 800.62 L618.94 800.87 L621.1 800.94 L623.26 800.99 L625.42 801.12 L627.59 801.32 L629.75 801.54 L631.91 801.68 L634.08 801.68 L636.24 801.52 L638.4 801.22 L640.56 800.87 L642.73 800.56 L644.89 800.33 L647.05 800.12 L649.21 799.79 L651.38 799.15 L653.54 798.05 L655.7 796.39 L657.86 794.17 L660.02 791.5 L662.19 788.54 L664.35 785.43 L666.51 782.28 L668.67 779.11 L670.84 775.9 L673 772.64" fill="none" stroke="#555" stroke-width="0.55" stroke-opacity="0.55"/>
<path d="M586.5 772.55 L588.66 776.48 L590.83 779.6 L592.99 782.21 L595.15 784.23 L597.31 785.71 L599.48 786.76 L601.64 787.61 L603.8 788.45 L605.96 789.41 L608.12 790.52 L610.29 791.72 L612.45 792.88 L614.61 793.91 L616.77 794.76 L618.94 795.49 L621.1 796.2 L623.26 796.99 L625.42 797.91 L627.59 798.89 L629.75 799.77 L631.91 800.33 L634.08 800.39 L636.24 799.87 L638.4 798.85 L640.56 797.53 L642.73 796.2 L644.89 795.12 L647.05 794.43 L649.21 794.16 L651.38 794.18 L653.54 794.28 L655.7 794.26 L657.86 793.97 L660.02 793.33 L662.19 792.37 L664.35 791.12 L666.51 789.61 L668.67 787.8 L670.84 785.59 L673 782.4" fill="none" stroke="#555" stroke-width="0.55" stroke-opacity="0.55"/>
<path d="M586.5 778.04 L588.66 779.68 L590.83 781.54 L592.99 783.38 L595.15 785.08 L597.31 786.59 L599.48 787.9 L601.64 789.05 L603.8 790.06 L605.96 790.93 L608.12 791.65 L610.29 792.18 L612.45 792.52 L614.61 792.71 L616.77 792.87 L618.94 793.14 L621.1 793.71 L623.26 794.68 L625.42 796.08 L627.59 797.82 L629.75 799.7 L631.91 801.5 L634.08 803.01 L636.24 804.07 L638.4 804.66 L640.56 804.83 L642.73 804.7 L644.89 804.38 L647.05 803.96 L649.21 803.33 L651.38 802.41 L653.54 801.2 L655.7 799.69 L657.86 797.94 L660.02 796.02 L662.19 794.02 L664.35 791.97 L666.51 789.86 L668.67 787.59 L670.84 785.01 L673 781.88" fill="none" stroke="#555" stroke-width="0.55" stroke-opacity="0.55"/>
<path d="M586.5 779.36 L588.66 782.29 L590.83 785.4 L592.99 788.38 L595.15 791.19 L597.31 793.84 L599.48 796.45 L601.64 799.18 L603.8 802.12 L605.96 805.25 L608.12 807.36 L610.29 807.36 L612.45 807.36 L614.61 807.36 L616.77 807.36 L618.94 807.36 L621.1 807.36 L623.26 807.36 L625.42 807.36 L627.59 807.36 L629.75 807.36 L631.91 807.36 L634.08 807.36 L636.24 807.36 L638.4 807.36 L640.56 807.36 L642.73 807.36 L644.89 807.36 L647.05 807.36 L649.21 807.36 L651.38 807.36 L653.54 807.36 L655.7 807.36 L657.86 807.36 L660.02 807.36 L662.19 805.97 L664.35 800.87 L666.51 795.71 L668.67 790.56 L670.84 785.39 L673 780.22" fill="none" stroke="#555" stroke-width="0.55" stroke-opacity="0.55"/>
<path d="M586.5 781.84 L588.66 784.07 L590.83 786.01 L592.99 787.74 L595.15 789.17 L597.31 790.31 L599.48 791.21 L601.64 792 L603.8 792.76 L605.96 793.55 L608.12 794.29 L610.29 794.88 L612.45 795.18 L614.61 795.11 L616.77 794.73 L618.94 794.17 L621.1 793.65 L623.26 793.37 L625.42 793.46 L627.59 793.92 L629.75 794.62 L631.91 795.34 L634.08 795.89 L636.24 796.13 L638.4 796.05 L640.56 795.78 L642.73 795.43 L644.89 795.11 L647.05 794.92 L649.21 794.81 L651.38 794.68 L653.54 794.36 L655.7 793.72 L657.86 792.71 L660.02 791.37 L662.19 789.79 L664.35 788.09 L666.51 786.33 L668.67 784.45 L670.84 782.33 L673 779.53" fill="none" stroke="#555" stroke-width="0.55" stroke-opacity="0.55"/>
<path d="M586.5 778.35 L588.66 779.36 L590.83 780.61 L592.99 782.12 L595.15 784.07 L597.31 786.48 L599.48 789.17 L601.64 791.84 L603.8 794.14 L605.96 795.83 L608.12 796.82 L610.29 797.25 L612.45 797.37 L614.61 797.45 L616.77 797.63 L618.94 797.91 L621.1 798.13 L623.26 798.06 L625.42 797.52 L627.59 796.53 L629.75 795.3 L631.91 794.16 L634.08 793.48 L636.24 793.49 L638.4 794.17 L640.56 795.3 L642.73 796.46 L644.89 797.18 L647.05 797.15 L649.21 796.24 L651.38 794.58 L653.54 792.47 L655.7 790.25 L657.86 788.2 L660.02 786.43 L662.19 784.88 L664.35 783.42 L666.51 781.91 L668.67 780.31 L670.84 778.72 L673 777.58" fill="none" stroke="#555" stroke-width="0.55" stroke-opacity="0.55"/>
<path d="M586.5 771.64 L588.66 773.12 L590.83 773.84 L592.99 774.29 L595.15 774.82 L597.31 775.7 L599.48 777.04 L601.64 778.69 L603.8 780.37 L605.96 781.73 L608.12 782.55 L610.29 782.8 L612.45 782.72 L614.61 782.66 L616.77 782.98 L618.94 783.87 L621.1 785.25 L623.26 786.85 L625.42 788.23 L627.59 789.06 L629.75 789.19 L631.91 788.78 L634.08 788.2 L636.24 787.93 L638.4 788.33 L640.56 789.53 L642.73 791.36 L644.89 793.41 L647.05 795.08 L649.21 796 L651.38 795.99 L653.54 795.19 L655.7 793.89 L657.86 792.46 L660.02 791.13 L662.19 789.97 L664.35 788.86 L666.51 787.55 L668.67 785.86 L670.84 783.71 L673 781.07" fill="none" stroke="#555" stroke-width="0.55" stroke-opacity="0.55"/>
<path d="M586.5 777.15 L588.66 778.96 L590.83 780.79 L592.99 782.4 L595.15 783.55 L597.31 784.13 L599.48 784.23 L601.64 784.06 L603.8 783.92 L605.96 784.05 L608.12 784.56 L610.29 785.4 L612.45 786.39 L614.61 787.34 L616.77 788.13 L618.94 788.8 L621.1 789.49 L623.26 790.45 L625.42 791.85 L627.59 793.69 L629.75 795.79 L631.91 797.81 L634.08 799.34 L636.24 800.07 L638.4 799.89 L640.56 798.92 L642.73 797.48 L644.89 796 L647.05 794.77 L649.21 793.87 L651.38 793.28 L653.54 792.83 L655.7 792.25 L657.86 791.36 L660.02 790.05 L662.19 788.36 L664.35 786.42 L666.51 784.33 L668.67 782.12 L670.84 779.68 L673 776.63" fill="none" stroke="#555" stroke-width="0.55" stroke-opacity="0.55"/>
<path d="M586.5 768.48 L588.66 772.57 L590.83 776.46 L592.99 780.38 L595.15 784.3 L597.31 788.04 L599.48 791.27 L601.64 793.66 L603.8 795.03 L605.96 795.47 L608.12 795.28 L610.29 794.94 L612.45 794.88 L614.61 795.37 L616.77 796.4 L618.94 797.68 L621.1 798.88 L623.26 799.73 L625.42 800.04 L627.59 799.91 L629.75 799.59 L631.91 799.46 L634.08 799.75 L636.24 800.49 L638.4 801.45 L640.56 802.2 L642.73 802.31 L644.89 801.51 L647.05 799.79 L649.21 797.41 L651.38 794.84 L653.54 792.52 L655.7 790.77 L657.86 789.63 L660.02 788.89 L662.19 788.22 L664.35 787.27 L666.51 785.83 L668.67 783.89 L670.84 781.58 L673 778.91" fill="none" stroke="#555" stroke-width="0.55" stroke-opacity="0.55"/>
<path d="M586.5 780.24 L588.66 781.16 L590.83 782.3 L592.99 783.71 L595.15 785.53 L597.31 787.75 L599.48 790.19 L601.64 792.6 L603.8 794.74 L605.96 796.51 L608.12 797.92 L610.29 799.13 L612.45 800.3 L614.61 801.54 L616.77 802.82 L618.94 803.99 L621.1 804.82 L623.26 805.17 L625.42 805 L627.59 804.49 L629.75 803.98 L631.91 803.84 L634.08 804.37 L636.24 805.68 L638.4 807.36 L640.56 807.36 L642.73 807.36 L644.89 807.36 L647.05 807.36 L649.21 807.36 L651.38 807.36 L653.54 807.36 L655.7 807.15 L657.86 804.69 L660.02 802.05 L662.19 799.15 L664.35 795.93 L666.51 792.38 L668.67 788.62 L670.84 784.88 L673 781.69" fill="none" stroke="#555" stroke-width="0.55" stroke-opacity="0.55"/>
<path d="M586.5 770.97 L588.66 772.93 L590.83 774.6 L592.99 776.18 L595.15 777.72 L597.31 779.21 L599.48 780.61 L601.64 781.92 L603.8 783.15 L605.96 784.36 L608.12 785.64 L610.29 787.02 L612.45 788.51 L614.61 790.02 L616.77 791.42 L618.94 792.55 L621.1 793.3 L623.26 793.6 L625.42 793.53 L627.59 793.22 L629.75 792.86 L631.91 792.59 L634.08 792.55 L636.24 792.73 L638.4 793.09 L640.56 793.54 L642.73 793.99 L644.89 794.4 L647.05 794.77 L649.21 795.01 L651.38 795.03 L653.54 794.81 L655.7 794.33 L657.86 793.47 L660.02 792.13 L662.19 790.23 L664.35 787.73 L666.51 784.68 L668.67 781.19 L670.84 777.37 L673 773.31" fill="none" stroke="#555" stroke-width="0.55" stroke-opacity="0.55"/>
<path d="M586.5 771.33 L588.66 773.25 L590.83 775.05 L592.99 776.71 L595.15 778.22 L597.31 779.57 L599.48 780.83 L601.64 782.14 L603.8 783.68 L605.96 785.59 L608.12 787.89 L610.29 790.5 L612.45 793.18 L614.61 795.62 L616.77 797.57 L618.94 798.84 L621.1 799.45 L623.26 799.53 L625.42 799.35 L627.59 799.14 L629.75 799.08 L631.91 799.2 L634.08 799.45 L636.24 799.71 L638.4 799.87 L640.56 799.92 L642.73 799.88 L644.89 799.79 L647.05 799.76 L649.21 799.85 L651.38 800 L653.54 800.01 L655.7 799.65 L657.86 798.69 L660.02 797.02 L662.19 794.67 L664.35 791.77 L666.51 788.56 L668.67 785.26 L670.84 782.03 L673 779.06" fill="none" stroke="#555" stroke-width="0.55" stroke-opacity="0.55"/>
<path d="M586.5 781.49 L588.66 783.26 L590.83 785.3 L592.99 787.51 L595.15 789.71 L597.31 791.67 L599.48 793.2 L601.64 794.24 L603.8 794.95 L605.96 795.6 L608.12 796.46 L610.29 797.71 L612.45 799.34 L614.61 801.12 L616.77 802.7 L618.94 803.79 L621.1 804.24 L623.26 804.17 L625.42 803.87 L627.59 803.78 L629.75 804.23 L631.91 805.37 L634.08 807.08 L636.24 807.36 L638.4 807.36 L640.56 807.36 L642.73 807.36 L644.89 807.36 L647.05 807.36 L649.21 807.36 L651.38 807.36 L653.54 806.63 L655.7 805.53 L657.86 804.21 L660.02 802.41 L662.19 799.98 L664.35 796.96 L666.51 793.53 L668.67 789.95 L670.84 786.44 L673 783.13" fill="none" stroke="#555" stroke-width="0.55" stroke-opacity="0.55"/>
<path d="M586.5 773.65 L588.66 776.88 L590.83 780.05 L592.99 782.97 L595.15 785.59 L597.31 787.99 L599.48 790.3 L601.64 792.64 L603.8 795.04 L605.96 797.37 L608.12 799.46 L610.29 801.11 L612.45 802.21 L614.61 802.79 L616.77 803.03 L618.94 803.19 L621.1 803.53 L623.26 804.16 L625.42 805.03 L627.59 805.96 L629.75 806.65 L631.91 806.84 L634.08 806.37 L636.24 805.28 L638.4 803.8 L640.56 802.2 L642.73 800.78 L644.89 799.66 L647.05 798.85 L649.21 798.2 L651.38 797.51 L653.54 796.61 L655.7 795.47 L657.86 794.16 L660.02 792.84 L662.19 791.67 L664.35 790.74 L666.51 789.98 L668.67 789.24 L670.84 788.3 L673 786.96" fill="none" stroke="#555" stroke-width="0.55" stroke-opacity="0.55"/>
<path d="M586.5 780.12 L588.66 782.26 L590.83 784.27 L592.99 786.22 L595.15 788.02 L597.31 789.57 L599.48 790.82 L601.64 791.76 L603.8 792.5 L605.96 793.18 L608.12 793.95 L610.29 794.89 L612.45 796.02 L614.61 797.24 L616.77 798.41 L618.94 799.39 L621.1 800.08 L623.26 800.5 L625.42 800.7 L627.59 800.82 L629.75 800.96 L631.91 801.16 L634.08 801.39 L636.24 801.55 L638.4 801.54 L640.56 801.28 L642.73 800.79 L644.89 800.16 L647.05 799.55 L649.21 799.06 L651.38 798.57 L653.54 798.05 L655.7 797.43 L657.86 796.55 L660.02 795.24 L662.19 793.4 L664.35 790.97 L666.51 787.97 L668.67 784.47 L670.84 780.52 L673 776.02" fill="none" stroke="#555" stroke-width="0.55" stroke-opacity="0.55"/>
<path d="M586.5 772.87 L588.66 775.45 L590.83 777.79 L592.99 779.91 L595.15 781.81 L597.31 783.56 L599.48 785.27 L601.64 787.08 L603.8 789.04 L605.96 791.13 L608.12 793.22 L610.29 795.09 L612.45 796.52 L614.61 797.35 L616.77 797.53 L618.94 797.17 L621.1 796.46 L623.26 795.64 L625.42 794.89 L627.59 794.33 L629.75 793.96 L631.91 793.68 L634.08 793.37 L636.24 792.96 L638.4 792.45 L640.56 791.94 L642.73 791.52 L644.89 791.29 L647.05 791.23 L649.21 791.21 L651.38 791.06 L653.54 790.55 L655.7 789.53 L657.86 787.97 L660.02 785.93 L662.19 783.59 L664.35 781.15 L666.51 778.76 L668.67 776.51 L670.84 774.37 L673 772.33" fill="none" stroke="#555" stroke-width="0.55" stroke-opacity="0.55"/>
<path d="M586.5 777.26 L588.66 777.9 L590.83 778.78 L592.99 779.76 L595.15 780.97 L597.31 782.51 L599.48 784.37 L601.64 786.4 L603.8 788.31 L605.96 789.76 L608.12 790.49 L610.29 790.38 L612.45 789.53 L614.61 788.26 L616.77 786.93 L618.94 785.88 L621.1 785.28 L623.26 785.13 L625.42 785.25 L627.59 785.38 L629.75 785.34 L631.91 785.07 L634.08 784.66 L636.24 784.29 L638.4 784.16 L640.56 784.34 L642.73 784.74 L644.89 785.1 L647.05 785.11 L649.21 784.49 L651.38 783.14 L653.54 781.13 L655.7 778.74 L657.86 776.32 L660.02 774.19 L662.19 772.51 L664.35 771.28 L666.51 770.34 L668.67 769.45 L670.84 768.43 L673 767.32" fill="none" stroke="#555" stroke-width="0.55" stroke-opacity="0.55"/>
<path d="M586.5 780.47 L588.66 782.96 L590.83 785.23 L592.99 787.42 L595.15 789.33 L597.31 790.71 L599.48 791.39 L601.64 791.33 L603.8 790.73 L605.96 789.93 L608.12 789.33 L610.29 789.24 L612.45 789.8 L614.61 790.93 L616.77 792.38 L618.94 793.82 L621.1 795.02 L623.26 795.87 L625.42 796.47 L627.59 796.98 L629.75 797.62 L631.91 798.43 L634.08 799.34 L636.24 800.07 L638.4 800.32 L640.56 799.85 L642.73 798.62 L644.89 796.8 L647.05 794.75 L649.21 792.86 L651.38 791.49 L653.54 790.77 L655.7 790.6 L657.86 790.73 L660.02 790.81 L662.19 790.53 L664.35 789.74 L666.51 788.41 L668.67 786.66 L670.84 784.57 L673 781.86" fill="none" stroke="#555" stroke-width="0.55" stroke-opacity="0.55"/>
<path d="M586.5 782.07 L588.66 784.7 L590.83 787.24 L592.99 789.6 L595.15 791.58 L597.31 793.08 L599.48 794.09 L601.64 794.72 L603.8 795.18 L605.96 795.71 L608.12 796.48 L610.29 797.57 L612.45 798.95 L614.61 800.48 L616.77 802.02 L618.94 803.45 L621.1 804.73 L623.26 805.9 L625.42 807.01 L627.59 807.36 L629.75 807.36 L631.91 807.36 L634.08 807.36 L636.24 807.36 L638.4 807.36 L640.56 807.36 L642.73 806.15 L644.89 804 L647.05 801.89 L649.21 800.06 L651.38 798.59 L653.54 797.44 L655.7 796.44 L657.86 795.38 L660.02 794.1 L662.19 792.47 L664.35 790.46 L666.51 788.1 L668.67 785.41 L670.84 782.36 L673 778.74" fill="none" stroke="#555" stroke-width="0.55" stroke-opacity="0.55"/>
<path d="M586.5 776.31 L588.66 778.64 L590.83 780.98 L592.99 783.19 L595.15 785.25 L597.31 787.18 L599.48 789.07 L601.64 790.99 L603.8 793 L605.96 795.09 L608.12 797.18 L610.29 799.13 L612.45 800.77 L614.61 801.97 L616.77 802.7 L618.94 803.02 L621.1 803.05 L623.26 802.96 L625.42 802.89 L627.59 802.89 L629.75 802.96 L631.91 803 L634.08 802.9 L636.24 802.58 L638.4 802.04 L640.56 801.33 L642.73 800.52 L644.89 799.69 L647.05 798.86 L649.21 797.98 L651.38 796.94 L653.54 795.6 L655.7 793.87 L657.86 791.7 L660.02 789.16 L662.19 786.37 L664.35 783.47 L666.51 780.58 L668.67 777.76 L670.84 775.02 L673 772.44" fill="none" stroke="#555" stroke-width="0.55" stroke-opacity="0.55"/>
<path d="M586.5 771.09 L588.66 773.82 L590.83 776.36 L592.99 778.77 L595.15 781.27 L597.31 784.04 L599.48 787.09 L601.64 790.27 L603.8 793.25 L605.96 795.69 L608.12 797.32 L610.29 798.11 L612.45 798.25 L614.61 798.09 L616.77 798.04 L618.94 798.38 L621.1 799.2 L623.26 800.32 L625.42 801.44 L627.59 802.26 L629.75 802.62 L631.91 802.52 L634.08 802.2 L636.24 801.96 L638.4 802.05 L640.56 802.58 L642.73 803.38 L644.89 804.14 L647.05 804.43 L649.21 803.96 L651.38 802.62 L653.54 800.54 L655.7 798.06 L657.86 795.56 L660.02 793.35 L662.19 791.56 L664.35 790.11 L666.51 788.8 L668.67 787.38 L670.84 785.71 L673 783.82" fill="none" stroke="#555" stroke-width="0.55" stroke-opacity="0.55"/>
<path d="M586.5 777.19 L588.66 778.41 L590.83 779.41 L592.99 780.32 L595.15 781.19 L597.31 782 L599.48 782.69 L601.64 783.22 L603.8 783.59 L605.96 783.87 L608.12 784.19 L610.29 784.7 L612.45 785.51 L614.61 786.61 L616.77 787.92 L618.94 789.22 L621.1 790.29 L623.26 790.93 L625.42 791.07 L627.59 790.74 L629.75 790.1 L631.91 789.33 L634.08 788.58 L636.24 787.94 L638.4 787.39 L640.56 786.83 L642.73 786.19 L644.89 785.37 L647.05 784.41 L649.21 783.39 L651.38 782.43 L653.54 781.64 L655.7 781.04 L657.86 780.58 L660.02 780.13 L662.19 779.53 L664.35 778.67 L666.51 777.5 L668.67 776.07 L670.84 774.53 L673 773.03" fill="none" stroke="#555" stroke-width="0.55" stroke-opacity="0.55"/>
<path d="M586.5 780.9 L588.66 783.69 L590.83 785.91 L592.99 787.88 L595.15 789.52 L597.31 790.67 L599.48 791.26 L601.64 791.37 L603.8 791.25 L605.96 791.25 L608.12 791.69 L610.29 792.75 L612.45 794.34 L614.61 796.12 L616.77 797.64 L618.94 798.46 L621.1 798.36 L623.26 797.41 L625.42 795.88 L627.59 794.16 L629.75 792.67 L631.91 791.63 L634.08 791.03 L636.24 790.68 L638.4 790.27 L640.56 789.58 L642.73 788.54 L644.89 787.32 L647.05 786.2 L649.21 785.49 L651.38 785.38 L653.54 785.8 L655.7 786.5 L657.86 787.06 L660.02 787.12 L662.19 786.41 L664.35 784.93 L666.51 782.88 L668.67 780.55 L670.84 778.24 L673 775.92" fill="none" stroke="#555" stroke-width="0.55" stroke-opacity="0.55"/>
<path d="M586.5 785.13 L588.66 785.78 L590.83 785.81 L592.99 785.78 L595.15 786.05 L597.31 786.8 L599.48 787.97 L601.64 789.31 L603.8 790.48 L605.96 791.15 L608.12 791.19 L610.29 790.69 L612.45 789.93 L614.61 789.26 L616.77 788.91 L618.94 788.91 L621.1 789.06 L623.26 789 L625.42 788.42 L627.59 787.15 L629.75 785.3 L631.91 783.25 L634.08 781.51 L636.24 780.53 L638.4 780.57 L640.56 781.57 L642.73 783.16 L644.89 784.84 L647.05 786.14 L649.21 786.76 L651.38 786.61 L653.54 785.83 L655.7 784.76 L657.86 783.69 L660.02 782.76 L662.19 781.88 L664.35 780.86 L666.51 779.47 L668.67 777.6 L670.84 775.28 L673 772.63" fill="none" stroke="#555" stroke-width="0.55" stroke-opacity="0.55"/>
<path d="M586.5 771.15 L588.66 773.49 L590.83 775.69 L592.99 777.87 L595.15 780.14 L597.31 782.47 L599.48 784.68 L601.64 786.55 L603.8 787.9 L605.96 788.68 L608.12 789.06 L610.29 789.31 L612.45 789.79 L614.61 790.75 L616.77 792.23 L618.94 794.07 L621.1 795.93 L623.26 797.46 L625.42 798.44 L627.59 798.78 L629.75 798.61 L631.91 798.23 L634.08 797.93 L636.24 797.9 L638.4 798.14 L640.56 798.46 L642.73 798.56 L644.89 798.15 L647.05 797.13 L649.21 795.56 L651.38 793.7 L653.54 791.9 L655.7 790.42 L657.86 789.39 L660.02 788.73 L662.19 788.23 L664.35 787.6 L666.51 786.66 L668.67 785.35 L670.84 783.77 L673 782.15" fill="none" stroke="#555" stroke-width="0.55" stroke-opacity="0.55"/>
<path d="M586.5 774.5 L588.66 775.79 L590.83 777.27 L592.99 778.87 L595.15 780.49 L597.31 781.9 L599.48 782.89 L601.64 783.35 L603.8 783.3 L605.96 782.94 L608.12 782.54 L610.29 782.39 L612.45 782.67 L614.61 783.4 L616.77 784.43 L618.94 785.55 L621.1 786.54 L623.26 787.31 L625.42 787.9 L627.59 788.48 L629.75 789.24 L631.91 790.31 L634.08 791.65 L636.24 793.06 L638.4 794.24 L640.56 794.88 L642.73 794.79 L644.89 793.95 L647.05 792.57 L649.21 790.93 L651.38 789.38 L653.54 788.12 L655.7 787.24 L657.86 786.62 L660.02 786.08 L662.19 785.39 L664.35 784.43 L666.51 783.18 L668.67 781.72 L670.84 780.17 L673 778.52" fill="none" stroke="#555" stroke-width="0.55" stroke-opacity="0.55"/>
<path d="M586.5 779.43 L588.66 780.8 L590.83 782.44 L592.99 783.97 L595.15 785.33 L597.31 786.55 L599.48 787.73 L601.64 789.01 L603.8 790.45 L605.96 792.03 L608.12 793.64 L610.29 795.08 L612.45 796.22 L614.61 796.99 L616.77 797.48 L618.94 797.88 L621.1 798.44 L623.26 799.36 L625.42 800.7 L627.59 802.37 L629.75 804.14 L631.91 805.72 L634.08 806.87 L636.24 807.36 L638.4 807.36 L640.56 807.25 L642.73 806.82 L644.89 806.31 L647.05 805.69 L649.21 804.89 L651.38 803.78 L653.54 802.21 L655.7 800.11 L657.86 797.53 L660.02 794.6 L662.19 791.51 L664.35 788.44 L666.51 785.44 L668.67 782.48 L670.84 779.42 L673 776.23" fill="none" stroke="#555" stroke-width="0.55" stroke-opacity="0.55"/>
<path d="M586.5 774.6 L588.66 776.86 L590.83 778.97 L592.99 780.91 L595.15 782.69 L597.31 784.35 L599.48 785.93 L601.64 787.56 L603.8 789.36 L605.96 791.45 L608.12 793.85 L610.29 796.48 L612.45 799.14 L614.61 801.58 L616.77 803.53 L618.94 804.82 L621.1 805.44 L623.26 805.49 L625.42 805.18 L627.59 804.75 L629.75 804.36 L631.91 804.11 L634.08 803.96 L636.24 803.8 L638.4 803.54 L640.56 803.13 L642.73 802.58 L644.89 801.96 L647.05 801.36 L649.21 800.78 L651.38 800.19 L653.54 799.44 L655.7 798.33 L657.86 796.7 L660.02 794.45 L662.19 791.6 L664.35 788.31 L666.51 784.77 L668.67 781.23 L670.84 777.85 L673 774.93" fill="none" stroke="#555" stroke-width="0.55" stroke-opacity="0.55"/>
<path d="M586.5 777.9 L588.66 778.18 L590.83 778.43 L592.99 778.41 L595.15 778.1 L597.31 777.67 L599.48 777.35 L601.64 777.39 L603.8 777.95 L605.96 778.97 L608.12 780.22 L610.29 781.39 L612.45 782.17 L614.61 782.4 L616.77 782.13 L618.94 781.59 L621.1 781.12 L623.26 780.98 L625.42 781.29 L627.59 781.92 L629.75 782.6 L631.91 783 L634.08 782.87 L636.24 782.17 L638.4 781.07 L640.56 779.89 L642.73 778.98 L644.89 778.57 L647.05 778.67 L649.21 779.12 L651.38 779.58 L653.54 779.73 L655.7 779.39 L657.86 778.53 L660.02 777.33 L662.19 776.07 L664.35 775 L666.51 774.25 L668.67 773.8 L670.84 773.53 L673 773.35" fill="none" stroke="#555" stroke-width="0.55" stroke-opacity="0.55"/>
<path d="M586.5 769.64 L588.66 771.07 L590.83 772.77 L592.99 774.62 L595.15 776.45 L597.31 778.05 L599.48 779.26 L601.64 780.03 L603.8 780.45 L605.96 780.69 L608.12 780.91 L610.29 781.2 L612.45 781.57 L614.61 781.9 L616.77 782.07 L618.94 782 L621.1 781.71 L623.26 781.36 L625.42 781.2 L627.59 781.47 L629.75 782.31 L631.91 783.72 L634.08 785.48 L636.24 787.29 L638.4 788.83 L640.56 789.87 L642.73 790.33 L644.89 790.31 L647.05 790.03 L649.21 789.72 L651.38 789.56 L653.54 789.39 L655.7 789.06 L657.86 788.45 L660.02 787.42 L662.19 785.91 L664.35 783.96 L666.51 781.66 L668.67 779.1 L670.84 776.31 L673 773.13" fill="none" stroke="#555" stroke-width="0.55" stroke-opacity="0.55"/>
<path d="M586.5 773.07 L588.66 773.81 L590.83 775.08 L592.99 776.45 L595.15 777.67 L597.31 778.6 L599.48 779.25 L601.64 779.81 L603.8 780.5 L605.96 781.52 L608.12 782.87 L610.29 784.39 L612.45 785.76 L614.61 786.64 L616.77 786.83 L618.94 786.35 L621.1 785.47 L623.26 784.6 L625.42 784.14 L627.59 784.38 L629.75 785.3 L631.91 786.66 L634.08 788.06 L636.24 789.09 L638.4 789.52 L640.56 789.34 L642.73 788.77 L644.89 788.14 L647.05 787.79 L649.21 787.75 L651.38 787.94 L653.54 788.14 L655.7 788.04 L657.86 787.43 L660.02 786.24 L662.19 784.61 L664.35 782.8 L666.51 781.07 L668.67 779.58 L670.84 778.29 L673 777.2" fill="none" stroke="#555" stroke-width="0.55" stroke-opacity="0.55"/>
<path d="M586.5 777.02 L589.38 779.25 L592.27 781.35 L595.15 783.3 L598.03 785.12 L600.92 786.81 L603.8 788.35 L606.68 789.76 L609.57 791.03 L612.45 792.17 L615.33 793.17 L618.22 794.03 L621.1 794.75 L623.98 795.34 L626.87 795.79 L629.75 796.11 L632.63 796.29 L635.52 796.33 L638.4 796.17 L641.28 795.79 L644.17 795.2 L647.05 794.38 L649.93 793.33 L652.82 792.07 L655.7 790.59 L658.58 788.88 L661.47 786.95 L664.35 784.8 L667.23 782.43 L670.12 779.84 L673 777.02" fill="none" stroke="#3A6FE0" stroke-width="1.3"/>
<text x="595.2" y="769.5" font-size="10.3">Deviance: 51.2</text>
<line x1="581.4" y1="757.8" x2="581.4" y2="809.7" stroke="#444" stroke-width="1.2"/>
<line x1="579.2" y1="758.9" x2="581.4" y2="758.9" stroke="#444" stroke-width="0.9"/>
<text x="578.6" y="762.5" font-size="10.3" text-anchor="end">1.5</text>
<line x1="579.2" y1="778.6" x2="581.4" y2="778.6" stroke="#444" stroke-width="0.9"/>
<text x="578.6" y="782.2" font-size="10.3" text-anchor="end">1.0</text>
<line x1="579.2" y1="798.3" x2="581.4" y2="798.3" stroke="#444" stroke-width="0.9"/>
<text x="578.6" y="801.9" font-size="10.3" text-anchor="end">0.5</text>
<line x1="580.8" y1="810.4" x2="677.8" y2="810.4" stroke="#444" stroke-width="1.2"/>
<line x1="586.5" y1="810.4" x2="586.5" y2="813" stroke="#444" stroke-width="0.9"/>
<text x="585.5" y="823.3" font-size="10.2" text-anchor="middle">0</text>
<line x1="629.6" y1="810.4" x2="629.6" y2="813" stroke="#444" stroke-width="0.9"/>
<text x="631.6" y="823.3" font-size="10.2" text-anchor="middle">0.5</text>
<line x1="673" y1="810.4" x2="673" y2="813" stroke="#444" stroke-width="0.9"/>
<text x="672" y="823.3" font-size="10.2" text-anchor="middle">1</text>
<text x="588.4" y="835.3" font-size="10.6">Normalized distance</text>
<text x="556.9" y="704.4" font-size="10.5" text-anchor="middle" transform="rotate(-90 556.9 704.4)">Intensity compared to bleb membrane</text>
</g>
</svg></div>
</body></html>
